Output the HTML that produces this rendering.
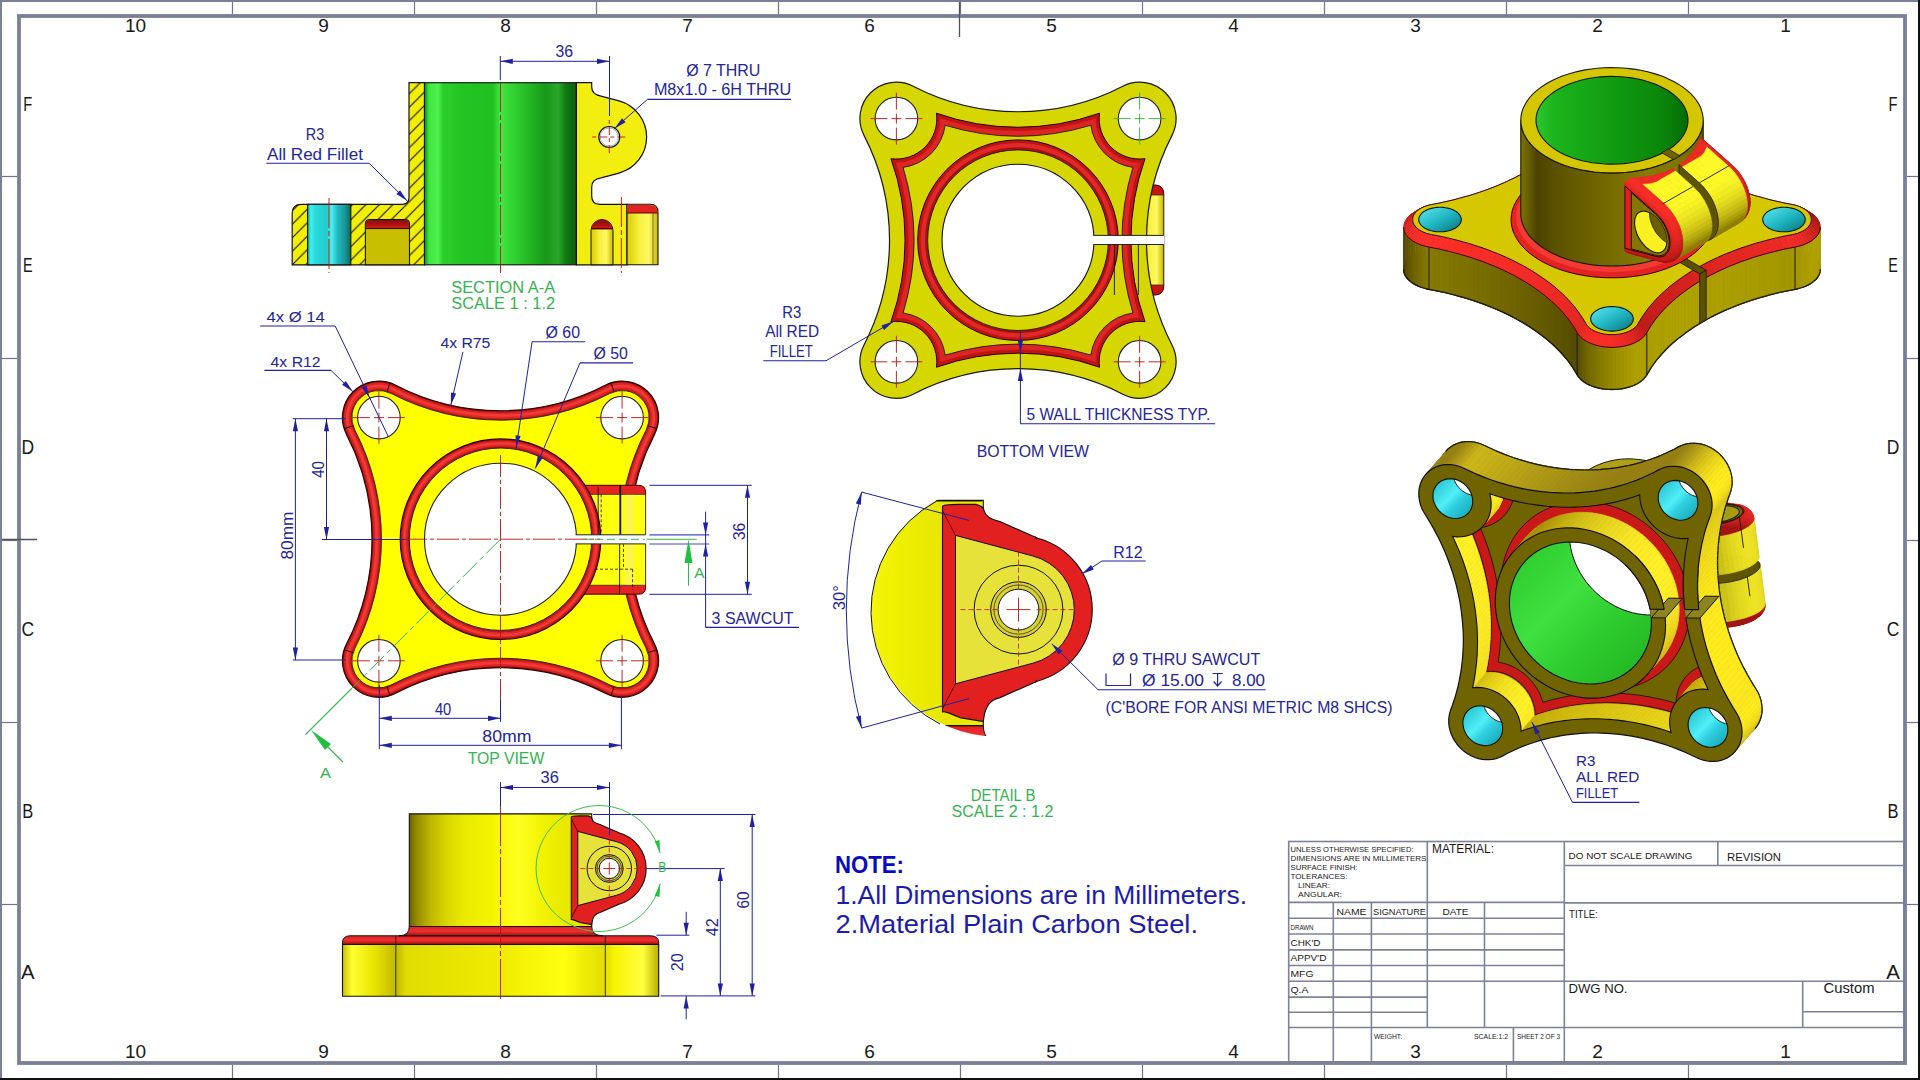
<!DOCTYPE html>
<html><head><meta charset="utf-8"><style>
html,body{margin:0;padding:0;background:#fff;}
svg{display:block;}
text{font-family:"Liberation Sans", sans-serif;}
</style></head><body>
<svg width="1920" height="1080" viewBox="0 0 1920 1080">
<rect width="1920" height="1080" fill="#fff"/>
<rect x="1288.7" y="841.5" width="615.3" height="220.5" fill="#fff" stroke="#7d8299" stroke-width="1.6"/>
<line x1="1427.3" y1="841.5" x2="1427.3" y2="1027.5" stroke="#7d8299" stroke-width="1.6" />
<line x1="1564.3" y1="841.5" x2="1564.3" y2="1062.0" stroke="#7d8299" stroke-width="1.6" />
<line x1="1333.3" y1="902.4" x2="1333.3" y2="1062.0" stroke="#7d8299" stroke-width="1.6" />
<line x1="1371.4" y1="902.4" x2="1371.4" y2="1062.0" stroke="#7d8299" stroke-width="1.6" />
<line x1="1484.5" y1="902.4" x2="1484.5" y2="1027.5" stroke="#7d8299" stroke-width="1.6" />
<line x1="1513.4" y1="1027.5" x2="1513.4" y2="1062.0" stroke="#7d8299" stroke-width="1.6" />
<line x1="1717.8" y1="841.5" x2="1717.8" y2="865.5" stroke="#7d8299" stroke-width="1.6" />
<line x1="1802.7" y1="981.3" x2="1802.7" y2="1027.5" stroke="#7d8299" stroke-width="1.6" />
<line x1="1288.7" y1="902.4" x2="1564.3" y2="902.4" stroke="#7d8299" stroke-width="1.6" />
<line x1="1288.7" y1="918.3" x2="1564.3" y2="918.3" stroke="#7d8299" stroke-width="1.6" />
<line x1="1288.7" y1="934.0" x2="1564.3" y2="934.0" stroke="#7d8299" stroke-width="1.6" />
<line x1="1288.7" y1="949.9" x2="1564.3" y2="949.9" stroke="#7d8299" stroke-width="1.6" />
<line x1="1288.7" y1="965.5" x2="1564.3" y2="965.5" stroke="#7d8299" stroke-width="1.6" />
<line x1="1288.7" y1="981.2" x2="1564.3" y2="981.2" stroke="#7d8299" stroke-width="1.6" />
<line x1="1288.7" y1="997.1" x2="1427.3" y2="997.1" stroke="#7d8299" stroke-width="1.6" />
<line x1="1288.7" y1="1012.3" x2="1427.3" y2="1012.3" stroke="#7d8299" stroke-width="1.6" />
<line x1="1288.7" y1="1027.5" x2="1904.0" y2="1027.5" stroke="#7d8299" stroke-width="1.6" />
<line x1="1564.3" y1="865.5" x2="1904.0" y2="865.5" stroke="#7d8299" stroke-width="1.6" />
<line x1="1564.3" y1="902.9" x2="1904.0" y2="902.9" stroke="#7d8299" stroke-width="1.6" />
<line x1="1564.3" y1="981.3" x2="1904.0" y2="981.3" stroke="#7d8299" stroke-width="1.6" />
<line x1="1802.7" y1="1011.7" x2="1904.0" y2="1011.7" stroke="#7d8299" stroke-width="1.6" />
<text x="1290.5" y="852.3" font-size="7.6" fill="#1a1a1a" text-anchor="start" font-weight="normal" font-family="Liberation Sans, sans-serif" textLength="123" lengthAdjust="spacingAndGlyphs" >UNLESS OTHERWISE SPECIFIED:</text>
<text x="1290.5" y="861.3" font-size="7.6" fill="#1a1a1a" text-anchor="start" font-weight="normal" font-family="Liberation Sans, sans-serif" textLength="136" lengthAdjust="spacingAndGlyphs" >DIMENSIONS ARE IN MILLIMETERS</text>
<text x="1290.5" y="870.3" font-size="7.6" fill="#1a1a1a" text-anchor="start" font-weight="normal" font-family="Liberation Sans, sans-serif" textLength="67" lengthAdjust="spacingAndGlyphs" >SURFACE FINISH:</text>
<text x="1290.5" y="879.3" font-size="7.6" fill="#1a1a1a" text-anchor="start" font-weight="normal" font-family="Liberation Sans, sans-serif" textLength="57" lengthAdjust="spacingAndGlyphs" >TOLERANCES:</text>
<text x="1298.0" y="888.3" font-size="7.6" fill="#1a1a1a" text-anchor="start" font-weight="normal" font-family="Liberation Sans, sans-serif" textLength="32" lengthAdjust="spacingAndGlyphs" >LINEAR:</text>
<text x="1298.0" y="897.3" font-size="7.6" fill="#1a1a1a" text-anchor="start" font-weight="normal" font-family="Liberation Sans, sans-serif" textLength="44" lengthAdjust="spacingAndGlyphs" >ANGULAR:</text>
<text x="1432.0" y="852.5" font-size="12.5" fill="#1a1a1a" text-anchor="start" font-weight="normal" font-family="Liberation Sans, sans-serif" textLength="62" lengthAdjust="spacingAndGlyphs" >MATERIAL:</text>
<text x="1336.5" y="915.2" font-size="9.5" fill="#1a1a1a" text-anchor="start" font-weight="normal" font-family="Liberation Sans, sans-serif" textLength="30" lengthAdjust="spacingAndGlyphs" >NAME</text>
<text x="1373.0" y="915.2" font-size="9.5" fill="#1a1a1a" text-anchor="start" font-weight="normal" font-family="Liberation Sans, sans-serif" textLength="53" lengthAdjust="spacingAndGlyphs" >SIGNATURE</text>
<text x="1442.5" y="915.2" font-size="9.5" fill="#1a1a1a" text-anchor="start" font-weight="normal" font-family="Liberation Sans, sans-serif" textLength="26" lengthAdjust="spacingAndGlyphs" >DATE</text>
<text x="1290.5" y="929.5" font-size="7.5" fill="#1a1a1a" text-anchor="start" font-weight="normal" font-family="Liberation Sans, sans-serif" textLength="23" lengthAdjust="spacingAndGlyphs" >DRAWN</text>
<text x="1290.5" y="945.5" font-size="9.5" fill="#1a1a1a" text-anchor="start" font-weight="normal" font-family="Liberation Sans, sans-serif" textLength="30" lengthAdjust="spacingAndGlyphs" >CHK'D</text>
<text x="1290.5" y="961.0" font-size="9.5" fill="#1a1a1a" text-anchor="start" font-weight="normal" font-family="Liberation Sans, sans-serif" textLength="36" lengthAdjust="spacingAndGlyphs" >APPV'D</text>
<text x="1290.5" y="976.8" font-size="9.5" fill="#1a1a1a" text-anchor="start" font-weight="normal" font-family="Liberation Sans, sans-serif" textLength="23" lengthAdjust="spacingAndGlyphs" >MFG</text>
<text x="1290.5" y="992.5" font-size="9.5" fill="#1a1a1a" text-anchor="start" font-weight="normal" font-family="Liberation Sans, sans-serif" textLength="18" lengthAdjust="spacingAndGlyphs" >Q.A</text>
<text x="1374.0" y="1038.5" font-size="7.5" fill="#1a1a1a" text-anchor="start" font-weight="normal" font-family="Liberation Sans, sans-serif" textLength="28" lengthAdjust="spacingAndGlyphs" >WEIGHT:</text>
<text x="1474.0" y="1038.5" font-size="7.5" fill="#1a1a1a" text-anchor="start" font-weight="normal" font-family="Liberation Sans, sans-serif" textLength="34" lengthAdjust="spacingAndGlyphs" >SCALE:1:2</text>
<text x="1517.0" y="1038.5" font-size="7.5" fill="#1a1a1a" text-anchor="start" font-weight="normal" font-family="Liberation Sans, sans-serif" textLength="43" lengthAdjust="spacingAndGlyphs" >SHEET 2 OF 3</text>
<text x="1568.5" y="859.0" font-size="9.3" fill="#1a1a1a" text-anchor="start" font-weight="normal" font-family="Liberation Sans, sans-serif" textLength="124" lengthAdjust="spacingAndGlyphs" >DO NOT SCALE DRAWING</text>
<text x="1727.0" y="861.0" font-size="11" fill="#1a1a1a" text-anchor="start" font-weight="normal" font-family="Liberation Sans, sans-serif" textLength="54" lengthAdjust="spacingAndGlyphs" >REVISION</text>
<text x="1569.0" y="917.5" font-size="11.5" fill="#1a1a1a" text-anchor="start" font-weight="normal" font-family="Liberation Sans, sans-serif" textLength="29" lengthAdjust="spacingAndGlyphs" >TITLE:</text>
<text x="1568.5" y="993.0" font-size="12.5" fill="#1a1a1a" text-anchor="start" font-weight="normal" font-family="Liberation Sans, sans-serif" textLength="59" lengthAdjust="spacingAndGlyphs" >DWG NO.</text>
<text x="1823.5" y="993.0" font-size="14.5" fill="#1a1a1a" text-anchor="start" font-weight="normal" font-family="Liberation Sans, sans-serif" textLength="51" lengthAdjust="spacingAndGlyphs" >Custom</text>
<rect x="0" y="0" width="1920" height="2" fill="#7a8096"/>
<rect x="0" y="0" width="2" height="1080" fill="#7a8096"/>
<rect x="1918" y="0" width="2" height="1080" fill="#111"/>
<rect x="0" y="1078" width="1920" height="2" fill="#111"/>
<rect x="19" y="16" width="1886" height="1047" fill="none" stroke="#7a8096" stroke-width="3.8"/>
<line x1="232.5" y1="2.0" x2="232.5" y2="14.0" stroke="#707488" stroke-width="1.2" />
<line x1="232.5" y1="1065.0" x2="232.5" y2="1078.0" stroke="#707488" stroke-width="1.2" />
<line x1="414.5" y1="2.0" x2="414.5" y2="14.0" stroke="#707488" stroke-width="1.2" />
<line x1="414.5" y1="1065.0" x2="414.5" y2="1078.0" stroke="#707488" stroke-width="1.2" />
<line x1="596.5" y1="2.0" x2="596.5" y2="14.0" stroke="#707488" stroke-width="1.2" />
<line x1="596.5" y1="1065.0" x2="596.5" y2="1078.0" stroke="#707488" stroke-width="1.2" />
<line x1="778.5" y1="2.0" x2="778.5" y2="14.0" stroke="#707488" stroke-width="1.2" />
<line x1="778.5" y1="1065.0" x2="778.5" y2="1078.0" stroke="#707488" stroke-width="1.2" />
<line x1="960.5" y1="2.0" x2="960.5" y2="14.0" stroke="#707488" stroke-width="1.2" />
<line x1="960.5" y1="1065.0" x2="960.5" y2="1078.0" stroke="#707488" stroke-width="1.2" />
<line x1="1142.5" y1="2.0" x2="1142.5" y2="14.0" stroke="#707488" stroke-width="1.2" />
<line x1="1142.5" y1="1065.0" x2="1142.5" y2="1078.0" stroke="#707488" stroke-width="1.2" />
<line x1="1324.5" y1="2.0" x2="1324.5" y2="14.0" stroke="#707488" stroke-width="1.2" />
<line x1="1324.5" y1="1065.0" x2="1324.5" y2="1078.0" stroke="#707488" stroke-width="1.2" />
<line x1="1506.5" y1="2.0" x2="1506.5" y2="14.0" stroke="#707488" stroke-width="1.2" />
<line x1="1506.5" y1="1065.0" x2="1506.5" y2="1078.0" stroke="#707488" stroke-width="1.2" />
<line x1="1688.5" y1="2.0" x2="1688.5" y2="14.0" stroke="#707488" stroke-width="1.2" />
<line x1="1688.5" y1="1065.0" x2="1688.5" y2="1078.0" stroke="#707488" stroke-width="1.2" />
<line x1="2.0" y1="176.5" x2="17.0" y2="176.5" stroke="#707488" stroke-width="1.2" />
<line x1="1907.0" y1="176.5" x2="1918.0" y2="176.5" stroke="#707488" stroke-width="1.2" />
<line x1="2.0" y1="358.5" x2="17.0" y2="358.5" stroke="#707488" stroke-width="1.2" />
<line x1="1907.0" y1="358.5" x2="1918.0" y2="358.5" stroke="#707488" stroke-width="1.2" />
<line x1="2.0" y1="540.5" x2="17.0" y2="540.5" stroke="#707488" stroke-width="1.2" />
<line x1="1907.0" y1="540.5" x2="1918.0" y2="540.5" stroke="#707488" stroke-width="1.2" />
<line x1="2.0" y1="722.5" x2="17.0" y2="722.5" stroke="#707488" stroke-width="1.2" />
<line x1="1907.0" y1="722.5" x2="1918.0" y2="722.5" stroke="#707488" stroke-width="1.2" />
<line x1="2.0" y1="904.5" x2="17.0" y2="904.5" stroke="#707488" stroke-width="1.2" />
<line x1="1907.0" y1="904.5" x2="1918.0" y2="904.5" stroke="#707488" stroke-width="1.2" />
<line x1="959.5" y1="2.0" x2="959.5" y2="37.0" stroke="#505260" stroke-width="1.3" />
<line x1="2.0" y1="539.5" x2="37.0" y2="539.5" stroke="#505260" stroke-width="1.3" />
<text x="135.5" y="32.0" font-size="19" fill="#1a1a1a" text-anchor="middle" font-weight="normal" font-family="Liberation Sans, sans-serif" >10</text>
<text x="135.5" y="1057.8" font-size="19" fill="#1a1a1a" text-anchor="middle" font-weight="normal" font-family="Liberation Sans, sans-serif" >10</text>
<text x="323.5" y="32.0" font-size="19" fill="#1a1a1a" text-anchor="middle" font-weight="normal" font-family="Liberation Sans, sans-serif" >9</text>
<text x="323.5" y="1057.8" font-size="19" fill="#1a1a1a" text-anchor="middle" font-weight="normal" font-family="Liberation Sans, sans-serif" >9</text>
<text x="505.5" y="32.0" font-size="19" fill="#1a1a1a" text-anchor="middle" font-weight="normal" font-family="Liberation Sans, sans-serif" >8</text>
<text x="505.5" y="1057.8" font-size="19" fill="#1a1a1a" text-anchor="middle" font-weight="normal" font-family="Liberation Sans, sans-serif" >8</text>
<text x="687.5" y="32.0" font-size="19" fill="#1a1a1a" text-anchor="middle" font-weight="normal" font-family="Liberation Sans, sans-serif" >7</text>
<text x="687.5" y="1057.8" font-size="19" fill="#1a1a1a" text-anchor="middle" font-weight="normal" font-family="Liberation Sans, sans-serif" >7</text>
<text x="869.5" y="32.0" font-size="19" fill="#1a1a1a" text-anchor="middle" font-weight="normal" font-family="Liberation Sans, sans-serif" >6</text>
<text x="869.5" y="1057.8" font-size="19" fill="#1a1a1a" text-anchor="middle" font-weight="normal" font-family="Liberation Sans, sans-serif" >6</text>
<text x="1051.5" y="32.0" font-size="19" fill="#1a1a1a" text-anchor="middle" font-weight="normal" font-family="Liberation Sans, sans-serif" >5</text>
<text x="1051.5" y="1057.8" font-size="19" fill="#1a1a1a" text-anchor="middle" font-weight="normal" font-family="Liberation Sans, sans-serif" >5</text>
<text x="1233.5" y="32.0" font-size="19" fill="#1a1a1a" text-anchor="middle" font-weight="normal" font-family="Liberation Sans, sans-serif" >4</text>
<text x="1233.5" y="1057.8" font-size="19" fill="#1a1a1a" text-anchor="middle" font-weight="normal" font-family="Liberation Sans, sans-serif" >4</text>
<text x="1415.5" y="32.0" font-size="19" fill="#1a1a1a" text-anchor="middle" font-weight="normal" font-family="Liberation Sans, sans-serif" >3</text>
<text x="1415.5" y="1057.8" font-size="19" fill="#1a1a1a" text-anchor="middle" font-weight="normal" font-family="Liberation Sans, sans-serif" >3</text>
<text x="1597.5" y="32.0" font-size="19" fill="#1a1a1a" text-anchor="middle" font-weight="normal" font-family="Liberation Sans, sans-serif" >2</text>
<text x="1597.5" y="1057.8" font-size="19" fill="#1a1a1a" text-anchor="middle" font-weight="normal" font-family="Liberation Sans, sans-serif" >2</text>
<text x="1785.5" y="32.0" font-size="19" fill="#1a1a1a" text-anchor="middle" font-weight="normal" font-family="Liberation Sans, sans-serif" >1</text>
<text x="1785.5" y="1057.8" font-size="19" fill="#1a1a1a" text-anchor="middle" font-weight="normal" font-family="Liberation Sans, sans-serif" >1</text>
<text x="27.7" y="110.5" font-size="19.5" fill="#1a1a1a" text-anchor="middle" font-weight="normal" font-family="Liberation Sans, sans-serif" textLength="9.0" lengthAdjust="spacingAndGlyphs" >F</text>
<text x="1893.1" y="110.5" font-size="19.5" fill="#1a1a1a" text-anchor="middle" font-weight="normal" font-family="Liberation Sans, sans-serif" textLength="9.0" lengthAdjust="spacingAndGlyphs" >F</text>
<text x="27.7" y="271.6" font-size="19.5" fill="#1a1a1a" text-anchor="middle" font-weight="normal" font-family="Liberation Sans, sans-serif" textLength="9.6" lengthAdjust="spacingAndGlyphs" >E</text>
<text x="1893.1" y="271.6" font-size="19.5" fill="#1a1a1a" text-anchor="middle" font-weight="normal" font-family="Liberation Sans, sans-serif" textLength="9.6" lengthAdjust="spacingAndGlyphs" >E</text>
<text x="27.7" y="453.5" font-size="19.5" fill="#1a1a1a" text-anchor="middle" font-weight="normal" font-family="Liberation Sans, sans-serif" textLength="12.6" lengthAdjust="spacingAndGlyphs" >D</text>
<text x="1893.1" y="453.5" font-size="19.5" fill="#1a1a1a" text-anchor="middle" font-weight="normal" font-family="Liberation Sans, sans-serif" textLength="12.6" lengthAdjust="spacingAndGlyphs" >D</text>
<text x="27.7" y="635.5" font-size="19.5" fill="#1a1a1a" text-anchor="middle" font-weight="normal" font-family="Liberation Sans, sans-serif" textLength="12.6" lengthAdjust="spacingAndGlyphs" >C</text>
<text x="1893.1" y="635.5" font-size="19.5" fill="#1a1a1a" text-anchor="middle" font-weight="normal" font-family="Liberation Sans, sans-serif" textLength="12.6" lengthAdjust="spacingAndGlyphs" >C</text>
<text x="27.7" y="817.5" font-size="19.5" fill="#1a1a1a" text-anchor="middle" font-weight="normal" font-family="Liberation Sans, sans-serif" textLength="11.0" lengthAdjust="spacingAndGlyphs" >B</text>
<text x="1893.1" y="817.5" font-size="19.5" fill="#1a1a1a" text-anchor="middle" font-weight="normal" font-family="Liberation Sans, sans-serif" textLength="11.0" lengthAdjust="spacingAndGlyphs" >B</text>
<text x="27.7" y="978.5" font-size="19.5" fill="#1a1a1a" text-anchor="middle" font-weight="normal" font-family="Liberation Sans, sans-serif" textLength="13.6" lengthAdjust="spacingAndGlyphs" >A</text>
<text x="1893.1" y="978.5" font-size="19.5" fill="#1a1a1a" text-anchor="middle" font-weight="normal" font-family="Liberation Sans, sans-serif" textLength="13.6" lengthAdjust="spacingAndGlyphs" >A</text>
<text x="835.0" y="873.0" font-size="24" fill="#0a0ac0" text-anchor="start" font-weight="bold" font-family="Liberation Sans, sans-serif" textLength="69" lengthAdjust="spacingAndGlyphs" >NOTE:</text>
<text x="835.5" y="903.8" font-size="25.8" fill="#1c1cb0" text-anchor="start" font-weight="normal" font-family="Liberation Sans, sans-serif" textLength="411.5" lengthAdjust="spacingAndGlyphs" >1.All Dimensions are in Millimeters.</text>
<text x="835.5" y="932.6" font-size="25.8" fill="#1c1cb0" text-anchor="start" font-weight="normal" font-family="Liberation Sans, sans-serif" textLength="362.5" lengthAdjust="spacingAndGlyphs" >2.Material Plain Carbon Steel.</text>
<defs>
<linearGradient id="gCyan" x1="0" x2="1" y1="0" y2="0">
 <stop offset="0" stop-color="#1fa8a8"/><stop offset="0.08" stop-color="#40f0f0"/><stop offset="0.18" stop-color="#2adada"/>
 <stop offset="0.45" stop-color="#20cccc"/><stop offset="0.55" stop-color="#50f0f0"/><stop offset="0.7" stop-color="#20b8c0"/>
 <stop offset="0.85" stop-color="#1a9a9a"/><stop offset="1" stop-color="#0e6868"/></linearGradient>
<linearGradient id="gGreen" x1="0" x2="1" y1="0" y2="0">
 <stop offset="0" stop-color="#10900e"/><stop offset="0.03" stop-color="#40e840"/><stop offset="0.09" stop-color="#50f050"/>
 <stop offset="0.12" stop-color="#2cd02c"/><stop offset="0.25" stop-color="#22c422"/><stop offset="0.45" stop-color="#20c020"/>
 <stop offset="0.5" stop-color="#44e844"/><stop offset="0.56" stop-color="#34d834"/><stop offset="0.7" stop-color="#22b422"/>
 <stop offset="0.8" stop-color="#189818"/><stop offset="0.88" stop-color="#2aa82a"/><stop offset="0.93" stop-color="#127812"/><stop offset="1" stop-color="#0c600c"/></linearGradient>
<linearGradient id="gPocket" x1="0" x2="1" y1="0" y2="0">
 <stop offset="0" stop-color="#c8c000"/><stop offset="1" stop-color="#d0c410"/></linearGradient>
<linearGradient id="gRedTop" x1="0" x2="0" y1="0" y2="1">
 <stop offset="0" stop-color="#801010"/><stop offset="0.5" stop-color="#b01010"/><stop offset="1" stop-color="#d02020"/></linearGradient>
<linearGradient id="gTubeF" x1="0" x2="1" y1="0" y2="0">
 <stop offset="0" stop-color="#6c6000"/><stop offset="0.04" stop-color="#948a00"/><stop offset="0.12" stop-color="#c0b800"/>
 <stop offset="0.2" stop-color="#d8d400"/><stop offset="0.3" stop-color="#eaea00"/><stop offset="0.45" stop-color="#f4f400"/>
 <stop offset="0.6" stop-color="#ffff20"/><stop offset="0.75" stop-color="#f0f000"/><stop offset="0.9" stop-color="#e6e600"/><stop offset="1" stop-color="#eeee00"/></linearGradient>
<linearGradient id="gFlangeF" x1="0" x2="1" y1="0" y2="0">
 <stop offset="0" stop-color="#c8c000"/><stop offset="0.03" stop-color="#ffff30"/><stop offset="0.1" stop-color="#e8e400"/>
 <stop offset="0.17" stop-color="#c0b800"/><stop offset="0.2" stop-color="#e0dc00"/><stop offset="0.5" stop-color="#f0ec00"/>
 <stop offset="0.7" stop-color="#ffff10"/><stop offset="0.83" stop-color="#e0dc00"/><stop offset="0.86" stop-color="#f8f400"/><stop offset="0.95" stop-color="#ffff40"/><stop offset="1" stop-color="#b8b000"/></linearGradient>
<linearGradient id="gLugSide" x1="0" x2="1" y1="0" y2="0">
 <stop offset="0" stop-color="#d8cc00"/><stop offset="0.4" stop-color="#f8f040"/><stop offset="0.7" stop-color="#fff860"/><stop offset="1" stop-color="#c8b800"/></linearGradient>
<linearGradient id="gRedV" x1="0" x2="0" y1="0" y2="1">
 <stop offset="0" stop-color="#e02020"/><stop offset="0.5" stop-color="#f03030"/><stop offset="1" stop-color="#a01010"/></linearGradient>
</defs>
<path d="M395.67,385.20 A228.00,228.00 0 0 0 605.33,385.20 A36.48,36.48 0 0 1 654.50,434.37 L654.50,434.37 A228.00,228.00 0 0 0 654.50,644.03 A36.48,36.48 0 0 1 605.33,693.20 L605.33,693.20 A228.00,228.00 0 0 0 395.67,693.20 A36.48,36.48 0 0 1 346.50,644.03 L346.50,644.03 A228.00,228.00 0 0 0 346.50,434.37 A36.48,36.48 0 0 1 395.67,385.20 Z" fill="#a81010" stroke="#2a0000" stroke-width="1.2"/>
<path d="M394.97,386.55 A229.52,229.52 0 0 0 606.03,386.55 A34.96,34.96 0 0 1 653.15,433.67 L653.15,433.67 A229.52,229.52 0 0 0 653.15,644.73 A34.96,34.96 0 0 1 606.03,691.85 L606.03,691.85 A229.52,229.52 0 0 0 394.97,691.85 A34.96,34.96 0 0 1 347.85,644.73 L347.85,644.73 A229.52,229.52 0 0 0 347.85,433.67 A34.96,34.96 0 0 1 394.97,386.55 Z" fill="#d82222"/>
<path d="M394.13,388.17 A231.34,231.34 0 0 0 606.87,388.17 A33.14,33.14 0 0 1 651.53,432.83 L651.53,432.83 A231.34,231.34 0 0 0 651.53,645.57 A33.14,33.14 0 0 1 606.87,690.23 L606.87,690.23 A231.34,231.34 0 0 0 394.13,690.23 A33.14,33.14 0 0 1 349.47,645.57 L349.47,645.57 A231.34,231.34 0 0 0 349.47,432.83 A33.14,33.14 0 0 1 394.13,388.17 Z" fill="#f03a36"/>
<path d="M392.88,390.60 A234.08,234.08 0 0 0 608.12,390.60 A30.40,30.40 0 0 1 649.10,431.58 L649.10,431.58 A234.08,234.08 0 0 0 649.10,646.82 A30.40,30.40 0 0 1 608.12,687.80 L608.12,687.80 A234.08,234.08 0 0 0 392.88,687.80 A30.40,30.40 0 0 1 351.90,646.82 L351.90,646.82 A234.08,234.08 0 0 0 351.90,431.58 A30.40,30.40 0 0 1 392.88,390.60 Z" fill="#e02626"/>
<path d="M392.04,392.22 A235.90,235.90 0 0 0 608.96,392.22 A28.58,28.58 0 0 1 647.48,430.74 L647.48,430.74 A235.90,235.90 0 0 0 647.48,647.66 A28.58,28.58 0 0 1 608.96,686.18 L608.96,686.18 A235.90,235.90 0 0 0 392.04,686.18 A28.58,28.58 0 0 1 353.52,647.66 L353.52,647.66 A235.90,235.90 0 0 0 353.52,430.74 A28.58,28.58 0 0 1 392.04,392.22 Z" fill="#b81414"/>
<path d="M391.34,393.57 A237.42,237.42 0 0 0 609.66,393.57 A27.06,27.06 0 0 1 646.13,430.04 L646.13,430.04 A237.42,237.42 0 0 0 646.13,648.36 A27.06,27.06 0 0 1 609.66,684.83 L609.66,684.83 A237.42,237.42 0 0 0 391.34,684.83 A27.06,27.06 0 0 1 354.87,648.36 L354.87,648.36 A237.42,237.42 0 0 0 354.87,430.04 A27.06,27.06 0 0 1 391.34,393.57 Z" fill="#ffff00" stroke="#2a2000" stroke-width="0.9"/>
<line x1="656.9" y1="649.8" x2="647.9" y2="652.6" stroke="#2a0000" stroke-width="1"/>
<line x1="611.1" y1="695.6" x2="613.9" y2="686.6" stroke="#2a0000" stroke-width="1"/>
<line x1="389.9" y1="695.6" x2="387.1" y2="686.6" stroke="#2a0000" stroke-width="1"/>
<line x1="344.1" y1="649.8" x2="353.1" y2="652.6" stroke="#2a0000" stroke-width="1"/>
<line x1="344.1" y1="428.6" x2="353.1" y2="425.8" stroke="#2a0000" stroke-width="1"/>
<line x1="389.9" y1="382.8" x2="387.1" y2="391.8" stroke="#2a0000" stroke-width="1"/>
<line x1="611.1" y1="382.8" x2="613.9" y2="391.8" stroke="#2a0000" stroke-width="1"/>
<line x1="656.9" y1="428.6" x2="647.9" y2="425.8" stroke="#2a0000" stroke-width="1"/>
<circle cx="378.9" cy="417.6" r="21.3" fill="#fff" stroke="#222" stroke-width="1.1"/>
<circle cx="378.9" cy="660.8" r="21.3" fill="#fff" stroke="#222" stroke-width="1.1"/>
<circle cx="622.1" cy="417.6" r="21.3" fill="#fff" stroke="#222" stroke-width="1.1"/>
<circle cx="622.1" cy="660.8" r="21.3" fill="#fff" stroke="#222" stroke-width="1.1"/>
<path d="M570.0,485.3 L638.6,485.3 Q645.6,485.3 645.6,492.3 L645.6,587.2 Q645.6,594.2 638.6,594.2 L570.0,594.2 Z" fill="#e42424" stroke="#3a0000" stroke-width="1"/>
<rect x="570.0" y="494.3" width="75.60000000000002" height="90.90000000000003" fill="#ffff10" stroke="#3a3000" stroke-width="0.8"/>
<rect x="625.0" y="494.8" width="9" height="89.90000000000003" fill="#f8f070" opacity="0.6"/>
<circle cx="500.5" cy="539.2" r="100.3" fill="#a81010" stroke="#2a0000" stroke-width="1.1"/>
<circle cx="500.5" cy="539.2" r="98.8" fill="#d82222"/>
<circle cx="500.5" cy="539.2" r="97.3" fill="#f03a36"/>
<circle cx="500.5" cy="539.2" r="94.8" fill="#e02626"/>
<circle cx="500.5" cy="539.2" r="93.0" fill="#b81414"/>
<circle cx="500.5" cy="539.2" r="91.2" fill="#ffff00" stroke="#222" stroke-width="1"/>
<circle cx="500.5" cy="539.2" r="76.0" fill="#fff" stroke="#222" stroke-width="1.1"/>
<line x1="598.2" y1="487.3" x2="598.2" y2="534.8" stroke="#111" stroke-width="0.9" />
<line x1="601.2" y1="494.3" x2="601.2" y2="534.8" stroke="#111" stroke-width="0.8" stroke-dasharray="3,2" />
<line x1="620.3" y1="485.3" x2="620.3" y2="534.8" stroke="#111" stroke-width="1.8" />
<line x1="619.6" y1="543.9" x2="619.6" y2="594.2" stroke="#111" stroke-width="0.9" />
<line x1="623.5" y1="543.9" x2="623.5" y2="569.2" stroke="#111" stroke-width="0.8" stroke-dasharray="3,2" />
<line x1="595.0" y1="569.2" x2="632.6" y2="569.2" stroke="#111" stroke-width="0.8" stroke-dasharray="3,2" />
<line x1="632.6" y1="569.2" x2="632.6" y2="590.0" stroke="#111" stroke-width="0.8" stroke-dasharray="3,2" />
<rect x="573.5" y="534.8" width="72.6" height="9.1" fill="#fff"/>
<line x1="575.6" y1="534.8" x2="645.6" y2="534.8" stroke="#222" stroke-width="1" />
<line x1="575.6" y1="543.9" x2="645.6" y2="543.9" stroke="#222" stroke-width="1" />
<line x1="500.5" y1="455.0" x2="500.5" y2="720.0" stroke="#c01010" stroke-width="0.9" stroke-dasharray="22,3,4,3" />
<line x1="405.0" y1="539.2" x2="600.0" y2="539.2" stroke="#c01010" stroke-width="0.9" stroke-dasharray="22,3,4,3" />
<line x1="373.9" y1="417.6" x2="383.9" y2="417.6" stroke="#c01010" stroke-width="0.9" />
<line x1="378.9" y1="412.6" x2="378.9" y2="422.6" stroke="#c01010" stroke-width="0.9" />
<line x1="369.9" y1="417.6" x2="349.9" y2="417.6" stroke="#c01010" stroke-width="0.9" stroke-dasharray="17,3" />
<line x1="378.9" y1="408.6" x2="378.9" y2="388.6" stroke="#c01010" stroke-width="0.9" stroke-dasharray="17,3" />
<line x1="387.9" y1="417.6" x2="407.9" y2="417.6" stroke="#c01010" stroke-width="0.9" stroke-dasharray="17,3" />
<line x1="378.9" y1="426.6" x2="378.9" y2="446.6" stroke="#c01010" stroke-width="0.9" stroke-dasharray="17,3" />
<line x1="373.9" y1="660.8" x2="383.9" y2="660.8" stroke="#c01010" stroke-width="0.9" />
<line x1="378.9" y1="655.8" x2="378.9" y2="665.8" stroke="#c01010" stroke-width="0.9" />
<line x1="369.9" y1="660.8" x2="349.9" y2="660.8" stroke="#c01010" stroke-width="0.9" stroke-dasharray="17,3" />
<line x1="378.9" y1="651.8" x2="378.9" y2="631.8" stroke="#c01010" stroke-width="0.9" stroke-dasharray="17,3" />
<line x1="387.9" y1="660.8" x2="407.9" y2="660.8" stroke="#c01010" stroke-width="0.9" stroke-dasharray="17,3" />
<line x1="378.9" y1="669.8" x2="378.9" y2="689.8" stroke="#c01010" stroke-width="0.9" stroke-dasharray="17,3" />
<line x1="617.1" y1="417.6" x2="627.1" y2="417.6" stroke="#c01010" stroke-width="0.9" />
<line x1="622.1" y1="412.6" x2="622.1" y2="422.6" stroke="#c01010" stroke-width="0.9" />
<line x1="613.1" y1="417.6" x2="593.1" y2="417.6" stroke="#c01010" stroke-width="0.9" stroke-dasharray="17,3" />
<line x1="622.1" y1="408.6" x2="622.1" y2="388.6" stroke="#c01010" stroke-width="0.9" stroke-dasharray="17,3" />
<line x1="631.1" y1="417.6" x2="651.1" y2="417.6" stroke="#c01010" stroke-width="0.9" stroke-dasharray="17,3" />
<line x1="622.1" y1="426.6" x2="622.1" y2="446.6" stroke="#c01010" stroke-width="0.9" stroke-dasharray="17,3" />
<line x1="617.1" y1="660.8" x2="627.1" y2="660.8" stroke="#c01010" stroke-width="0.9" />
<line x1="622.1" y1="655.8" x2="622.1" y2="665.8" stroke="#c01010" stroke-width="0.9" />
<line x1="613.1" y1="660.8" x2="593.1" y2="660.8" stroke="#c01010" stroke-width="0.9" stroke-dasharray="17,3" />
<line x1="622.1" y1="651.8" x2="622.1" y2="631.8" stroke="#c01010" stroke-width="0.9" stroke-dasharray="17,3" />
<line x1="631.1" y1="660.8" x2="651.1" y2="660.8" stroke="#c01010" stroke-width="0.9" stroke-dasharray="17,3" />
<line x1="622.1" y1="669.8" x2="622.1" y2="689.8" stroke="#c01010" stroke-width="0.9" stroke-dasharray="17,3" />
<rect x="1140" y="185" width="23.7" height="110" rx="8" fill="#c81414" stroke="#300" stroke-width="1"/>
<rect x="1140" y="195" width="23.7" height="90" fill="url(#gLugSide)" stroke="#330" stroke-width="0.8"/>
<path d="M913.17,86.20 A228.00,228.00 0 0 0 1122.83,86.20 A36.48,36.48 0 0 1 1172.00,135.37 L1172.00,135.37 A228.00,228.00 0 0 0 1172.00,345.03 A36.48,36.48 0 0 1 1122.83,394.20 L1122.83,394.20 A228.00,228.00 0 0 0 913.17,394.20 A36.48,36.48 0 0 1 864.00,345.03 L864.00,345.03 A228.00,228.00 0 0 0 864.00,135.37 A36.48,36.48 0 0 1 913.17,86.20 Z" fill="#d6d600" stroke="#1a1a00" stroke-width="1.2"/>
<path d="M936.47,113.18 A243.50,243.50 0 0 0 1099.53,113.18 A40.43,40.43 0 0 0 1145.02,158.67 L1145.02,158.67 A243.50,243.50 0 0 0 1145.02,321.73 A40.43,40.43 0 0 0 1099.53,367.22 L1099.53,367.22 A243.50,243.50 0 0 0 936.47,367.22 A40.43,40.43 0 0 0 890.98,321.73 L890.98,321.73 A243.50,243.50 0 0 0 890.98,158.67 A40.43,40.43 0 0 0 936.47,113.18 Z" fill="#c01414" stroke="#200" stroke-width="1"/>
<path d="M940.48,118.41 A247.15,247.15 0 0 0 1095.52,118.41 A44.08,44.08 0 0 0 1139.79,162.68 L1139.79,162.68 A247.15,247.15 0 0 0 1139.79,317.72 A44.08,44.08 0 0 0 1095.52,361.99 L1095.52,361.99 A247.15,247.15 0 0 0 940.48,361.99 A44.08,44.08 0 0 0 896.21,317.72 L896.21,317.72 A247.15,247.15 0 0 0 896.21,162.68 A44.08,44.08 0 0 0 940.48,118.41 Z" fill="#de2424"/>
<path d="M945.19,125.32 A252.32,252.32 0 0 0 1090.81,125.32 A49.25,49.25 0 0 0 1132.88,167.39 L1132.88,167.39 A252.32,252.32 0 0 0 1132.88,313.01 A49.25,49.25 0 0 0 1090.81,355.08 L1090.81,355.08 A252.32,252.32 0 0 0 945.19,355.08 A49.25,49.25 0 0 0 903.12,313.01 L903.12,313.01 A252.32,252.32 0 0 0 903.12,167.39 A49.25,49.25 0 0 0 945.19,125.32 Z" fill="#d6d600" stroke="#1a1a00" stroke-width="0.9"/>
<circle cx="1018.0" cy="240.2" r="100.3" fill="#c01414" stroke="#200" stroke-width="1"/>
<circle cx="1018.0" cy="240.2" r="97.3" fill="#e02828"/>
<circle cx="1018.0" cy="240.2" r="93.0" fill="#a81010"/>
<circle cx="1018.0" cy="240.2" r="90.3" fill="#d6d600" stroke="#1a1a00" stroke-width="0.9"/>
<circle cx="1018.0" cy="240.2" r="76.0" fill="#fff" stroke="#111" stroke-width="1.1"/>
<rect x="1091.0" y="235.4" width="73.0" height="9.1" fill="#fff"/>
<line x1="1093.4" y1="235.4" x2="1163.7" y2="235.4" stroke="#222" stroke-width="1" />
<line x1="1093.4" y1="244.5" x2="1163.7" y2="244.5" stroke="#222" stroke-width="1" />
<line x1="1114.4" y1="244.5" x2="1114.4" y2="295.0" stroke="#111" stroke-width="0.9" />
<line x1="1138.4" y1="244.5" x2="1138.4" y2="295.0" stroke="#111" stroke-width="0.9" />
<circle cx="896.4" cy="118.6" r="21.3" fill="#fff" stroke="#222" stroke-width="1.1"/>
<line x1="891.4" y1="118.6" x2="901.4" y2="118.6" stroke="#c01010" stroke-width="0.9" />
<line x1="896.4" y1="113.6" x2="896.4" y2="123.6" stroke="#c01010" stroke-width="0.9" />
<line x1="887.4" y1="118.6" x2="867.4" y2="118.6" stroke="#c01010" stroke-width="0.9" stroke-dasharray="17,3" />
<line x1="896.4" y1="109.6" x2="896.4" y2="89.6" stroke="#c01010" stroke-width="0.9" stroke-dasharray="17,3" />
<line x1="905.4" y1="118.6" x2="925.4" y2="118.6" stroke="#c01010" stroke-width="0.9" stroke-dasharray="17,3" />
<line x1="896.4" y1="127.6" x2="896.4" y2="147.6" stroke="#c01010" stroke-width="0.9" stroke-dasharray="17,3" />
<circle cx="896.4" cy="361.8" r="21.3" fill="#fff" stroke="#222" stroke-width="1.1"/>
<line x1="891.4" y1="361.8" x2="901.4" y2="361.8" stroke="#c01010" stroke-width="0.9" />
<line x1="896.4" y1="356.8" x2="896.4" y2="366.8" stroke="#c01010" stroke-width="0.9" />
<line x1="887.4" y1="361.8" x2="867.4" y2="361.8" stroke="#c01010" stroke-width="0.9" stroke-dasharray="17,3" />
<line x1="896.4" y1="352.8" x2="896.4" y2="332.8" stroke="#c01010" stroke-width="0.9" stroke-dasharray="17,3" />
<line x1="905.4" y1="361.8" x2="925.4" y2="361.8" stroke="#c01010" stroke-width="0.9" stroke-dasharray="17,3" />
<line x1="896.4" y1="370.8" x2="896.4" y2="390.8" stroke="#c01010" stroke-width="0.9" stroke-dasharray="17,3" />
<circle cx="1139.6" cy="118.6" r="21.3" fill="#fff" stroke="#222" stroke-width="1.1"/>
<line x1="1134.6" y1="118.6" x2="1144.6" y2="118.6" stroke="#30b030" stroke-width="0.9" />
<line x1="1139.6" y1="113.6" x2="1139.6" y2="123.6" stroke="#30b030" stroke-width="0.9" />
<line x1="1130.6" y1="118.6" x2="1110.6" y2="118.6" stroke="#30b030" stroke-width="0.9" stroke-dasharray="17,3" />
<line x1="1139.6" y1="109.6" x2="1139.6" y2="89.6" stroke="#30b030" stroke-width="0.9" stroke-dasharray="17,3" />
<line x1="1148.6" y1="118.6" x2="1168.6" y2="118.6" stroke="#30b030" stroke-width="0.9" stroke-dasharray="17,3" />
<line x1="1139.6" y1="127.6" x2="1139.6" y2="147.6" stroke="#30b030" stroke-width="0.9" stroke-dasharray="17,3" />
<circle cx="1139.6" cy="361.8" r="21.3" fill="#fff" stroke="#222" stroke-width="1.1"/>
<line x1="1134.6" y1="361.8" x2="1144.6" y2="361.8" stroke="#c01010" stroke-width="0.9" />
<line x1="1139.6" y1="356.8" x2="1139.6" y2="366.8" stroke="#c01010" stroke-width="0.9" />
<line x1="1130.6" y1="361.8" x2="1110.6" y2="361.8" stroke="#c01010" stroke-width="0.9" stroke-dasharray="17,3" />
<line x1="1139.6" y1="352.8" x2="1139.6" y2="332.8" stroke="#c01010" stroke-width="0.9" stroke-dasharray="17,3" />
<line x1="1148.6" y1="361.8" x2="1168.6" y2="361.8" stroke="#c01010" stroke-width="0.9" stroke-dasharray="17,3" />
<line x1="1139.6" y1="370.8" x2="1139.6" y2="390.8" stroke="#c01010" stroke-width="0.9" stroke-dasharray="17,3" />
<defs><pattern id="hatchA" patternUnits="userSpaceOnUse" width="13.5" height="13.5" patternTransform="translate(292,265)">
<rect width="13.5" height="13.5" fill="#f2f000"/>
<path d="M-1,14.5 L14.5,-1 M-3,3 L3,-3 M10.5,16.5 L16.5,10.5" stroke="#111" stroke-width="1.15"/></pattern></defs>
<path d="M292.2,264.8 L292.2,213.3 Q292.2,204.3 301.2,204.3 L402,204.3 Q409,204.3 409,197.3 L409,82.7 L424.5,82.7 L424.5,264.8 Z" fill="url(#hatchA)" stroke="#111" stroke-width="1.2"/>
<rect x="307.6" y="204.3" width="43.2" height="60.5" fill="url(#gCyan)" stroke="#111" stroke-width="1.1"/>
<path d="M365.4,264.8 L365.4,224 Q365.4,219.5 370,219.5 L405,219.5 Q409.5,219.5 409.5,224 L409.5,264.8 Z" fill="#c8bf00" stroke="#111" stroke-width="1.1"/>
<path d="M365.9,228.6 L365.9,224 Q365.9,220 370,220 L405,220 Q409,220 409,224 L409,228.6 Z" fill="url(#gRedTop)"/>
<line x1="365.4" y1="228.6" x2="409.5" y2="228.6" stroke="#300" stroke-width="1" />
<rect x="424.5" y="82.7" width="151.9" height="182.10000000000002" fill="url(#gGreen)" stroke="#111" stroke-width="1.1"/>
<path d="M576.4,82.7 L591.7,82.7 L591.7,87.05669255548457 Q591.7,94.55669255548457 601.0,96.05669255548457 L619.0,100.9 A37.4,37.4 0 0 1 619.0,173.1 L601.0,177.9 Q591.7,179.4 591.7,186.9 L591.7,196.3 Q591.7,204.3 600,204.3 L627,204.3 L627,264.8 L576.4,264.8 Z" fill="#f2ee10" stroke="#111" stroke-width="1.2"/>
<path d="M591,264.8 L591,230.5 A11,11 0 0 1 613,230.5 L613,264.8 Z" fill="url(#gLugSide)" stroke="#111" stroke-width="1"/>
<path d="M591.5,229.5 L591.5,230 A10.5,10.5 0 0 1 612.5,230 L612.5,229.5 Z" fill="url(#gRedTop)"/>
<line x1="591.0" y1="228.6" x2="613.0" y2="228.6" stroke="#300" stroke-width="1" />
<path d="M627,264.8 L627,204.3 L650,204.3 Q658,204.3 658,212.3 L658,264.8 Z" fill="url(#gLugSide)" stroke="#111" stroke-width="1.1"/>
<path d="M627.5,204.9 L650,204.9 Q657.4,204.9 657.4,212.3 L657.4,213 L627.5,213 Z" fill="#e42222"/>
<line x1="627.0" y1="213.0" x2="658.0" y2="213.0" stroke="#400" stroke-width="0.9" />
<line x1="653.0" y1="213.0" x2="653.0" y2="264.8" stroke="#554" stroke-width="0.8" />
<circle cx="609.3" cy="137.0" r="10.5" fill="#fff" stroke="#111" stroke-width="1.2"/>
<circle cx="609.3" cy="137.0" r="9" fill="none" stroke="#777" stroke-width="0.6"/>
<line x1="500.5" y1="82.0" x2="500.5" y2="273.0" stroke="#c01010" stroke-width="0.9" stroke-dasharray="30,3,5,3" />
<line x1="329.0" y1="198.0" x2="329.0" y2="273.0" stroke="#c01010" stroke-width="0.9" stroke-dasharray="30,3,5,3" />
<line x1="621.4" y1="197.0" x2="621.4" y2="273.0" stroke="#c01010" stroke-width="0.9" stroke-dasharray="30,3,5,3" />
<line x1="592.3" y1="137.0" x2="626.3" y2="137.0" stroke="#c01010" stroke-width="0.9" stroke-dasharray="4,3,8,3" />
<line x1="609.3" y1="120.0" x2="609.3" y2="154.0" stroke="#c01010" stroke-width="0.9" stroke-dasharray="4,3,8,3" />
<g id="fvpart"><rect x="342.5" y="944.4" width="316.2" height="51.80000000000007" fill="url(#gFlangeF)" stroke="#111" stroke-width="1.1" vector-effect="non-scaling-stroke"/>
<path d="M342.5,944.4 L342.5,942.8 Q342.5,935.8 350,935.8 L650.5,935.8 Q658.7,935.8 658.7,942.8 L658.7,944.4 Z" fill="url(#gRedV)" stroke="#111" stroke-width="1" vector-effect="non-scaling-stroke"/>
<line x1="395.8" y1="935.8" x2="395.8" y2="996.2" stroke="#222" stroke-width="0.9" vector-effect="non-scaling-stroke"/>
<line x1="605.3" y1="935.8" x2="605.3" y2="996.2" stroke="#222" stroke-width="0.9" vector-effect="non-scaling-stroke"/>
<path d="M399,935.8 Q409.3,935.8 409.3,926.5 L591.7,926.5 Q591.7,935.8 603,935.8 Z" fill="url(#gRedV)" stroke="#111" stroke-width="1" vector-effect="non-scaling-stroke"/>
<rect x="409.3" y="813.9" width="182.4" height="112.60000000000002" fill="url(#gTubeF)" stroke="#111" stroke-width="1.1" vector-effect="non-scaling-stroke"/>
<path d="M571.3,817.0 Q571.3,815.9 579.3,815.9 L588,815.9 Q592,816.9 592,818.9 Q593,823.0 600,824.5 L618.9,832.8 A37.0,37.0 0 0 1 618.9,904.2 L600,912.5 Q593,914.0 592,922.5 L591.7,924.5 L580,922.5 Q571.3,918.5 571.3,920.0 Z" fill="#e22020" stroke="#111" stroke-width="1.1" vector-effect="non-scaling-stroke"/>
<path d="M577.8,831.4 L616.5,841.7 A27.7,27.7 0 0 1 616.5,895.3 L577.8,905.6 Z" fill="#e6e23a" stroke="#111" stroke-width="1" vector-effect="non-scaling-stroke"/>
<line x1="571.3" y1="819.0" x2="577.8" y2="831.4" stroke="#400" stroke-width="0.8" vector-effect="non-scaling-stroke"/>
<line x1="571.3" y1="918.0" x2="577.8" y2="905.6" stroke="#400" stroke-width="0.8" vector-effect="non-scaling-stroke"/>
<line x1="617.6" y1="831.8" x2="618.2" y2="833.4" stroke="#400" stroke-width="0.8" vector-effect="non-scaling-stroke"/>
<line x1="617.6" y1="905.2" x2="618.2" y2="903.6" stroke="#400" stroke-width="0.8" vector-effect="non-scaling-stroke"/>
<circle cx="609.3" cy="868.5" r="22.2" fill="none" stroke="#111" stroke-width="1" vector-effect="non-scaling-stroke"/>
<circle cx="609.3" cy="868.5" r="13.9" fill="#d8d030" stroke="#111" stroke-width="1" vector-effect="non-scaling-stroke"/>
<circle cx="609.3" cy="868.5" r="12.3" fill="none" stroke="#333" stroke-width="0.8" vector-effect="non-scaling-stroke"/>
<circle cx="609.3" cy="868.5" r="10.2" fill="#fff" stroke="#111" stroke-width="1" vector-effect="non-scaling-stroke"/>
<line x1="603.3" y1="868.5" x2="615.3" y2="868.5" stroke="#c01010" stroke-width="0.9" vector-effect="non-scaling-stroke"/>
<line x1="609.3" y1="862.5" x2="609.3" y2="874.5" stroke="#c01010" stroke-width="0.9" vector-effect="non-scaling-stroke"/>
<line x1="580.3" y1="868.5" x2="600.3" y2="868.5" stroke="#c01010" stroke-width="0.8" stroke-dasharray="5,3" vector-effect="non-scaling-stroke"/>
<line x1="618.3" y1="868.5" x2="638.3" y2="868.5" stroke="#c01010" stroke-width="0.8" stroke-dasharray="5,3" vector-effect="non-scaling-stroke"/>
<line x1="609.3" y1="839.5" x2="609.3" y2="859.5" stroke="#c01010" stroke-width="0.8" stroke-dasharray="5,3" vector-effect="non-scaling-stroke"/>
<line x1="609.3" y1="877.5" x2="609.3" y2="897.5" stroke="#c01010" stroke-width="0.8" stroke-dasharray="5,3" vector-effect="non-scaling-stroke"/></g>
<line x1="500.5" y1="806.0" x2="500.5" y2="1000.0" stroke="#c01010" stroke-width="0.9" stroke-dasharray="40,3,5,3" />
<defs><clipPath id="clipB"><circle cx="997.4" cy="610.6" r="126"/></clipPath></defs>
<g clip-path="url(#clipB)"><g transform="translate(1018.4,609.6) scale(2) translate(-609.25,-868.5)"><use href="#fvpart"/></g></g>
<defs>
<linearGradient id="gHoleIso" x1="0" x2="1" y1="0" y2="1">
 <stop offset="0" stop-color="#60e8f0"/><stop offset="0.5" stop-color="#20b8c4"/><stop offset="1" stop-color="#0a7078"/></linearGradient>
<linearGradient id="gTubeIso" x1="0" x2="1" y1="0" y2="0">
 <stop offset="0" stop-color="#7e7200"/><stop offset="0.04" stop-color="#686000"/><stop offset="0.09" stop-color="#4c4300"/>
 <stop offset="0.2" stop-color="#5c5200"/><stop offset="0.45" stop-color="#726800"/><stop offset="0.7" stop-color="#847c00"/>
 <stop offset="0.88" stop-color="#7c7400"/><stop offset="1" stop-color="#6c6200"/></linearGradient>
<linearGradient id="gBoreIso" x1="0" x2="1" y1="0" y2="0">
 <stop offset="0" stop-color="#2cc82c"/><stop offset="0.12" stop-color="#1cb41c"/><stop offset="0.5" stop-color="#109c10"/><stop offset="0.85" stop-color="#0a840a"/><stop offset="1" stop-color="#066a06"/></linearGradient>
</defs><polygon points="1646.8,163.5 1648.5,166.5 1650.3,169.5 1652.3,172.4 1654.3,175.3 1656.5,178.2 1658.9,181.0 1661.3,183.9 1663.8,186.6 1666.5,189.4 1669.3,192.1 1672.2,194.8 1675.2,197.4 1678.3,200.0 1681.5,202.5 1684.8,205.0 1688.2,207.4 1691.7,209.8 1695.3,212.2 1699.0,214.5 1702.8,216.8 1706.7,218.9 1710.7,221.1 1714.8,223.2 1719.0,225.2 1723.2,227.2 1727.5,229.1 1731.9,230.9 1736.4,232.7 1740.9,234.5 1745.6,236.1 1750.3,237.7 1755.0,239.3 1759.8,240.7 1764.7,242.1 1769.6,243.5 1774.6,244.8 1779.6,246.0 1784.7,247.1 1789.8,248.1 1795.0,249.1 1798.6,249.9 1802.0,250.9 1805.3,252.1 1808.3,253.5 1811.0,255.0 1813.4,256.8 1815.5,258.6 1817.3,260.6 1818.6,262.7 1819.6,264.8 1820.2,267.0 1820.4,269.2 1820.2,271.4 1819.6,273.6 1818.6,275.7 1817.3,277.8 1815.5,279.8 1813.4,281.6 1811.0,283.4 1808.3,284.9 1805.3,286.3 1802.0,287.5 1798.6,288.5 1795.0,289.3 1789.8,290.3 1784.7,291.3 1779.6,292.4 1774.6,293.6 1769.6,294.9 1764.7,296.3 1759.8,297.7 1755.0,299.1 1750.3,300.7 1745.6,302.3 1740.9,303.9 1736.4,305.7 1731.9,307.5 1727.5,309.3 1723.2,311.2 1719.0,313.2 1714.8,315.2 1710.7,317.3 1706.7,319.5 1702.8,321.6 1699.0,323.9 1695.3,326.2 1691.7,328.6 1688.2,331.0 1684.8,333.4 1681.5,335.9 1678.3,338.4 1675.2,341.0 1672.2,343.6 1669.3,346.3 1666.5,349.0 1663.8,351.8 1661.3,354.5 1658.9,357.4 1656.5,360.2 1654.3,363.1 1652.3,366.0 1650.3,368.9 1648.5,371.9 1646.8,374.9 1645.4,376.9 1643.7,378.9 1641.6,380.8 1639.2,382.5 1636.5,384.1 1633.5,385.5 1630.3,386.7 1626.9,387.7 1623.3,388.5 1619.6,389.1 1615.8,389.4 1612.0,389.5 1608.2,389.4 1604.4,389.1 1600.7,388.5 1597.1,387.7 1593.7,386.7 1590.5,385.5 1587.5,384.1 1584.8,382.5 1582.4,380.8 1580.3,378.9 1578.6,376.9 1577.2,374.9 1575.5,371.9 1573.7,368.9 1571.7,366.0 1569.7,363.1 1567.5,360.2 1565.1,357.4 1562.7,354.5 1560.2,351.8 1557.5,349.0 1554.7,346.3 1551.8,343.6 1548.8,341.0 1545.7,338.4 1542.5,335.9 1539.2,333.4 1535.8,331.0 1532.3,328.6 1528.7,326.2 1525.0,323.9 1521.2,321.6 1517.3,319.5 1513.3,317.3 1509.2,315.2 1505.0,313.2 1500.8,311.2 1496.5,309.3 1492.1,307.5 1487.6,305.7 1483.1,303.9 1478.4,302.3 1473.7,300.7 1469.0,299.1 1464.2,297.7 1459.3,296.3 1454.4,294.9 1449.4,293.6 1444.4,292.4 1439.3,291.3 1434.2,290.3 1429.0,289.3 1425.4,288.5 1422.0,287.5 1418.7,286.3 1415.7,284.9 1413.0,283.4 1410.6,281.6 1408.5,279.8 1406.7,277.8 1405.4,275.7 1404.4,273.6 1403.8,271.4 1403.6,269.2 1403.8,267.0 1404.4,264.8 1405.4,262.7 1406.7,260.6 1408.5,258.6 1410.6,256.8 1413.0,255.0 1415.7,253.5 1418.7,252.1 1422.0,250.9 1425.4,249.9 1429.0,249.1 1434.2,248.1 1439.3,247.1 1444.4,246.0 1449.4,244.8 1454.4,243.5 1459.3,242.1 1464.2,240.7 1469.0,239.3 1473.7,237.7 1478.4,236.1 1483.1,234.5 1487.6,232.7 1492.1,230.9 1496.5,229.1 1500.8,227.2 1505.0,225.2 1509.2,223.2 1513.3,221.1 1517.3,218.9 1521.2,216.8 1525.0,214.5 1528.7,212.2 1532.3,209.8 1535.8,207.4 1539.2,205.0 1542.5,202.5 1545.7,200.0 1548.8,197.4 1551.8,194.8 1554.7,192.1 1557.5,189.4 1560.2,186.6 1562.7,183.9 1565.1,181.0 1567.5,178.2 1569.7,175.3 1571.7,172.4 1573.7,169.5 1575.5,166.5 1577.2,163.5 1578.6,161.5 1580.3,159.5 1582.4,157.6 1584.8,155.9 1587.5,154.3 1590.5,152.9 1593.7,151.7 1597.1,150.7 1600.7,149.9 1604.4,149.3 1608.2,149.0 1612.0,148.9 1615.8,149.0 1619.6,149.3 1623.3,149.9 1626.9,150.7 1630.3,151.7 1633.5,152.9 1636.5,154.3 1639.2,155.9 1641.6,157.6 1643.7,159.5 1645.4,161.5" fill="#6a5e00" stroke="#1a1a00" stroke-width="1.2" stroke-linejoin="round" />
<polygon points="1820.4,269.2 1820.2,271.4 1820.2,229.2 1820.4,227.0" fill="#a69900" stroke="#a69900" stroke-width="0.7" stroke-linejoin="round" />
<polygon points="1403.8,271.4 1403.6,269.2 1403.6,227.0 1403.8,229.2" fill="#4a4200" stroke="#4a4200" stroke-width="0.7" stroke-linejoin="round" />
<polygon points="1820.2,271.4 1819.6,273.6 1819.6,231.4 1820.2,229.2" fill="#a99c00" stroke="#a99c00" stroke-width="0.7" stroke-linejoin="round" />
<polygon points="1404.4,273.6 1403.8,271.4 1403.8,229.2 1404.4,231.4" fill="#4e4500" stroke="#4e4500" stroke-width="0.7" stroke-linejoin="round" />
<polygon points="1405.4,275.7 1404.4,273.6 1404.4,231.4 1405.4,233.5" fill="#524900" stroke="#524900" stroke-width="0.7" stroke-linejoin="round" />
<polygon points="1819.6,273.6 1818.6,275.7 1818.6,233.5 1819.6,231.4" fill="#ab9e00" stroke="#ab9e00" stroke-width="0.7" stroke-linejoin="round" />
<polygon points="1818.6,275.7 1817.3,277.8 1817.3,235.6 1818.6,233.5" fill="#ad9f00" stroke="#ad9f00" stroke-width="0.7" stroke-linejoin="round" />
<polygon points="1406.7,277.8 1405.4,275.7 1405.4,233.5 1406.7,235.6" fill="#574e00" stroke="#574e00" stroke-width="0.7" stroke-linejoin="round" />
<polygon points="1817.3,277.8 1815.5,279.8 1815.5,237.6 1817.3,235.6" fill="#aea000" stroke="#aea000" stroke-width="0.7" stroke-linejoin="round" />
<polygon points="1408.5,279.8 1406.7,277.8 1406.7,235.6 1408.5,237.6" fill="#5c5200" stroke="#5c5200" stroke-width="0.7" stroke-linejoin="round" />
<polygon points="1815.5,279.8 1813.4,281.6 1813.4,239.4 1815.5,237.6" fill="#aea100" stroke="#aea100" stroke-width="0.7" stroke-linejoin="round" />
<polygon points="1410.6,281.6 1408.5,279.8 1408.5,237.6 1410.6,239.4" fill="#615700" stroke="#615700" stroke-width="0.7" stroke-linejoin="round" />
<polygon points="1413.0,283.4 1410.6,281.6 1410.6,239.4 1413.0,241.2" fill="#675d00" stroke="#675d00" stroke-width="0.7" stroke-linejoin="round" />
<polygon points="1813.4,281.6 1811.0,283.4 1811.0,241.2 1813.4,239.4" fill="#aea100" stroke="#aea100" stroke-width="0.7" stroke-linejoin="round" />
<polygon points="1811.0,283.4 1808.3,284.9 1808.3,242.7 1811.0,241.2" fill="#ada000" stroke="#ada000" stroke-width="0.7" stroke-linejoin="round" />
<polygon points="1415.7,284.9 1413.0,283.4 1413.0,241.2 1415.7,242.7" fill="#6c6200" stroke="#6c6200" stroke-width="0.7" stroke-linejoin="round" />
<polygon points="1808.3,284.9 1805.3,286.3 1805.3,244.1 1808.3,242.7" fill="#ac9e00" stroke="#ac9e00" stroke-width="0.7" stroke-linejoin="round" />
<polygon points="1418.7,286.3 1415.7,284.9 1415.7,242.7 1418.7,244.1" fill="#726800" stroke="#726800" stroke-width="0.7" stroke-linejoin="round" />
<polygon points="1805.3,286.3 1802.0,287.5 1802.0,245.3 1805.3,244.1" fill="#aa9d00" stroke="#aa9d00" stroke-width="0.7" stroke-linejoin="round" />
<polygon points="1422.0,287.5 1418.7,286.3 1418.7,244.1 1422.0,245.3" fill="#786d00" stroke="#786d00" stroke-width="0.7" stroke-linejoin="round" />
<polygon points="1802.0,287.5 1798.6,288.5 1798.6,246.3 1802.0,245.3" fill="#a79a00" stroke="#a79a00" stroke-width="0.7" stroke-linejoin="round" />
<polygon points="1425.4,288.5 1422.0,287.5 1422.0,245.3 1425.4,246.3" fill="#7e7300" stroke="#7e7300" stroke-width="0.7" stroke-linejoin="round" />
<polygon points="1798.6,288.5 1795.0,289.3 1795.0,247.1 1798.6,246.3" fill="#a49700" stroke="#a49700" stroke-width="0.7" stroke-linejoin="round" />
<polygon points="1429.0,289.3 1425.4,288.5 1425.4,246.3 1429.0,247.1" fill="#847800" stroke="#847800" stroke-width="0.7" stroke-linejoin="round" />
<polygon points="1795.0,289.3 1789.8,290.3 1789.8,248.1 1795.0,247.1" fill="#a39600" stroke="#a39600" stroke-width="0.7" stroke-linejoin="round" />
<polygon points="1434.2,290.3 1429.0,289.3 1429.0,247.1 1434.2,248.1" fill="#867a00" stroke="#867a00" stroke-width="0.7" stroke-linejoin="round" />
<polygon points="1789.8,290.3 1784.7,291.3 1784.7,249.1 1789.8,248.1" fill="#a39700" stroke="#a39700" stroke-width="0.7" stroke-linejoin="round" />
<polygon points="1439.3,291.3 1434.2,290.3 1434.2,248.1 1439.3,249.1" fill="#847900" stroke="#847900" stroke-width="0.7" stroke-linejoin="round" />
<polygon points="1784.7,291.3 1779.6,292.4 1779.6,250.3 1784.7,249.1" fill="#a49700" stroke="#a49700" stroke-width="0.7" stroke-linejoin="round" />
<polygon points="1444.4,292.4 1439.3,291.3 1439.3,249.1 1444.4,250.3" fill="#837800" stroke="#837800" stroke-width="0.7" stroke-linejoin="round" />
<polygon points="1779.6,292.4 1774.6,293.6 1774.6,251.5 1779.6,250.3" fill="#a59800" stroke="#a59800" stroke-width="0.7" stroke-linejoin="round" />
<polygon points="1449.4,293.6 1444.4,292.4 1444.4,250.3 1449.4,251.5" fill="#827700" stroke="#827700" stroke-width="0.7" stroke-linejoin="round" />
<polygon points="1774.6,293.6 1769.6,294.9 1769.6,252.7 1774.6,251.5" fill="#a69900" stroke="#a69900" stroke-width="0.7" stroke-linejoin="round" />
<polygon points="1454.4,294.9 1449.4,293.6 1449.4,251.5 1454.4,252.7" fill="#817500" stroke="#817500" stroke-width="0.7" stroke-linejoin="round" />
<polygon points="1769.6,294.9 1764.7,296.3 1764.7,254.1 1769.6,252.7" fill="#a69900" stroke="#a69900" stroke-width="0.7" stroke-linejoin="round" />
<polygon points="1459.3,296.3 1454.4,294.9 1454.4,252.7 1459.3,254.1" fill="#7f7400" stroke="#7f7400" stroke-width="0.7" stroke-linejoin="round" />
<polygon points="1764.7,296.3 1759.8,297.7 1759.8,255.5 1764.7,254.1" fill="#a79a00" stroke="#a79a00" stroke-width="0.7" stroke-linejoin="round" />
<polygon points="1464.2,297.7 1459.3,296.3 1459.3,254.1 1464.2,255.5" fill="#7e7300" stroke="#7e7300" stroke-width="0.7" stroke-linejoin="round" />
<polygon points="1759.8,297.7 1755.0,299.1 1755.0,256.9 1759.8,255.5" fill="#a89b00" stroke="#a89b00" stroke-width="0.7" stroke-linejoin="round" />
<polygon points="1469.0,299.1 1464.2,297.7 1464.2,255.5 1469.0,256.9" fill="#7d7200" stroke="#7d7200" stroke-width="0.7" stroke-linejoin="round" />
<polygon points="1755.0,299.1 1750.3,300.7 1750.3,258.5 1755.0,256.9" fill="#a89b00" stroke="#a89b00" stroke-width="0.7" stroke-linejoin="round" />
<polygon points="1473.7,300.7 1469.0,299.1 1469.0,256.9 1473.7,258.5" fill="#7b7000" stroke="#7b7000" stroke-width="0.7" stroke-linejoin="round" />
<polygon points="1750.3,300.7 1745.6,302.3 1745.6,260.1 1750.3,258.5" fill="#a99c00" stroke="#a99c00" stroke-width="0.7" stroke-linejoin="round" />
<polygon points="1478.4,302.3 1473.7,300.7 1473.7,258.5 1478.4,260.1" fill="#7a6f00" stroke="#7a6f00" stroke-width="0.7" stroke-linejoin="round" />
<polygon points="1745.6,302.3 1740.9,303.9 1740.9,261.7 1745.6,260.1" fill="#a99c00" stroke="#a99c00" stroke-width="0.7" stroke-linejoin="round" />
<polygon points="1483.1,303.9 1478.4,302.3 1478.4,260.1 1483.1,261.7" fill="#796e00" stroke="#796e00" stroke-width="0.7" stroke-linejoin="round" />
<polygon points="1740.9,303.9 1736.4,305.7 1736.4,263.5 1740.9,261.7" fill="#aa9d00" stroke="#aa9d00" stroke-width="0.7" stroke-linejoin="round" />
<polygon points="1487.6,305.7 1483.1,303.9 1483.1,261.7 1487.6,263.5" fill="#776d00" stroke="#776d00" stroke-width="0.7" stroke-linejoin="round" />
<polygon points="1736.4,305.7 1731.9,307.5 1731.9,265.3 1736.4,263.5" fill="#aa9d00" stroke="#aa9d00" stroke-width="0.7" stroke-linejoin="round" />
<polygon points="1492.1,307.5 1487.6,305.7 1487.6,263.5 1492.1,265.3" fill="#766b00" stroke="#766b00" stroke-width="0.7" stroke-linejoin="round" />
<polygon points="1731.9,307.5 1727.5,309.3 1727.5,267.1 1731.9,265.3" fill="#ab9e00" stroke="#ab9e00" stroke-width="0.7" stroke-linejoin="round" />
<polygon points="1496.5,309.3 1492.1,307.5 1492.1,265.3 1496.5,267.1" fill="#756a00" stroke="#756a00" stroke-width="0.7" stroke-linejoin="round" />
<polygon points="1727.5,309.3 1723.2,311.2 1723.2,269.0 1727.5,267.1" fill="#ab9e00" stroke="#ab9e00" stroke-width="0.7" stroke-linejoin="round" />
<polygon points="1500.8,311.2 1496.5,309.3 1496.5,267.1 1500.8,269.0" fill="#736900" stroke="#736900" stroke-width="0.7" stroke-linejoin="round" />
<polygon points="1723.2,311.2 1719.0,313.2 1719.0,271.0 1723.2,269.0" fill="#ac9f00" stroke="#ac9f00" stroke-width="0.7" stroke-linejoin="round" />
<polygon points="1505.0,313.2 1500.8,311.2 1500.8,269.0 1505.0,271.0" fill="#726800" stroke="#726800" stroke-width="0.7" stroke-linejoin="round" />
<polygon points="1719.0,313.2 1714.8,315.2 1714.8,273.0 1719.0,271.0" fill="#ac9f00" stroke="#ac9f00" stroke-width="0.7" stroke-linejoin="round" />
<polygon points="1509.2,315.2 1505.0,313.2 1505.0,271.0 1509.2,273.0" fill="#716600" stroke="#716600" stroke-width="0.7" stroke-linejoin="round" />
<polygon points="1714.8,315.2 1710.7,317.3 1710.7,275.1 1714.8,273.0" fill="#ac9f00" stroke="#ac9f00" stroke-width="0.7" stroke-linejoin="round" />
<polygon points="1513.3,317.3 1509.2,315.2 1509.2,273.0 1513.3,275.1" fill="#6f6500" stroke="#6f6500" stroke-width="0.7" stroke-linejoin="round" />
<polygon points="1710.7,317.3 1706.7,319.5 1706.7,277.3 1710.7,275.1" fill="#ad9f00" stroke="#ad9f00" stroke-width="0.7" stroke-linejoin="round" />
<polygon points="1517.3,319.5 1513.3,317.3 1513.3,275.1 1517.3,277.3" fill="#6e6400" stroke="#6e6400" stroke-width="0.7" stroke-linejoin="round" />
<polygon points="1706.7,319.5 1702.8,321.6 1702.8,279.5 1706.7,277.3" fill="#ada000" stroke="#ada000" stroke-width="0.7" stroke-linejoin="round" />
<polygon points="1521.2,321.6 1517.3,319.5 1517.3,277.3 1521.2,279.5" fill="#6d6300" stroke="#6d6300" stroke-width="0.7" stroke-linejoin="round" />
<polygon points="1702.8,321.6 1699.0,323.9 1699.0,281.7 1702.8,279.5" fill="#ada000" stroke="#ada000" stroke-width="0.7" stroke-linejoin="round" />
<polygon points="1525.0,323.9 1521.2,321.6 1521.2,279.5 1525.0,281.7" fill="#6b6100" stroke="#6b6100" stroke-width="0.7" stroke-linejoin="round" />
<polygon points="1699.0,323.9 1695.3,326.2 1695.3,284.0 1699.0,281.7" fill="#ada000" stroke="#ada000" stroke-width="0.7" stroke-linejoin="round" />
<polygon points="1528.7,326.2 1525.0,323.9 1525.0,281.7 1528.7,284.0" fill="#6a6000" stroke="#6a6000" stroke-width="0.7" stroke-linejoin="round" />
<polygon points="1695.3,326.2 1691.7,328.6 1691.7,286.4 1695.3,284.0" fill="#aea000" stroke="#aea000" stroke-width="0.7" stroke-linejoin="round" />
<polygon points="1532.3,328.6 1528.7,326.2 1528.7,284.0 1532.3,286.4" fill="#695f00" stroke="#695f00" stroke-width="0.7" stroke-linejoin="round" />
<polygon points="1691.7,328.6 1688.2,331.0 1688.2,288.8 1691.7,286.4" fill="#aea100" stroke="#aea100" stroke-width="0.7" stroke-linejoin="round" />
<polygon points="1535.8,331.0 1532.3,328.6 1532.3,286.4 1535.8,288.8" fill="#685e00" stroke="#685e00" stroke-width="0.7" stroke-linejoin="round" />
<polygon points="1688.2,331.0 1684.8,333.4 1684.8,291.2 1688.2,288.8" fill="#aea100" stroke="#aea100" stroke-width="0.7" stroke-linejoin="round" />
<polygon points="1539.2,333.4 1535.8,331.0 1535.8,288.8 1539.2,291.2" fill="#665c00" stroke="#665c00" stroke-width="0.7" stroke-linejoin="round" />
<polygon points="1684.8,333.4 1681.5,335.9 1681.5,293.7 1684.8,291.2" fill="#aea100" stroke="#aea100" stroke-width="0.7" stroke-linejoin="round" />
<polygon points="1542.5,335.9 1539.2,333.4 1539.2,291.2 1542.5,293.7" fill="#655b00" stroke="#655b00" stroke-width="0.7" stroke-linejoin="round" />
<polygon points="1681.5,335.9 1678.3,338.4 1678.3,296.2 1681.5,293.7" fill="#aea100" stroke="#aea100" stroke-width="0.7" stroke-linejoin="round" />
<polygon points="1545.7,338.4 1542.5,335.9 1542.5,293.7 1545.7,296.2" fill="#645a00" stroke="#645a00" stroke-width="0.7" stroke-linejoin="round" />
<polygon points="1678.3,338.4 1675.2,341.0 1675.2,298.8 1678.3,296.2" fill="#aea100" stroke="#aea100" stroke-width="0.7" stroke-linejoin="round" />
<polygon points="1548.8,341.0 1545.7,338.4 1545.7,296.2 1548.8,298.8" fill="#635900" stroke="#635900" stroke-width="0.7" stroke-linejoin="round" />
<polygon points="1675.2,341.0 1672.2,343.6 1672.2,301.5 1675.2,298.8" fill="#aea100" stroke="#aea100" stroke-width="0.7" stroke-linejoin="round" />
<polygon points="1551.8,343.6 1548.8,341.0 1548.8,298.8 1551.8,301.5" fill="#615800" stroke="#615800" stroke-width="0.7" stroke-linejoin="round" />
<polygon points="1672.2,343.6 1669.3,346.3 1669.3,304.1 1672.2,301.5" fill="#aea100" stroke="#aea100" stroke-width="0.7" stroke-linejoin="round" />
<polygon points="1554.7,346.3 1551.8,343.6 1551.8,301.5 1554.7,304.1" fill="#605600" stroke="#605600" stroke-width="0.7" stroke-linejoin="round" />
<polygon points="1669.3,346.3 1666.5,349.0 1666.5,306.8 1669.3,304.1" fill="#aea100" stroke="#aea100" stroke-width="0.7" stroke-linejoin="round" />
<polygon points="1557.5,349.0 1554.7,346.3 1554.7,304.1 1557.5,306.8" fill="#5f5500" stroke="#5f5500" stroke-width="0.7" stroke-linejoin="round" />
<polygon points="1666.5,349.0 1663.8,351.8 1663.8,309.6 1666.5,306.8" fill="#aea100" stroke="#aea100" stroke-width="0.7" stroke-linejoin="round" />
<polygon points="1560.2,351.8 1557.5,349.0 1557.5,306.8 1560.2,309.6" fill="#5e5400" stroke="#5e5400" stroke-width="0.7" stroke-linejoin="round" />
<polygon points="1663.8,351.8 1661.3,354.5 1661.3,312.3 1663.8,309.6" fill="#aea000" stroke="#aea000" stroke-width="0.7" stroke-linejoin="round" />
<polygon points="1562.7,354.5 1560.2,351.8 1560.2,309.6 1562.7,312.3" fill="#5c5300" stroke="#5c5300" stroke-width="0.7" stroke-linejoin="round" />
<polygon points="1661.3,354.5 1658.9,357.4 1658.9,315.2 1661.3,312.3" fill="#aea000" stroke="#aea000" stroke-width="0.7" stroke-linejoin="round" />
<polygon points="1565.1,357.4 1562.7,354.5 1562.7,312.3 1565.1,315.2" fill="#5b5200" stroke="#5b5200" stroke-width="0.7" stroke-linejoin="round" />
<polygon points="1658.9,357.4 1656.5,360.2 1656.5,318.0 1658.9,315.2" fill="#ada000" stroke="#ada000" stroke-width="0.7" stroke-linejoin="round" />
<polygon points="1567.5,360.2 1565.1,357.4 1565.1,315.2 1567.5,318.0" fill="#5a5100" stroke="#5a5100" stroke-width="0.7" stroke-linejoin="round" />
<polygon points="1656.5,360.2 1654.3,363.1 1654.3,320.9 1656.5,318.0" fill="#ada000" stroke="#ada000" stroke-width="0.7" stroke-linejoin="round" />
<polygon points="1569.7,363.1 1567.5,360.2 1567.5,318.0 1569.7,320.9" fill="#595000" stroke="#595000" stroke-width="0.7" stroke-linejoin="round" />
<polygon points="1654.3,363.1 1652.3,366.0 1652.3,323.8 1654.3,320.9" fill="#ada000" stroke="#ada000" stroke-width="0.7" stroke-linejoin="round" />
<polygon points="1571.7,366.0 1569.7,363.1 1569.7,320.9 1571.7,323.8" fill="#584f00" stroke="#584f00" stroke-width="0.7" stroke-linejoin="round" />
<polygon points="1652.3,366.0 1650.3,368.9 1650.3,326.7 1652.3,323.8" fill="#ad9f00" stroke="#ad9f00" stroke-width="0.7" stroke-linejoin="round" />
<polygon points="1573.7,368.9 1571.7,366.0 1571.7,323.8 1573.7,326.7" fill="#574e00" stroke="#574e00" stroke-width="0.7" stroke-linejoin="round" />
<polygon points="1650.3,368.9 1648.5,371.9 1648.5,329.7 1650.3,326.7" fill="#ac9f00" stroke="#ac9f00" stroke-width="0.7" stroke-linejoin="round" />
<polygon points="1575.5,371.9 1573.7,368.9 1573.7,326.7 1575.5,329.7" fill="#564d00" stroke="#564d00" stroke-width="0.7" stroke-linejoin="round" />
<polygon points="1648.5,371.9 1646.8,374.9 1646.8,332.7 1648.5,329.7" fill="#ac9f00" stroke="#ac9f00" stroke-width="0.7" stroke-linejoin="round" />
<polygon points="1577.2,374.9 1575.5,371.9 1575.5,329.7 1577.2,332.7" fill="#554c00" stroke="#554c00" stroke-width="0.7" stroke-linejoin="round" />
<polygon points="1646.8,374.9 1645.4,376.9 1645.4,334.7 1646.8,332.7" fill="#ad9f00" stroke="#ad9f00" stroke-width="0.7" stroke-linejoin="round" />
<polygon points="1578.6,376.9 1577.2,374.9 1577.2,332.7 1578.6,334.7" fill="#574d00" stroke="#574d00" stroke-width="0.7" stroke-linejoin="round" />
<polygon points="1645.4,376.9 1643.7,378.9 1643.7,336.7 1645.4,334.7" fill="#aea000" stroke="#aea000" stroke-width="0.7" stroke-linejoin="round" />
<polygon points="1580.3,378.9 1578.6,376.9 1578.6,334.7 1580.3,336.7" fill="#5b5200" stroke="#5b5200" stroke-width="0.7" stroke-linejoin="round" />
<polygon points="1643.7,378.9 1641.6,380.8 1641.6,338.6 1643.7,336.7" fill="#aea100" stroke="#aea100" stroke-width="0.7" stroke-linejoin="round" />
<polygon points="1582.4,380.8 1580.3,378.9 1580.3,336.7 1582.4,338.6" fill="#615700" stroke="#615700" stroke-width="0.7" stroke-linejoin="round" />
<polygon points="1584.8,382.5 1582.4,380.8 1582.4,338.6 1584.8,340.3" fill="#665c00" stroke="#665c00" stroke-width="0.7" stroke-linejoin="round" />
<polygon points="1641.6,380.8 1639.2,382.5 1639.2,340.3 1641.6,338.6" fill="#aea100" stroke="#aea100" stroke-width="0.7" stroke-linejoin="round" />
<polygon points="1587.5,384.1 1584.8,382.5 1584.8,340.3 1587.5,341.9" fill="#6c6200" stroke="#6c6200" stroke-width="0.7" stroke-linejoin="round" />
<polygon points="1639.2,382.5 1636.5,384.1 1636.5,341.9 1639.2,340.3" fill="#ada000" stroke="#ada000" stroke-width="0.7" stroke-linejoin="round" />
<polygon points="1636.5,384.1 1633.5,385.5 1633.5,343.3 1636.5,341.9" fill="#ac9f00" stroke="#ac9f00" stroke-width="0.7" stroke-linejoin="round" />
<polygon points="1590.5,385.5 1587.5,384.1 1587.5,341.9 1590.5,343.3" fill="#726700" stroke="#726700" stroke-width="0.7" stroke-linejoin="round" />
<polygon points="1633.5,385.5 1630.3,386.7 1630.3,344.5 1633.5,343.3" fill="#aa9d00" stroke="#aa9d00" stroke-width="0.7" stroke-linejoin="round" />
<polygon points="1593.7,386.7 1590.5,385.5 1590.5,343.3 1593.7,344.5" fill="#786d00" stroke="#786d00" stroke-width="0.7" stroke-linejoin="round" />
<polygon points="1630.3,386.7 1626.9,387.7 1626.9,345.5 1630.3,344.5" fill="#a79a00" stroke="#a79a00" stroke-width="0.7" stroke-linejoin="round" />
<polygon points="1597.1,387.7 1593.7,386.7 1593.7,344.5 1597.1,345.5" fill="#7d7200" stroke="#7d7200" stroke-width="0.7" stroke-linejoin="round" />
<polygon points="1600.7,388.5 1597.1,387.7 1597.1,345.5 1600.7,346.3" fill="#837800" stroke="#837800" stroke-width="0.7" stroke-linejoin="round" />
<polygon points="1626.9,387.7 1623.3,388.5 1623.3,346.3 1626.9,345.5" fill="#a49700" stroke="#a49700" stroke-width="0.7" stroke-linejoin="round" />
<polygon points="1623.3,388.5 1619.6,389.1 1619.6,346.9 1623.3,346.3" fill="#a19400" stroke="#a19400" stroke-width="0.7" stroke-linejoin="round" />
<polygon points="1604.4,389.1 1600.7,388.5 1600.7,346.3 1604.4,346.9" fill="#897d00" stroke="#897d00" stroke-width="0.7" stroke-linejoin="round" />
<polygon points="1619.6,389.1 1615.8,389.4 1615.8,347.2 1619.6,346.9" fill="#9d9000" stroke="#9d9000" stroke-width="0.7" stroke-linejoin="round" />
<polygon points="1608.2,389.4 1604.4,389.1 1604.4,346.9 1608.2,347.2" fill="#8e8200" stroke="#8e8200" stroke-width="0.7" stroke-linejoin="round" />
<polygon points="1615.8,389.4 1612.0,389.5 1612.0,347.4 1615.8,347.2" fill="#988c00" stroke="#988c00" stroke-width="0.7" stroke-linejoin="round" />
<polygon points="1612.0,389.5 1608.2,389.4 1608.2,347.2 1612.0,347.4" fill="#938700" stroke="#938700" stroke-width="0.7" stroke-linejoin="round" />
<line x1="1820.4" y1="269.2" x2="1820.2" y2="271.4" stroke="#1a1a00" stroke-width="1.3"/>
<line x1="1820.2" y1="271.4" x2="1819.6" y2="273.6" stroke="#1a1a00" stroke-width="1.3"/>
<line x1="1819.6" y1="273.6" x2="1818.6" y2="275.7" stroke="#1a1a00" stroke-width="1.3"/>
<line x1="1818.6" y1="275.7" x2="1817.3" y2="277.8" stroke="#1a1a00" stroke-width="1.3"/>
<line x1="1817.3" y1="277.8" x2="1815.5" y2="279.8" stroke="#1a1a00" stroke-width="1.3"/>
<line x1="1815.5" y1="279.8" x2="1813.4" y2="281.6" stroke="#1a1a00" stroke-width="1.3"/>
<line x1="1813.4" y1="281.6" x2="1811.0" y2="283.4" stroke="#1a1a00" stroke-width="1.3"/>
<line x1="1811.0" y1="283.4" x2="1808.3" y2="284.9" stroke="#1a1a00" stroke-width="1.3"/>
<line x1="1808.3" y1="284.9" x2="1805.3" y2="286.3" stroke="#1a1a00" stroke-width="1.3"/>
<line x1="1805.3" y1="286.3" x2="1802.0" y2="287.5" stroke="#1a1a00" stroke-width="1.3"/>
<line x1="1802.0" y1="287.5" x2="1798.6" y2="288.5" stroke="#1a1a00" stroke-width="1.3"/>
<line x1="1798.6" y1="288.5" x2="1795.0" y2="289.3" stroke="#1a1a00" stroke-width="1.3"/>
<line x1="1795.0" y1="289.3" x2="1789.8" y2="290.3" stroke="#1a1a00" stroke-width="1.3"/>
<line x1="1789.8" y1="290.3" x2="1784.7" y2="291.3" stroke="#1a1a00" stroke-width="1.3"/>
<line x1="1784.7" y1="291.3" x2="1779.6" y2="292.4" stroke="#1a1a00" stroke-width="1.3"/>
<line x1="1779.6" y1="292.4" x2="1774.6" y2="293.6" stroke="#1a1a00" stroke-width="1.3"/>
<line x1="1774.6" y1="293.6" x2="1769.6" y2="294.9" stroke="#1a1a00" stroke-width="1.3"/>
<line x1="1769.6" y1="294.9" x2="1764.7" y2="296.3" stroke="#1a1a00" stroke-width="1.3"/>
<line x1="1764.7" y1="296.3" x2="1759.8" y2="297.7" stroke="#1a1a00" stroke-width="1.3"/>
<line x1="1759.8" y1="297.7" x2="1755.0" y2="299.1" stroke="#1a1a00" stroke-width="1.3"/>
<line x1="1755.0" y1="299.1" x2="1750.3" y2="300.7" stroke="#1a1a00" stroke-width="1.3"/>
<line x1="1750.3" y1="300.7" x2="1745.6" y2="302.3" stroke="#1a1a00" stroke-width="1.3"/>
<line x1="1745.6" y1="302.3" x2="1740.9" y2="303.9" stroke="#1a1a00" stroke-width="1.3"/>
<line x1="1740.9" y1="303.9" x2="1736.4" y2="305.7" stroke="#1a1a00" stroke-width="1.3"/>
<line x1="1736.4" y1="305.7" x2="1731.9" y2="307.5" stroke="#1a1a00" stroke-width="1.3"/>
<line x1="1731.9" y1="307.5" x2="1727.5" y2="309.3" stroke="#1a1a00" stroke-width="1.3"/>
<line x1="1727.5" y1="309.3" x2="1723.2" y2="311.2" stroke="#1a1a00" stroke-width="1.3"/>
<line x1="1723.2" y1="311.2" x2="1719.0" y2="313.2" stroke="#1a1a00" stroke-width="1.3"/>
<line x1="1719.0" y1="313.2" x2="1714.8" y2="315.2" stroke="#1a1a00" stroke-width="1.3"/>
<line x1="1714.8" y1="315.2" x2="1710.7" y2="317.3" stroke="#1a1a00" stroke-width="1.3"/>
<line x1="1710.7" y1="317.3" x2="1706.7" y2="319.5" stroke="#1a1a00" stroke-width="1.3"/>
<line x1="1706.7" y1="319.5" x2="1702.8" y2="321.6" stroke="#1a1a00" stroke-width="1.3"/>
<line x1="1702.8" y1="321.6" x2="1699.0" y2="323.9" stroke="#1a1a00" stroke-width="1.3"/>
<line x1="1699.0" y1="323.9" x2="1695.3" y2="326.2" stroke="#1a1a00" stroke-width="1.3"/>
<line x1="1695.3" y1="326.2" x2="1691.7" y2="328.6" stroke="#1a1a00" stroke-width="1.3"/>
<line x1="1691.7" y1="328.6" x2="1688.2" y2="331.0" stroke="#1a1a00" stroke-width="1.3"/>
<line x1="1688.2" y1="331.0" x2="1684.8" y2="333.4" stroke="#1a1a00" stroke-width="1.3"/>
<line x1="1684.8" y1="333.4" x2="1681.5" y2="335.9" stroke="#1a1a00" stroke-width="1.3"/>
<line x1="1681.5" y1="335.9" x2="1678.3" y2="338.4" stroke="#1a1a00" stroke-width="1.3"/>
<line x1="1678.3" y1="338.4" x2="1675.2" y2="341.0" stroke="#1a1a00" stroke-width="1.3"/>
<line x1="1675.2" y1="341.0" x2="1672.2" y2="343.6" stroke="#1a1a00" stroke-width="1.3"/>
<line x1="1672.2" y1="343.6" x2="1669.3" y2="346.3" stroke="#1a1a00" stroke-width="1.3"/>
<line x1="1669.3" y1="346.3" x2="1666.5" y2="349.0" stroke="#1a1a00" stroke-width="1.3"/>
<line x1="1666.5" y1="349.0" x2="1663.8" y2="351.8" stroke="#1a1a00" stroke-width="1.3"/>
<line x1="1663.8" y1="351.8" x2="1661.3" y2="354.5" stroke="#1a1a00" stroke-width="1.3"/>
<line x1="1661.3" y1="354.5" x2="1658.9" y2="357.4" stroke="#1a1a00" stroke-width="1.3"/>
<line x1="1658.9" y1="357.4" x2="1656.5" y2="360.2" stroke="#1a1a00" stroke-width="1.3"/>
<line x1="1656.5" y1="360.2" x2="1654.3" y2="363.1" stroke="#1a1a00" stroke-width="1.3"/>
<line x1="1654.3" y1="363.1" x2="1652.3" y2="366.0" stroke="#1a1a00" stroke-width="1.3"/>
<line x1="1652.3" y1="366.0" x2="1650.3" y2="368.9" stroke="#1a1a00" stroke-width="1.3"/>
<line x1="1650.3" y1="368.9" x2="1648.5" y2="371.9" stroke="#1a1a00" stroke-width="1.3"/>
<line x1="1648.5" y1="371.9" x2="1646.8" y2="374.9" stroke="#1a1a00" stroke-width="1.3"/>
<line x1="1646.8" y1="374.9" x2="1645.4" y2="376.9" stroke="#1a1a00" stroke-width="1.3"/>
<line x1="1645.4" y1="376.9" x2="1643.7" y2="378.9" stroke="#1a1a00" stroke-width="1.3"/>
<line x1="1643.7" y1="378.9" x2="1641.6" y2="380.8" stroke="#1a1a00" stroke-width="1.3"/>
<line x1="1641.6" y1="380.8" x2="1639.2" y2="382.5" stroke="#1a1a00" stroke-width="1.3"/>
<line x1="1639.2" y1="382.5" x2="1636.5" y2="384.1" stroke="#1a1a00" stroke-width="1.3"/>
<line x1="1636.5" y1="384.1" x2="1633.5" y2="385.5" stroke="#1a1a00" stroke-width="1.3"/>
<line x1="1633.5" y1="385.5" x2="1630.3" y2="386.7" stroke="#1a1a00" stroke-width="1.3"/>
<line x1="1630.3" y1="386.7" x2="1626.9" y2="387.7" stroke="#1a1a00" stroke-width="1.3"/>
<line x1="1626.9" y1="387.7" x2="1623.3" y2="388.5" stroke="#1a1a00" stroke-width="1.3"/>
<line x1="1623.3" y1="388.5" x2="1619.6" y2="389.1" stroke="#1a1a00" stroke-width="1.3"/>
<line x1="1619.6" y1="389.1" x2="1615.8" y2="389.4" stroke="#1a1a00" stroke-width="1.3"/>
<line x1="1615.8" y1="389.4" x2="1612.0" y2="389.5" stroke="#1a1a00" stroke-width="1.3"/>
<line x1="1612.0" y1="389.5" x2="1608.2" y2="389.4" stroke="#1a1a00" stroke-width="1.3"/>
<line x1="1608.2" y1="389.4" x2="1604.4" y2="389.1" stroke="#1a1a00" stroke-width="1.3"/>
<line x1="1604.4" y1="389.1" x2="1600.7" y2="388.5" stroke="#1a1a00" stroke-width="1.3"/>
<line x1="1600.7" y1="388.5" x2="1597.1" y2="387.7" stroke="#1a1a00" stroke-width="1.3"/>
<line x1="1597.1" y1="387.7" x2="1593.7" y2="386.7" stroke="#1a1a00" stroke-width="1.3"/>
<line x1="1593.7" y1="386.7" x2="1590.5" y2="385.5" stroke="#1a1a00" stroke-width="1.3"/>
<line x1="1590.5" y1="385.5" x2="1587.5" y2="384.1" stroke="#1a1a00" stroke-width="1.3"/>
<line x1="1587.5" y1="384.1" x2="1584.8" y2="382.5" stroke="#1a1a00" stroke-width="1.3"/>
<line x1="1584.8" y1="382.5" x2="1582.4" y2="380.8" stroke="#1a1a00" stroke-width="1.3"/>
<line x1="1582.4" y1="380.8" x2="1580.3" y2="378.9" stroke="#1a1a00" stroke-width="1.3"/>
<line x1="1580.3" y1="378.9" x2="1578.6" y2="376.9" stroke="#1a1a00" stroke-width="1.3"/>
<line x1="1578.6" y1="376.9" x2="1577.2" y2="374.9" stroke="#1a1a00" stroke-width="1.3"/>
<line x1="1577.2" y1="374.9" x2="1575.5" y2="371.9" stroke="#1a1a00" stroke-width="1.3"/>
<line x1="1575.5" y1="371.9" x2="1573.7" y2="368.9" stroke="#1a1a00" stroke-width="1.3"/>
<line x1="1573.7" y1="368.9" x2="1571.7" y2="366.0" stroke="#1a1a00" stroke-width="1.3"/>
<line x1="1571.7" y1="366.0" x2="1569.7" y2="363.1" stroke="#1a1a00" stroke-width="1.3"/>
<line x1="1569.7" y1="363.1" x2="1567.5" y2="360.2" stroke="#1a1a00" stroke-width="1.3"/>
<line x1="1567.5" y1="360.2" x2="1565.1" y2="357.4" stroke="#1a1a00" stroke-width="1.3"/>
<line x1="1565.1" y1="357.4" x2="1562.7" y2="354.5" stroke="#1a1a00" stroke-width="1.3"/>
<line x1="1562.7" y1="354.5" x2="1560.2" y2="351.8" stroke="#1a1a00" stroke-width="1.3"/>
<line x1="1560.2" y1="351.8" x2="1557.5" y2="349.0" stroke="#1a1a00" stroke-width="1.3"/>
<line x1="1557.5" y1="349.0" x2="1554.7" y2="346.3" stroke="#1a1a00" stroke-width="1.3"/>
<line x1="1554.7" y1="346.3" x2="1551.8" y2="343.6" stroke="#1a1a00" stroke-width="1.3"/>
<line x1="1551.8" y1="343.6" x2="1548.8" y2="341.0" stroke="#1a1a00" stroke-width="1.3"/>
<line x1="1548.8" y1="341.0" x2="1545.7" y2="338.4" stroke="#1a1a00" stroke-width="1.3"/>
<line x1="1545.7" y1="338.4" x2="1542.5" y2="335.9" stroke="#1a1a00" stroke-width="1.3"/>
<line x1="1542.5" y1="335.9" x2="1539.2" y2="333.4" stroke="#1a1a00" stroke-width="1.3"/>
<line x1="1539.2" y1="333.4" x2="1535.8" y2="331.0" stroke="#1a1a00" stroke-width="1.3"/>
<line x1="1535.8" y1="331.0" x2="1532.3" y2="328.6" stroke="#1a1a00" stroke-width="1.3"/>
<line x1="1532.3" y1="328.6" x2="1528.7" y2="326.2" stroke="#1a1a00" stroke-width="1.3"/>
<line x1="1528.7" y1="326.2" x2="1525.0" y2="323.9" stroke="#1a1a00" stroke-width="1.3"/>
<line x1="1525.0" y1="323.9" x2="1521.2" y2="321.6" stroke="#1a1a00" stroke-width="1.3"/>
<line x1="1521.2" y1="321.6" x2="1517.3" y2="319.5" stroke="#1a1a00" stroke-width="1.3"/>
<line x1="1517.3" y1="319.5" x2="1513.3" y2="317.3" stroke="#1a1a00" stroke-width="1.3"/>
<line x1="1513.3" y1="317.3" x2="1509.2" y2="315.2" stroke="#1a1a00" stroke-width="1.3"/>
<line x1="1509.2" y1="315.2" x2="1505.0" y2="313.2" stroke="#1a1a00" stroke-width="1.3"/>
<line x1="1505.0" y1="313.2" x2="1500.8" y2="311.2" stroke="#1a1a00" stroke-width="1.3"/>
<line x1="1500.8" y1="311.2" x2="1496.5" y2="309.3" stroke="#1a1a00" stroke-width="1.3"/>
<line x1="1496.5" y1="309.3" x2="1492.1" y2="307.5" stroke="#1a1a00" stroke-width="1.3"/>
<line x1="1492.1" y1="307.5" x2="1487.6" y2="305.7" stroke="#1a1a00" stroke-width="1.3"/>
<line x1="1487.6" y1="305.7" x2="1483.1" y2="303.9" stroke="#1a1a00" stroke-width="1.3"/>
<line x1="1483.1" y1="303.9" x2="1478.4" y2="302.3" stroke="#1a1a00" stroke-width="1.3"/>
<line x1="1478.4" y1="302.3" x2="1473.7" y2="300.7" stroke="#1a1a00" stroke-width="1.3"/>
<line x1="1473.7" y1="300.7" x2="1469.0" y2="299.1" stroke="#1a1a00" stroke-width="1.3"/>
<line x1="1469.0" y1="299.1" x2="1464.2" y2="297.7" stroke="#1a1a00" stroke-width="1.3"/>
<line x1="1464.2" y1="297.7" x2="1459.3" y2="296.3" stroke="#1a1a00" stroke-width="1.3"/>
<line x1="1459.3" y1="296.3" x2="1454.4" y2="294.9" stroke="#1a1a00" stroke-width="1.3"/>
<line x1="1454.4" y1="294.9" x2="1449.4" y2="293.6" stroke="#1a1a00" stroke-width="1.3"/>
<line x1="1449.4" y1="293.6" x2="1444.4" y2="292.4" stroke="#1a1a00" stroke-width="1.3"/>
<line x1="1444.4" y1="292.4" x2="1439.3" y2="291.3" stroke="#1a1a00" stroke-width="1.3"/>
<line x1="1439.3" y1="291.3" x2="1434.2" y2="290.3" stroke="#1a1a00" stroke-width="1.3"/>
<line x1="1434.2" y1="290.3" x2="1429.0" y2="289.3" stroke="#1a1a00" stroke-width="1.3"/>
<line x1="1429.0" y1="289.3" x2="1425.4" y2="288.5" stroke="#1a1a00" stroke-width="1.3"/>
<line x1="1425.4" y1="288.5" x2="1422.0" y2="287.5" stroke="#1a1a00" stroke-width="1.3"/>
<line x1="1422.0" y1="287.5" x2="1418.7" y2="286.3" stroke="#1a1a00" stroke-width="1.3"/>
<line x1="1418.7" y1="286.3" x2="1415.7" y2="284.9" stroke="#1a1a00" stroke-width="1.3"/>
<line x1="1415.7" y1="284.9" x2="1413.0" y2="283.4" stroke="#1a1a00" stroke-width="1.3"/>
<line x1="1413.0" y1="283.4" x2="1410.6" y2="281.6" stroke="#1a1a00" stroke-width="1.3"/>
<line x1="1410.6" y1="281.6" x2="1408.5" y2="279.8" stroke="#1a1a00" stroke-width="1.3"/>
<line x1="1408.5" y1="279.8" x2="1406.7" y2="277.8" stroke="#1a1a00" stroke-width="1.3"/>
<line x1="1406.7" y1="277.8" x2="1405.4" y2="275.7" stroke="#1a1a00" stroke-width="1.3"/>
<line x1="1405.4" y1="275.7" x2="1404.4" y2="273.6" stroke="#1a1a00" stroke-width="1.3"/>
<line x1="1404.4" y1="273.6" x2="1403.8" y2="271.4" stroke="#1a1a00" stroke-width="1.3"/>
<line x1="1403.8" y1="271.4" x2="1403.6" y2="269.2" stroke="#1a1a00" stroke-width="1.3"/>
<line x1="1795.0" y1="289.3" x2="1795.0" y2="247.1" stroke="#1a1a00" stroke-width="1"/>
<line x1="1646.8" y1="374.9" x2="1646.8" y2="332.7" stroke="#1a1a00" stroke-width="1"/>
<line x1="1577.2" y1="374.9" x2="1577.2" y2="332.7" stroke="#1a1a00" stroke-width="1"/>
<line x1="1429.0" y1="289.3" x2="1429.0" y2="247.1" stroke="#1a1a00" stroke-width="1"/>
<polygon points="1608.2,106.8 1612.0,106.7 1612.0,104.5 1609.1,104.6" fill="#8d0b0b" stroke="#8d0b0b" stroke-width="0.6" stroke-linejoin="round" />
<polygon points="1612.0,106.7 1615.8,106.8 1614.9,104.6 1612.0,104.5" fill="#8b0b0a" stroke="#8b0b0a" stroke-width="0.6" stroke-linejoin="round" />
<polygon points="1615.8,106.8 1619.6,107.1 1617.7,104.8 1614.9,104.6" fill="#890a0a" stroke="#890a0a" stroke-width="0.6" stroke-linejoin="round" />
<polygon points="1604.4,107.1 1608.2,106.8 1609.1,104.6 1606.3,104.8" fill="#8f0c0b" stroke="#8f0c0b" stroke-width="0.6" stroke-linejoin="round" />
<polygon points="1600.7,107.7 1604.4,107.1 1606.3,104.8 1603.5,105.3" fill="#920d0c" stroke="#920d0c" stroke-width="0.6" stroke-linejoin="round" />
<polygon points="1619.6,107.1 1623.3,107.7 1620.5,105.3 1617.7,104.8" fill="#890a0a" stroke="#890a0a" stroke-width="0.6" stroke-linejoin="round" />
<polygon points="1597.1,108.5 1600.7,107.7 1603.5,105.3 1600.8,105.9" fill="#960e0d" stroke="#960e0d" stroke-width="0.6" stroke-linejoin="round" />
<polygon points="1623.3,107.7 1626.9,108.5 1623.2,105.9 1620.5,105.3" fill="#890a0a" stroke="#890a0a" stroke-width="0.6" stroke-linejoin="round" />
<polygon points="1626.9,108.5 1630.3,109.5 1625.7,106.6 1623.2,105.9" fill="#890a0a" stroke="#890a0a" stroke-width="0.6" stroke-linejoin="round" />
<polygon points="1593.7,109.5 1597.1,108.5 1600.8,105.9 1598.3,106.6" fill="#9a0f0e" stroke="#9a0f0e" stroke-width="0.6" stroke-linejoin="round" />
<polygon points="1630.3,109.5 1633.5,110.7 1628.2,107.5 1625.7,106.6" fill="#8b0b0a" stroke="#8b0b0a" stroke-width="0.6" stroke-linejoin="round" />
<polygon points="1590.5,110.7 1593.7,109.5 1598.3,106.6 1595.8,107.5" fill="#9e110f" stroke="#9e110f" stroke-width="0.6" stroke-linejoin="round" />
<polygon points="1633.5,110.7 1636.5,112.1 1630.4,108.6 1628.2,107.5" fill="#8c0b0b" stroke="#8c0b0b" stroke-width="0.6" stroke-linejoin="round" />
<polygon points="1587.5,112.1 1590.5,110.7 1595.8,107.5 1593.6,108.6" fill="#a31211" stroke="#a31211" stroke-width="0.6" stroke-linejoin="round" />
<polygon points="1636.5,112.1 1639.2,113.7 1632.4,109.8 1630.4,108.6" fill="#8f0c0b" stroke="#8f0c0b" stroke-width="0.6" stroke-linejoin="round" />
<polygon points="1584.8,113.7 1587.5,112.1 1593.6,108.6 1591.6,109.8" fill="#a81412" stroke="#a81412" stroke-width="0.6" stroke-linejoin="round" />
<polygon points="1639.2,113.7 1641.6,115.4 1634.2,111.0 1632.4,109.8" fill="#920d0c" stroke="#920d0c" stroke-width="0.6" stroke-linejoin="round" />
<polygon points="1582.4,115.4 1584.8,113.7 1591.6,109.8 1589.8,111.0" fill="#ae1514" stroke="#ae1514" stroke-width="0.6" stroke-linejoin="round" />
<polygon points="1641.6,115.4 1643.7,117.3 1635.8,112.4 1634.2,111.0" fill="#950e0d" stroke="#950e0d" stroke-width="0.6" stroke-linejoin="round" />
<polygon points="1580.3,117.3 1582.4,115.4 1589.8,111.0 1588.2,112.4" fill="#b31715" stroke="#b31715" stroke-width="0.6" stroke-linejoin="round" />
<polygon points="1643.7,117.3 1645.4,119.3 1637.1,113.9 1635.8,112.4" fill="#990f0e" stroke="#990f0e" stroke-width="0.6" stroke-linejoin="round" />
<polygon points="1578.6,119.3 1580.3,117.3 1588.2,112.4 1586.9,113.9" fill="#b91917" stroke="#b91917" stroke-width="0.6" stroke-linejoin="round" />
<polygon points="1645.4,119.3 1646.8,121.3 1638.1,115.5 1637.1,113.9" fill="#9e110f" stroke="#9e110f" stroke-width="0.6" stroke-linejoin="round" />
<polygon points="1577.2,121.3 1578.6,119.3 1586.9,113.9 1585.9,115.5" fill="#bf1b18" stroke="#bf1b18" stroke-width="0.6" stroke-linejoin="round" />
<polygon points="1646.8,121.3 1648.5,124.3 1639.9,118.6 1638.1,115.5" fill="#9f1110" stroke="#9f1110" stroke-width="0.6" stroke-linejoin="round" />
<polygon points="1575.5,124.3 1577.2,121.3 1585.9,115.5 1584.1,118.6" fill="#c11c19" stroke="#c11c19" stroke-width="0.6" stroke-linejoin="round" />
<polygon points="1648.5,124.3 1650.3,127.3 1641.8,121.7 1639.9,118.6" fill="#9e1110" stroke="#9e1110" stroke-width="0.6" stroke-linejoin="round" />
<polygon points="1573.7,127.3 1575.5,124.3 1584.1,118.6 1582.2,121.7" fill="#c01b19" stroke="#c01b19" stroke-width="0.6" stroke-linejoin="round" />
<polygon points="1650.3,127.3 1652.3,130.2 1643.8,124.7 1641.8,121.7" fill="#9d100f" stroke="#9d100f" stroke-width="0.6" stroke-linejoin="round" />
<polygon points="1571.7,130.2 1573.7,127.3 1582.2,121.7 1580.2,124.7" fill="#bf1b18" stroke="#bf1b18" stroke-width="0.6" stroke-linejoin="round" />
<polygon points="1652.3,130.2 1654.3,133.1 1646.0,127.7 1643.8,124.7" fill="#9c100f" stroke="#9c100f" stroke-width="0.6" stroke-linejoin="round" />
<polygon points="1569.7,133.1 1571.7,130.2 1580.2,124.7 1578.0,127.7" fill="#bd1a18" stroke="#bd1a18" stroke-width="0.6" stroke-linejoin="round" />
<polygon points="1654.3,133.1 1656.5,136.0 1648.2,130.7 1646.0,127.7" fill="#9b100f" stroke="#9b100f" stroke-width="0.6" stroke-linejoin="round" />
<polygon points="1567.5,136.0 1569.7,133.1 1578.0,127.7 1575.8,130.7" fill="#bc1a17" stroke="#bc1a17" stroke-width="0.6" stroke-linejoin="round" />
<polygon points="1656.5,136.0 1658.9,138.8 1650.6,133.7 1648.2,130.7" fill="#9a0f0e" stroke="#9a0f0e" stroke-width="0.6" stroke-linejoin="round" />
<polygon points="1565.1,138.8 1567.5,136.0 1575.8,130.7 1573.4,133.7" fill="#bb1917" stroke="#bb1917" stroke-width="0.6" stroke-linejoin="round" />
<polygon points="1658.9,138.8 1661.3,141.7 1653.2,136.6 1650.6,133.7" fill="#990f0e" stroke="#990f0e" stroke-width="0.6" stroke-linejoin="round" />
<polygon points="1562.7,141.7 1565.1,138.8 1573.4,133.7 1570.8,136.6" fill="#b91917" stroke="#b91917" stroke-width="0.6" stroke-linejoin="round" />
<polygon points="1661.3,141.7 1663.8,144.4 1655.8,139.5 1653.2,136.6" fill="#980f0e" stroke="#980f0e" stroke-width="0.6" stroke-linejoin="round" />
<polygon points="1560.2,144.4 1562.7,141.7 1570.8,136.6 1568.2,139.5" fill="#b81916" stroke="#b81916" stroke-width="0.6" stroke-linejoin="round" />
<polygon points="1663.8,144.4 1666.5,147.2 1658.6,142.4 1655.8,139.5" fill="#970f0e" stroke="#970f0e" stroke-width="0.6" stroke-linejoin="round" />
<polygon points="1557.5,147.2 1560.2,144.4 1568.2,139.5 1565.4,142.4" fill="#b71816" stroke="#b71816" stroke-width="0.6" stroke-linejoin="round" />
<polygon points="1666.5,147.2 1669.3,149.9 1661.5,145.2 1658.6,142.4" fill="#970e0d" stroke="#970e0d" stroke-width="0.6" stroke-linejoin="round" />
<polygon points="1554.7,149.9 1557.5,147.2 1565.4,142.4 1562.5,145.2" fill="#b51816" stroke="#b51816" stroke-width="0.6" stroke-linejoin="round" />
<polygon points="1669.3,149.9 1672.2,152.6 1664.5,148.0 1661.5,145.2" fill="#960e0d" stroke="#960e0d" stroke-width="0.6" stroke-linejoin="round" />
<polygon points="1551.8,152.6 1554.7,149.9 1562.5,145.2 1559.5,148.0" fill="#b41715" stroke="#b41715" stroke-width="0.6" stroke-linejoin="round" />
<polygon points="1672.2,152.6 1675.2,155.2 1667.6,150.7 1664.5,148.0" fill="#950e0d" stroke="#950e0d" stroke-width="0.6" stroke-linejoin="round" />
<polygon points="1548.8,155.2 1551.8,152.6 1559.5,148.0 1556.4,150.7" fill="#b31715" stroke="#b31715" stroke-width="0.6" stroke-linejoin="round" />
<polygon points="1545.7,157.8 1548.8,155.2 1556.4,150.7 1553.2,153.4" fill="#b11715" stroke="#b11715" stroke-width="0.6" stroke-linejoin="round" />
<polygon points="1675.2,155.2 1678.3,157.8 1670.8,153.4 1667.6,150.7" fill="#940e0d" stroke="#940e0d" stroke-width="0.6" stroke-linejoin="round" />
<polygon points="1678.3,157.8 1681.5,160.3 1674.2,156.0 1670.8,153.4" fill="#930d0d" stroke="#930d0d" stroke-width="0.6" stroke-linejoin="round" />
<polygon points="1542.5,160.3 1545.7,157.8 1553.2,153.4 1549.8,156.0" fill="#b01614" stroke="#b01614" stroke-width="0.6" stroke-linejoin="round" />
<polygon points="1539.2,162.8 1542.5,160.3 1549.8,156.0 1546.4,158.6" fill="#af1614" stroke="#af1614" stroke-width="0.6" stroke-linejoin="round" />
<polygon points="1681.5,160.3 1684.8,162.8 1677.6,158.6 1674.2,156.0" fill="#920d0c" stroke="#920d0c" stroke-width="0.6" stroke-linejoin="round" />
<polygon points="1684.8,162.8 1688.2,165.3 1681.2,161.2 1677.6,158.6" fill="#920d0c" stroke="#920d0c" stroke-width="0.6" stroke-linejoin="round" />
<polygon points="1535.8,165.3 1539.2,162.8 1546.4,158.6 1542.8,161.2" fill="#ae1514" stroke="#ae1514" stroke-width="0.6" stroke-linejoin="round" />
<polygon points="1532.3,167.7 1535.8,165.3 1542.8,161.2 1539.2,163.7" fill="#ac1513" stroke="#ac1513" stroke-width="0.6" stroke-linejoin="round" />
<polygon points="1688.2,165.3 1691.7,167.7 1684.8,163.7 1681.2,161.2" fill="#910d0c" stroke="#910d0c" stroke-width="0.6" stroke-linejoin="round" />
<polygon points="1528.7,170.0 1532.3,167.7 1539.2,163.7 1535.4,166.1" fill="#ab1513" stroke="#ab1513" stroke-width="0.6" stroke-linejoin="round" />
<polygon points="1691.7,167.7 1695.3,170.0 1688.6,166.1 1684.8,163.7" fill="#900c0c" stroke="#900c0c" stroke-width="0.6" stroke-linejoin="round" />
<polygon points="1525.0,172.3 1528.7,170.0 1535.4,166.1 1531.6,168.5" fill="#aa1413" stroke="#aa1413" stroke-width="0.6" stroke-linejoin="round" />
<polygon points="1695.3,170.0 1699.0,172.3 1692.4,168.5 1688.6,166.1" fill="#900c0c" stroke="#900c0c" stroke-width="0.6" stroke-linejoin="round" />
<polygon points="1521.2,174.6 1525.0,172.3 1531.6,168.5 1527.6,170.8" fill="#a91412" stroke="#a91412" stroke-width="0.6" stroke-linejoin="round" />
<polygon points="1699.0,172.3 1702.8,174.6 1696.4,170.8 1692.4,168.5" fill="#8f0c0b" stroke="#8f0c0b" stroke-width="0.6" stroke-linejoin="round" />
<polygon points="1702.8,174.6 1706.7,176.8 1700.4,173.1 1696.4,170.8" fill="#8e0c0b" stroke="#8e0c0b" stroke-width="0.6" stroke-linejoin="round" />
<polygon points="1517.3,176.8 1521.2,174.6 1527.6,170.8 1523.6,173.1" fill="#a71412" stroke="#a71412" stroke-width="0.6" stroke-linejoin="round" />
<polygon points="1706.7,176.8 1710.7,178.9 1704.6,175.3 1700.4,173.1" fill="#8e0c0b" stroke="#8e0c0b" stroke-width="0.6" stroke-linejoin="round" />
<polygon points="1513.3,178.9 1517.3,176.8 1523.6,173.1 1519.4,175.3" fill="#a61312" stroke="#a61312" stroke-width="0.6" stroke-linejoin="round" />
<polygon points="1710.7,178.9 1714.8,181.0 1708.8,177.5 1704.6,175.3" fill="#8d0b0b" stroke="#8d0b0b" stroke-width="0.6" stroke-linejoin="round" />
<polygon points="1509.2,181.0 1513.3,178.9 1519.4,175.3 1515.2,177.5" fill="#a51311" stroke="#a51311" stroke-width="0.6" stroke-linejoin="round" />
<polygon points="1505.0,183.0 1509.2,181.0 1515.2,177.5 1510.8,179.6" fill="#a41211" stroke="#a41211" stroke-width="0.6" stroke-linejoin="round" />
<polygon points="1714.8,181.0 1719.0,183.0 1713.2,179.6 1708.8,177.5" fill="#8d0b0b" stroke="#8d0b0b" stroke-width="0.6" stroke-linejoin="round" />
<polygon points="1500.8,185.0 1505.0,183.0 1510.8,179.6 1506.4,181.7" fill="#a31211" stroke="#a31211" stroke-width="0.6" stroke-linejoin="round" />
<polygon points="1719.0,183.0 1723.2,185.0 1717.6,181.7 1713.2,179.6" fill="#8c0b0b" stroke="#8c0b0b" stroke-width="0.6" stroke-linejoin="round" />
<polygon points="1496.5,186.9 1500.8,185.0 1506.4,181.7 1501.9,183.7" fill="#a21210" stroke="#a21210" stroke-width="0.6" stroke-linejoin="round" />
<polygon points="1723.2,185.0 1727.5,186.9 1722.1,183.7 1717.6,181.7" fill="#8c0b0b" stroke="#8c0b0b" stroke-width="0.6" stroke-linejoin="round" />
<polygon points="1492.1,188.7 1496.5,186.9 1501.9,183.7 1497.4,185.6" fill="#a01110" stroke="#a01110" stroke-width="0.6" stroke-linejoin="round" />
<polygon points="1727.5,186.9 1731.9,188.7 1726.6,185.6 1722.1,183.7" fill="#8b0b0a" stroke="#8b0b0a" stroke-width="0.6" stroke-linejoin="round" />
<polygon points="1487.6,190.5 1492.1,188.7 1497.4,185.6 1492.7,187.5" fill="#9f1110" stroke="#9f1110" stroke-width="0.6" stroke-linejoin="round" />
<polygon points="1731.9,188.7 1736.4,190.5 1731.3,187.5 1726.6,185.6" fill="#8b0b0a" stroke="#8b0b0a" stroke-width="0.6" stroke-linejoin="round" />
<polygon points="1483.1,192.3 1487.6,190.5 1492.7,187.5 1488.0,189.3" fill="#9e1110" stroke="#9e1110" stroke-width="0.6" stroke-linejoin="round" />
<polygon points="1736.4,190.5 1740.9,192.3 1736.0,189.3 1731.3,187.5" fill="#8b0b0a" stroke="#8b0b0a" stroke-width="0.6" stroke-linejoin="round" />
<polygon points="1478.4,193.9 1483.1,192.3 1488.0,189.3 1483.2,191.0" fill="#9d100f" stroke="#9d100f" stroke-width="0.6" stroke-linejoin="round" />
<polygon points="1740.9,192.3 1745.6,193.9 1740.8,191.0 1736.0,189.3" fill="#8a0b0a" stroke="#8a0b0a" stroke-width="0.6" stroke-linejoin="round" />
<polygon points="1745.6,193.9 1750.3,195.5 1745.7,192.7 1740.8,191.0" fill="#8a0a0a" stroke="#8a0a0a" stroke-width="0.6" stroke-linejoin="round" />
<polygon points="1473.7,195.5 1478.4,193.9 1483.2,191.0 1478.3,192.7" fill="#9c100f" stroke="#9c100f" stroke-width="0.6" stroke-linejoin="round" />
<polygon points="1469.0,197.1 1473.7,195.5 1478.3,192.7 1473.4,194.3" fill="#9b100f" stroke="#9b100f" stroke-width="0.6" stroke-linejoin="round" />
<polygon points="1750.3,195.5 1755.0,197.1 1750.6,194.3 1745.7,192.7" fill="#8a0a0a" stroke="#8a0a0a" stroke-width="0.6" stroke-linejoin="round" />
<polygon points="1464.2,198.5 1469.0,197.1 1473.4,194.3 1468.4,195.8" fill="#9a0f0e" stroke="#9a0f0e" stroke-width="0.6" stroke-linejoin="round" />
<polygon points="1755.0,197.1 1759.8,198.5 1755.6,195.8 1750.6,194.3" fill="#890a0a" stroke="#890a0a" stroke-width="0.6" stroke-linejoin="round" />
<polygon points="1459.3,200.0 1464.2,198.5 1468.4,195.8 1463.3,197.2" fill="#990f0e" stroke="#990f0e" stroke-width="0.6" stroke-linejoin="round" />
<polygon points="1759.8,198.5 1764.7,200.0 1760.7,197.2 1755.6,195.8" fill="#890a0a" stroke="#890a0a" stroke-width="0.6" stroke-linejoin="round" />
<polygon points="1454.4,201.3 1459.3,200.0 1463.3,197.2 1458.2,198.6" fill="#980f0e" stroke="#980f0e" stroke-width="0.6" stroke-linejoin="round" />
<polygon points="1764.7,200.0 1769.6,201.3 1765.8,198.6 1760.7,197.2" fill="#890a0a" stroke="#890a0a" stroke-width="0.6" stroke-linejoin="round" />
<polygon points="1449.4,202.6 1454.4,201.3 1458.2,198.6 1453.0,200.0" fill="#970f0e" stroke="#970f0e" stroke-width="0.6" stroke-linejoin="round" />
<polygon points="1769.6,201.3 1774.6,202.6 1771.0,200.0 1765.8,198.6" fill="#890a0a" stroke="#890a0a" stroke-width="0.6" stroke-linejoin="round" />
<polygon points="1774.6,202.6 1779.6,203.8 1776.3,201.2 1771.0,200.0" fill="#890a0a" stroke="#890a0a" stroke-width="0.6" stroke-linejoin="round" />
<polygon points="1444.4,203.8 1449.4,202.6 1453.0,200.0 1447.7,201.2" fill="#960e0d" stroke="#960e0d" stroke-width="0.6" stroke-linejoin="round" />
<polygon points="1779.6,203.8 1784.7,204.9 1781.5,202.4 1776.3,201.2" fill="#890a0a" stroke="#890a0a" stroke-width="0.6" stroke-linejoin="round" />
<polygon points="1439.3,204.9 1444.4,203.8 1447.7,201.2 1442.5,202.4" fill="#960e0d" stroke="#960e0d" stroke-width="0.6" stroke-linejoin="round" />
<polygon points="1434.2,205.9 1439.3,204.9 1442.5,202.4 1437.1,203.5" fill="#950e0d" stroke="#950e0d" stroke-width="0.6" stroke-linejoin="round" />
<polygon points="1784.7,204.9 1789.8,205.9 1786.9,203.5 1781.5,202.4" fill="#890a0a" stroke="#890a0a" stroke-width="0.6" stroke-linejoin="round" />
<polygon points="1429.0,206.9 1434.2,205.9 1437.1,203.5 1431.7,204.5" fill="#940e0d" stroke="#940e0d" stroke-width="0.6" stroke-linejoin="round" />
<polygon points="1789.8,205.9 1795.0,206.9 1792.3,204.5 1786.9,203.5" fill="#890a0a" stroke="#890a0a" stroke-width="0.6" stroke-linejoin="round" />
<polygon points="1795.0,206.9 1798.6,207.7 1794.9,205.1 1792.3,204.5" fill="#890a0a" stroke="#890a0a" stroke-width="0.6" stroke-linejoin="round" />
<polygon points="1425.4,207.7 1429.0,206.9 1431.7,204.5 1429.1,205.1" fill="#950e0d" stroke="#950e0d" stroke-width="0.6" stroke-linejoin="round" />
<polygon points="1798.6,207.7 1802.0,208.7 1797.5,205.8 1794.9,205.1" fill="#890a0a" stroke="#890a0a" stroke-width="0.6" stroke-linejoin="round" />
<polygon points="1422.0,208.7 1425.4,207.7 1429.1,205.1 1426.5,205.8" fill="#990f0e" stroke="#990f0e" stroke-width="0.6" stroke-linejoin="round" />
<polygon points="1802.0,208.7 1805.3,209.9 1799.9,206.7 1797.5,205.8" fill="#8a0b0a" stroke="#8a0b0a" stroke-width="0.6" stroke-linejoin="round" />
<polygon points="1418.7,209.9 1422.0,208.7 1426.5,205.8 1424.1,206.7" fill="#9e110f" stroke="#9e110f" stroke-width="0.6" stroke-linejoin="round" />
<polygon points="1415.7,211.3 1418.7,209.9 1424.1,206.7 1421.8,207.8" fill="#a31211" stroke="#a31211" stroke-width="0.6" stroke-linejoin="round" />
<polygon points="1805.3,209.9 1808.3,211.3 1802.2,207.8 1799.9,206.7" fill="#8c0b0b" stroke="#8c0b0b" stroke-width="0.6" stroke-linejoin="round" />
<polygon points="1808.3,211.3 1811.0,212.9 1804.2,208.9 1802.2,207.8" fill="#8f0c0b" stroke="#8f0c0b" stroke-width="0.6" stroke-linejoin="round" />
<polygon points="1413.0,212.9 1415.7,211.3 1421.8,207.8 1419.8,208.9" fill="#a81412" stroke="#a81412" stroke-width="0.6" stroke-linejoin="round" />
<polygon points="1811.0,212.9 1813.4,214.6 1806.1,210.2 1804.2,208.9" fill="#910d0c" stroke="#910d0c" stroke-width="0.6" stroke-linejoin="round" />
<polygon points="1410.6,214.6 1413.0,212.9 1419.8,208.9 1417.9,210.2" fill="#ad1514" stroke="#ad1514" stroke-width="0.6" stroke-linejoin="round" />
<polygon points="1813.4,214.6 1815.5,216.4 1807.6,211.6 1806.1,210.2" fill="#950e0d" stroke="#950e0d" stroke-width="0.6" stroke-linejoin="round" />
<polygon points="1408.5,216.4 1410.6,214.6 1417.9,210.2 1416.4,211.6" fill="#b31715" stroke="#b31715" stroke-width="0.6" stroke-linejoin="round" />
<polygon points="1815.5,216.4 1817.3,218.4 1808.9,213.1 1807.6,211.6" fill="#990f0e" stroke="#990f0e" stroke-width="0.6" stroke-linejoin="round" />
<polygon points="1406.7,218.4 1408.5,216.4 1416.4,211.6 1415.1,213.1" fill="#b91917" stroke="#b91917" stroke-width="0.6" stroke-linejoin="round" />
<polygon points="1817.3,218.4 1818.6,220.5 1810.0,214.7 1808.9,213.1" fill="#9d100f" stroke="#9d100f" stroke-width="0.6" stroke-linejoin="round" />
<polygon points="1405.4,220.5 1406.7,218.4 1415.1,213.1 1414.0,214.7" fill="#bf1b18" stroke="#bf1b18" stroke-width="0.6" stroke-linejoin="round" />
<polygon points="1818.6,220.5 1819.6,222.6 1810.7,216.3 1810.0,214.7" fill="#a21211" stroke="#a21211" stroke-width="0.6" stroke-linejoin="round" />
<polygon points="1404.4,222.6 1405.4,220.5 1414.0,214.7 1413.3,216.3" fill="#c51d1a" stroke="#c51d1a" stroke-width="0.6" stroke-linejoin="round" />
<polygon points="1819.6,222.6 1820.2,224.8 1811.2,217.9 1810.7,216.3" fill="#a71312" stroke="#a71312" stroke-width="0.6" stroke-linejoin="round" />
<polygon points="1403.8,224.8 1404.4,222.6 1413.3,216.3 1412.8,217.9" fill="#ca1e1b" stroke="#ca1e1b" stroke-width="0.6" stroke-linejoin="round" />
<polygon points="1820.2,224.8 1820.4,227.0 1811.3,219.6 1811.2,217.9" fill="#ad1513" stroke="#ad1513" stroke-width="0.6" stroke-linejoin="round" />
<polygon points="1403.6,227.0 1403.8,224.8 1412.8,217.9 1412.7,219.6" fill="#d0201d" stroke="#d0201d" stroke-width="0.6" stroke-linejoin="round" />
<polygon points="1820.4,227.0 1820.2,229.2 1811.2,221.2 1811.3,219.6" fill="#b21715" stroke="#b21715" stroke-width="0.6" stroke-linejoin="round" />
<polygon points="1403.8,229.2 1403.6,227.0 1412.7,219.6 1412.8,221.2" fill="#d6221e" stroke="#d6221e" stroke-width="0.6" stroke-linejoin="round" />
<polygon points="1820.2,229.2 1819.6,231.4 1810.7,222.9 1811.2,221.2" fill="#b81916" stroke="#b81916" stroke-width="0.6" stroke-linejoin="round" />
<polygon points="1404.4,231.4 1403.8,229.2 1412.8,221.2 1413.3,222.9" fill="#db2420" stroke="#db2420" stroke-width="0.6" stroke-linejoin="round" />
<polygon points="1405.4,233.5 1404.4,231.4 1413.3,222.9 1414.0,224.5" fill="#e02521" stroke="#e02521" stroke-width="0.6" stroke-linejoin="round" />
<polygon points="1819.6,231.4 1818.6,233.5 1810.0,224.5 1810.7,222.9" fill="#be1a18" stroke="#be1a18" stroke-width="0.6" stroke-linejoin="round" />
<polygon points="1818.6,233.5 1817.3,235.6 1808.9,226.0 1810.0,224.5" fill="#c41c1a" stroke="#c41c1a" stroke-width="0.6" stroke-linejoin="round" />
<polygon points="1406.7,235.6 1405.4,233.5 1414.0,224.5 1415.1,226.0" fill="#e52722" stroke="#e52722" stroke-width="0.6" stroke-linejoin="round" />
<polygon points="1817.3,235.6 1815.5,237.6 1807.6,227.5 1808.9,226.0" fill="#ca1e1b" stroke="#ca1e1b" stroke-width="0.6" stroke-linejoin="round" />
<polygon points="1408.5,237.6 1406.7,235.6 1415.1,226.0 1416.4,227.5" fill="#ea2824" stroke="#ea2824" stroke-width="0.6" stroke-linejoin="round" />
<polygon points="1815.5,237.6 1813.4,239.4 1806.1,228.9 1807.6,227.5" fill="#d0201d" stroke="#d0201d" stroke-width="0.6" stroke-linejoin="round" />
<polygon points="1410.6,239.4 1408.5,237.6 1416.4,227.5 1417.9,228.9" fill="#ee2925" stroke="#ee2925" stroke-width="0.6" stroke-linejoin="round" />
<polygon points="1413.0,241.2 1410.6,239.4 1417.9,228.9 1419.8,230.2" fill="#f12a26" stroke="#f12a26" stroke-width="0.6" stroke-linejoin="round" />
<polygon points="1813.4,239.4 1811.0,241.2 1804.2,230.2 1806.1,228.9" fill="#d5221e" stroke="#d5221e" stroke-width="0.6" stroke-linejoin="round" />
<polygon points="1811.0,241.2 1808.3,242.7 1802.2,231.3 1804.2,230.2" fill="#db2320" stroke="#db2320" stroke-width="0.6" stroke-linejoin="round" />
<polygon points="1415.7,242.7 1413.0,241.2 1419.8,230.2 1421.8,231.3" fill="#f42b26" stroke="#f42b26" stroke-width="0.6" stroke-linejoin="round" />
<polygon points="1808.3,242.7 1805.3,244.1 1799.9,232.4 1802.2,231.3" fill="#e02521" stroke="#e02521" stroke-width="0.6" stroke-linejoin="round" />
<polygon points="1418.7,244.1 1415.7,242.7 1421.8,231.3 1424.1,232.4" fill="#f62c27" stroke="#f62c27" stroke-width="0.6" stroke-linejoin="round" />
<polygon points="1805.3,244.1 1802.0,245.3 1797.5,233.3 1799.9,232.4" fill="#e52622" stroke="#e52622" stroke-width="0.6" stroke-linejoin="round" />
<polygon points="1422.0,245.3 1418.7,244.1 1424.1,232.4 1426.5,233.3" fill="#f82c27" stroke="#f82c27" stroke-width="0.6" stroke-linejoin="round" />
<polygon points="1802.0,245.3 1798.6,246.3 1794.9,234.0 1797.5,233.3" fill="#e92824" stroke="#e92824" stroke-width="0.6" stroke-linejoin="round" />
<polygon points="1425.4,246.3 1422.0,245.3 1426.5,233.3 1429.1,234.0" fill="#f92d28" stroke="#f92d28" stroke-width="0.6" stroke-linejoin="round" />
<polygon points="1798.6,246.3 1795.0,247.1 1792.3,234.6 1794.9,234.0" fill="#ed2925" stroke="#ed2925" stroke-width="0.6" stroke-linejoin="round" />
<polygon points="1429.0,247.1 1425.4,246.3 1429.1,234.0 1431.7,234.6" fill="#fa2d28" stroke="#fa2d28" stroke-width="0.6" stroke-linejoin="round" />
<polygon points="1795.0,247.1 1789.8,248.1 1786.9,235.6 1792.3,234.6" fill="#ef2925" stroke="#ef2925" stroke-width="0.6" stroke-linejoin="round" />
<polygon points="1434.2,248.1 1429.0,247.1 1431.7,234.6 1437.1,235.6" fill="#fa2d28" stroke="#fa2d28" stroke-width="0.6" stroke-linejoin="round" />
<polygon points="1789.8,248.1 1784.7,249.1 1781.5,236.7 1786.9,235.6" fill="#ee2925" stroke="#ee2925" stroke-width="0.6" stroke-linejoin="round" />
<polygon points="1439.3,249.1 1434.2,248.1 1437.1,235.6 1442.5,236.7" fill="#fa2d28" stroke="#fa2d28" stroke-width="0.6" stroke-linejoin="round" />
<polygon points="1784.7,249.1 1779.6,250.3 1776.3,237.9 1781.5,236.7" fill="#ed2925" stroke="#ed2925" stroke-width="0.6" stroke-linejoin="round" />
<polygon points="1444.4,250.3 1439.3,249.1 1442.5,236.7 1447.7,237.9" fill="#fa2d28" stroke="#fa2d28" stroke-width="0.6" stroke-linejoin="round" />
<polygon points="1779.6,250.3 1774.6,251.5 1771.0,239.2 1776.3,237.9" fill="#ec2924" stroke="#ec2924" stroke-width="0.6" stroke-linejoin="round" />
<polygon points="1449.4,251.5 1444.4,250.3 1447.7,237.9 1453.0,239.2" fill="#fa2d28" stroke="#fa2d28" stroke-width="0.6" stroke-linejoin="round" />
<polygon points="1774.6,251.5 1769.6,252.7 1765.8,240.5 1771.0,239.2" fill="#eb2824" stroke="#eb2824" stroke-width="0.6" stroke-linejoin="round" />
<polygon points="1454.4,252.7 1449.4,251.5 1453.0,239.2 1458.2,240.5" fill="#fa2d28" stroke="#fa2d28" stroke-width="0.6" stroke-linejoin="round" />
<polygon points="1769.6,252.7 1764.7,254.1 1760.7,241.9 1765.8,240.5" fill="#ea2824" stroke="#ea2824" stroke-width="0.6" stroke-linejoin="round" />
<polygon points="1459.3,254.1 1454.4,252.7 1458.2,240.5 1463.3,241.9" fill="#f92d28" stroke="#f92d28" stroke-width="0.6" stroke-linejoin="round" />
<polygon points="1764.7,254.1 1759.8,255.5 1755.6,243.3 1760.7,241.9" fill="#e92824" stroke="#e92824" stroke-width="0.6" stroke-linejoin="round" />
<polygon points="1464.2,255.5 1459.3,254.1 1463.3,241.9 1468.4,243.3" fill="#f92d28" stroke="#f92d28" stroke-width="0.6" stroke-linejoin="round" />
<polygon points="1759.8,255.5 1755.0,256.9 1750.6,244.9 1755.6,243.3" fill="#e82823" stroke="#e82823" stroke-width="0.6" stroke-linejoin="round" />
<polygon points="1469.0,256.9 1464.2,255.5 1468.4,243.3 1473.4,244.9" fill="#f92d28" stroke="#f92d28" stroke-width="0.6" stroke-linejoin="round" />
<polygon points="1755.0,256.9 1750.3,258.5 1745.7,246.5 1750.6,244.9" fill="#e72723" stroke="#e72723" stroke-width="0.6" stroke-linejoin="round" />
<polygon points="1473.7,258.5 1469.0,256.9 1473.4,244.9 1478.3,246.5" fill="#f92d28" stroke="#f92d28" stroke-width="0.6" stroke-linejoin="round" />
<polygon points="1750.3,258.5 1745.6,260.1 1740.8,248.1 1745.7,246.5" fill="#e62723" stroke="#e62723" stroke-width="0.6" stroke-linejoin="round" />
<polygon points="1478.4,260.1 1473.7,258.5 1478.3,246.5 1483.2,248.1" fill="#f92d28" stroke="#f92d28" stroke-width="0.6" stroke-linejoin="round" />
<polygon points="1745.6,260.1 1740.9,261.7 1736.0,249.9 1740.8,248.1" fill="#e52722" stroke="#e52722" stroke-width="0.6" stroke-linejoin="round" />
<polygon points="1483.1,261.7 1478.4,260.1 1483.2,248.1 1488.0,249.9" fill="#f82c28" stroke="#f82c28" stroke-width="0.6" stroke-linejoin="round" />
<polygon points="1740.9,261.7 1736.4,263.5 1731.3,251.7 1736.0,249.9" fill="#e42622" stroke="#e42622" stroke-width="0.6" stroke-linejoin="round" />
<polygon points="1487.6,263.5 1483.1,261.7 1488.0,249.9 1492.7,251.7" fill="#f82c27" stroke="#f82c27" stroke-width="0.6" stroke-linejoin="round" />
<polygon points="1736.4,263.5 1731.9,265.3 1726.6,253.5 1731.3,251.7" fill="#e32622" stroke="#e32622" stroke-width="0.6" stroke-linejoin="round" />
<polygon points="1492.1,265.3 1487.6,263.5 1492.7,251.7 1497.4,253.5" fill="#f82c27" stroke="#f82c27" stroke-width="0.6" stroke-linejoin="round" />
<polygon points="1731.9,265.3 1727.5,267.1 1722.1,255.4 1726.6,253.5" fill="#e22622" stroke="#e22622" stroke-width="0.6" stroke-linejoin="round" />
<polygon points="1496.5,267.1 1492.1,265.3 1497.4,253.5 1501.9,255.4" fill="#f72c27" stroke="#f72c27" stroke-width="0.6" stroke-linejoin="round" />
<polygon points="1727.5,267.1 1723.2,269.0 1717.6,257.4 1722.1,255.4" fill="#e12521" stroke="#e12521" stroke-width="0.6" stroke-linejoin="round" />
<polygon points="1500.8,269.0 1496.5,267.1 1501.9,255.4 1506.4,257.4" fill="#f72c27" stroke="#f72c27" stroke-width="0.6" stroke-linejoin="round" />
<polygon points="1723.2,269.0 1719.0,271.0 1713.2,259.5 1717.6,257.4" fill="#e02521" stroke="#e02521" stroke-width="0.6" stroke-linejoin="round" />
<polygon points="1505.0,271.0 1500.8,269.0 1506.4,257.4 1510.8,259.5" fill="#f62c27" stroke="#f62c27" stroke-width="0.6" stroke-linejoin="round" />
<polygon points="1719.0,271.0 1714.8,273.0 1708.8,261.6 1713.2,259.5" fill="#df2521" stroke="#df2521" stroke-width="0.6" stroke-linejoin="round" />
<polygon points="1509.2,273.0 1505.0,271.0 1510.8,259.5 1515.2,261.6" fill="#f62c27" stroke="#f62c27" stroke-width="0.6" stroke-linejoin="round" />
<polygon points="1714.8,273.0 1710.7,275.1 1704.6,263.8 1708.8,261.6" fill="#de2420" stroke="#de2420" stroke-width="0.6" stroke-linejoin="round" />
<polygon points="1513.3,275.1 1509.2,273.0 1515.2,261.6 1519.4,263.8" fill="#f52c27" stroke="#f52c27" stroke-width="0.6" stroke-linejoin="round" />
<polygon points="1710.7,275.1 1706.7,277.3 1700.4,266.0 1704.6,263.8" fill="#dc2420" stroke="#dc2420" stroke-width="0.6" stroke-linejoin="round" />
<polygon points="1517.3,277.3 1513.3,275.1 1519.4,263.8 1523.6,266.0" fill="#f52b27" stroke="#f52b27" stroke-width="0.6" stroke-linejoin="round" />
<polygon points="1706.7,277.3 1702.8,279.5 1696.4,268.3 1700.4,266.0" fill="#db2320" stroke="#db2320" stroke-width="0.6" stroke-linejoin="round" />
<polygon points="1521.2,279.5 1517.3,277.3 1523.6,266.0 1527.6,268.3" fill="#f42b26" stroke="#f42b26" stroke-width="0.6" stroke-linejoin="round" />
<polygon points="1702.8,279.5 1699.0,281.7 1692.4,270.6 1696.4,268.3" fill="#da231f" stroke="#da231f" stroke-width="0.6" stroke-linejoin="round" />
<polygon points="1525.0,281.7 1521.2,279.5 1527.6,268.3 1531.6,270.6" fill="#f42b26" stroke="#f42b26" stroke-width="0.6" stroke-linejoin="round" />
<polygon points="1699.0,281.7 1695.3,284.0 1688.6,273.0 1692.4,270.6" fill="#d9231f" stroke="#d9231f" stroke-width="0.6" stroke-linejoin="round" />
<polygon points="1528.7,284.0 1525.0,281.7 1531.6,270.6 1535.4,273.0" fill="#f32b26" stroke="#f32b26" stroke-width="0.6" stroke-linejoin="round" />
<polygon points="1695.3,284.0 1691.7,286.4 1684.8,275.5 1688.6,273.0" fill="#d7221f" stroke="#d7221f" stroke-width="0.6" stroke-linejoin="round" />
<polygon points="1532.3,286.4 1528.7,284.0 1535.4,273.0 1539.2,275.5" fill="#f22b26" stroke="#f22b26" stroke-width="0.6" stroke-linejoin="round" />
<polygon points="1691.7,286.4 1688.2,288.8 1681.2,278.0 1684.8,275.5" fill="#d6221e" stroke="#d6221e" stroke-width="0.6" stroke-linejoin="round" />
<polygon points="1535.8,288.8 1532.3,286.4 1539.2,275.5 1542.8,278.0" fill="#f22a26" stroke="#f22a26" stroke-width="0.6" stroke-linejoin="round" />
<polygon points="1688.2,288.8 1684.8,291.2 1677.6,280.5 1681.2,278.0" fill="#d5221e" stroke="#d5221e" stroke-width="0.6" stroke-linejoin="round" />
<polygon points="1539.2,291.2 1535.8,288.8 1542.8,278.0 1546.4,280.5" fill="#f12a26" stroke="#f12a26" stroke-width="0.6" stroke-linejoin="round" />
<polygon points="1684.8,291.2 1681.5,293.7 1674.2,283.1 1677.6,280.5" fill="#d4211e" stroke="#d4211e" stroke-width="0.6" stroke-linejoin="round" />
<polygon points="1542.5,293.7 1539.2,291.2 1546.4,280.5 1549.8,283.1" fill="#f02a25" stroke="#f02a25" stroke-width="0.6" stroke-linejoin="round" />
<polygon points="1681.5,293.7 1678.3,296.2 1670.8,285.7 1674.2,283.1" fill="#d2211d" stroke="#d2211d" stroke-width="0.6" stroke-linejoin="round" />
<polygon points="1545.7,296.2 1542.5,293.7 1549.8,283.1 1553.2,285.7" fill="#ef2a25" stroke="#ef2a25" stroke-width="0.6" stroke-linejoin="round" />
<polygon points="1678.3,296.2 1675.2,298.8 1667.6,288.4 1670.8,285.7" fill="#d1201d" stroke="#d1201d" stroke-width="0.6" stroke-linejoin="round" />
<polygon points="1548.8,298.8 1545.7,296.2 1553.2,285.7 1556.4,288.4" fill="#ef2925" stroke="#ef2925" stroke-width="0.6" stroke-linejoin="round" />
<polygon points="1675.2,298.8 1672.2,301.5 1664.5,291.2 1667.6,288.4" fill="#d0201d" stroke="#d0201d" stroke-width="0.6" stroke-linejoin="round" />
<polygon points="1551.8,301.5 1548.8,298.8 1556.4,288.4 1559.5,291.2" fill="#ee2925" stroke="#ee2925" stroke-width="0.6" stroke-linejoin="round" />
<polygon points="1672.2,301.5 1669.3,304.1 1661.5,293.9 1664.5,291.2" fill="#cf201c" stroke="#cf201c" stroke-width="0.6" stroke-linejoin="round" />
<polygon points="1554.7,304.1 1551.8,301.5 1559.5,291.2 1562.5,293.9" fill="#ed2924" stroke="#ed2924" stroke-width="0.6" stroke-linejoin="round" />
<polygon points="1669.3,304.1 1666.5,306.8 1658.6,296.7 1661.5,293.9" fill="#cd1f1c" stroke="#cd1f1c" stroke-width="0.6" stroke-linejoin="round" />
<polygon points="1557.5,306.8 1554.7,304.1 1562.5,293.9 1565.4,296.7" fill="#ec2924" stroke="#ec2924" stroke-width="0.6" stroke-linejoin="round" />
<polygon points="1666.5,306.8 1663.8,309.6 1655.8,299.6 1658.6,296.7" fill="#cc1f1c" stroke="#cc1f1c" stroke-width="0.6" stroke-linejoin="round" />
<polygon points="1560.2,309.6 1557.5,306.8 1565.4,296.7 1568.2,299.6" fill="#eb2824" stroke="#eb2824" stroke-width="0.6" stroke-linejoin="round" />
<polygon points="1663.8,309.6 1661.3,312.3 1653.2,302.5 1655.8,299.6" fill="#cb1e1b" stroke="#cb1e1b" stroke-width="0.6" stroke-linejoin="round" />
<polygon points="1562.7,312.3 1560.2,309.6 1568.2,299.6 1570.8,302.5" fill="#ea2824" stroke="#ea2824" stroke-width="0.6" stroke-linejoin="round" />
<polygon points="1661.3,312.3 1658.9,315.2 1650.6,305.4 1653.2,302.5" fill="#c91e1b" stroke="#c91e1b" stroke-width="0.6" stroke-linejoin="round" />
<polygon points="1565.1,315.2 1562.7,312.3 1570.8,302.5 1573.4,305.4" fill="#e92824" stroke="#e92824" stroke-width="0.6" stroke-linejoin="round" />
<polygon points="1658.9,315.2 1656.5,318.0 1648.2,308.4 1650.6,305.4" fill="#c81e1b" stroke="#c81e1b" stroke-width="0.6" stroke-linejoin="round" />
<polygon points="1567.5,318.0 1565.1,315.2 1573.4,305.4 1575.8,308.4" fill="#e82823" stroke="#e82823" stroke-width="0.6" stroke-linejoin="round" />
<polygon points="1656.5,318.0 1654.3,320.9 1646.0,311.4 1648.2,308.4" fill="#c71d1a" stroke="#c71d1a" stroke-width="0.6" stroke-linejoin="round" />
<polygon points="1569.7,320.9 1567.5,318.0 1575.8,308.4 1578.0,311.4" fill="#e72723" stroke="#e72723" stroke-width="0.6" stroke-linejoin="round" />
<polygon points="1654.3,320.9 1652.3,323.8 1643.8,314.4 1646.0,311.4" fill="#c51d1a" stroke="#c51d1a" stroke-width="0.6" stroke-linejoin="round" />
<polygon points="1571.7,323.8 1569.7,320.9 1578.0,311.4 1580.2,314.4" fill="#e62723" stroke="#e62723" stroke-width="0.6" stroke-linejoin="round" />
<polygon points="1652.3,323.8 1650.3,326.7 1641.8,317.4 1643.8,314.4" fill="#c41c1a" stroke="#c41c1a" stroke-width="0.6" stroke-linejoin="round" />
<polygon points="1573.7,326.7 1571.7,323.8 1580.2,314.4 1582.2,317.4" fill="#e52722" stroke="#e52722" stroke-width="0.6" stroke-linejoin="round" />
<polygon points="1650.3,326.7 1648.5,329.7 1639.9,320.5 1641.8,317.4" fill="#c21c19" stroke="#c21c19" stroke-width="0.6" stroke-linejoin="round" />
<polygon points="1575.5,329.7 1573.7,326.7 1582.2,317.4 1584.1,320.5" fill="#e42622" stroke="#e42622" stroke-width="0.6" stroke-linejoin="round" />
<polygon points="1648.5,329.7 1646.8,332.7 1638.1,323.6 1639.9,320.5" fill="#c11b19" stroke="#c11b19" stroke-width="0.6" stroke-linejoin="round" />
<polygon points="1577.2,332.7 1575.5,329.7 1584.1,320.5 1585.9,323.6" fill="#e32622" stroke="#e32622" stroke-width="0.6" stroke-linejoin="round" />
<polygon points="1646.8,332.7 1645.4,334.7 1637.1,325.2 1638.1,323.6" fill="#c31c19" stroke="#c31c19" stroke-width="0.6" stroke-linejoin="round" />
<polygon points="1578.6,334.7 1577.2,332.7 1585.9,323.6 1586.9,325.2" fill="#e52622" stroke="#e52622" stroke-width="0.6" stroke-linejoin="round" />
<polygon points="1645.4,334.7 1643.7,336.7 1635.8,326.7 1637.1,325.2" fill="#c91e1b" stroke="#c91e1b" stroke-width="0.6" stroke-linejoin="round" />
<polygon points="1580.3,336.7 1578.6,334.7 1586.9,325.2 1588.2,326.7" fill="#e92824" stroke="#e92824" stroke-width="0.6" stroke-linejoin="round" />
<polygon points="1643.7,336.7 1641.6,338.6 1634.2,328.1 1635.8,326.7" fill="#cf201d" stroke="#cf201d" stroke-width="0.6" stroke-linejoin="round" />
<polygon points="1582.4,338.6 1580.3,336.7 1588.2,326.7 1589.8,328.1" fill="#ed2925" stroke="#ed2925" stroke-width="0.6" stroke-linejoin="round" />
<polygon points="1584.8,340.3 1582.4,338.6 1589.8,328.1 1591.6,329.4" fill="#f12a26" stroke="#f12a26" stroke-width="0.6" stroke-linejoin="round" />
<polygon points="1641.6,338.6 1639.2,340.3 1632.4,329.4 1634.2,328.1" fill="#d5221e" stroke="#d5221e" stroke-width="0.6" stroke-linejoin="round" />
<polygon points="1587.5,341.9 1584.8,340.3 1591.6,329.4 1593.6,330.5" fill="#f42b26" stroke="#f42b26" stroke-width="0.6" stroke-linejoin="round" />
<polygon points="1639.2,340.3 1636.5,341.9 1630.4,330.5 1632.4,329.4" fill="#da2320" stroke="#da2320" stroke-width="0.6" stroke-linejoin="round" />
<polygon points="1636.5,341.9 1633.5,343.3 1628.2,331.6 1630.4,330.5" fill="#e02521" stroke="#e02521" stroke-width="0.6" stroke-linejoin="round" />
<polygon points="1590.5,343.3 1587.5,341.9 1593.6,330.5 1595.8,331.6" fill="#f62c27" stroke="#f62c27" stroke-width="0.6" stroke-linejoin="round" />
<polygon points="1633.5,343.3 1630.3,344.5 1625.7,332.5 1628.2,331.6" fill="#e42622" stroke="#e42622" stroke-width="0.6" stroke-linejoin="round" />
<polygon points="1593.7,344.5 1590.5,343.3 1595.8,331.6 1598.3,332.5" fill="#f82c27" stroke="#f82c27" stroke-width="0.6" stroke-linejoin="round" />
<polygon points="1630.3,344.5 1626.9,345.5 1623.2,333.3 1625.7,332.5" fill="#e92823" stroke="#e92823" stroke-width="0.6" stroke-linejoin="round" />
<polygon points="1597.1,345.5 1593.7,344.5 1598.3,332.5 1600.8,333.3" fill="#f92d28" stroke="#f92d28" stroke-width="0.6" stroke-linejoin="round" />
<polygon points="1600.7,346.3 1597.1,345.5 1600.8,333.3 1603.5,333.9" fill="#fa2d28" stroke="#fa2d28" stroke-width="0.6" stroke-linejoin="round" />
<polygon points="1626.9,345.5 1623.3,346.3 1620.5,333.9 1623.2,333.3" fill="#ed2924" stroke="#ed2924" stroke-width="0.6" stroke-linejoin="round" />
<polygon points="1623.3,346.3 1619.6,346.9 1617.7,334.3 1620.5,333.9" fill="#f02a25" stroke="#f02a25" stroke-width="0.6" stroke-linejoin="round" />
<polygon points="1604.4,346.9 1600.7,346.3 1603.5,333.9 1606.3,334.3" fill="#fa2d28" stroke="#fa2d28" stroke-width="0.6" stroke-linejoin="round" />
<polygon points="1619.6,346.9 1615.8,347.2 1614.9,334.6 1617.7,334.3" fill="#f32b26" stroke="#f32b26" stroke-width="0.6" stroke-linejoin="round" />
<polygon points="1608.2,347.2 1604.4,346.9 1606.3,334.3 1609.1,334.6" fill="#f92d28" stroke="#f92d28" stroke-width="0.6" stroke-linejoin="round" />
<polygon points="1615.8,347.2 1612.0,347.4 1612.0,334.6 1614.9,334.6" fill="#f62c27" stroke="#f62c27" stroke-width="0.6" stroke-linejoin="round" />
<polygon points="1612.0,347.4 1608.2,347.2 1609.1,334.6 1612.0,334.6" fill="#f82c27" stroke="#f82c27" stroke-width="0.6" stroke-linejoin="round" />
<line x1="1820.4" y1="227.0" x2="1820.2" y2="229.2" stroke="#3a0800" stroke-width="1"/>
<line x1="1820.2" y1="229.2" x2="1819.6" y2="231.4" stroke="#3a0800" stroke-width="1"/>
<line x1="1819.6" y1="231.4" x2="1818.6" y2="233.5" stroke="#3a0800" stroke-width="1"/>
<line x1="1818.6" y1="233.5" x2="1817.3" y2="235.6" stroke="#3a0800" stroke-width="1"/>
<line x1="1817.3" y1="235.6" x2="1815.5" y2="237.6" stroke="#3a0800" stroke-width="1"/>
<line x1="1815.5" y1="237.6" x2="1813.4" y2="239.4" stroke="#3a0800" stroke-width="1"/>
<line x1="1813.4" y1="239.4" x2="1811.0" y2="241.2" stroke="#3a0800" stroke-width="1"/>
<line x1="1811.0" y1="241.2" x2="1808.3" y2="242.7" stroke="#3a0800" stroke-width="1"/>
<line x1="1808.3" y1="242.7" x2="1805.3" y2="244.1" stroke="#3a0800" stroke-width="1"/>
<line x1="1805.3" y1="244.1" x2="1802.0" y2="245.3" stroke="#3a0800" stroke-width="1"/>
<line x1="1802.0" y1="245.3" x2="1798.6" y2="246.3" stroke="#3a0800" stroke-width="1"/>
<line x1="1798.6" y1="246.3" x2="1795.0" y2="247.1" stroke="#3a0800" stroke-width="1"/>
<line x1="1795.0" y1="247.1" x2="1789.8" y2="248.1" stroke="#3a0800" stroke-width="1"/>
<line x1="1789.8" y1="248.1" x2="1784.7" y2="249.1" stroke="#3a0800" stroke-width="1"/>
<line x1="1784.7" y1="249.1" x2="1779.6" y2="250.3" stroke="#3a0800" stroke-width="1"/>
<line x1="1779.6" y1="250.3" x2="1774.6" y2="251.5" stroke="#3a0800" stroke-width="1"/>
<line x1="1774.6" y1="251.5" x2="1769.6" y2="252.7" stroke="#3a0800" stroke-width="1"/>
<line x1="1769.6" y1="252.7" x2="1764.7" y2="254.1" stroke="#3a0800" stroke-width="1"/>
<line x1="1764.7" y1="254.1" x2="1759.8" y2="255.5" stroke="#3a0800" stroke-width="1"/>
<line x1="1759.8" y1="255.5" x2="1755.0" y2="256.9" stroke="#3a0800" stroke-width="1"/>
<line x1="1755.0" y1="256.9" x2="1750.3" y2="258.5" stroke="#3a0800" stroke-width="1"/>
<line x1="1750.3" y1="258.5" x2="1745.6" y2="260.1" stroke="#3a0800" stroke-width="1"/>
<line x1="1745.6" y1="260.1" x2="1740.9" y2="261.7" stroke="#3a0800" stroke-width="1"/>
<line x1="1740.9" y1="261.7" x2="1736.4" y2="263.5" stroke="#3a0800" stroke-width="1"/>
<line x1="1736.4" y1="263.5" x2="1731.9" y2="265.3" stroke="#3a0800" stroke-width="1"/>
<line x1="1731.9" y1="265.3" x2="1727.5" y2="267.1" stroke="#3a0800" stroke-width="1"/>
<line x1="1727.5" y1="267.1" x2="1723.2" y2="269.0" stroke="#3a0800" stroke-width="1"/>
<line x1="1723.2" y1="269.0" x2="1719.0" y2="271.0" stroke="#3a0800" stroke-width="1"/>
<line x1="1719.0" y1="271.0" x2="1714.8" y2="273.0" stroke="#3a0800" stroke-width="1"/>
<line x1="1714.8" y1="273.0" x2="1710.7" y2="275.1" stroke="#3a0800" stroke-width="1"/>
<line x1="1710.7" y1="275.1" x2="1706.7" y2="277.3" stroke="#3a0800" stroke-width="1"/>
<line x1="1706.7" y1="277.3" x2="1702.8" y2="279.5" stroke="#3a0800" stroke-width="1"/>
<line x1="1702.8" y1="279.5" x2="1699.0" y2="281.7" stroke="#3a0800" stroke-width="1"/>
<line x1="1699.0" y1="281.7" x2="1695.3" y2="284.0" stroke="#3a0800" stroke-width="1"/>
<line x1="1695.3" y1="284.0" x2="1691.7" y2="286.4" stroke="#3a0800" stroke-width="1"/>
<line x1="1691.7" y1="286.4" x2="1688.2" y2="288.8" stroke="#3a0800" stroke-width="1"/>
<line x1="1688.2" y1="288.8" x2="1684.8" y2="291.2" stroke="#3a0800" stroke-width="1"/>
<line x1="1684.8" y1="291.2" x2="1681.5" y2="293.7" stroke="#3a0800" stroke-width="1"/>
<line x1="1681.5" y1="293.7" x2="1678.3" y2="296.2" stroke="#3a0800" stroke-width="1"/>
<line x1="1678.3" y1="296.2" x2="1675.2" y2="298.8" stroke="#3a0800" stroke-width="1"/>
<line x1="1675.2" y1="298.8" x2="1672.2" y2="301.5" stroke="#3a0800" stroke-width="1"/>
<line x1="1672.2" y1="301.5" x2="1669.3" y2="304.1" stroke="#3a0800" stroke-width="1"/>
<line x1="1669.3" y1="304.1" x2="1666.5" y2="306.8" stroke="#3a0800" stroke-width="1"/>
<line x1="1666.5" y1="306.8" x2="1663.8" y2="309.6" stroke="#3a0800" stroke-width="1"/>
<line x1="1663.8" y1="309.6" x2="1661.3" y2="312.3" stroke="#3a0800" stroke-width="1"/>
<line x1="1661.3" y1="312.3" x2="1658.9" y2="315.2" stroke="#3a0800" stroke-width="1"/>
<line x1="1658.9" y1="315.2" x2="1656.5" y2="318.0" stroke="#3a0800" stroke-width="1"/>
<line x1="1656.5" y1="318.0" x2="1654.3" y2="320.9" stroke="#3a0800" stroke-width="1"/>
<line x1="1654.3" y1="320.9" x2="1652.3" y2="323.8" stroke="#3a0800" stroke-width="1"/>
<line x1="1652.3" y1="323.8" x2="1650.3" y2="326.7" stroke="#3a0800" stroke-width="1"/>
<line x1="1650.3" y1="326.7" x2="1648.5" y2="329.7" stroke="#3a0800" stroke-width="1"/>
<line x1="1648.5" y1="329.7" x2="1646.8" y2="332.7" stroke="#3a0800" stroke-width="1"/>
<line x1="1646.8" y1="332.7" x2="1645.4" y2="334.7" stroke="#3a0800" stroke-width="1"/>
<line x1="1645.4" y1="334.7" x2="1643.7" y2="336.7" stroke="#3a0800" stroke-width="1"/>
<line x1="1643.7" y1="336.7" x2="1641.6" y2="338.6" stroke="#3a0800" stroke-width="1"/>
<line x1="1641.6" y1="338.6" x2="1639.2" y2="340.3" stroke="#3a0800" stroke-width="1"/>
<line x1="1639.2" y1="340.3" x2="1636.5" y2="341.9" stroke="#3a0800" stroke-width="1"/>
<line x1="1636.5" y1="341.9" x2="1633.5" y2="343.3" stroke="#3a0800" stroke-width="1"/>
<line x1="1633.5" y1="343.3" x2="1630.3" y2="344.5" stroke="#3a0800" stroke-width="1"/>
<line x1="1630.3" y1="344.5" x2="1626.9" y2="345.5" stroke="#3a0800" stroke-width="1"/>
<line x1="1626.9" y1="345.5" x2="1623.3" y2="346.3" stroke="#3a0800" stroke-width="1"/>
<line x1="1623.3" y1="346.3" x2="1619.6" y2="346.9" stroke="#3a0800" stroke-width="1"/>
<line x1="1619.6" y1="346.9" x2="1615.8" y2="347.2" stroke="#3a0800" stroke-width="1"/>
<line x1="1615.8" y1="347.2" x2="1612.0" y2="347.4" stroke="#3a0800" stroke-width="1"/>
<line x1="1612.0" y1="347.4" x2="1608.2" y2="347.2" stroke="#3a0800" stroke-width="1"/>
<line x1="1608.2" y1="347.2" x2="1604.4" y2="346.9" stroke="#3a0800" stroke-width="1"/>
<line x1="1604.4" y1="346.9" x2="1600.7" y2="346.3" stroke="#3a0800" stroke-width="1"/>
<line x1="1600.7" y1="346.3" x2="1597.1" y2="345.5" stroke="#3a0800" stroke-width="1"/>
<line x1="1597.1" y1="345.5" x2="1593.7" y2="344.5" stroke="#3a0800" stroke-width="1"/>
<line x1="1593.7" y1="344.5" x2="1590.5" y2="343.3" stroke="#3a0800" stroke-width="1"/>
<line x1="1590.5" y1="343.3" x2="1587.5" y2="341.9" stroke="#3a0800" stroke-width="1"/>
<line x1="1587.5" y1="341.9" x2="1584.8" y2="340.3" stroke="#3a0800" stroke-width="1"/>
<line x1="1584.8" y1="340.3" x2="1582.4" y2="338.6" stroke="#3a0800" stroke-width="1"/>
<line x1="1582.4" y1="338.6" x2="1580.3" y2="336.7" stroke="#3a0800" stroke-width="1"/>
<line x1="1580.3" y1="336.7" x2="1578.6" y2="334.7" stroke="#3a0800" stroke-width="1"/>
<line x1="1578.6" y1="334.7" x2="1577.2" y2="332.7" stroke="#3a0800" stroke-width="1"/>
<line x1="1577.2" y1="332.7" x2="1575.5" y2="329.7" stroke="#3a0800" stroke-width="1"/>
<line x1="1575.5" y1="329.7" x2="1573.7" y2="326.7" stroke="#3a0800" stroke-width="1"/>
<line x1="1573.7" y1="326.7" x2="1571.7" y2="323.8" stroke="#3a0800" stroke-width="1"/>
<line x1="1571.7" y1="323.8" x2="1569.7" y2="320.9" stroke="#3a0800" stroke-width="1"/>
<line x1="1569.7" y1="320.9" x2="1567.5" y2="318.0" stroke="#3a0800" stroke-width="1"/>
<line x1="1567.5" y1="318.0" x2="1565.1" y2="315.2" stroke="#3a0800" stroke-width="1"/>
<line x1="1565.1" y1="315.2" x2="1562.7" y2="312.3" stroke="#3a0800" stroke-width="1"/>
<line x1="1562.7" y1="312.3" x2="1560.2" y2="309.6" stroke="#3a0800" stroke-width="1"/>
<line x1="1560.2" y1="309.6" x2="1557.5" y2="306.8" stroke="#3a0800" stroke-width="1"/>
<line x1="1557.5" y1="306.8" x2="1554.7" y2="304.1" stroke="#3a0800" stroke-width="1"/>
<line x1="1554.7" y1="304.1" x2="1551.8" y2="301.5" stroke="#3a0800" stroke-width="1"/>
<line x1="1551.8" y1="301.5" x2="1548.8" y2="298.8" stroke="#3a0800" stroke-width="1"/>
<line x1="1548.8" y1="298.8" x2="1545.7" y2="296.2" stroke="#3a0800" stroke-width="1"/>
<line x1="1545.7" y1="296.2" x2="1542.5" y2="293.7" stroke="#3a0800" stroke-width="1"/>
<line x1="1542.5" y1="293.7" x2="1539.2" y2="291.2" stroke="#3a0800" stroke-width="1"/>
<line x1="1539.2" y1="291.2" x2="1535.8" y2="288.8" stroke="#3a0800" stroke-width="1"/>
<line x1="1535.8" y1="288.8" x2="1532.3" y2="286.4" stroke="#3a0800" stroke-width="1"/>
<line x1="1532.3" y1="286.4" x2="1528.7" y2="284.0" stroke="#3a0800" stroke-width="1"/>
<line x1="1528.7" y1="284.0" x2="1525.0" y2="281.7" stroke="#3a0800" stroke-width="1"/>
<line x1="1525.0" y1="281.7" x2="1521.2" y2="279.5" stroke="#3a0800" stroke-width="1"/>
<line x1="1521.2" y1="279.5" x2="1517.3" y2="277.3" stroke="#3a0800" stroke-width="1"/>
<line x1="1517.3" y1="277.3" x2="1513.3" y2="275.1" stroke="#3a0800" stroke-width="1"/>
<line x1="1513.3" y1="275.1" x2="1509.2" y2="273.0" stroke="#3a0800" stroke-width="1"/>
<line x1="1509.2" y1="273.0" x2="1505.0" y2="271.0" stroke="#3a0800" stroke-width="1"/>
<line x1="1505.0" y1="271.0" x2="1500.8" y2="269.0" stroke="#3a0800" stroke-width="1"/>
<line x1="1500.8" y1="269.0" x2="1496.5" y2="267.1" stroke="#3a0800" stroke-width="1"/>
<line x1="1496.5" y1="267.1" x2="1492.1" y2="265.3" stroke="#3a0800" stroke-width="1"/>
<line x1="1492.1" y1="265.3" x2="1487.6" y2="263.5" stroke="#3a0800" stroke-width="1"/>
<line x1="1487.6" y1="263.5" x2="1483.1" y2="261.7" stroke="#3a0800" stroke-width="1"/>
<line x1="1483.1" y1="261.7" x2="1478.4" y2="260.1" stroke="#3a0800" stroke-width="1"/>
<line x1="1478.4" y1="260.1" x2="1473.7" y2="258.5" stroke="#3a0800" stroke-width="1"/>
<line x1="1473.7" y1="258.5" x2="1469.0" y2="256.9" stroke="#3a0800" stroke-width="1"/>
<line x1="1469.0" y1="256.9" x2="1464.2" y2="255.5" stroke="#3a0800" stroke-width="1"/>
<line x1="1464.2" y1="255.5" x2="1459.3" y2="254.1" stroke="#3a0800" stroke-width="1"/>
<line x1="1459.3" y1="254.1" x2="1454.4" y2="252.7" stroke="#3a0800" stroke-width="1"/>
<line x1="1454.4" y1="252.7" x2="1449.4" y2="251.5" stroke="#3a0800" stroke-width="1"/>
<line x1="1449.4" y1="251.5" x2="1444.4" y2="250.3" stroke="#3a0800" stroke-width="1"/>
<line x1="1444.4" y1="250.3" x2="1439.3" y2="249.1" stroke="#3a0800" stroke-width="1"/>
<line x1="1439.3" y1="249.1" x2="1434.2" y2="248.1" stroke="#3a0800" stroke-width="1"/>
<line x1="1434.2" y1="248.1" x2="1429.0" y2="247.1" stroke="#3a0800" stroke-width="1"/>
<line x1="1429.0" y1="247.1" x2="1425.4" y2="246.3" stroke="#3a0800" stroke-width="1"/>
<line x1="1425.4" y1="246.3" x2="1422.0" y2="245.3" stroke="#3a0800" stroke-width="1"/>
<line x1="1422.0" y1="245.3" x2="1418.7" y2="244.1" stroke="#3a0800" stroke-width="1"/>
<line x1="1418.7" y1="244.1" x2="1415.7" y2="242.7" stroke="#3a0800" stroke-width="1"/>
<line x1="1415.7" y1="242.7" x2="1413.0" y2="241.2" stroke="#3a0800" stroke-width="1"/>
<line x1="1413.0" y1="241.2" x2="1410.6" y2="239.4" stroke="#3a0800" stroke-width="1"/>
<line x1="1410.6" y1="239.4" x2="1408.5" y2="237.6" stroke="#3a0800" stroke-width="1"/>
<line x1="1408.5" y1="237.6" x2="1406.7" y2="235.6" stroke="#3a0800" stroke-width="1"/>
<line x1="1406.7" y1="235.6" x2="1405.4" y2="233.5" stroke="#3a0800" stroke-width="1"/>
<line x1="1405.4" y1="233.5" x2="1404.4" y2="231.4" stroke="#3a0800" stroke-width="1"/>
<line x1="1404.4" y1="231.4" x2="1403.8" y2="229.2" stroke="#3a0800" stroke-width="1"/>
<line x1="1403.8" y1="229.2" x2="1403.6" y2="227.0" stroke="#3a0800" stroke-width="1"/>
<polygon points="1638.1,115.5 1639.9,118.6 1641.8,121.7 1643.8,124.7 1646.0,127.7 1648.2,130.7 1650.6,133.7 1653.2,136.6 1655.8,139.5 1658.6,142.4 1661.5,145.2 1664.5,148.0 1667.6,150.7 1670.8,153.4 1674.2,156.0 1677.6,158.6 1681.2,161.2 1684.8,163.7 1688.6,166.1 1692.4,168.5 1696.4,170.8 1700.4,173.1 1704.6,175.3 1708.8,177.5 1713.2,179.6 1717.6,181.7 1722.1,183.7 1726.6,185.6 1731.3,187.5 1736.0,189.3 1740.8,191.0 1745.7,192.7 1750.6,194.3 1755.6,195.8 1760.7,197.2 1765.8,198.6 1771.0,200.0 1776.3,201.2 1781.5,202.4 1786.9,203.5 1792.3,204.5 1794.9,205.1 1797.5,205.8 1799.9,206.7 1802.2,207.8 1804.2,208.9 1806.1,210.2 1807.6,211.6 1808.9,213.1 1810.0,214.7 1810.7,216.3 1811.2,217.9 1811.3,219.6 1811.2,221.2 1810.7,222.9 1810.0,224.5 1808.9,226.0 1807.6,227.5 1806.1,228.9 1804.2,230.2 1802.2,231.3 1799.9,232.4 1797.5,233.3 1794.9,234.0 1792.3,234.6 1786.9,235.6 1781.5,236.7 1776.3,237.9 1771.0,239.2 1765.8,240.5 1760.7,241.9 1755.6,243.3 1750.6,244.9 1745.7,246.5 1740.8,248.1 1736.0,249.9 1731.3,251.7 1726.6,253.5 1722.1,255.4 1717.6,257.4 1713.2,259.5 1708.8,261.6 1704.6,263.8 1700.4,266.0 1696.4,268.3 1692.4,270.6 1688.6,273.0 1684.8,275.5 1681.2,278.0 1677.6,280.5 1674.2,283.1 1670.8,285.7 1667.6,288.4 1664.5,291.2 1661.5,293.9 1658.6,296.7 1655.8,299.6 1653.2,302.5 1650.6,305.4 1648.2,308.4 1646.0,311.4 1643.8,314.4 1641.8,317.4 1639.9,320.5 1638.1,323.6 1637.1,325.2 1635.8,326.7 1634.2,328.1 1632.4,329.4 1630.4,330.5 1628.2,331.6 1625.7,332.5 1623.2,333.3 1620.5,333.9 1617.7,334.3 1614.9,334.6 1612.0,334.6 1609.1,334.6 1606.3,334.3 1603.5,333.9 1600.8,333.3 1598.3,332.5 1595.8,331.6 1593.6,330.5 1591.6,329.4 1589.8,328.1 1588.2,326.7 1586.9,325.2 1585.9,323.6 1584.1,320.5 1582.2,317.4 1580.2,314.4 1578.0,311.4 1575.8,308.4 1573.4,305.4 1570.8,302.5 1568.2,299.6 1565.4,296.7 1562.5,293.9 1559.5,291.2 1556.4,288.4 1553.2,285.7 1549.8,283.1 1546.4,280.5 1542.8,278.0 1539.2,275.5 1535.4,273.0 1531.6,270.6 1527.6,268.3 1523.6,266.0 1519.4,263.8 1515.2,261.6 1510.8,259.5 1506.4,257.4 1501.9,255.4 1497.4,253.5 1492.7,251.7 1488.0,249.9 1483.2,248.1 1478.3,246.5 1473.4,244.9 1468.4,243.3 1463.3,241.9 1458.2,240.5 1453.0,239.2 1447.7,237.9 1442.5,236.7 1437.1,235.6 1431.7,234.6 1429.1,234.0 1426.5,233.3 1424.1,232.4 1421.8,231.3 1419.8,230.2 1417.9,228.9 1416.4,227.5 1415.1,226.0 1414.0,224.5 1413.3,222.9 1412.8,221.2 1412.7,219.6 1412.8,217.9 1413.3,216.3 1414.0,214.7 1415.1,213.1 1416.4,211.6 1417.9,210.2 1419.8,208.9 1421.8,207.8 1424.1,206.7 1426.5,205.8 1429.1,205.1 1431.7,204.5 1437.1,203.5 1442.5,202.4 1447.7,201.2 1453.0,200.0 1458.2,198.6 1463.3,197.2 1468.4,195.8 1473.4,194.3 1478.3,192.7 1483.2,191.0 1488.0,189.3 1492.7,187.5 1497.4,185.6 1501.9,183.7 1506.4,181.7 1510.8,179.6 1515.2,177.5 1519.4,175.3 1523.6,173.1 1527.6,170.8 1531.6,168.5 1535.4,166.1 1539.2,163.7 1542.8,161.2 1546.4,158.6 1549.8,156.0 1553.2,153.4 1556.4,150.7 1559.5,148.0 1562.5,145.2 1565.4,142.4 1568.2,139.5 1570.8,136.6 1573.4,133.7 1575.8,130.7 1578.0,127.7 1580.2,124.7 1582.2,121.7 1584.1,118.6 1585.9,115.5 1586.9,113.9 1588.2,112.4 1589.8,111.0 1591.6,109.8 1593.6,108.6 1595.8,107.5 1598.3,106.6 1600.8,105.9 1603.5,105.3 1606.3,104.8 1609.1,104.6 1612.0,104.5 1614.9,104.6 1617.7,104.8 1620.5,105.3 1623.2,105.9 1625.7,106.6 1628.2,107.5 1630.4,108.6 1632.4,109.8 1634.2,111.0 1635.8,112.4 1637.1,113.9" fill="#d6c800" stroke="#3a0800" stroke-width="1.0" stroke-linejoin="round" />
<path d="M1627.0,327.5 L1625.4,328.4 L1623.6,329.1 L1621.7,329.8 L1619.6,330.3 L1617.5,330.7 L1615.3,331.0 L1613.1,331.1 L1610.9,331.1 L1608.7,331.0 L1606.5,330.7 L1604.4,330.3 L1602.3,329.8 L1600.4,329.1 L1598.6,328.4 L1597.0,327.5 L1595.5,326.6 L1594.2,325.5 L1593.0,324.4 L1592.1,323.2 L1591.4,322.0 L1591.0,320.8 L1590.7,319.5 L1590.7,318.2 L1591.0,316.9 L1591.4,315.7 L1592.1,314.4 L1593.0,313.3 L1594.2,312.2 L1595.5,311.1 L1597.0,310.2 L1598.6,309.3 L1600.4,308.5 L1602.3,307.9 L1604.4,307.4 L1606.5,307.0 L1608.7,306.7 L1610.9,306.6 L1613.1,306.6 L1615.3,306.7 L1617.5,307.0 L1619.6,307.4 L1621.7,307.9 L1623.6,308.5 L1625.4,309.3 L1627.0,310.2 L1628.5,311.1 L1629.8,312.2 L1631.0,313.3 L1631.9,314.4 L1632.6,315.7 L1633.0,316.9 L1633.3,318.2 L1633.3,319.5 L1633.0,320.8 L1632.6,322.0 L1631.9,323.2 L1631.0,324.4 L1629.8,325.5 L1628.5,326.6 L1627.0,327.5 Z" fill="url(#gHoleIso)" stroke="#0a1a1a" stroke-width="1.1"/>
<path d="M1799.0,228.2 L1797.4,229.1 L1795.6,229.9 L1793.6,230.5 L1791.6,231.0 L1789.5,231.4 L1787.3,231.7 L1785.1,231.8 L1782.9,231.8 L1780.6,231.7 L1778.5,231.4 L1776.3,231.0 L1774.3,230.5 L1772.4,229.9 L1770.6,229.1 L1768.9,228.2 L1767.4,227.3 L1766.1,226.2 L1765.0,225.1 L1764.1,224.0 L1763.4,222.7 L1763.0,221.5 L1762.7,220.2 L1762.7,218.9 L1763.0,217.6 L1763.4,216.4 L1764.1,215.2 L1765.0,214.0 L1766.1,212.9 L1767.4,211.8 L1768.9,210.9 L1770.6,210.0 L1772.4,209.3 L1774.3,208.6 L1776.3,208.1 L1778.5,207.7 L1780.6,207.4 L1782.9,207.3 L1785.1,207.3 L1787.3,207.4 L1789.5,207.7 L1791.6,208.1 L1793.6,208.6 L1795.6,209.3 L1797.4,210.0 L1799.0,210.9 L1800.5,211.8 L1801.8,212.9 L1802.9,214.0 L1803.8,215.2 L1804.5,216.4 L1805.0,217.6 L1805.2,218.9 L1805.2,220.2 L1805.0,221.5 L1804.5,222.7 L1803.8,224.0 L1802.9,225.1 L1801.8,226.2 L1800.5,227.3 L1799.0,228.2 Z" fill="url(#gHoleIso)" stroke="#0a1a1a" stroke-width="1.1"/>
<path d="M1455.1,228.2 L1453.4,229.1 L1451.6,229.9 L1449.7,230.5 L1447.7,231.0 L1445.5,231.4 L1443.4,231.7 L1441.1,231.8 L1438.9,231.8 L1436.7,231.7 L1434.5,231.4 L1432.4,231.0 L1430.4,230.5 L1428.4,229.9 L1426.6,229.1 L1425.0,228.2 L1423.5,227.3 L1422.2,226.2 L1421.1,225.1 L1420.2,224.0 L1419.5,222.7 L1419.0,221.5 L1418.8,220.2 L1418.8,218.9 L1419.0,217.6 L1419.5,216.4 L1420.2,215.2 L1421.1,214.0 L1422.2,212.9 L1423.5,211.8 L1425.0,210.9 L1426.6,210.0 L1428.4,209.3 L1430.4,208.6 L1432.4,208.1 L1434.5,207.7 L1436.7,207.4 L1438.9,207.3 L1441.1,207.3 L1443.4,207.4 L1445.5,207.7 L1447.7,208.1 L1449.7,208.6 L1451.6,209.3 L1453.4,210.0 L1455.1,210.9 L1456.6,211.8 L1457.9,212.9 L1459.0,214.0 L1459.9,215.2 L1460.6,216.4 L1461.0,217.6 L1461.3,218.9 L1461.3,220.2 L1461.0,221.5 L1460.6,222.7 L1459.9,224.0 L1459.0,225.1 L1457.9,226.2 L1456.6,227.3 L1455.1,228.2 Z" fill="url(#gHoleIso)" stroke="#0a1a1a" stroke-width="1.1"/>
<path d="M1627.0,129.0 L1625.4,129.8 L1623.6,130.6 L1621.7,131.2 L1619.6,131.7 L1617.5,132.1 L1615.3,132.4 L1613.1,132.5 L1610.9,132.5 L1608.7,132.4 L1606.5,132.1 L1604.4,131.7 L1602.3,131.2 L1600.4,130.6 L1598.6,129.8 L1597.0,129.0 L1595.5,128.0 L1594.2,127.0 L1593.0,125.8 L1592.1,124.7 L1591.4,123.5 L1591.0,122.2 L1590.7,120.9 L1590.7,119.6 L1591.0,118.3 L1591.4,117.1 L1592.1,115.9 L1593.0,114.7 L1594.2,113.6 L1595.5,112.5 L1597.0,111.6 L1598.6,110.7 L1600.4,110.0 L1602.3,109.3 L1604.4,108.8 L1606.5,108.4 L1608.7,108.1 L1610.9,108.0 L1613.1,108.0 L1615.3,108.1 L1617.5,108.4 L1619.6,108.8 L1621.7,109.3 L1623.6,110.0 L1625.4,110.7 L1627.0,111.6 L1628.5,112.5 L1629.8,113.6 L1631.0,114.7 L1631.9,115.9 L1632.6,117.1 L1633.0,118.3 L1633.3,119.6 L1633.3,120.9 L1633.0,122.2 L1632.6,123.5 L1631.9,124.7 L1631.0,125.8 L1629.8,127.0 L1628.5,128.0 L1627.0,129.0 Z" fill="url(#gHoleIso)" stroke="#0a1a1a" stroke-width="1.1"/>
<polygon points="1679.7,254.9 1706.2,270.2 1699.7,273.9 1673.3,258.7" fill="#5a4e00" stroke="#1a1a00" stroke-width="0.8" stroke-linejoin="round" />
<polygon points="1706.2,270.2 1706.2,319.8 1699.7,323.6 1699.7,273.9" fill="#5a5000" stroke="#1a1a00" stroke-width="0.8" stroke-linejoin="round" />
<path d="M1683.4,260.8 L1678.2,263.5 L1672.7,266.1 L1667.0,268.4 L1660.9,270.5 L1654.7,272.4 L1648.2,274.0 L1641.5,275.3 L1634.7,276.3 L1627.8,277.1 L1620.8,277.6 L1613.8,277.8 L1606.7,277.7 L1599.7,277.4 L1592.7,276.8 L1585.9,275.8 L1579.1,274.7 L1572.6,273.2 L1566.2,271.5 L1560.0,269.5 L1554.1,267.3 L1548.5,264.8 L1543.2,262.2 L1538.2,259.3 L1533.6,256.2 L1529.3,253.0 L1525.5,249.6 L1522.1,246.0 L1519.1,242.3 L1516.6,238.5 L1514.5,234.6 L1512.9,230.7 L1511.8,226.7 L1511.2,222.6 L1511.1,218.5 L1511.5,214.5 L1512.3,210.4 L1513.7,206.4 L1515.5,202.5 L1517.8,198.7 L1520.5,194.9 L1523.7,191.3 L1527.4,187.8 L1531.4,184.5 L1535.8,181.3 L1540.6,178.4 L1545.8,175.6 L1551.3,173.0 L1557.0,170.7 L1563.1,168.6 L1569.3,166.7 L1575.8,165.2 L1582.5,163.8 L1589.3,162.8 L1596.2,162.0 L1603.2,161.5 L1610.2,161.3 L1617.3,161.4 L1624.3,161.7 L1631.3,162.4 L1638.1,163.3 L1644.9,164.5 L1651.4,165.9 L1657.8,167.6 L1664.0,169.6 L1669.9,171.8 L1675.5,174.3 L1680.8,176.9 L1685.8,179.8 L1690.4,182.9 L1694.7,186.1 L1698.5,189.5 L1701.9,193.1 L1704.9,196.8 L1707.4,200.6 L1709.5,204.5 L1711.1,208.4 L1712.2,212.5 L1712.8,216.5 L1712.9,220.6 L1712.5,224.6 L1711.7,228.7 L1710.3,232.7 L1708.5,236.6 L1706.2,240.4 L1703.5,244.2 L1700.3,247.8 L1696.6,251.3 L1692.6,254.6 L1688.2,257.8 L1683.4,260.8 Z" fill="#e42222" stroke="#2a0000" stroke-width="1"/>
<path d="M1679.9,255.8 L1675.0,258.4 L1669.8,260.9 L1664.3,263.1 L1658.6,265.1 L1652.6,266.8 L1646.4,268.4 L1640.1,269.6 L1633.6,270.6 L1627.0,271.4 L1620.4,271.8 L1613.7,272.0 L1607.0,272.0 L1600.3,271.6 L1593.7,271.0 L1587.1,270.2 L1580.7,269.0 L1574.5,267.6 L1568.4,266.0 L1562.5,264.1 L1556.9,262.0 L1551.5,259.7 L1546.5,257.1 L1541.7,254.4 L1537.3,251.5 L1533.3,248.4 L1529.7,245.1 L1526.4,241.8 L1523.6,238.2 L1521.2,234.6 L1519.2,230.9 L1517.7,227.2 L1516.7,223.3 L1516.1,219.5 L1516.0,215.6 L1516.3,211.7 L1517.1,207.9 L1518.4,204.1 L1520.1,200.4 L1522.3,196.7 L1524.9,193.1 L1528.0,189.7 L1531.4,186.4 L1535.3,183.2 L1539.5,180.2 L1544.1,177.4 L1549.0,174.7 L1554.2,172.3 L1559.7,170.1 L1565.4,168.1 L1571.4,166.3 L1577.6,164.8 L1583.9,163.5 L1590.4,162.5 L1597.0,161.8 L1603.6,161.3 L1610.3,161.1 L1617.0,161.2 L1623.7,161.5 L1630.3,162.1 L1636.9,163.0 L1643.3,164.1 L1649.5,165.5 L1655.6,167.2 L1661.5,169.0 L1667.1,171.1 L1672.5,173.5 L1677.5,176.0 L1682.3,178.8 L1686.7,181.7 L1690.7,184.8 L1694.3,188.0 L1697.6,191.4 L1700.4,194.9 L1702.8,198.5 L1704.8,202.2 L1706.3,206.0 L1707.3,209.8 L1707.9,213.7 L1708.0,217.5 L1707.7,221.4 L1706.9,225.3 L1705.6,229.1 L1703.9,232.8 L1701.7,236.5 L1699.1,240.0 L1696.0,243.5 L1692.6,246.8 L1688.7,250.0 L1684.5,253.0 L1679.9,255.8 Z" fill="#f23a32"/>
<path d="M1703.2,213.4 L1703.1,216.1 L1702.7,218.9 L1702.1,221.6 L1701.2,224.3 L1700.1,227.0 L1698.7,229.6 L1697.1,232.2 L1695.3,234.8 L1693.3,237.3 L1691.0,239.7 L1688.5,242.0 L1685.8,244.3 L1682.9,246.5 L1679.8,248.6 L1676.5,250.6 L1673.0,252.5 L1669.4,254.3 L1665.6,255.9 L1661.7,257.5 L1657.6,259.0 L1653.4,260.3 L1649.1,261.5 L1644.7,262.5 L1640.2,263.4 L1635.6,264.2 L1631.0,264.9 L1626.3,265.4 L1621.5,265.7 L1616.8,265.9 L1612.0,266.0 L1607.2,265.9 L1602.5,265.7 L1597.7,265.4 L1593.0,264.9 L1588.4,264.2 L1583.8,263.4 L1579.3,262.5 L1574.9,261.5 L1570.6,260.3 L1566.4,259.0 L1562.3,257.5 L1558.4,255.9 L1554.6,254.3 L1551.0,252.5 L1547.5,250.6 L1544.2,248.6 L1541.1,246.5 L1538.2,244.3 L1535.5,242.0 L1533.0,239.7 L1530.7,237.3 L1528.7,234.8 L1526.9,232.2 L1525.3,229.6 L1523.9,227.0 L1522.8,224.3 L1521.9,221.6 L1521.3,218.9 L1520.9,216.1 L1520.8,213.4 L1520.8,120.3 L1520.9,123.0 L1521.3,125.8 L1521.9,128.5 L1522.8,131.2 L1523.9,133.9 L1525.3,136.5 L1526.9,139.1 L1528.7,141.7 L1530.7,144.2 L1533.0,146.6 L1535.5,148.9 L1538.2,151.2 L1541.1,153.4 L1544.2,155.5 L1547.5,157.5 L1551.0,159.4 L1554.6,161.2 L1558.4,162.9 L1562.3,164.4 L1566.4,165.9 L1570.6,167.2 L1574.9,168.4 L1579.3,169.4 L1583.8,170.3 L1588.4,171.1 L1593.0,171.8 L1597.7,172.3 L1602.5,172.6 L1607.2,172.9 L1612.0,172.9 L1616.8,172.9 L1621.5,172.6 L1626.3,172.3 L1631.0,171.8 L1635.6,171.1 L1640.2,170.3 L1644.7,169.4 L1649.1,168.4 L1653.4,167.2 L1657.6,165.9 L1661.7,164.4 L1665.6,162.9 L1669.4,161.2 L1673.0,159.4 L1676.5,157.5 L1679.8,155.5 L1682.9,153.4 L1685.8,151.2 L1688.5,148.9 L1691.0,146.6 L1693.3,144.2 L1695.3,141.7 L1697.1,139.1 L1698.7,136.5 L1700.1,133.9 L1701.2,131.2 L1702.1,128.5 L1702.7,125.8 L1703.1,123.0 L1703.2,120.3 Z" fill="url(#gTubeIso)" stroke="#1a1a00" stroke-width="1.1"/>
<path d="M1676.5,157.5 L1671.8,160.0 L1666.9,162.3 L1661.7,164.4 L1656.2,166.3 L1650.5,168.0 L1644.7,169.4 L1638.7,170.6 L1632.5,171.6 L1626.3,172.3 L1619.9,172.7 L1613.6,172.9 L1607.2,172.9 L1600.9,172.5 L1594.6,172.0 L1588.4,171.1 L1582.3,170.1 L1576.4,168.7 L1570.6,167.2 L1565.0,165.4 L1559.7,163.4 L1554.6,161.2 L1549.8,158.8 L1545.3,156.2 L1541.1,153.4 L1537.3,150.5 L1533.8,147.4 L1530.7,144.2 L1528.0,140.8 L1525.8,137.4 L1523.9,133.9 L1522.5,130.3 L1521.5,126.7 L1520.9,123.0 L1520.8,119.4 L1521.1,115.7 L1521.9,112.0 L1523.1,108.4 L1524.8,104.9 L1526.9,101.4 L1529.3,98.0 L1532.2,94.7 L1535.5,91.6 L1539.2,88.6 L1543.2,85.7 L1547.5,83.0 L1552.2,80.5 L1557.1,78.2 L1562.3,76.1 L1567.8,74.2 L1573.5,72.5 L1579.3,71.1 L1585.3,69.9 L1591.5,69.0 L1597.7,68.3 L1604.1,67.8 L1610.4,67.6 L1616.8,67.7 L1623.1,68.0 L1629.4,68.6 L1635.6,69.4 L1641.7,70.5 L1647.6,71.8 L1653.4,73.4 L1659.0,75.1 L1664.3,77.1 L1669.4,79.4 L1674.2,81.8 L1678.7,84.4 L1682.9,87.1 L1686.7,90.1 L1690.2,93.2 L1693.3,96.4 L1696.0,99.7 L1698.2,103.1 L1700.1,106.6 L1701.5,110.2 L1702.5,113.9 L1703.1,117.5 L1703.2,121.2 L1702.9,124.9 L1702.1,128.5 L1700.9,132.1 L1699.2,135.7 L1697.1,139.1 L1694.7,142.5 L1691.8,145.8 L1688.5,148.9 L1684.8,152.0 L1680.8,154.8 L1676.5,157.5 Z" fill="#d4c600" stroke="#1a1a00" stroke-width="1.1"/>
<path d="M1665.7,151.3 L1661.9,153.4 L1657.7,155.3 L1653.4,157.1 L1648.8,158.6 L1644.1,160.0 L1639.2,161.2 L1634.2,162.2 L1629.1,163.0 L1623.9,163.6 L1618.6,164.0 L1613.3,164.1 L1608.0,164.1 L1602.7,163.8 L1597.5,163.3 L1592.3,162.7 L1587.3,161.8 L1582.3,160.7 L1577.5,159.4 L1572.9,157.9 L1568.4,156.2 L1564.2,154.4 L1560.2,152.4 L1556.4,150.2 L1552.9,147.9 L1549.7,145.4 L1546.9,142.9 L1544.3,140.2 L1542.0,137.4 L1540.1,134.6 L1538.6,131.6 L1537.4,128.6 L1536.6,125.6 L1536.1,122.6 L1536.0,119.5 L1536.3,116.4 L1536.9,113.4 L1537.9,110.4 L1539.3,107.4 L1541.0,104.5 L1543.1,101.7 L1545.5,99.0 L1548.3,96.4 L1551.3,93.9 L1554.6,91.5 L1558.3,89.2 L1562.1,87.2 L1566.3,85.2 L1570.6,83.5 L1575.2,81.9 L1579.9,80.5 L1584.8,79.3 L1589.8,78.3 L1594.9,77.5 L1600.1,76.9 L1605.4,76.6 L1610.7,76.4 L1616.0,76.5 L1621.3,76.7 L1626.5,77.2 L1631.7,77.9 L1636.7,78.8 L1641.7,79.9 L1646.5,81.2 L1651.1,82.7 L1655.6,84.3 L1659.8,86.2 L1663.8,88.2 L1667.6,90.3 L1671.1,92.7 L1674.3,95.1 L1677.1,97.7 L1679.7,100.3 L1682.0,103.1 L1683.9,106.0 L1685.4,108.9 L1686.6,111.9 L1687.4,114.9 L1687.9,118.0 L1688.0,121.0 L1687.7,124.1 L1687.1,127.1 L1686.1,130.1 L1684.7,133.1 L1683.0,136.0 L1680.9,138.8 L1678.5,141.5 L1675.7,144.2 L1672.7,146.7 L1669.4,149.1 L1665.7,151.3 Z" fill="url(#gBoreIso)" stroke="#1a1a00" stroke-width="1.1"/>
<polygon points="1668.1,148.9 1680.1,155.9 1673.7,159.6 1661.7,152.7" fill="#6e6200" stroke="#1a1a00" stroke-width="0.8" stroke-linejoin="round" />
<defs><clipPath id="cbclip"><path d="M1666.8,241.3 L1666.7,239.3 L1666.5,237.2 L1666.0,235.1 L1665.4,232.9 L1664.7,230.7 L1663.7,228.6 L1662.7,226.4 L1661.5,224.4 L1660.2,222.4 L1658.8,220.5 L1657.3,218.7 L1655.7,217.1 L1654.0,215.7 L1652.4,214.4 L1650.7,213.4 L1649.0,212.5 L1647.3,211.8 L1645.7,211.4 L1644.1,211.2 L1642.6,211.2 L1641.2,211.4 L1639.9,211.9 L1638.7,212.6 L1637.6,213.5 L1636.7,214.6 L1636.0,215.9 L1635.4,217.4 L1634.9,219.0 L1634.7,220.8 L1634.6,222.7 L1634.7,224.7 L1634.9,226.7 L1635.4,228.9 L1636.0,231.0 L1636.7,233.2 L1637.6,235.4 L1638.7,237.5 L1639.9,239.6 L1641.2,241.6 L1642.6,243.4 L1644.1,245.2 L1645.7,246.8 L1647.3,248.2 L1649.0,249.5 L1650.7,250.6 L1652.4,251.5 L1654.0,252.1 L1655.7,252.5 L1657.3,252.8 L1658.8,252.7 L1660.2,252.5 L1661.5,252.0 L1662.7,251.3 L1663.7,250.4 L1664.7,249.3 L1665.4,248.0 L1666.0,246.6 L1666.5,244.9 L1666.7,243.2 L1666.8,241.3 Z"/></clipPath></defs>
<polygon points="1700.9,137.7 1708.4,144.4 1708.8,144.4 1701.3,137.7" fill="#b81917" stroke="#b81917" stroke-width="0.7" stroke-linejoin="round" />
<polygon points="1742.1,221.0 1739.9,222.6 1735.0,225.4 1737.3,223.8" fill="#8c7d00" stroke="#8c7d00" stroke-width="0.7" stroke-linejoin="round" />
<polygon points="1744.0,218.8 1742.1,221.0 1743.8,219.4 1745.7,217.3" fill="#a01110" stroke="#a01110" stroke-width="0.7" stroke-linejoin="round" />
<polygon points="1700.2,138.7 1707.8,145.3 1708.4,144.4 1700.9,137.7" fill="#d1201d" stroke="#d1201d" stroke-width="0.7" stroke-linejoin="round" />
<polygon points="1744.0,218.8 1742.1,221.0 1737.3,223.8 1739.1,221.6" fill="#8c7d00" stroke="#8c7d00" stroke-width="0.7" stroke-linejoin="round" />
<polygon points="1737.3,223.8 1735.0,225.4 1730.2,228.2 1732.4,226.5" fill="#8c7d00" stroke="#8c7d00" stroke-width="0.7" stroke-linejoin="round" />
<polygon points="1708.4,144.4 1714.7,149.9 1716.1,150.8 1708.8,144.4" fill="#b81917" stroke="#b81917" stroke-width="0.7" stroke-linejoin="round" />
<polygon points="1745.5,216.2 1744.0,218.8 1745.7,217.3 1747.2,214.7" fill="#a01110" stroke="#a01110" stroke-width="0.7" stroke-linejoin="round" />
<polygon points="1699.4,140.5 1707.0,147.2 1707.8,145.3 1700.2,138.7" fill="#e52722" stroke="#e52722" stroke-width="0.7" stroke-linejoin="round" />
<polygon points="1748.2,211.7 1747.2,214.7 1748.1,212.8 1749.1,209.9" fill="#a01110" stroke="#a01110" stroke-width="0.7" stroke-linejoin="round" />
<polygon points="1707.8,145.3 1712.9,149.9 1714.7,149.9 1708.4,144.4" fill="#d1201d" stroke="#d1201d" stroke-width="0.7" stroke-linejoin="round" />
<polygon points="1745.5,216.2 1744.0,218.8 1739.1,221.6 1740.6,219.0" fill="#8c7d00" stroke="#8c7d00" stroke-width="0.7" stroke-linejoin="round" />
<polygon points="1739.1,221.6 1737.3,223.8 1732.4,226.5 1734.3,224.4" fill="#8c7d00" stroke="#8c7d00" stroke-width="0.7" stroke-linejoin="round" />
<polygon points="1732.4,226.5 1730.2,228.2 1725.4,231.0 1727.6,229.3" fill="#8c7d00" stroke="#8c7d00" stroke-width="0.7" stroke-linejoin="round" />
<polygon points="1714.7,149.9 1721.1,155.6 1722.5,156.5 1716.1,150.8" fill="#b81917" stroke="#b81917" stroke-width="0.7" stroke-linejoin="round" />
<polygon points="1746.5,213.1 1745.5,216.2 1747.2,214.7 1748.2,211.7" fill="#a41211" stroke="#a41211" stroke-width="0.7" stroke-linejoin="round" />
<polygon points="1707.0,147.2 1710.9,150.6 1712.9,149.9 1707.8,145.3" fill="#e52722" stroke="#e52722" stroke-width="0.7" stroke-linejoin="round" />
<polygon points="1699.4,140.5 1707.0,147.2 1704.7,152.2 1697.1,145.5" fill="#ed2925" stroke="#ed2925" stroke-width="0.7" stroke-linejoin="round" />
<polygon points="1748.9,208.3 1748.2,211.7 1749.1,209.9 1749.8,206.6" fill="#a01110" stroke="#a01110" stroke-width="0.7" stroke-linejoin="round" />
<polygon points="1712.9,149.9 1719.3,155.6 1721.1,155.6 1714.7,149.9" fill="#d1201d" stroke="#d1201d" stroke-width="0.7" stroke-linejoin="round" />
<polygon points="1750.0,203.0 1749.8,206.6 1749.8,204.7 1750.0,201.4" fill="#a01110" stroke="#a01110" stroke-width="0.7" stroke-linejoin="round" />
<polygon points="1746.5,213.1 1745.5,216.2 1740.6,219.0 1741.7,215.9" fill="#918202" stroke="#918202" stroke-width="0.7" stroke-linejoin="round" />
<polygon points="1740.6,219.0 1739.1,221.6 1734.3,224.4 1735.8,221.8" fill="#8c7d00" stroke="#8c7d00" stroke-width="0.7" stroke-linejoin="round" />
<polygon points="1747.2,209.7 1746.5,213.1 1748.2,211.7 1748.9,208.3" fill="#ae1514" stroke="#ae1514" stroke-width="0.7" stroke-linejoin="round" />
<polygon points="1734.3,224.4 1732.4,226.5 1727.6,229.3 1729.5,227.2" fill="#8c7d00" stroke="#8c7d00" stroke-width="0.7" stroke-linejoin="round" />
<polygon points="1727.6,229.3 1725.4,231.0 1720.5,233.8 1722.7,232.1" fill="#8c7d00" stroke="#8c7d00" stroke-width="0.7" stroke-linejoin="round" />
<polygon points="1710.9,150.6 1717.3,156.4 1719.3,155.6 1712.9,149.9" fill="#e52722" stroke="#e52722" stroke-width="0.7" stroke-linejoin="round" />
<polygon points="1707.0,147.2 1710.9,150.6 1706.0,153.4 1704.7,152.2" fill="#fdf827" stroke="#fdf827" stroke-width="0.7" stroke-linejoin="round" />
<polygon points="1749.1,204.6 1748.9,208.3 1749.8,206.6 1750.0,203.0" fill="#a81412" stroke="#a81412" stroke-width="0.7" stroke-linejoin="round" />
<polygon points="1749.8,199.2 1750.0,203.0 1750.0,201.4 1749.8,197.8" fill="#a01110" stroke="#a01110" stroke-width="0.7" stroke-linejoin="round" />
<polygon points="1721.1,155.6 1731.8,165.1 1732.8,165.7 1722.5,156.5" fill="#b81917" stroke="#b81917" stroke-width="0.7" stroke-linejoin="round" />
<polygon points="1747.2,209.7 1746.5,213.1 1741.7,215.9 1742.4,212.5" fill="#a09207" stroke="#a09207" stroke-width="0.7" stroke-linejoin="round" />
<polygon points="1747.4,205.9 1747.2,209.7 1748.9,208.3 1749.1,204.6" fill="#b71816" stroke="#b71816" stroke-width="0.7" stroke-linejoin="round" />
<polygon points="1697.1,145.5 1704.7,152.2 1701.2,156.2 1694.3,150.1" fill="#ed2925" stroke="#ed2925" stroke-width="0.7" stroke-linejoin="round" />
<polygon points="1741.7,215.9 1740.6,219.0 1735.8,221.8 1736.9,218.7" fill="#918202" stroke="#918202" stroke-width="0.7" stroke-linejoin="round" />
<polygon points="1749.1,195.2 1749.8,199.2 1749.8,197.8 1749.2,194.0" fill="#a41211" stroke="#a41211" stroke-width="0.7" stroke-linejoin="round" />
<polygon points="1710.9,150.6 1717.3,156.4 1712.5,159.2 1706.0,153.4" fill="#fdf827" stroke="#fdf827" stroke-width="0.7" stroke-linejoin="round" />
<polygon points="1748.9,200.6 1749.1,204.6 1750.0,203.0 1749.8,199.2" fill="#b01614" stroke="#b01614" stroke-width="0.7" stroke-linejoin="round" />
<polygon points="1735.8,221.8 1734.3,224.4 1729.5,227.2 1731.0,224.5" fill="#8c7d00" stroke="#8c7d00" stroke-width="0.7" stroke-linejoin="round" />
<polygon points="1719.3,155.6 1730.2,165.2 1731.8,165.1 1721.1,155.6" fill="#d1201d" stroke="#d1201d" stroke-width="0.7" stroke-linejoin="round" />
<polygon points="1729.5,227.2 1727.6,229.3 1722.7,232.1 1724.6,230.0" fill="#8c7d00" stroke="#8c7d00" stroke-width="0.7" stroke-linejoin="round" />
<polygon points="1722.7,232.1 1720.5,233.8 1715.7,236.6 1717.9,234.9" fill="#8c7d00" stroke="#8c7d00" stroke-width="0.7" stroke-linejoin="round" />
<polygon points="1731.8,165.1 1734.8,168.0 1735.7,168.4 1732.8,165.7" fill="#b91917" stroke="#b91917" stroke-width="0.7" stroke-linejoin="round" />
<polygon points="1748.1,191.1 1749.1,195.2 1749.2,194.0 1748.2,190.1" fill="#a91412" stroke="#a91412" stroke-width="0.7" stroke-linejoin="round" />
<polygon points="1704.7,152.2 1706.0,153.4 1701.9,156.8 1701.2,156.2" fill="#fdf827" stroke="#fdf827" stroke-width="0.7" stroke-linejoin="round" />
<polygon points="1747.2,201.9 1747.4,205.9 1749.1,204.6 1748.9,200.6" fill="#c01b19" stroke="#c01b19" stroke-width="0.7" stroke-linejoin="round" />
<polygon points="1717.3,156.4 1728.3,166.1 1730.2,165.2 1719.3,155.6" fill="#e52722" stroke="#e52722" stroke-width="0.7" stroke-linejoin="round" />
<polygon points="1747.4,205.9 1747.2,209.7 1742.4,212.5 1742.6,208.7" fill="#aea20c" stroke="#aea20c" stroke-width="0.7" stroke-linejoin="round" />
<polygon points="1748.2,196.5 1748.9,200.6 1749.8,199.2 1749.1,195.2" fill="#b71816" stroke="#b71816" stroke-width="0.7" stroke-linejoin="round" />
<polygon points="1734.8,168.0 1737.7,171.4 1738.4,171.5 1735.7,168.4" fill="#ba1917" stroke="#ba1917" stroke-width="0.7" stroke-linejoin="round" />
<polygon points="1746.7,186.9 1748.1,191.1 1748.2,190.1 1746.9,186.2" fill="#ae1614" stroke="#ae1614" stroke-width="0.7" stroke-linejoin="round" />
<polygon points="1742.4,212.5 1741.7,215.9 1736.9,218.7 1737.5,215.3" fill="#a09207" stroke="#a09207" stroke-width="0.7" stroke-linejoin="round" />
<polygon points="1736.9,218.7 1735.8,221.8 1731.0,224.5 1732.0,221.5" fill="#918202" stroke="#918202" stroke-width="0.7" stroke-linejoin="round" />
<polygon points="1737.7,171.4 1740.4,175.0 1740.9,174.9 1738.4,171.5" fill="#b91917" stroke="#b91917" stroke-width="0.7" stroke-linejoin="round" />
<polygon points="1744.9,182.8 1746.7,186.9 1746.9,186.2 1745.2,182.3" fill="#b21715" stroke="#b21715" stroke-width="0.7" stroke-linejoin="round" />
<polygon points="1706.0,153.4 1712.5,159.2 1707.7,161.9 1701.9,156.8" fill="#fdf827" stroke="#fdf827" stroke-width="0.7" stroke-linejoin="round" />
<polygon points="1731.0,224.5 1729.5,227.2 1724.6,230.0 1726.1,227.3" fill="#8c7d00" stroke="#8c7d00" stroke-width="0.7" stroke-linejoin="round" />
<polygon points="1694.3,150.1 1701.2,156.2 1696.4,159.0 1691.1,154.3" fill="#ed2925" stroke="#ed2925" stroke-width="0.7" stroke-linejoin="round" />
<polygon points="1747.2,192.2 1748.2,196.5 1749.1,195.2 1748.1,191.1" fill="#be1b18" stroke="#be1b18" stroke-width="0.7" stroke-linejoin="round" />
<polygon points="1730.2,165.2 1733.4,168.3 1734.8,168.0 1731.8,165.1" fill="#d2211d" stroke="#d2211d" stroke-width="0.7" stroke-linejoin="round" />
<polygon points="1724.6,230.0 1722.7,232.1 1717.9,234.9 1719.8,232.8" fill="#8c7d00" stroke="#8c7d00" stroke-width="0.7" stroke-linejoin="round" />
<polygon points="1717.9,234.9 1715.7,236.6 1710.9,239.4 1713.1,237.7" fill="#8c7d00" stroke="#8c7d00" stroke-width="0.7" stroke-linejoin="round" />
<polygon points="1740.4,175.0 1742.8,178.8 1743.2,178.6 1740.9,174.9" fill="#b81916" stroke="#b81916" stroke-width="0.7" stroke-linejoin="round" />
<polygon points="1742.8,178.8 1744.9,182.8 1745.2,182.3 1743.2,178.6" fill="#b51816" stroke="#b51816" stroke-width="0.7" stroke-linejoin="round" />
<polygon points="1746.5,197.7 1747.2,201.9 1748.9,200.6 1748.2,196.5" fill="#c91e1b" stroke="#c91e1b" stroke-width="0.7" stroke-linejoin="round" />
<polygon points="1747.2,201.9 1747.4,205.9 1742.6,208.7 1742.4,204.7" fill="#bcb111" stroke="#bcb111" stroke-width="0.7" stroke-linejoin="round" />
<polygon points="1717.3,156.4 1728.3,166.1 1723.5,168.9 1712.5,159.2" fill="#fdf827" stroke="#fdf827" stroke-width="0.7" stroke-linejoin="round" />
<polygon points="1745.7,187.9 1747.2,192.2 1748.1,191.1 1746.7,186.9" fill="#c41c1a" stroke="#c41c1a" stroke-width="0.7" stroke-linejoin="round" />
<polygon points="1733.4,168.3 1736.4,171.7 1737.7,171.4 1734.8,168.0" fill="#d3211d" stroke="#d3211d" stroke-width="0.7" stroke-linejoin="round" />
<polygon points="1742.6,208.7 1742.4,212.5 1737.5,215.3 1737.8,211.5" fill="#aea20c" stroke="#aea20c" stroke-width="0.7" stroke-linejoin="round" />
<polygon points="1728.3,166.1 1731.5,169.2 1733.4,168.3 1730.2,165.2" fill="#e62723" stroke="#e62723" stroke-width="0.7" stroke-linejoin="round" />
<polygon points="1745.5,193.4 1746.5,197.7 1748.2,196.5 1747.2,192.2" fill="#d0201d" stroke="#d0201d" stroke-width="0.7" stroke-linejoin="round" />
<polygon points="1701.2,156.2 1701.9,156.8 1698.6,161.0 1696.4,159.0" fill="#fdf827" stroke="#fdf827" stroke-width="0.7" stroke-linejoin="round" />
<polygon points="1736.4,171.7 1739.1,175.5 1740.4,175.0 1737.7,171.4" fill="#d2211d" stroke="#d2211d" stroke-width="0.7" stroke-linejoin="round" />
<polygon points="1743.8,183.6 1745.7,187.9 1746.7,186.9 1744.9,182.8" fill="#c91e1b" stroke="#c91e1b" stroke-width="0.7" stroke-linejoin="round" />
<polygon points="1737.5,215.3 1736.9,218.7 1732.0,221.5 1732.7,218.0" fill="#a09207" stroke="#a09207" stroke-width="0.7" stroke-linejoin="round" />
<polygon points="1739.1,175.5 1741.6,179.5 1742.8,178.8 1740.4,175.0" fill="#d0201d" stroke="#d0201d" stroke-width="0.7" stroke-linejoin="round" />
<polygon points="1741.6,179.5 1743.8,183.6 1744.9,182.8 1742.8,178.8" fill="#cd1f1c" stroke="#cd1f1c" stroke-width="0.7" stroke-linejoin="round" />
<polygon points="1746.5,197.7 1747.2,201.9 1742.4,204.7 1741.7,200.5" fill="#c9bf15" stroke="#c9bf15" stroke-width="0.7" stroke-linejoin="round" />
<polygon points="1732.0,221.5 1731.0,224.5 1726.1,227.3 1727.2,224.3" fill="#918202" stroke="#918202" stroke-width="0.7" stroke-linejoin="round" />
<polygon points="1744.0,189.0 1745.5,193.4 1747.2,192.2 1745.7,187.9" fill="#d7221f" stroke="#d7221f" stroke-width="0.7" stroke-linejoin="round" />
<polygon points="1731.5,169.2 1734.5,172.7 1736.4,171.7 1733.4,168.3" fill="#e72723" stroke="#e72723" stroke-width="0.7" stroke-linejoin="round" />
<polygon points="1726.1,227.3 1724.6,230.0 1719.8,232.8 1721.3,230.1" fill="#8c7d00" stroke="#8c7d00" stroke-width="0.7" stroke-linejoin="round" />
<polygon points="1719.8,232.8 1717.9,234.9 1713.1,237.7 1714.9,235.6" fill="#8c7d00" stroke="#8c7d00" stroke-width="0.7" stroke-linejoin="round" />
<polygon points="1701.9,156.8 1707.7,161.9 1702.8,164.7 1698.6,161.0" fill="#fdf827" stroke="#fdf827" stroke-width="0.7" stroke-linejoin="round" />
<polygon points="1691.1,154.3 1696.4,159.0 1691.5,161.8 1687.4,158.2" fill="#ed2925" stroke="#ed2925" stroke-width="0.7" stroke-linejoin="round" />
<polygon points="1734.5,172.7 1737.3,176.4 1739.1,175.5 1736.4,171.7" fill="#e62723" stroke="#e62723" stroke-width="0.7" stroke-linejoin="round" />
<polygon points="1742.1,184.7 1744.0,189.0 1745.7,187.9 1743.8,183.6" fill="#dd2420" stroke="#dd2420" stroke-width="0.7" stroke-linejoin="round" />
<polygon points="1742.4,204.7 1742.6,208.7 1737.8,211.5 1737.5,207.5" fill="#bcb111" stroke="#bcb111" stroke-width="0.7" stroke-linejoin="round" />
<polygon points="1712.5,159.2 1723.5,168.9 1718.6,171.7 1707.7,161.9" fill="#fdf827" stroke="#fdf827" stroke-width="0.7" stroke-linejoin="round" />
<polygon points="1728.3,166.1 1731.5,169.2 1726.7,172.0 1723.5,168.9" fill="#fef827" stroke="#fef827" stroke-width="0.7" stroke-linejoin="round" />
<polygon points="1745.5,193.4 1746.5,197.7 1741.7,200.5 1740.6,196.2" fill="#d5cc19" stroke="#d5cc19" stroke-width="0.7" stroke-linejoin="round" />
<polygon points="1737.3,176.4 1739.9,180.5 1741.6,179.5 1739.1,175.5" fill="#e42622" stroke="#e42622" stroke-width="0.7" stroke-linejoin="round" />
<polygon points="1739.9,180.5 1742.1,184.7 1743.8,183.6 1741.6,179.5" fill="#e12521" stroke="#e12521" stroke-width="0.7" stroke-linejoin="round" />
<polygon points="1737.8,211.5 1737.5,215.3 1732.7,218.0 1732.9,214.3" fill="#aea20c" stroke="#aea20c" stroke-width="0.7" stroke-linejoin="round" />
<polygon points="1696.4,159.0 1698.6,161.0 1695.0,164.9 1691.5,161.8" fill="#fdf827" stroke="#fdf827" stroke-width="0.7" stroke-linejoin="round" />
<polygon points="1731.5,169.2 1734.5,172.7 1729.7,175.5 1726.7,172.0" fill="#fdf827" stroke="#fdf827" stroke-width="0.7" stroke-linejoin="round" />
<polygon points="1744.0,189.0 1745.5,193.4 1740.6,196.2 1739.1,191.8" fill="#e0d81d" stroke="#e0d81d" stroke-width="0.7" stroke-linejoin="round" />
<polygon points="1732.7,218.0 1732.0,221.5 1727.2,224.3 1727.9,220.8" fill="#a09207" stroke="#a09207" stroke-width="0.7" stroke-linejoin="round" />
<polygon points="1741.7,200.5 1742.4,204.7 1737.5,207.5 1736.9,203.3" fill="#c9bf15" stroke="#c9bf15" stroke-width="0.7" stroke-linejoin="round" />
<polygon points="1727.2,224.3 1726.1,227.3 1721.3,230.1 1722.4,227.1" fill="#918202" stroke="#918202" stroke-width="0.7" stroke-linejoin="round" />
<polygon points="1734.5,172.7 1737.3,176.4 1732.5,179.2 1729.7,175.5" fill="#fbf627" stroke="#fbf627" stroke-width="0.7" stroke-linejoin="round" />
<polygon points="1742.1,184.7 1744.0,189.0 1739.1,191.8 1737.3,187.5" fill="#e9e220" stroke="#e9e220" stroke-width="0.7" stroke-linejoin="round" />
<polygon points="1721.3,230.1 1719.8,232.8 1714.9,235.6 1716.4,232.9" fill="#8c7d00" stroke="#8c7d00" stroke-width="0.7" stroke-linejoin="round" />
<polygon points="1737.3,176.4 1739.9,180.5 1735.0,183.3 1732.5,179.2" fill="#f7f125" stroke="#f7f125" stroke-width="0.7" stroke-linejoin="round" />
<polygon points="1739.9,180.5 1742.1,184.7 1737.3,187.5 1735.0,183.3" fill="#f1eb23" stroke="#f1eb23" stroke-width="0.7" stroke-linejoin="round" />
<polygon points="1698.6,161.0 1702.8,164.7 1698.0,167.5 1695.0,164.9" fill="#fdf827" stroke="#fdf827" stroke-width="0.7" stroke-linejoin="round" />
<polygon points="1687.4,158.2 1691.5,161.8 1686.7,164.6 1683.4,161.7" fill="#ed2925" stroke="#ed2925" stroke-width="0.7" stroke-linejoin="round" />
<polygon points="1737.5,207.5 1737.8,211.5 1732.9,214.3 1732.7,210.3" fill="#bcb111" stroke="#bcb111" stroke-width="0.7" stroke-linejoin="round" />
<polygon points="1707.7,161.9 1718.6,171.7 1713.8,174.5 1702.8,164.7" fill="#fdf827" stroke="#fdf827" stroke-width="0.7" stroke-linejoin="round" />
<polygon points="1723.5,168.9 1726.7,172.0 1721.8,174.8 1718.6,171.7" fill="#fef827" stroke="#fef827" stroke-width="0.7" stroke-linejoin="round" />
<polygon points="1740.6,196.2 1741.7,200.5 1736.9,203.3 1735.8,199.0" fill="#d5cc19" stroke="#d5cc19" stroke-width="0.7" stroke-linejoin="round" />
<polygon points="1732.9,214.3 1732.7,218.0 1727.9,220.8 1728.1,217.1" fill="#aea20c" stroke="#aea20c" stroke-width="0.7" stroke-linejoin="round" />
<polygon points="1726.7,172.0 1729.7,175.5 1724.9,178.2 1721.8,174.8" fill="#fdf827" stroke="#fdf827" stroke-width="0.7" stroke-linejoin="round" />
<polygon points="1739.1,191.8 1740.6,196.2 1735.8,199.0 1734.3,194.6" fill="#e0d81d" stroke="#e0d81d" stroke-width="0.7" stroke-linejoin="round" />
<polygon points="1727.9,220.8 1727.2,224.3 1722.4,227.1 1723.0,223.6" fill="#a09207" stroke="#a09207" stroke-width="0.7" stroke-linejoin="round" />
<polygon points="1691.5,161.8 1695.0,164.9 1690.9,168.4 1686.7,164.6" fill="#fdf827" stroke="#fdf827" stroke-width="0.7" stroke-linejoin="round" />
<polygon points="1736.9,203.3 1737.5,207.5 1732.7,210.3 1732.0,206.1" fill="#c9bf15" stroke="#c9bf15" stroke-width="0.7" stroke-linejoin="round" />
<polygon points="1722.4,227.1 1721.3,230.1 1716.4,232.9 1717.5,229.9" fill="#918202" stroke="#918202" stroke-width="0.7" stroke-linejoin="round" />
<polygon points="1729.7,175.5 1732.5,179.2 1727.7,182.0 1724.9,178.2" fill="#fbf627" stroke="#fbf627" stroke-width="0.7" stroke-linejoin="round" />
<polygon points="1737.3,187.5 1739.1,191.8 1734.3,194.6 1732.4,190.3" fill="#e9e220" stroke="#e9e220" stroke-width="0.7" stroke-linejoin="round" />
<polygon points="1732.5,179.2 1735.0,183.3 1730.2,186.1 1727.7,182.0" fill="#f7f125" stroke="#f7f125" stroke-width="0.7" stroke-linejoin="round" />
<polygon points="1735.0,183.3 1737.3,187.5 1732.4,190.3 1730.2,186.1" fill="#f1eb23" stroke="#f1eb23" stroke-width="0.7" stroke-linejoin="round" />
<polygon points="1732.7,210.3 1732.9,214.3 1728.1,217.1 1727.9,213.1" fill="#bcb111" stroke="#bcb111" stroke-width="0.7" stroke-linejoin="round" />
<polygon points="1683.4,161.7 1686.7,164.6 1681.9,167.4 1679.0,164.8" fill="#ed2925" stroke="#ed2925" stroke-width="0.7" stroke-linejoin="round" />
<polygon points="1695.0,164.9 1698.0,167.5 1693.1,170.3 1690.9,168.4" fill="#fdf827" stroke="#fdf827" stroke-width="0.7" stroke-linejoin="round" />
<polygon points="1702.8,164.7 1713.8,174.5 1709.0,177.3 1698.0,167.5" fill="#fdf827" stroke="#fdf827" stroke-width="0.7" stroke-linejoin="round" />
<polygon points="1718.6,171.7 1721.8,174.8 1717.0,177.6 1713.8,174.5" fill="#fef827" stroke="#fef827" stroke-width="0.7" stroke-linejoin="round" />
<polygon points="1735.8,199.0 1736.9,203.3 1732.0,206.1 1731.0,201.7" fill="#d5cc19" stroke="#d5cc19" stroke-width="0.7" stroke-linejoin="round" />
<polygon points="1728.1,217.1 1727.9,220.8 1723.0,223.6 1723.2,219.9" fill="#aea20c" stroke="#aea20c" stroke-width="0.7" stroke-linejoin="round" />
<polygon points="1721.8,174.8 1724.9,178.2 1720.0,181.0 1717.0,177.6" fill="#fdf827" stroke="#fdf827" stroke-width="0.7" stroke-linejoin="round" />
<polygon points="1734.3,194.6 1735.8,199.0 1731.0,201.7 1729.5,197.4" fill="#e0d81d" stroke="#e0d81d" stroke-width="0.7" stroke-linejoin="round" />
<polygon points="1723.0,223.6 1722.4,227.1 1717.5,229.9 1718.2,226.4" fill="#a09207" stroke="#a09207" stroke-width="0.7" stroke-linejoin="round" />
<polygon points="1686.7,164.6 1690.9,168.4 1686.5,171.5 1681.9,167.4" fill="#fdf827" stroke="#fdf827" stroke-width="0.7" stroke-linejoin="round" />
<polygon points="1732.0,206.1 1732.7,210.3 1727.9,213.1 1727.2,208.9" fill="#c9bf15" stroke="#c9bf15" stroke-width="0.7" stroke-linejoin="round" />
<polygon points="1724.9,178.2 1727.7,182.0 1722.8,184.8 1720.0,181.0" fill="#fbf627" stroke="#fbf627" stroke-width="0.7" stroke-linejoin="round" />
<polygon points="1732.4,190.3 1734.3,194.6 1729.5,197.4 1727.6,193.1" fill="#e9e220" stroke="#e9e220" stroke-width="0.7" stroke-linejoin="round" />
<polygon points="1727.7,182.0 1730.2,186.1 1725.4,188.9 1722.8,184.8" fill="#f7f125" stroke="#f7f125" stroke-width="0.7" stroke-linejoin="round" />
<polygon points="1730.2,186.1 1732.4,190.3 1727.6,193.1 1725.4,188.9" fill="#f1eb23" stroke="#f1eb23" stroke-width="0.7" stroke-linejoin="round" />
<polygon points="1727.9,213.1 1728.1,217.1 1723.2,219.9 1723.0,215.9" fill="#bcb111" stroke="#bcb111" stroke-width="0.7" stroke-linejoin="round" />
<polygon points="1698.0,167.5 1709.0,177.3 1704.1,180.1 1693.1,170.3" fill="#fdf827" stroke="#fdf827" stroke-width="0.7" stroke-linejoin="round" />
<polygon points="1690.9,168.4 1693.1,170.3 1688.3,173.1 1686.5,171.5" fill="#fdf827" stroke="#fdf827" stroke-width="0.7" stroke-linejoin="round" />
<polygon points="1713.8,174.5 1717.0,177.6 1712.2,180.4 1709.0,177.3" fill="#fef827" stroke="#fef827" stroke-width="0.7" stroke-linejoin="round" />
<polygon points="1731.0,201.7 1732.0,206.1 1727.2,208.9 1726.1,204.5" fill="#d5cc19" stroke="#d5cc19" stroke-width="0.7" stroke-linejoin="round" />
<polygon points="1723.2,219.9 1723.0,223.6 1718.2,226.4 1718.4,222.7" fill="#aea20c" stroke="#aea20c" stroke-width="0.7" stroke-linejoin="round" />
<polygon points="1717.0,177.6 1720.0,181.0 1715.2,183.8 1712.2,180.4" fill="#fdf827" stroke="#fdf827" stroke-width="0.7" stroke-linejoin="round" />
<polygon points="1729.5,197.4 1731.0,201.7 1726.1,204.5 1724.6,200.2" fill="#e0d81d" stroke="#e0d81d" stroke-width="0.7" stroke-linejoin="round" />
<polygon points="1727.2,208.9 1727.9,213.1 1723.0,215.9 1722.4,211.7" fill="#c9bf15" stroke="#c9bf15" stroke-width="0.7" stroke-linejoin="round" />
<polygon points="1720.0,181.0 1722.8,184.8 1718.0,187.6 1715.2,183.8" fill="#fbf627" stroke="#fbf627" stroke-width="0.7" stroke-linejoin="round" />
<polygon points="1727.6,193.1 1729.5,197.4 1724.6,200.2 1722.7,195.9" fill="#e9e220" stroke="#e9e220" stroke-width="0.7" stroke-linejoin="round" />
<polygon points="1722.8,184.8 1725.4,188.9 1720.5,191.7 1718.0,187.6" fill="#f7f125" stroke="#f7f125" stroke-width="0.7" stroke-linejoin="round" />
<polygon points="1725.4,188.9 1727.6,193.1 1722.7,195.9 1720.5,191.7" fill="#f1eb23" stroke="#f1eb23" stroke-width="0.7" stroke-linejoin="round" />
<polygon points="1723.0,215.9 1723.2,219.9 1718.4,222.7 1718.2,218.6" fill="#bcb111" stroke="#bcb111" stroke-width="0.7" stroke-linejoin="round" />
<polygon points="1693.1,170.3 1704.1,180.1 1699.3,182.9 1688.3,173.1" fill="#fdf827" stroke="#fdf827" stroke-width="0.7" stroke-linejoin="round" />
<polygon points="1709.0,177.3 1712.2,180.4 1707.3,183.2 1704.1,180.1" fill="#fef827" stroke="#fef827" stroke-width="0.7" stroke-linejoin="round" />
<polygon points="1726.1,204.5 1727.2,208.9 1722.4,211.7 1721.3,207.3" fill="#d5cc19" stroke="#d5cc19" stroke-width="0.7" stroke-linejoin="round" />
<polygon points="1712.2,180.4 1715.2,183.8 1710.3,186.6 1707.3,183.2" fill="#fdf827" stroke="#fdf827" stroke-width="0.7" stroke-linejoin="round" />
<polygon points="1724.6,200.2 1726.1,204.5 1721.3,207.3 1719.8,203.0" fill="#e0d81d" stroke="#e0d81d" stroke-width="0.7" stroke-linejoin="round" />
<polygon points="1722.4,211.7 1723.0,215.9 1718.2,218.6 1717.5,214.4" fill="#c9bf15" stroke="#c9bf15" stroke-width="0.7" stroke-linejoin="round" />
<polygon points="1715.2,183.8 1718.0,187.6 1713.2,190.4 1710.3,186.6" fill="#fbf627" stroke="#fbf627" stroke-width="0.7" stroke-linejoin="round" />
<polygon points="1722.7,195.9 1724.6,200.2 1719.8,203.0 1717.9,198.7" fill="#e9e220" stroke="#e9e220" stroke-width="0.7" stroke-linejoin="round" />
<polygon points="1718.0,187.6 1720.5,191.7 1715.7,194.4 1713.2,190.4" fill="#f7f125" stroke="#f7f125" stroke-width="0.7" stroke-linejoin="round" />
<polygon points="1720.5,191.7 1722.7,195.9 1717.9,198.7 1715.7,194.4" fill="#f1eb23" stroke="#f1eb23" stroke-width="0.7" stroke-linejoin="round" />
<polygon points="1704.1,180.1 1707.3,183.2 1702.5,185.9 1699.3,182.9" fill="#fef827" stroke="#fef827" stroke-width="0.7" stroke-linejoin="round" />
<polygon points="1721.3,207.3 1722.4,211.7 1717.5,214.4 1716.4,210.1" fill="#d5cc19" stroke="#d5cc19" stroke-width="0.7" stroke-linejoin="round" />
<polygon points="1707.3,183.2 1710.3,186.6 1705.5,189.4 1702.5,185.9" fill="#fdf827" stroke="#fdf827" stroke-width="0.7" stroke-linejoin="round" />
<polygon points="1719.8,203.0 1721.3,207.3 1716.4,210.1 1714.9,205.8" fill="#e0d81d" stroke="#e0d81d" stroke-width="0.7" stroke-linejoin="round" />
<polygon points="1710.3,186.6 1713.2,190.4 1708.3,193.2 1705.5,189.4" fill="#fbf627" stroke="#fbf627" stroke-width="0.7" stroke-linejoin="round" />
<polygon points="1717.9,198.7 1719.8,203.0 1714.9,205.8 1713.1,201.4" fill="#e9e220" stroke="#e9e220" stroke-width="0.7" stroke-linejoin="round" />
<polygon points="1713.2,190.4 1715.7,194.4 1710.9,197.2 1708.3,193.2" fill="#f7f125" stroke="#f7f125" stroke-width="0.7" stroke-linejoin="round" />
<polygon points="1715.7,194.4 1717.9,198.7 1713.1,201.4 1710.9,197.2" fill="#f1eb23" stroke="#f1eb23" stroke-width="0.7" stroke-linejoin="round" />
<line x1="1729.4" y1="165.5" x2="1699.3" y2="182.9" stroke="#1a1a00" stroke-width="0.9"/>
<polygon points="1679.0,164.8 1681.9,167.4 1686.5,171.5 1688.3,173.1 1699.3,182.9 1702.5,185.9 1705.5,189.4 1708.3,193.2 1710.9,197.2 1713.1,201.4 1714.9,205.8 1716.4,210.1 1717.5,214.4 1718.2,218.6 1718.4,222.7 1718.2,226.4 1717.5,229.9 1716.4,232.9 1714.9,235.6 1713.1,237.7 1710.9,239.4 1708.3,240.5 1705.5,241.0 1702.5,241.0 1699.3,240.4 1688.3,237.5 1686.5,237.0 1681.9,235.7 1679.0,235.0" fill="#5e5400" stroke="#1a1a00" stroke-width="0.8" stroke-linejoin="round" />
<polygon points="1636.3,255.2 1628.8,253.2 1626.4,252.1 1633.9,254.1" fill="#a01110" stroke="#a01110" stroke-width="0.7" stroke-linejoin="round" />
<polygon points="1633.9,254.1 1626.4,252.1 1624.8,250.3 1632.3,252.3" fill="#ab1513" stroke="#ab1513" stroke-width="0.7" stroke-linejoin="round" />
<polygon points="1632.3,252.3 1624.8,250.3 1624.3,248.0 1631.8,250.0" fill="#be1a18" stroke="#be1a18" stroke-width="0.7" stroke-linejoin="round" />
<polygon points="1642.6,256.9 1636.3,255.2 1633.9,254.1 1641.2,256.0" fill="#a01110" stroke="#a01110" stroke-width="0.7" stroke-linejoin="round" />
<polygon points="1641.2,256.0 1633.9,254.1 1632.3,252.3 1640.3,254.4" fill="#ab1513" stroke="#ab1513" stroke-width="0.7" stroke-linejoin="round" />
<polygon points="1640.3,254.4 1632.3,252.3 1631.8,250.0 1639.9,252.2" fill="#be1a18" stroke="#be1a18" stroke-width="0.7" stroke-linejoin="round" />
<polygon points="1649.1,258.6 1642.6,256.9 1641.2,256.0 1647.6,257.8" fill="#a01110" stroke="#a01110" stroke-width="0.7" stroke-linejoin="round" />
<polygon points="1647.6,257.8 1641.2,256.0 1640.3,254.4 1646.7,256.1" fill="#ab1513" stroke="#ab1513" stroke-width="0.7" stroke-linejoin="round" />
<polygon points="1646.7,256.1 1640.3,254.4 1639.9,252.2 1646.4,253.9" fill="#be1a18" stroke="#be1a18" stroke-width="0.7" stroke-linejoin="round" />
<polygon points="1706.6,241.4 1704.4,243.1 1699.6,245.9 1701.8,244.2" fill="#8c7d00" stroke="#8c7d00" stroke-width="0.7" stroke-linejoin="round" />
<polygon points="1708.5,239.3 1706.6,241.4 1701.8,244.2 1703.7,242.1" fill="#8c7d00" stroke="#8c7d00" stroke-width="0.7" stroke-linejoin="round" />
<polygon points="1701.8,244.2 1699.6,245.9 1694.7,248.7 1697.0,247.0" fill="#8c7d00" stroke="#8c7d00" stroke-width="0.7" stroke-linejoin="round" />
<polygon points="1659.7,261.5 1649.1,258.6 1647.6,257.8 1657.9,260.5" fill="#a01110" stroke="#a01110" stroke-width="0.7" stroke-linejoin="round" />
<polygon points="1657.9,260.5 1647.6,257.8 1646.7,256.1 1656.5,258.8" fill="#ab1513" stroke="#ab1513" stroke-width="0.7" stroke-linejoin="round" />
<polygon points="1710.0,236.6 1708.5,239.3 1703.7,242.1 1705.2,239.4" fill="#8c7d00" stroke="#8c7d00" stroke-width="0.7" stroke-linejoin="round" />
<polygon points="1703.7,242.1 1701.8,244.2 1697.0,247.0 1698.8,244.9" fill="#8c7d00" stroke="#8c7d00" stroke-width="0.7" stroke-linejoin="round" />
<polygon points="1697.0,247.0 1694.7,248.7 1689.9,251.5 1692.1,249.8" fill="#8c7d00" stroke="#8c7d00" stroke-width="0.7" stroke-linejoin="round" />
<polygon points="1656.5,258.8 1646.7,256.1 1646.4,253.9 1655.7,256.4" fill="#be1a18" stroke="#be1a18" stroke-width="0.7" stroke-linejoin="round" />
<polygon points="1711.1,233.6 1710.0,236.6 1705.2,239.4 1706.2,236.4" fill="#918202" stroke="#918202" stroke-width="0.7" stroke-linejoin="round" />
<polygon points="1662.8,262.1 1659.7,261.5 1657.9,260.5 1660.8,261.1" fill="#a01110" stroke="#a01110" stroke-width="0.7" stroke-linejoin="round" />
<polygon points="1705.2,239.4 1703.7,242.1 1698.8,244.9 1700.3,242.2" fill="#8c7d00" stroke="#8c7d00" stroke-width="0.7" stroke-linejoin="round" />
<polygon points="1698.8,244.9 1697.0,247.0 1692.1,249.8 1694.0,247.7" fill="#8c7d00" stroke="#8c7d00" stroke-width="0.7" stroke-linejoin="round" />
<polygon points="1692.1,249.8 1689.9,251.5 1685.1,254.3 1687.3,252.6" fill="#8c7d00" stroke="#8c7d00" stroke-width="0.7" stroke-linejoin="round" />
<polygon points="1672.5,168.6 1675.4,171.1 1670.6,173.9 1667.3,171.0" fill="#ed2925" stroke="#ed2925" stroke-width="0.7" stroke-linejoin="round" />
<polygon points="1667.9,262.2 1664.9,262.2 1662.8,262.1 1665.6,262.1" fill="#a01110" stroke="#a01110" stroke-width="0.7" stroke-linejoin="round" />
<polygon points="1660.8,261.1 1657.9,260.5 1656.5,258.8 1659.2,259.3" fill="#ac1513" stroke="#ac1513" stroke-width="0.7" stroke-linejoin="round" />
<polygon points="1659.2,259.3 1656.5,258.8 1655.7,256.4 1658.1,256.9" fill="#bf1b18" stroke="#bf1b18" stroke-width="0.7" stroke-linejoin="round" />
<polygon points="1711.7,230.1 1711.1,233.6 1706.2,236.4 1706.9,232.9" fill="#a09207" stroke="#a09207" stroke-width="0.7" stroke-linejoin="round" />
<polygon points="1665.6,262.1 1662.8,262.1 1660.8,261.1 1663.5,261.1" fill="#a01110" stroke="#a01110" stroke-width="0.7" stroke-linejoin="round" />
<polygon points="1675.4,171.1 1680.1,175.2 1674.8,177.7 1670.6,173.9" fill="#fdf827" stroke="#fdf827" stroke-width="0.7" stroke-linejoin="round" />
<polygon points="1706.2,236.4 1705.2,239.4 1700.3,242.2 1701.4,239.2" fill="#918202" stroke="#918202" stroke-width="0.7" stroke-linejoin="round" />
<polygon points="1700.3,242.2 1698.8,244.9 1694.0,247.7 1695.5,245.0" fill="#8c7d00" stroke="#8c7d00" stroke-width="0.7" stroke-linejoin="round" />
<polygon points="1694.0,247.7 1692.1,249.8 1687.3,252.6 1689.2,250.5" fill="#8c7d00" stroke="#8c7d00" stroke-width="0.7" stroke-linejoin="round" />
<polygon points="1687.3,252.6 1685.1,254.3 1680.2,257.0 1682.4,255.4" fill="#8c7d00" stroke="#8c7d00" stroke-width="0.7" stroke-linejoin="round" />
<polygon points="1663.5,261.1 1660.8,261.1 1659.2,259.3 1661.7,259.3" fill="#b01614" stroke="#b01614" stroke-width="0.7" stroke-linejoin="round" />
<polygon points="1667.3,171.0 1670.6,173.9 1665.7,176.7 1661.6,173.1" fill="#ed2925" stroke="#ed2925" stroke-width="0.7" stroke-linejoin="round" />
<polygon points="1670.7,261.7 1667.9,262.2 1665.6,262.1 1668.3,261.6" fill="#a01110" stroke="#a01110" stroke-width="0.7" stroke-linejoin="round" />
<polygon points="1680.1,175.2 1681.9,176.8 1677.0,179.6 1674.8,177.7" fill="#fdf827" stroke="#fdf827" stroke-width="0.7" stroke-linejoin="round" />
<polygon points="1661.7,259.3 1659.2,259.3 1658.1,256.9 1660.4,256.9" fill="#c01b19" stroke="#c01b19" stroke-width="0.7" stroke-linejoin="round" />
<polygon points="1712.0,226.4 1711.7,230.1 1706.9,232.9 1707.1,229.2" fill="#aea20c" stroke="#aea20c" stroke-width="0.7" stroke-linejoin="round" />
<polygon points="1668.3,261.6 1665.6,262.1 1663.5,261.1 1666.0,260.6" fill="#a31211" stroke="#a31211" stroke-width="0.7" stroke-linejoin="round" />
<polygon points="1706.9,232.9 1706.2,236.4 1701.4,239.2 1702.1,235.7" fill="#a09207" stroke="#a09207" stroke-width="0.7" stroke-linejoin="round" />
<polygon points="1670.6,173.9 1674.8,177.7 1669.2,179.7 1665.7,176.7" fill="#fdf827" stroke="#fdf827" stroke-width="0.7" stroke-linejoin="round" />
<polygon points="1675.4,259.8 1672.8,260.9 1670.7,261.7 1673.2,260.6" fill="#a01110" stroke="#a01110" stroke-width="0.7" stroke-linejoin="round" />
<polygon points="1701.4,239.2 1700.3,242.2 1695.5,245.0 1696.6,242.0" fill="#918202" stroke="#918202" stroke-width="0.7" stroke-linejoin="round" />
<polygon points="1666.0,260.6 1663.5,261.1 1661.7,259.3 1664.0,258.8" fill="#b41715" stroke="#b41715" stroke-width="0.7" stroke-linejoin="round" />
<polygon points="1695.5,245.0 1694.0,247.7 1689.2,250.5 1690.6,247.8" fill="#8c7d00" stroke="#8c7d00" stroke-width="0.7" stroke-linejoin="round" />
<polygon points="1689.2,250.5 1687.3,252.6 1682.4,255.4 1684.3,253.2" fill="#8c7d00" stroke="#8c7d00" stroke-width="0.7" stroke-linejoin="round" />
<polygon points="1682.4,255.4 1680.2,257.0 1675.4,259.8 1677.6,258.2" fill="#8c7d00" stroke="#8c7d00" stroke-width="0.7" stroke-linejoin="round" />
<polygon points="1661.6,173.1 1665.7,176.7 1660.9,179.5 1655.6,174.8" fill="#ed2925" stroke="#ed2925" stroke-width="0.7" stroke-linejoin="round" />
<polygon points="1673.2,260.6 1670.7,261.7 1668.3,261.6 1670.7,260.5" fill="#a01110" stroke="#a01110" stroke-width="0.7" stroke-linejoin="round" />
<polygon points="1664.0,258.8 1661.7,259.3 1660.4,256.9 1662.5,256.5" fill="#c21c19" stroke="#c21c19" stroke-width="0.7" stroke-linejoin="round" />
<polygon points="1711.7,222.4 1712.0,226.4 1707.1,229.2 1706.9,225.2" fill="#bcb111" stroke="#bcb111" stroke-width="0.7" stroke-linejoin="round" />
<polygon points="1674.8,177.7 1677.0,179.6 1672.2,182.4 1669.2,179.7" fill="#fdf827" stroke="#fdf827" stroke-width="0.7" stroke-linejoin="round" />
<polygon points="1681.9,176.8 1692.8,186.6 1688.0,189.4 1677.0,179.6" fill="#fdf827" stroke="#fdf827" stroke-width="0.7" stroke-linejoin="round" />
<polygon points="1707.1,229.2 1706.9,232.9 1702.1,235.7 1702.3,232.0" fill="#aea20c" stroke="#aea20c" stroke-width="0.7" stroke-linejoin="round" />
<polygon points="1670.7,260.5 1668.3,261.6 1666.0,260.6 1668.3,259.6" fill="#a91413" stroke="#a91413" stroke-width="0.7" stroke-linejoin="round" />
<polygon points="1665.7,176.7 1669.2,179.7 1663.1,181.5 1660.9,179.5" fill="#fdf827" stroke="#fdf827" stroke-width="0.7" stroke-linejoin="round" />
<polygon points="1702.1,235.7 1701.4,239.2 1696.6,242.0 1697.2,238.5" fill="#a09207" stroke="#a09207" stroke-width="0.7" stroke-linejoin="round" />
<polygon points="1677.6,258.2 1675.4,259.8 1673.2,260.6 1675.4,259.0" fill="#a01110" stroke="#a01110" stroke-width="0.7" stroke-linejoin="round" />
<polygon points="1668.3,259.6 1666.0,260.6 1664.0,258.8 1666.1,257.9" fill="#b91917" stroke="#b91917" stroke-width="0.7" stroke-linejoin="round" />
<polygon points="1711.1,218.2 1711.7,222.4 1706.9,225.2 1706.2,221.0" fill="#c9bf15" stroke="#c9bf15" stroke-width="0.7" stroke-linejoin="round" />
<polygon points="1696.6,242.0 1695.5,245.0 1690.6,247.8 1691.7,244.8" fill="#918202" stroke="#918202" stroke-width="0.7" stroke-linejoin="round" />
<polygon points="1666.1,257.9 1664.0,258.8 1662.5,256.5 1664.4,255.7" fill="#c41c1a" stroke="#c41c1a" stroke-width="0.7" stroke-linejoin="round" />
<polygon points="1690.6,247.8 1689.2,250.5 1684.3,253.2 1685.8,250.6" fill="#8c7d00" stroke="#8c7d00" stroke-width="0.7" stroke-linejoin="round" />
<polygon points="1655.6,174.8 1660.9,179.5 1656.1,182.3 1649.2,176.2" fill="#ed2925" stroke="#ed2925" stroke-width="0.7" stroke-linejoin="round" />
<polygon points="1684.3,253.2 1682.4,255.4 1677.6,258.2 1679.5,256.0" fill="#8c7d00" stroke="#8c7d00" stroke-width="0.7" stroke-linejoin="round" />
<polygon points="1675.4,259.0 1673.2,260.6 1670.7,260.5 1672.8,259.0" fill="#a21211" stroke="#a21211" stroke-width="0.7" stroke-linejoin="round" />
<polygon points="1669.2,179.7 1672.2,182.4 1667.4,185.2 1663.1,181.5" fill="#fdf827" stroke="#fdf827" stroke-width="0.7" stroke-linejoin="round" />
<polygon points="1706.9,225.2 1707.1,229.2 1702.3,232.0 1702.1,228.0" fill="#bcb111" stroke="#bcb111" stroke-width="0.7" stroke-linejoin="round" />
<polygon points="1677.0,179.6 1688.0,189.4 1683.2,192.2 1672.2,182.4" fill="#fdf827" stroke="#fdf827" stroke-width="0.7" stroke-linejoin="round" />
<polygon points="1710.0,213.9 1711.1,218.2 1706.2,221.0 1705.2,216.6" fill="#d5cc19" stroke="#d5cc19" stroke-width="0.7" stroke-linejoin="round" />
<polygon points="1692.8,186.6 1696.0,189.7 1691.2,192.5 1688.0,189.4" fill="#fef827" stroke="#fef827" stroke-width="0.7" stroke-linejoin="round" />
<polygon points="1672.8,259.0 1670.7,260.5 1668.3,259.6 1670.3,258.1" fill="#b01614" stroke="#b01614" stroke-width="0.7" stroke-linejoin="round" />
<polygon points="1702.3,232.0 1702.1,235.7 1697.2,238.5 1697.4,234.8" fill="#aea20c" stroke="#aea20c" stroke-width="0.7" stroke-linejoin="round" />
<polygon points="1660.9,179.5 1663.1,181.5 1656.7,182.9 1656.1,182.3" fill="#fdf827" stroke="#fdf827" stroke-width="0.7" stroke-linejoin="round" />
<polygon points="1670.3,258.1 1668.3,259.6 1666.1,257.9 1667.9,256.6" fill="#bd1a18" stroke="#bd1a18" stroke-width="0.7" stroke-linejoin="round" />
<polygon points="1696.0,189.7 1699.1,193.1 1694.2,195.9 1691.2,192.5" fill="#fdf827" stroke="#fdf827" stroke-width="0.7" stroke-linejoin="round" />
<polygon points="1708.5,209.5 1710.0,213.9 1705.2,216.6 1703.7,212.3" fill="#e0d81d" stroke="#e0d81d" stroke-width="0.7" stroke-linejoin="round" />
<polygon points="1679.5,256.0 1677.6,258.2 1675.4,259.0 1677.2,256.8" fill="#a01110" stroke="#a01110" stroke-width="0.7" stroke-linejoin="round" />
<polygon points="1697.2,238.5 1696.6,242.0 1691.7,244.8 1692.4,241.3" fill="#a09207" stroke="#a09207" stroke-width="0.7" stroke-linejoin="round" />
<polygon points="1667.9,256.6 1666.1,257.9 1664.4,255.7 1666.0,254.4" fill="#c61d1a" stroke="#c61d1a" stroke-width="0.7" stroke-linejoin="round" />
<polygon points="1649.2,176.2 1656.1,182.3 1649.8,183.9 1642.3,177.2" fill="#ed2925" stroke="#ed2925" stroke-width="0.7" stroke-linejoin="round" />
<polygon points="1706.2,221.0 1706.9,225.2 1702.1,228.0 1701.4,223.8" fill="#c9bf15" stroke="#c9bf15" stroke-width="0.7" stroke-linejoin="round" />
<polygon points="1691.7,244.8 1690.6,247.8 1685.8,250.6 1686.9,247.5" fill="#918202" stroke="#918202" stroke-width="0.7" stroke-linejoin="round" />
<polygon points="1699.1,193.1 1701.9,196.9 1697.0,199.7 1694.2,195.9" fill="#fbf627" stroke="#fbf627" stroke-width="0.7" stroke-linejoin="round" />
<polygon points="1706.6,205.2 1708.5,209.5 1703.7,212.3 1701.8,208.0" fill="#e9e220" stroke="#e9e220" stroke-width="0.7" stroke-linejoin="round" />
<polygon points="1685.8,250.6 1684.3,253.2 1679.5,256.0 1681.0,253.4" fill="#8c7d00" stroke="#8c7d00" stroke-width="0.7" stroke-linejoin="round" />
<polygon points="1663.1,181.5 1667.4,185.2 1662.5,188.0 1656.7,182.9" fill="#fdf827" stroke="#fdf827" stroke-width="0.7" stroke-linejoin="round" />
<polygon points="1701.9,196.9 1704.4,201.0 1699.6,203.8 1697.0,199.7" fill="#f7f125" stroke="#f7f125" stroke-width="0.7" stroke-linejoin="round" />
<polygon points="1704.4,201.0 1706.6,205.2 1701.8,208.0 1699.6,203.8" fill="#f1eb23" stroke="#f1eb23" stroke-width="0.7" stroke-linejoin="round" />
<polygon points="1677.2,256.8 1675.4,259.0 1672.8,259.0 1674.6,256.9" fill="#ab1513" stroke="#ab1513" stroke-width="0.7" stroke-linejoin="round" />
<polygon points="1702.1,228.0 1702.3,232.0 1697.4,234.8 1697.2,230.7" fill="#bcb111" stroke="#bcb111" stroke-width="0.7" stroke-linejoin="round" />
<polygon points="1672.2,182.4 1683.2,192.2 1678.3,195.0 1667.4,185.2" fill="#fdf827" stroke="#fdf827" stroke-width="0.7" stroke-linejoin="round" />
<polygon points="1624.8,183.0 1632.3,189.7 1631.8,192.1 1624.3,185.4" fill="#dc2420" stroke="#dc2420" stroke-width="0.7" stroke-linejoin="round" />
<polygon points="1705.2,216.6 1706.2,221.0 1701.4,223.8 1700.3,219.4" fill="#d5cc19" stroke="#d5cc19" stroke-width="0.7" stroke-linejoin="round" />
<polygon points="1688.0,189.4 1691.2,192.5 1686.4,195.3 1683.2,192.2" fill="#fef827" stroke="#fef827" stroke-width="0.7" stroke-linejoin="round" />
<polygon points="1674.6,256.9 1672.8,259.0 1670.3,258.1 1672.0,256.2" fill="#b81916" stroke="#b81916" stroke-width="0.7" stroke-linejoin="round" />
<polygon points="1656.1,182.3 1656.7,182.9 1651.2,185.1 1649.8,183.9" fill="#fdf827" stroke="#fdf827" stroke-width="0.7" stroke-linejoin="round" />
<polygon points="1642.3,177.2 1649.8,183.9 1642.5,184.4 1635.0,177.7" fill="#ed2925" stroke="#ed2925" stroke-width="0.7" stroke-linejoin="round" />
<polygon points="1672.0,256.2 1670.3,258.1 1667.9,256.6 1669.5,254.8" fill="#c21c19" stroke="#c21c19" stroke-width="0.7" stroke-linejoin="round" />
<polygon points="1669.5,254.8 1667.9,256.6 1666.0,254.4 1667.4,252.8" fill="#c91e1b" stroke="#c91e1b" stroke-width="0.7" stroke-linejoin="round" />
<polygon points="1697.4,234.8 1697.2,238.5 1692.4,241.3 1692.6,237.6" fill="#aea20c" stroke="#aea20c" stroke-width="0.7" stroke-linejoin="round" />
<polygon points="1626.4,181.0 1633.9,187.6 1632.3,189.7 1624.8,183.0" fill="#eb2824" stroke="#eb2824" stroke-width="0.7" stroke-linejoin="round" />
<polygon points="1681.0,253.4 1679.5,256.0 1677.2,256.8 1678.7,254.2" fill="#a71312" stroke="#a71312" stroke-width="0.7" stroke-linejoin="round" />
<polygon points="1691.2,192.5 1694.2,195.9 1689.4,198.7 1686.4,195.3" fill="#fdf827" stroke="#fdf827" stroke-width="0.7" stroke-linejoin="round" />
<polygon points="1703.7,212.3 1705.2,216.6 1700.3,219.4 1698.8,215.1" fill="#e0d81d" stroke="#e0d81d" stroke-width="0.7" stroke-linejoin="round" />
<polygon points="1692.4,241.3 1691.7,244.8 1686.9,247.5 1687.6,244.1" fill="#a09207" stroke="#a09207" stroke-width="0.7" stroke-linejoin="round" />
<polygon points="1701.4,223.8 1702.1,228.0 1697.2,230.7 1696.6,226.5" fill="#c9bf15" stroke="#c9bf15" stroke-width="0.7" stroke-linejoin="round" />
<polygon points="1635.0,177.7 1642.5,184.4 1639.3,184.9 1631.8,178.2" fill="#f32b26" stroke="#f32b26" stroke-width="0.7" stroke-linejoin="round" />
<polygon points="1628.8,179.3 1636.3,186.0 1633.9,187.6 1626.4,181.0" fill="#f62c27" stroke="#f62c27" stroke-width="0.7" stroke-linejoin="round" />
<polygon points="1686.9,247.5 1685.8,250.6 1681.0,253.4 1682.1,250.3" fill="#918202" stroke="#918202" stroke-width="0.7" stroke-linejoin="round" />
<polygon points="1694.2,195.9 1697.0,199.7 1692.2,202.5 1689.4,198.7" fill="#fbf627" stroke="#fbf627" stroke-width="0.7" stroke-linejoin="round" />
<polygon points="1701.8,208.0 1703.7,212.3 1698.8,215.1 1697.0,210.8" fill="#e9e220" stroke="#e9e220" stroke-width="0.7" stroke-linejoin="round" />
<polygon points="1631.8,178.2 1639.3,184.9 1636.3,186.0 1628.8,179.3" fill="#f82d28" stroke="#f82d28" stroke-width="0.7" stroke-linejoin="round" />
<polygon points="1656.7,182.9 1662.5,188.0 1657.7,190.8 1651.2,185.1" fill="#fdf827" stroke="#fdf827" stroke-width="0.7" stroke-linejoin="round" />
<polygon points="1678.7,254.2 1677.2,256.8 1674.6,256.9 1676.0,254.4" fill="#b41715" stroke="#b41715" stroke-width="0.7" stroke-linejoin="round" />
<polygon points="1697.0,199.7 1699.6,203.8 1694.7,206.5 1692.2,202.5" fill="#f7f125" stroke="#f7f125" stroke-width="0.7" stroke-linejoin="round" />
<polygon points="1699.6,203.8 1701.8,208.0 1697.0,210.8 1694.7,206.5" fill="#f1eb23" stroke="#f1eb23" stroke-width="0.7" stroke-linejoin="round" />
<polygon points="1697.2,230.7 1697.4,234.8 1692.6,237.6 1692.4,233.5" fill="#bcb111" stroke="#bcb111" stroke-width="0.7" stroke-linejoin="round" />
<polygon points="1676.0,254.4 1674.6,256.9 1672.0,256.2 1673.3,253.8" fill="#bf1b18" stroke="#bf1b18" stroke-width="0.7" stroke-linejoin="round" />
<polygon points="1649.8,183.9 1651.2,185.1 1646.4,187.9 1642.5,184.4" fill="#fdf827" stroke="#fdf827" stroke-width="0.7" stroke-linejoin="round" />
<polygon points="1667.4,185.2 1678.3,195.0 1673.5,197.7 1662.5,188.0" fill="#fdf827" stroke="#fdf827" stroke-width="0.7" stroke-linejoin="round" />
<polygon points="1670.7,252.6 1669.5,254.8 1667.4,252.8 1668.6,250.8" fill="#cb1e1b" stroke="#cb1e1b" stroke-width="0.7" stroke-linejoin="round" />
<polygon points="1700.3,219.4 1701.4,223.8 1696.6,226.5 1695.5,222.2" fill="#d5cc19" stroke="#d5cc19" stroke-width="0.7" stroke-linejoin="round" />
<polygon points="1683.2,192.2 1686.4,195.3 1681.5,198.0 1678.3,195.0" fill="#fef827" stroke="#fef827" stroke-width="0.7" stroke-linejoin="round" />
<polygon points="1673.3,253.8 1672.0,256.2 1669.5,254.8 1670.7,252.6" fill="#c71d1a" stroke="#c71d1a" stroke-width="0.7" stroke-linejoin="round" />
<polygon points="1632.3,189.7 1640.3,196.7 1639.9,199.3 1631.8,192.1" fill="#dc2420" stroke="#dc2420" stroke-width="0.7" stroke-linejoin="round" />
<polygon points="1692.6,237.6 1692.4,241.3 1687.6,244.1 1687.8,240.3" fill="#aea20c" stroke="#aea20c" stroke-width="0.7" stroke-linejoin="round" />
<polygon points="1682.1,250.3 1681.0,253.4 1678.7,254.2 1679.8,251.2" fill="#b11715" stroke="#b11715" stroke-width="0.7" stroke-linejoin="round" />
<polygon points="1686.4,195.3 1689.4,198.7 1684.5,201.5 1681.5,198.0" fill="#fdf827" stroke="#fdf827" stroke-width="0.7" stroke-linejoin="round" />
<polygon points="1698.8,215.1 1700.3,219.4 1695.5,222.2 1694.0,217.9" fill="#e0d81d" stroke="#e0d81d" stroke-width="0.7" stroke-linejoin="round" />
<polygon points="1687.6,244.1 1686.9,247.5 1682.1,250.3 1682.7,246.9" fill="#a09207" stroke="#a09207" stroke-width="0.7" stroke-linejoin="round" />
<polygon points="1642.5,184.4 1646.4,187.9 1644.4,189.4 1639.3,184.9" fill="#f32b26" stroke="#f32b26" stroke-width="0.7" stroke-linejoin="round" />
<polygon points="1633.9,187.6 1641.2,194.1 1640.3,196.7 1632.3,189.7" fill="#eb2824" stroke="#eb2824" stroke-width="0.7" stroke-linejoin="round" />
<polygon points="1696.6,226.5 1697.2,230.7 1692.4,233.5 1691.7,229.3" fill="#c9bf15" stroke="#c9bf15" stroke-width="0.7" stroke-linejoin="round" />
<polygon points="1679.8,251.2 1678.7,254.2 1676.0,254.4 1677.1,251.5" fill="#bd1a18" stroke="#bd1a18" stroke-width="0.7" stroke-linejoin="round" />
<polygon points="1689.4,198.7 1692.2,202.5 1687.4,205.3 1684.5,201.5" fill="#fbf627" stroke="#fbf627" stroke-width="0.7" stroke-linejoin="round" />
<polygon points="1697.0,210.8 1698.8,215.1 1694.0,217.9 1692.1,213.5" fill="#e9e220" stroke="#e9e220" stroke-width="0.7" stroke-linejoin="round" />
<polygon points="1651.2,185.1 1657.7,190.8 1652.8,193.6 1646.4,187.9" fill="#fdf827" stroke="#fdf827" stroke-width="0.7" stroke-linejoin="round" />
<polygon points="1639.3,184.9 1644.4,189.4 1642.6,191.5 1636.3,186.0" fill="#f82d28" stroke="#f82d28" stroke-width="0.7" stroke-linejoin="round" />
<polygon points="1636.3,186.0 1642.6,191.5 1641.2,194.1 1633.9,187.6" fill="#f62c27" stroke="#f62c27" stroke-width="0.7" stroke-linejoin="round" />
<polygon points="1671.6,250.1 1670.7,252.6 1668.6,250.8 1669.4,248.5" fill="#cd1f1c" stroke="#cd1f1c" stroke-width="0.7" stroke-linejoin="round" />
<polygon points="1677.1,251.5 1676.0,254.4 1673.3,253.8 1674.3,251.1" fill="#c61d1a" stroke="#c61d1a" stroke-width="0.7" stroke-linejoin="round" />
<polygon points="1692.2,202.5 1694.7,206.5 1689.9,209.3 1687.4,205.3" fill="#f7f125" stroke="#f7f125" stroke-width="0.7" stroke-linejoin="round" />
<polygon points="1694.7,206.5 1697.0,210.8 1692.1,213.5 1689.9,209.3" fill="#f1eb23" stroke="#f1eb23" stroke-width="0.7" stroke-linejoin="round" />
<polygon points="1674.3,251.1 1673.3,253.8 1670.7,252.6 1671.6,250.1" fill="#cc1f1c" stroke="#cc1f1c" stroke-width="0.7" stroke-linejoin="round" />
<polygon points="1692.4,233.5 1692.6,237.6 1687.8,240.3 1687.6,236.3" fill="#bcb111" stroke="#bcb111" stroke-width="0.7" stroke-linejoin="round" />
<polygon points="1662.5,188.0 1673.5,197.7 1668.7,200.5 1657.7,190.8" fill="#fdf827" stroke="#fdf827" stroke-width="0.7" stroke-linejoin="round" />
<polygon points="1695.5,222.2 1696.6,226.5 1691.7,229.3 1690.6,225.0" fill="#d5cc19" stroke="#d5cc19" stroke-width="0.7" stroke-linejoin="round" />
<polygon points="1678.3,195.0 1681.5,198.0 1676.7,200.8 1673.5,197.7" fill="#fef827" stroke="#fef827" stroke-width="0.7" stroke-linejoin="round" />
<polygon points="1682.7,246.9 1682.1,250.3 1679.8,251.2 1680.4,247.8" fill="#bb1a17" stroke="#bb1a17" stroke-width="0.7" stroke-linejoin="round" />
<polygon points="1687.8,240.3 1687.6,244.1 1682.7,246.9 1682.9,243.1" fill="#aea20c" stroke="#aea20c" stroke-width="0.7" stroke-linejoin="round" />
<polygon points="1640.3,196.7 1646.7,202.5 1646.4,205.0 1639.9,199.3" fill="#dc2420" stroke="#dc2420" stroke-width="0.7" stroke-linejoin="round" />
<polygon points="1646.4,187.9 1652.8,193.6 1650.8,195.1 1644.4,189.4" fill="#f32b26" stroke="#f32b26" stroke-width="0.7" stroke-linejoin="round" />
<polygon points="1672.2,247.2 1671.6,250.1 1669.4,248.5 1669.9,246.0" fill="#cf201d" stroke="#cf201d" stroke-width="0.7" stroke-linejoin="round" />
<polygon points="1681.5,198.0 1684.5,201.5 1679.7,204.3 1676.7,200.8" fill="#fdf827" stroke="#fdf827" stroke-width="0.7" stroke-linejoin="round" />
<polygon points="1694.0,217.9 1695.5,222.2 1690.6,225.0 1689.2,220.7" fill="#e0d81d" stroke="#e0d81d" stroke-width="0.7" stroke-linejoin="round" />
<polygon points="1680.4,247.8 1679.8,251.2 1677.1,251.5 1677.7,248.2" fill="#c61d1a" stroke="#c61d1a" stroke-width="0.7" stroke-linejoin="round" />
<polygon points="1691.7,229.3 1692.4,233.5 1687.6,236.3 1686.9,232.1" fill="#c9bf15" stroke="#c9bf15" stroke-width="0.7" stroke-linejoin="round" />
<polygon points="1674.9,248.0 1674.3,251.1 1671.6,250.1 1672.2,247.2" fill="#d1201d" stroke="#d1201d" stroke-width="0.7" stroke-linejoin="round" />
<polygon points="1641.2,194.1 1647.6,199.8 1646.7,202.5 1640.3,196.7" fill="#eb2824" stroke="#eb2824" stroke-width="0.7" stroke-linejoin="round" />
<polygon points="1677.7,248.2 1677.1,251.5 1674.3,251.1 1674.9,248.0" fill="#ce1f1c" stroke="#ce1f1c" stroke-width="0.7" stroke-linejoin="round" />
<polygon points="1644.4,189.4 1650.8,195.1 1649.1,197.3 1642.6,191.5" fill="#f82d28" stroke="#f82d28" stroke-width="0.7" stroke-linejoin="round" />
<polygon points="1684.5,201.5 1687.4,205.3 1682.5,208.1 1679.7,204.3" fill="#fbf627" stroke="#fbf627" stroke-width="0.7" stroke-linejoin="round" />
<polygon points="1692.1,213.5 1694.0,217.9 1689.2,220.7 1687.3,216.3" fill="#e9e220" stroke="#e9e220" stroke-width="0.7" stroke-linejoin="round" />
<polygon points="1642.6,191.5 1649.1,197.3 1647.6,199.8 1641.2,194.1" fill="#f62c27" stroke="#f62c27" stroke-width="0.7" stroke-linejoin="round" />
<polygon points="1687.4,205.3 1689.9,209.3 1685.1,212.1 1682.5,208.1" fill="#f7f125" stroke="#f7f125" stroke-width="0.7" stroke-linejoin="round" />
<polygon points="1689.9,209.3 1692.1,213.5 1687.3,216.3 1685.1,212.1" fill="#f1eb23" stroke="#f1eb23" stroke-width="0.7" stroke-linejoin="round" />
<polygon points="1682.9,243.1 1682.7,246.9 1680.4,247.8 1680.6,244.1" fill="#c51d1a" stroke="#c51d1a" stroke-width="0.7" stroke-linejoin="round" />
<polygon points="1687.6,236.3 1687.8,240.3 1682.9,243.1 1682.7,239.1" fill="#bcb111" stroke="#bcb111" stroke-width="0.7" stroke-linejoin="round" />
<polygon points="1657.7,190.8 1668.7,200.5 1663.8,203.3 1652.8,193.6" fill="#fdf827" stroke="#fdf827" stroke-width="0.7" stroke-linejoin="round" />
<polygon points="1672.3,244.1 1672.2,247.2 1669.9,246.0 1670.0,243.1" fill="#d2211d" stroke="#d2211d" stroke-width="0.7" stroke-linejoin="round" />
<polygon points="1690.6,225.0 1691.7,229.3 1686.9,232.1 1685.8,227.8" fill="#d5cc19" stroke="#d5cc19" stroke-width="0.7" stroke-linejoin="round" />
<polygon points="1673.5,197.7 1676.7,200.8 1671.8,203.6 1668.7,200.5" fill="#fef827" stroke="#fef827" stroke-width="0.7" stroke-linejoin="round" />
<polygon points="1680.6,244.1 1680.4,247.8 1677.7,248.2 1677.9,244.6" fill="#cf201d" stroke="#cf201d" stroke-width="0.7" stroke-linejoin="round" />
<polygon points="1675.1,244.6 1674.9,248.0 1672.2,247.2 1672.3,244.1" fill="#d5221e" stroke="#d5221e" stroke-width="0.7" stroke-linejoin="round" />
<polygon points="1677.9,244.6 1677.7,248.2 1674.9,248.0 1675.1,244.6" fill="#d4211e" stroke="#d4211e" stroke-width="0.7" stroke-linejoin="round" />
<polygon points="1676.7,200.8 1679.7,204.3 1674.9,207.1 1671.8,203.6" fill="#fdf827" stroke="#fdf827" stroke-width="0.7" stroke-linejoin="round" />
<polygon points="1689.2,220.7 1690.6,225.0 1685.8,227.8 1684.3,223.5" fill="#e0d81d" stroke="#e0d81d" stroke-width="0.7" stroke-linejoin="round" />
<polygon points="1646.7,202.5 1656.5,211.2 1655.7,213.3 1646.4,205.0" fill="#dc2420" stroke="#dc2420" stroke-width="0.7" stroke-linejoin="round" />
<polygon points="1686.9,232.1 1687.6,236.3 1682.7,239.1 1682.1,234.9" fill="#c9bf15" stroke="#c9bf15" stroke-width="0.7" stroke-linejoin="round" />
<polygon points="1672.2,240.8 1672.3,244.1 1670.0,243.1 1669.9,240.1" fill="#d4211e" stroke="#d4211e" stroke-width="0.7" stroke-linejoin="round" />
<polygon points="1682.7,239.1 1682.9,243.1 1680.6,244.1 1680.4,240.1" fill="#ce1f1c" stroke="#ce1f1c" stroke-width="0.7" stroke-linejoin="round" />
<polygon points="1652.8,193.6 1663.8,203.3 1661.7,204.8 1650.8,195.1" fill="#f32b26" stroke="#f32b26" stroke-width="0.7" stroke-linejoin="round" />
<polygon points="1679.7,204.3 1682.5,208.1 1677.7,210.9 1674.9,207.1" fill="#fbf627" stroke="#fbf627" stroke-width="0.7" stroke-linejoin="round" />
<polygon points="1687.3,216.3 1689.2,220.7 1684.3,223.5 1682.4,219.1" fill="#e9e220" stroke="#e9e220" stroke-width="0.7" stroke-linejoin="round" />
<polygon points="1682.5,208.1 1685.1,212.1 1680.2,214.9 1677.7,210.9" fill="#f7f125" stroke="#f7f125" stroke-width="0.7" stroke-linejoin="round" />
<polygon points="1685.1,212.1 1687.3,216.3 1682.4,219.1 1680.2,214.9" fill="#f1eb23" stroke="#f1eb23" stroke-width="0.7" stroke-linejoin="round" />
<polygon points="1647.6,199.8 1657.9,208.9 1656.5,211.2 1646.7,202.5" fill="#eb2824" stroke="#eb2824" stroke-width="0.7" stroke-linejoin="round" />
<polygon points="1674.9,241.0 1675.1,244.6 1672.3,244.1 1672.2,240.8" fill="#d9231f" stroke="#d9231f" stroke-width="0.7" stroke-linejoin="round" />
<polygon points="1680.4,240.1 1680.6,244.1 1677.9,244.6 1677.7,240.8" fill="#d7221f" stroke="#d7221f" stroke-width="0.7" stroke-linejoin="round" />
<polygon points="1650.8,195.1 1661.7,204.8 1659.7,206.7 1649.1,197.3" fill="#f82d28" stroke="#f82d28" stroke-width="0.7" stroke-linejoin="round" />
<polygon points="1677.7,240.8 1677.9,244.6 1675.1,244.6 1674.9,241.0" fill="#db2320" stroke="#db2320" stroke-width="0.7" stroke-linejoin="round" />
<polygon points="1649.1,197.3 1659.7,206.7 1657.9,208.9 1647.6,199.8" fill="#f62c27" stroke="#f62c27" stroke-width="0.7" stroke-linejoin="round" />
<polygon points="1671.6,237.3 1672.2,240.8 1669.9,240.1 1669.4,237.0" fill="#d5221e" stroke="#d5221e" stroke-width="0.7" stroke-linejoin="round" />
<polygon points="1685.8,227.8 1686.9,232.1 1682.1,234.9 1681.0,230.6" fill="#d5cc19" stroke="#d5cc19" stroke-width="0.7" stroke-linejoin="round" />
<polygon points="1668.7,200.5 1671.8,203.6 1667.0,206.4 1663.8,203.3" fill="#fef827" stroke="#fef827" stroke-width="0.7" stroke-linejoin="round" />
<polygon points="1682.1,234.9 1682.7,239.1 1680.4,240.1 1679.8,236.0" fill="#d6221e" stroke="#d6221e" stroke-width="0.7" stroke-linejoin="round" />
<polygon points="1674.3,237.2 1674.9,241.0 1672.2,240.8 1671.6,237.3" fill="#de2420" stroke="#de2420" stroke-width="0.7" stroke-linejoin="round" />
<polygon points="1656.5,211.2 1659.2,213.7 1658.1,215.6 1655.7,213.3" fill="#dc2420" stroke="#dc2420" stroke-width="0.7" stroke-linejoin="round" />
<polygon points="1670.7,233.7 1671.6,237.3 1669.4,237.0 1668.6,233.7" fill="#d7221f" stroke="#d7221f" stroke-width="0.7" stroke-linejoin="round" />
<polygon points="1671.8,203.6 1674.9,207.1 1670.0,209.9 1667.0,206.4" fill="#fdf827" stroke="#fdf827" stroke-width="0.7" stroke-linejoin="round" />
<polygon points="1684.3,223.5 1685.8,227.8 1681.0,230.6 1679.5,226.2" fill="#e0d81d" stroke="#e0d81d" stroke-width="0.7" stroke-linejoin="round" />
<polygon points="1679.8,236.0 1680.4,240.1 1677.7,240.8 1677.1,236.8" fill="#df2521" stroke="#df2521" stroke-width="0.7" stroke-linejoin="round" />
<polygon points="1677.1,236.8 1677.7,240.8 1674.9,241.0 1674.3,237.2" fill="#e12521" stroke="#e12521" stroke-width="0.7" stroke-linejoin="round" />
<polygon points="1674.9,207.1 1677.7,210.9 1672.8,213.7 1670.0,209.9" fill="#fbf627" stroke="#fbf627" stroke-width="0.7" stroke-linejoin="round" />
<polygon points="1682.4,219.1 1684.3,223.5 1679.5,226.2 1677.6,221.9" fill="#e9e220" stroke="#e9e220" stroke-width="0.7" stroke-linejoin="round" />
<polygon points="1663.8,203.3 1667.0,206.4 1664.9,207.8 1661.7,204.8" fill="#f42b26" stroke="#f42b26" stroke-width="0.7" stroke-linejoin="round" />
<polygon points="1681.0,230.6 1682.1,234.9 1679.8,236.0 1678.7,231.7" fill="#de2421" stroke="#de2421" stroke-width="0.7" stroke-linejoin="round" />
<polygon points="1659.2,213.7 1661.7,216.6 1660.4,218.2 1658.1,215.6" fill="#dc2420" stroke="#dc2420" stroke-width="0.7" stroke-linejoin="round" />
<polygon points="1669.5,230.1 1670.7,233.7 1668.6,233.7 1667.4,230.5" fill="#d9231f" stroke="#d9231f" stroke-width="0.7" stroke-linejoin="round" />
<polygon points="1657.9,208.9 1660.8,211.7 1659.2,213.7 1656.5,211.2" fill="#ec2924" stroke="#ec2924" stroke-width="0.7" stroke-linejoin="round" />
<polygon points="1673.3,233.4 1674.3,237.2 1671.6,237.3 1670.7,233.7" fill="#e12521" stroke="#e12521" stroke-width="0.7" stroke-linejoin="round" />
<polygon points="1677.7,210.9 1680.2,214.9 1675.4,217.7 1672.8,213.7" fill="#f7f125" stroke="#f7f125" stroke-width="0.7" stroke-linejoin="round" />
<polygon points="1680.2,214.9 1682.4,219.1 1677.6,221.9 1675.4,217.7" fill="#f1eb23" stroke="#f1eb23" stroke-width="0.7" stroke-linejoin="round" />
<polygon points="1661.7,216.6 1664.0,219.7 1662.5,221.0 1660.4,218.2" fill="#dc2420" stroke="#dc2420" stroke-width="0.7" stroke-linejoin="round" />
<polygon points="1667.9,226.6 1669.5,230.1 1667.4,230.5 1666.0,227.2" fill="#da231f" stroke="#da231f" stroke-width="0.7" stroke-linejoin="round" />
<polygon points="1661.7,204.8 1664.9,207.8 1662.8,209.7 1659.7,206.7" fill="#f92d28" stroke="#f92d28" stroke-width="0.7" stroke-linejoin="round" />
<polygon points="1678.7,231.7 1679.8,236.0 1677.1,236.8 1676.0,232.7" fill="#e62723" stroke="#e62723" stroke-width="0.7" stroke-linejoin="round" />
<polygon points="1659.7,206.7 1662.8,209.7 1660.8,211.7 1657.9,208.9" fill="#f62c27" stroke="#f62c27" stroke-width="0.7" stroke-linejoin="round" />
<polygon points="1676.0,232.7 1677.1,236.8 1674.3,237.2 1673.3,233.4" fill="#e72723" stroke="#e72723" stroke-width="0.7" stroke-linejoin="round" />
<polygon points="1664.0,219.7 1666.1,223.1 1664.4,224.1 1662.5,221.0" fill="#dc2420" stroke="#dc2420" stroke-width="0.7" stroke-linejoin="round" />
<polygon points="1666.1,223.1 1667.9,226.6 1666.0,227.2 1664.4,224.1" fill="#db2320" stroke="#db2320" stroke-width="0.7" stroke-linejoin="round" />
<polygon points="1679.5,226.2 1681.0,230.6 1678.7,231.7 1677.2,227.4" fill="#e52622" stroke="#e52622" stroke-width="0.7" stroke-linejoin="round" />
<polygon points="1667.0,206.4 1670.0,209.9 1667.9,211.3 1664.9,207.8" fill="#f42b27" stroke="#f42b27" stroke-width="0.7" stroke-linejoin="round" />
<polygon points="1660.8,211.7 1663.5,214.8 1661.7,216.6 1659.2,213.7" fill="#ec2924" stroke="#ec2924" stroke-width="0.7" stroke-linejoin="round" />
<polygon points="1672.0,229.5 1673.3,233.4 1670.7,233.7 1669.5,230.1" fill="#e42622" stroke="#e42622" stroke-width="0.7" stroke-linejoin="round" />
<polygon points="1664.9,207.8 1667.9,211.3 1665.6,213.0 1662.8,209.7" fill="#fa2d28" stroke="#fa2d28" stroke-width="0.7" stroke-linejoin="round" />
<polygon points="1677.2,227.4 1678.7,231.7 1676.0,232.7 1674.6,228.5" fill="#ec2924" stroke="#ec2924" stroke-width="0.7" stroke-linejoin="round" />
<polygon points="1662.8,209.7 1665.6,213.0 1663.5,214.8 1660.8,211.7" fill="#f72c27" stroke="#f72c27" stroke-width="0.7" stroke-linejoin="round" />
<polygon points="1674.6,228.5 1676.0,232.7 1673.3,233.4 1672.0,229.5" fill="#eb2924" stroke="#eb2924" stroke-width="0.7" stroke-linejoin="round" />
<polygon points="1663.5,214.8 1666.0,218.2 1664.0,219.7 1661.7,216.6" fill="#ec2924" stroke="#ec2924" stroke-width="0.7" stroke-linejoin="round" />
<polygon points="1670.3,225.6 1672.0,229.5 1669.5,230.1 1667.9,226.6" fill="#e72723" stroke="#e72723" stroke-width="0.7" stroke-linejoin="round" />
<polygon points="1670.0,209.9 1672.8,213.7 1670.7,215.0 1667.9,211.3" fill="#f42b26" stroke="#f42b26" stroke-width="0.7" stroke-linejoin="round" />
<polygon points="1677.6,221.9 1679.5,226.2 1677.2,227.4 1675.4,223.2" fill="#ea2824" stroke="#ea2824" stroke-width="0.7" stroke-linejoin="round" />
<polygon points="1666.0,218.2 1668.3,221.8 1666.1,223.1 1664.0,219.7" fill="#eb2824" stroke="#eb2824" stroke-width="0.7" stroke-linejoin="round" />
<polygon points="1668.3,221.8 1670.3,225.6 1667.9,226.6 1666.1,223.1" fill="#e92824" stroke="#e92824" stroke-width="0.7" stroke-linejoin="round" />
<polygon points="1672.8,213.7 1675.4,217.7 1673.2,219.0 1670.7,215.0" fill="#f22a26" stroke="#f22a26" stroke-width="0.7" stroke-linejoin="round" />
<polygon points="1675.4,217.7 1677.6,221.9 1675.4,223.2 1673.2,219.0" fill="#ef2a25" stroke="#ef2a25" stroke-width="0.7" stroke-linejoin="round" />
<polygon points="1665.6,213.0 1668.3,216.6 1666.0,218.2 1663.5,214.8" fill="#f62c27" stroke="#f62c27" stroke-width="0.7" stroke-linejoin="round" />
<polygon points="1672.8,224.4 1674.6,228.5 1672.0,229.5 1670.3,225.6" fill="#f02a25" stroke="#f02a25" stroke-width="0.7" stroke-linejoin="round" />
<polygon points="1667.9,211.3 1670.7,215.0 1668.3,216.6 1665.6,213.0" fill="#f92d28" stroke="#f92d28" stroke-width="0.7" stroke-linejoin="round" />
<polygon points="1675.4,223.2 1677.2,227.4 1674.6,228.5 1672.8,224.4" fill="#f12a26" stroke="#f12a26" stroke-width="0.7" stroke-linejoin="round" />
<polygon points="1668.3,216.6 1670.7,220.4 1668.3,221.8 1666.0,218.2" fill="#f52b27" stroke="#f52b27" stroke-width="0.7" stroke-linejoin="round" />
<polygon points="1670.7,220.4 1672.8,224.4 1670.3,225.6 1668.3,221.8" fill="#f32b26" stroke="#f32b26" stroke-width="0.7" stroke-linejoin="round" />
<polygon points="1670.7,215.0 1673.2,219.0 1670.7,220.4 1668.3,216.6" fill="#f82c27" stroke="#f82c27" stroke-width="0.7" stroke-linejoin="round" />
<polygon points="1673.2,219.0 1675.4,223.2 1672.8,224.4 1670.7,220.4" fill="#f52b27" stroke="#f52b27" stroke-width="0.7" stroke-linejoin="round" />
<line x1="1692.8" y1="186.6" x2="1662.7" y2="203.9" stroke="#1a1a00" stroke-width="0.9"/>
<polygon points="1624.9,186.0 1624.9,186.0 1639.9,199.3 1646.4,205.0 1655.7,213.3 1658.1,215.6 1660.4,218.2 1662.5,221.0 1664.4,224.1 1666.0,227.2 1667.4,230.5 1668.6,233.7 1669.4,237.0 1669.9,240.1 1670.0,243.1 1669.9,246.0 1669.4,248.5 1668.6,250.8 1667.4,252.8 1666.0,254.4 1664.4,255.7 1662.5,256.5 1660.4,256.9 1658.1,256.9 1655.7,256.4 1646.4,253.9 1639.9,252.2 1624.9,248.2 1624.9,248.2" fill="#e02020" stroke="#1a0000" stroke-width="0.9" stroke-linejoin="round" />
<polygon points="1631.3,192.7 1631.4,192.7 1639.9,200.3 1646.4,206.1 1655.5,214.1 1657.8,216.3 1659.9,218.8 1661.9,221.5 1663.8,224.4 1665.4,227.4 1666.7,230.5 1667.8,233.7 1668.5,236.8 1669.0,239.8 1669.2,242.6 1669.0,245.3 1668.5,247.8 1667.8,250.0 1666.7,251.9 1665.4,253.4 1663.8,254.6 1661.9,255.4 1659.9,255.8 1657.8,255.8 1655.5,255.3 1646.4,252.9 1639.9,251.2 1631.4,248.9 1631.3,248.9" fill="#847600" stroke="#1a1a00" stroke-width="1.0" stroke-linejoin="round" />
<path d="M1666.8,241.3 L1666.7,239.3 L1666.5,237.2 L1666.0,235.1 L1665.4,232.9 L1664.7,230.7 L1663.7,228.6 L1662.7,226.4 L1661.5,224.4 L1660.2,222.4 L1658.8,220.5 L1657.3,218.7 L1655.7,217.1 L1654.0,215.7 L1652.4,214.4 L1650.7,213.4 L1649.0,212.5 L1647.3,211.8 L1645.7,211.4 L1644.1,211.2 L1642.6,211.2 L1641.2,211.4 L1639.9,211.9 L1638.7,212.6 L1637.6,213.5 L1636.7,214.6 L1636.0,215.9 L1635.4,217.4 L1634.9,219.0 L1634.7,220.8 L1634.6,222.7 L1634.7,224.7 L1634.9,226.7 L1635.4,228.9 L1636.0,231.0 L1636.7,233.2 L1637.6,235.4 L1638.7,237.5 L1639.9,239.6 L1641.2,241.6 L1642.6,243.4 L1644.1,245.2 L1645.7,246.8 L1647.3,248.2 L1649.0,249.5 L1650.7,250.6 L1652.4,251.5 L1654.0,252.1 L1655.7,252.5 L1657.3,252.8 L1658.8,252.7 L1660.2,252.5 L1661.5,252.0 L1662.7,251.3 L1663.7,250.4 L1664.7,249.3 L1665.4,248.0 L1666.0,246.6 L1666.5,244.9 L1666.7,243.2 L1666.8,241.3 Z" fill="#f8f020" stroke="#1a1a00" stroke-width="1.1"/>
<path d="M1681.9,232.6 L1681.8,230.6 L1681.5,228.5 L1681.1,226.4 L1680.5,224.2 L1679.7,222.0 L1678.8,219.9 L1677.7,217.7 L1676.5,215.7 L1675.2,213.7 L1673.8,211.8 L1672.3,210.1 L1670.7,208.5 L1669.1,207.0 L1667.4,205.7 L1665.7,204.7 L1664.1,203.8 L1662.4,203.1 L1660.8,202.7 L1659.2,202.5 L1657.7,202.5 L1656.3,202.7 L1655.0,203.2 L1653.8,203.9 L1652.7,204.8 L1651.8,205.9 L1651.0,207.2 L1650.4,208.7 L1650.0,210.3 L1649.7,212.1 L1649.6,214.0 L1649.7,216.0 L1650.0,218.0 L1650.4,220.2 L1651.0,222.3 L1651.8,224.5 L1652.7,226.7 L1653.8,228.8 L1655.0,230.9 L1656.3,232.9 L1657.7,234.7 L1659.2,236.5 L1660.8,238.1 L1662.4,239.6 L1664.1,240.8 L1665.7,241.9 L1667.4,242.8 L1669.1,243.4 L1670.7,243.9 L1672.3,244.1 L1673.8,244.1 L1675.2,243.8 L1676.5,243.3 L1677.7,242.7 L1678.8,241.8 L1679.7,240.6 L1680.5,239.4 L1681.1,237.9 L1681.5,236.3 L1681.8,234.5 L1681.9,232.6 Z" fill="#6a5e00" stroke="#1a1a00" stroke-width="0.8" clip-path="url(#cbclip)"/>
<defs>
<linearGradient id="gBoreIso2" x1="0" x2="1" y1="0" y2="1">
 <stop offset="0" stop-color="#28c828"/><stop offset="0.4" stop-color="#40e040"/><stop offset="0.6" stop-color="#30d030"/><stop offset="1" stop-color="#20b020"/></linearGradient>
<linearGradient id="gHoleIso2" x1="0" x2="1" y1="0" y2="1">
 <stop offset="0" stop-color="#20b8c8"/><stop offset="0.45" stop-color="#50f0f8"/><stop offset="0.6" stop-color="#30d0e0"/><stop offset="1" stop-color="#10a0b0"/></linearGradient>
</defs><polygon points="1515.2,576.0 1515.5,571.7 1515.9,567.4 1516.6,563.1 1517.5,558.9 1518.7,554.8 1520.1,550.8 1521.7,546.9 1523.5,543.1 1525.5,539.4 1527.7,535.9 1530.1,532.5 1532.8,529.3 1572.8,483.3 1575.5,480.3 1578.5,477.4 1581.7,474.7 1585.0,472.2 1588.5,469.9 1592.1,467.8 1595.8,465.9 1599.7,464.3 1603.6,462.8 1607.7,461.6 1611.9,460.6 1616.1,459.8 1620.4,459.2 1624.8,458.9 1629.2,458.8 1633.6,459.0 1638.1,459.4 1642.5,460.0 1647.0,460.8 1651.4,461.9 1655.8,463.2 1660.2,464.7 1664.5,466.4 1668.7,468.4 1672.9,470.6 1677.0,472.9 1681.0,475.5 1684.8,478.2 1688.6,481.1 1692.2,484.2 1695.7,487.5 1699.0,490.9 1702.1,494.4 1705.1,498.1 1707.9,502.0 1710.5,505.9 1713.0,509.9 1715.2,514.1 1717.2,518.3 1719.1,522.6 1720.7,526.9 1722.1,531.3 1723.2,535.7 1724.2,540.2 1724.8,544.6 1725.3,549.1 1725.6,553.5 1725.6,558.0 1725.3,562.3 1724.9,566.6 1724.2,570.9 1723.3,575.1 1722.1,579.2 1720.7,583.2 1719.2,587.1 1717.3,590.9 1715.3,594.6 1713.1,598.1 1710.7,601.5 1708.0,604.7 1668.0,650.7 1665.2,653.7 1662.3,656.6 1659.1,659.3 1655.8,661.8 1652.3,664.1 1648.7,666.2 1645.0,668.1 1641.1,669.7 1637.2,671.2 1633.1,672.4 1628.9,673.4 1624.7,674.2 1620.4,674.8 1616.0,675.1 1611.6,675.2 1607.2,675.0 1602.7,674.6 1598.3,674.0 1593.8,673.2 1589.4,672.1 1585.0,670.8 1580.6,669.3 1576.3,667.5 1572.1,665.6 1567.9,663.4 1563.8,661.1 1559.8,658.5 1556.0,655.8 1552.2,652.9 1548.6,649.8 1545.2,646.5 1541.8,643.1 1538.7,639.5 1535.7,635.9 1532.9,632.0 1530.2,628.1 1527.8,624.1 1525.6,619.9 1523.5,615.7 1521.7,611.4 1520.1,607.1 1518.7,602.7 1517.6,598.3 1516.7,593.8 1516.0,589.4 1515.5,584.9 1515.2,580.5" fill="#b0a018" stroke="#1a1a00" stroke-width="1.0" stroke-linejoin="round" />
<defs><clipPath id="cbclip2"><path d="M1738.1,514.5 L1738.8,513.6 L1739.2,512.7 L1739.4,511.8 L1739.3,511.0 L1739.0,510.2 L1738.5,509.4 L1737.7,508.7 L1736.7,508.0 L1735.5,507.5 L1734.1,507.0 L1732.4,506.5 L1730.7,506.2 L1728.7,506.0 L1726.7,505.8 L1724.5,505.7 L1722.3,505.8 L1720.0,505.9 L1717.6,506.1 L1715.3,506.4 L1712.9,506.8 L1710.7,507.3 L1708.5,507.8 L1706.3,508.5 L1704.3,509.2 L1702.5,509.9 L1700.8,510.7 L1699.2,511.5 L1697.9,512.4 L1696.8,513.3 L1695.9,514.2 L1695.2,515.1 L1694.8,516.0 L1694.6,516.9 L1694.7,517.7 L1695.0,518.5 L1695.5,519.3 L1696.3,520.0 L1697.3,520.7 L1698.5,521.2 L1700.0,521.7 L1701.6,522.2 L1703.4,522.5 L1705.3,522.8 L1707.3,522.9 L1709.5,523.0 L1711.8,522.9 L1714.1,522.8 L1716.4,522.6 L1718.7,522.3 L1721.1,521.9 L1723.3,521.4 L1725.6,520.9 L1727.7,520.2 L1729.7,519.6 L1731.5,518.8 L1733.2,518.0 L1734.8,517.2 L1736.1,516.3 L1737.2,515.4 L1738.1,514.5 Z"/></clipPath></defs>
<polygon points="1765.2,603.0 1765.1,604.7 1765.0,607.4 1765.1,605.7" fill="#d0201d" stroke="#d0201d" stroke-width="0.7" stroke-linejoin="round" />
<polygon points="1765.2,603.0 1765.1,604.7 1764.2,598.3 1764.3,596.6" fill="#d9cf1b" stroke="#d9cf1b" stroke-width="0.7" stroke-linejoin="round" />
<polygon points="1765.0,607.4 1764.3,609.1 1763.4,611.6 1764.0,609.9" fill="#b71816" stroke="#b71816" stroke-width="0.7" stroke-linejoin="round" />
<polygon points="1764.3,596.6 1764.2,598.3 1763.4,591.9 1763.5,590.2" fill="#d9cf1b" stroke="#d9cf1b" stroke-width="0.7" stroke-linejoin="round" />
<polygon points="1765.1,604.7 1764.4,606.5 1764.3,609.1 1765.0,607.4" fill="#c91e1b" stroke="#c91e1b" stroke-width="0.7" stroke-linejoin="round" />
<polygon points="1765.1,604.7 1764.4,606.5 1763.6,600.1 1764.2,598.3" fill="#dfd51d" stroke="#dfd51d" stroke-width="0.7" stroke-linejoin="round" />
<polygon points="1763.5,590.2 1763.4,591.9 1762.6,585.5 1762.6,583.8" fill="#d9cf1b" stroke="#d9cf1b" stroke-width="0.7" stroke-linejoin="round" />
<polygon points="1764.3,609.1 1763.1,610.9 1762.2,613.3 1763.4,611.6" fill="#b01614" stroke="#b01614" stroke-width="0.7" stroke-linejoin="round" />
<polygon points="1764.2,598.3 1763.6,600.1 1762.7,593.7 1763.4,591.9" fill="#dfd51d" stroke="#dfd51d" stroke-width="0.7" stroke-linejoin="round" />
<polygon points="1764.4,606.5 1763.1,608.3 1763.1,610.9 1764.3,609.1" fill="#c01b19" stroke="#c01b19" stroke-width="0.7" stroke-linejoin="round" />
<polygon points="1762.6,583.8 1762.6,585.5 1761.7,579.2 1761.8,577.4" fill="#d9cf1b" stroke="#d9cf1b" stroke-width="0.7" stroke-linejoin="round" />
<polygon points="1762.2,613.3 1760.4,615.0 1758.9,616.8 1760.6,615.2" fill="#a01110" stroke="#a01110" stroke-width="0.7" stroke-linejoin="round" />
<polygon points="1764.4,606.5 1763.1,608.3 1762.3,601.9 1763.6,600.1" fill="#e5db1f" stroke="#e5db1f" stroke-width="0.7" stroke-linejoin="round" />
<polygon points="1763.4,591.9 1762.7,593.7 1761.9,587.3 1762.6,585.5" fill="#dfd51d" stroke="#dfd51d" stroke-width="0.7" stroke-linejoin="round" />
<polygon points="1761.8,577.4 1761.7,579.2 1760.9,572.8 1760.9,571.1" fill="#d9cf1b" stroke="#d9cf1b" stroke-width="0.7" stroke-linejoin="round" />
<polygon points="1763.1,610.9 1761.2,612.7 1760.4,615.0 1762.2,613.3" fill="#a81412" stroke="#a81412" stroke-width="0.7" stroke-linejoin="round" />
<polygon points="1763.1,608.3 1761.3,610.1 1761.2,612.7 1763.1,610.9" fill="#b71816" stroke="#b71816" stroke-width="0.7" stroke-linejoin="round" />
<polygon points="1763.6,600.1 1762.3,601.9 1761.4,595.5 1762.7,593.7" fill="#e5db1f" stroke="#e5db1f" stroke-width="0.7" stroke-linejoin="round" />
<polygon points="1762.6,585.5 1761.9,587.3 1761.0,580.9 1761.7,579.2" fill="#dfd51d" stroke="#dfd51d" stroke-width="0.7" stroke-linejoin="round" />
<polygon points="1760.4,615.0 1758.1,616.7 1756.7,618.4 1758.9,616.8" fill="#a01110" stroke="#a01110" stroke-width="0.7" stroke-linejoin="round" />
<polygon points="1760.9,571.1 1760.9,572.8 1760.0,566.4 1760.1,564.7" fill="#d9cf1b" stroke="#d9cf1b" stroke-width="0.7" stroke-linejoin="round" />
<polygon points="1763.1,608.3 1761.3,610.1 1760.4,603.7 1762.3,601.9" fill="#e9df21" stroke="#e9df21" stroke-width="0.7" stroke-linejoin="round" />
<polygon points="1756.7,618.4 1754.1,619.9 1752.4,620.7 1754.8,619.3" fill="#a01110" stroke="#a01110" stroke-width="0.7" stroke-linejoin="round" />
<polygon points="1761.2,612.7 1758.9,614.4 1758.1,616.7 1760.4,615.0" fill="#a01110" stroke="#a01110" stroke-width="0.7" stroke-linejoin="round" />
<polygon points="1762.7,593.7 1761.4,595.5 1760.6,589.1 1761.9,587.3" fill="#e5db1f" stroke="#e5db1f" stroke-width="0.7" stroke-linejoin="round" />
<polygon points="1761.7,579.2 1761.0,580.9 1760.2,574.6 1760.9,572.8" fill="#dfd51d" stroke="#dfd51d" stroke-width="0.7" stroke-linejoin="round" />
<polygon points="1761.3,610.1 1758.9,611.9 1758.9,614.4 1761.2,612.7" fill="#ae1514" stroke="#ae1514" stroke-width="0.7" stroke-linejoin="round" />
<polygon points="1758.1,616.7 1755.4,618.3 1754.1,619.9 1756.7,618.4" fill="#a01110" stroke="#a01110" stroke-width="0.7" stroke-linejoin="round" />
<polygon points="1762.3,601.9 1760.4,603.7 1759.6,597.3 1761.4,595.5" fill="#e9df21" stroke="#e9df21" stroke-width="0.7" stroke-linejoin="round" />
<polygon points="1754.1,619.9 1751.1,621.3 1749.7,622.0 1752.4,620.7" fill="#a01110" stroke="#a01110" stroke-width="0.7" stroke-linejoin="round" />
<polygon points="1761.9,587.3 1760.6,589.1 1759.8,582.7 1761.0,580.9" fill="#e5db1f" stroke="#e5db1f" stroke-width="0.7" stroke-linejoin="round" />
<polygon points="1760.9,572.8 1760.2,574.6 1759.4,568.2 1760.0,566.4" fill="#dfd51d" stroke="#dfd51d" stroke-width="0.7" stroke-linejoin="round" />
<polygon points="1761.3,610.1 1758.9,611.9 1758.0,605.5 1760.4,603.7" fill="#ebe122" stroke="#ebe122" stroke-width="0.7" stroke-linejoin="round" />
<polygon points="1758.9,614.4 1756.0,616.1 1755.4,618.3 1758.1,616.7" fill="#a01110" stroke="#a01110" stroke-width="0.7" stroke-linejoin="round" />
<polygon points="1761.4,595.5 1759.6,597.3 1758.8,590.9 1760.6,589.1" fill="#e9df21" stroke="#e9df21" stroke-width="0.7" stroke-linejoin="round" />
<polygon points="1755.4,618.3 1752.2,619.8 1751.1,621.3 1754.1,619.9" fill="#a01110" stroke="#a01110" stroke-width="0.7" stroke-linejoin="round" />
<polygon points="1693.3,630.2 1682.5,631.2 1682.6,631.5 1693.3,630.5" fill="#a01110" stroke="#a01110" stroke-width="0.7" stroke-linejoin="round" />
<polygon points="1751.1,621.3 1747.7,622.6 1746.5,623.3 1749.7,622.0" fill="#a01110" stroke="#a01110" stroke-width="0.7" stroke-linejoin="round" />
<polygon points="1761.0,580.9 1759.8,582.7 1758.9,576.4 1760.2,574.6" fill="#e5db1f" stroke="#e5db1f" stroke-width="0.7" stroke-linejoin="round" />
<polygon points="1758.9,611.9 1756.0,613.6 1756.0,616.1 1758.9,614.4" fill="#a41211" stroke="#a41211" stroke-width="0.7" stroke-linejoin="round" />
<polygon points="1760.4,603.7 1758.0,605.5 1757.2,599.1 1759.6,597.3" fill="#ebe122" stroke="#ebe122" stroke-width="0.7" stroke-linejoin="round" />
<polygon points="1703.7,629.2 1693.3,630.2 1693.3,630.5 1704.7,629.4" fill="#a01110" stroke="#a01110" stroke-width="0.7" stroke-linejoin="round" />
<polygon points="1756.0,616.1 1752.7,617.7 1752.2,619.8 1755.4,618.3" fill="#a01110" stroke="#a01110" stroke-width="0.7" stroke-linejoin="round" />
<polygon points="1760.6,589.1 1758.8,590.9 1757.9,584.5 1759.8,582.7" fill="#e9df21" stroke="#e9df21" stroke-width="0.7" stroke-linejoin="round" />
<polygon points="1747.7,622.6 1744.1,623.8 1743.2,624.4 1746.5,623.3" fill="#a01110" stroke="#a01110" stroke-width="0.7" stroke-linejoin="round" />
<polygon points="1758.9,611.9 1756.0,613.6 1755.1,607.2 1758.0,605.5" fill="#ece223" stroke="#ece223" stroke-width="0.7" stroke-linejoin="round" />
<polygon points="1752.2,619.8 1748.6,621.2 1747.7,622.6 1751.1,621.3" fill="#a01110" stroke="#a01110" stroke-width="0.7" stroke-linejoin="round" />
<polygon points="1712.9,628.3 1703.7,629.2 1704.7,629.4 1714.0,628.5" fill="#a01110" stroke="#a01110" stroke-width="0.7" stroke-linejoin="round" />
<polygon points="1760.2,574.6 1758.9,576.4 1758.1,570.0 1759.4,568.2" fill="#e5db1f" stroke="#e5db1f" stroke-width="0.7" stroke-linejoin="round" />
<polygon points="1693.8,628.9 1683.0,629.9 1682.5,631.2 1693.3,630.2" fill="#a01110" stroke="#a01110" stroke-width="0.7" stroke-linejoin="round" />
<polygon points="1759.6,597.3 1757.2,599.1 1756.3,592.7 1758.8,590.9" fill="#ebe122" stroke="#ebe122" stroke-width="0.7" stroke-linejoin="round" />
<polygon points="1756.0,613.6 1752.6,615.2 1752.7,617.7 1756.0,616.1" fill="#a01110" stroke="#a01110" stroke-width="0.7" stroke-linejoin="round" />
<polygon points="1744.1,623.8 1740.2,624.9 1739.6,625.3 1743.2,624.4" fill="#a01110" stroke="#a01110" stroke-width="0.7" stroke-linejoin="round" />
<polygon points="1727.7,626.9 1712.9,628.3 1714.0,628.5 1728.1,627.2" fill="#a01110" stroke="#a01110" stroke-width="0.7" stroke-linejoin="round" />
<polygon points="1702.8,628.1 1693.8,628.9 1693.3,630.2 1703.7,629.2" fill="#a01110" stroke="#a01110" stroke-width="0.7" stroke-linejoin="round" />
<polygon points="1759.8,582.7 1757.9,584.5 1757.1,578.2 1758.9,576.4" fill="#e9df21" stroke="#e9df21" stroke-width="0.7" stroke-linejoin="round" />
<polygon points="1748.6,621.2 1744.7,622.5 1744.1,623.8 1747.7,622.6" fill="#a01110" stroke="#a01110" stroke-width="0.7" stroke-linejoin="round" />
<polygon points="1740.2,624.9 1736.1,625.8 1735.8,626.1 1739.6,625.3" fill="#a01110" stroke="#a01110" stroke-width="0.7" stroke-linejoin="round" />
<polygon points="1752.7,617.7 1749.0,619.2 1748.6,621.2 1752.2,619.8" fill="#a01110" stroke="#a01110" stroke-width="0.7" stroke-linejoin="round" />
<polygon points="1758.0,605.5 1755.1,607.2 1754.3,600.8 1757.2,599.1" fill="#ece223" stroke="#ece223" stroke-width="0.7" stroke-linejoin="round" />
<polygon points="1736.1,625.8 1731.9,626.5 1731.9,626.8 1735.8,626.1" fill="#a01110" stroke="#a01110" stroke-width="0.7" stroke-linejoin="round" />
<polygon points="1731.9,626.5 1727.7,626.9 1728.1,627.2 1731.9,626.8" fill="#a01110" stroke="#a01110" stroke-width="0.7" stroke-linejoin="round" />
<polygon points="1712.0,627.2 1702.8,628.1 1703.7,629.2 1712.9,628.3" fill="#a01110" stroke="#a01110" stroke-width="0.7" stroke-linejoin="round" />
<polygon points="1756.0,613.6 1752.6,615.2 1751.8,608.8 1755.1,607.2" fill="#ece222" stroke="#ece222" stroke-width="0.7" stroke-linejoin="round" />
<polygon points="1694.7,626.9 1683.9,627.9 1683.0,629.9 1693.8,628.9" fill="#a01110" stroke="#a01110" stroke-width="0.7" stroke-linejoin="round" />
<polygon points="1758.8,590.9 1756.3,592.7 1755.5,586.3 1757.9,584.5" fill="#ebe122" stroke="#ebe122" stroke-width="0.7" stroke-linejoin="round" />
<polygon points="1744.7,622.5 1740.5,623.6 1740.2,624.9 1744.1,623.8" fill="#a01110" stroke="#a01110" stroke-width="0.7" stroke-linejoin="round" />
<polygon points="1752.6,615.2 1748.8,616.6 1749.0,619.2 1752.7,617.7" fill="#a01110" stroke="#a01110" stroke-width="0.7" stroke-linejoin="round" />
<polygon points="1702.0,626.2 1694.7,626.9 1693.8,628.9 1702.8,628.1" fill="#a01110" stroke="#a01110" stroke-width="0.7" stroke-linejoin="round" />
<polygon points="1749.0,619.2 1744.9,620.5 1744.7,622.5 1748.6,621.2" fill="#a01110" stroke="#a01110" stroke-width="0.7" stroke-linejoin="round" />
<polygon points="1727.3,625.8 1712.0,627.2 1712.9,628.3 1727.7,626.9" fill="#a01110" stroke="#a01110" stroke-width="0.7" stroke-linejoin="round" />
<polygon points="1758.9,576.4 1757.1,578.2 1756.2,571.8 1758.1,570.0" fill="#e9df21" stroke="#e9df21" stroke-width="0.7" stroke-linejoin="round" />
<polygon points="1757.2,599.1 1754.3,600.8 1753.4,594.4 1756.3,592.7" fill="#ece223" stroke="#ece223" stroke-width="0.7" stroke-linejoin="round" />
<polygon points="1740.5,623.6 1736.2,624.5 1736.1,625.8 1740.2,624.9" fill="#a01110" stroke="#a01110" stroke-width="0.7" stroke-linejoin="round" />
<polygon points="1695.9,624.3 1685.1,625.3 1683.9,627.9 1694.7,626.9" fill="#a01110" stroke="#a01110" stroke-width="0.7" stroke-linejoin="round" />
<polygon points="1711.3,625.4 1702.0,626.2 1702.8,628.1 1712.0,627.2" fill="#a01110" stroke="#a01110" stroke-width="0.7" stroke-linejoin="round" />
<polygon points="1755.1,607.2 1751.8,608.8 1750.9,602.4 1754.3,600.8" fill="#ece222" stroke="#ece222" stroke-width="0.7" stroke-linejoin="round" />
<polygon points="1736.2,624.5 1731.8,625.3 1731.9,626.5 1736.1,625.8" fill="#a01110" stroke="#a01110" stroke-width="0.7" stroke-linejoin="round" />
<polygon points="1731.8,625.3 1727.3,625.8 1727.7,626.9 1731.9,626.5" fill="#a01110" stroke="#a01110" stroke-width="0.7" stroke-linejoin="round" />
<polygon points="1752.6,615.2 1748.8,616.6 1748.0,610.3 1751.8,608.8" fill="#eae022" stroke="#eae022" stroke-width="0.7" stroke-linejoin="round" />
<polygon points="1757.9,584.5 1755.5,586.3 1754.7,579.9 1757.1,578.2" fill="#ebe122" stroke="#ebe122" stroke-width="0.7" stroke-linejoin="round" />
<polygon points="1701.5,623.8 1695.9,624.3 1694.7,626.9 1702.0,626.2" fill="#a01110" stroke="#a01110" stroke-width="0.7" stroke-linejoin="round" />
<polygon points="1744.9,620.5 1740.6,621.6 1740.5,623.6 1744.7,622.5" fill="#a01110" stroke="#a01110" stroke-width="0.7" stroke-linejoin="round" />
<polygon points="1748.8,616.6 1744.8,618.0 1744.9,620.5 1749.0,619.2" fill="#a01110" stroke="#a01110" stroke-width="0.7" stroke-linejoin="round" />
<polygon points="1726.9,623.9 1711.3,625.4 1712.0,627.2 1727.3,625.8" fill="#a01110" stroke="#a01110" stroke-width="0.7" stroke-linejoin="round" />
<polygon points="1710.8,622.9 1701.5,623.8 1702.0,626.2 1711.3,625.4" fill="#a01110" stroke="#a01110" stroke-width="0.7" stroke-linejoin="round" />
<polygon points="1756.3,592.7 1753.4,594.4 1752.6,588.0 1755.5,586.3" fill="#ece223" stroke="#ece223" stroke-width="0.7" stroke-linejoin="round" />
<polygon points="1695.9,624.3 1685.1,625.3 1687.9,618.6 1698.7,617.6" fill="#a01110" stroke="#a01110" stroke-width="0.7" stroke-linejoin="round" />
<polygon points="1740.6,621.6 1736.1,622.6 1736.2,624.5 1740.5,623.6" fill="#a01110" stroke="#a01110" stroke-width="0.7" stroke-linejoin="round" />
<polygon points="1744.8,618.0 1740.4,619.1 1740.6,621.6 1744.9,620.5" fill="#a01110" stroke="#a01110" stroke-width="0.7" stroke-linejoin="round" />
<polygon points="1736.1,622.6 1731.5,623.4 1731.8,625.3 1736.2,624.5" fill="#a01110" stroke="#a01110" stroke-width="0.7" stroke-linejoin="round" />
<polygon points="1731.5,623.4 1726.9,623.9 1727.3,625.8 1731.8,625.3" fill="#a01110" stroke="#a01110" stroke-width="0.7" stroke-linejoin="round" />
<polygon points="1754.3,600.8 1750.9,602.4 1750.1,596.0 1753.4,594.4" fill="#ece222" stroke="#ece222" stroke-width="0.7" stroke-linejoin="round" />
<polygon points="1748.8,616.6 1744.8,618.0 1743.9,611.6 1748.0,610.3" fill="#e7dd20" stroke="#e7dd20" stroke-width="0.7" stroke-linejoin="round" />
<polygon points="1701.5,623.8 1695.9,624.3 1698.7,617.6 1700.7,617.4" fill="#c8be14" stroke="#c8be14" stroke-width="0.7" stroke-linejoin="round" />
<polygon points="1751.8,608.8 1748.0,610.3 1747.2,603.9 1750.9,602.4" fill="#eae022" stroke="#eae022" stroke-width="0.7" stroke-linejoin="round" />
<polygon points="1757.1,578.2 1754.7,579.9 1753.8,573.5 1756.2,571.8" fill="#ebe122" stroke="#ebe122" stroke-width="0.7" stroke-linejoin="round" />
<polygon points="1726.5,621.4 1710.8,622.9 1711.3,625.4 1726.9,623.9" fill="#a01110" stroke="#a01110" stroke-width="0.7" stroke-linejoin="round" />
<polygon points="1710.8,622.9 1701.5,623.8 1700.7,617.4 1709.9,616.5" fill="#c8be14" stroke="#c8be14" stroke-width="0.7" stroke-linejoin="round" />
<polygon points="1740.4,619.1 1735.8,620.1 1736.1,622.6 1740.6,621.6" fill="#a01110" stroke="#a01110" stroke-width="0.7" stroke-linejoin="round" />
<polygon points="1755.5,586.3 1752.6,588.0 1751.8,581.6 1754.7,579.9" fill="#ece223" stroke="#ece223" stroke-width="0.7" stroke-linejoin="round" />
<polygon points="1735.8,620.1 1731.2,620.9 1731.5,623.4 1736.1,622.6" fill="#a01110" stroke="#a01110" stroke-width="0.7" stroke-linejoin="round" />
<polygon points="1731.2,620.9 1726.5,621.4 1726.9,623.9 1731.5,623.4" fill="#a01110" stroke="#a01110" stroke-width="0.7" stroke-linejoin="round" />
<polygon points="1744.8,618.0 1740.4,619.1 1739.6,612.8 1743.9,611.6" fill="#e2d81e" stroke="#e2d81e" stroke-width="0.7" stroke-linejoin="round" />
<polygon points="1698.7,617.6 1687.9,618.6 1690.0,611.9 1699.8,611.0" fill="#a01110" stroke="#a01110" stroke-width="0.7" stroke-linejoin="round" />
<polygon points="1753.4,594.4 1750.1,596.0 1749.2,589.6 1752.6,588.0" fill="#ece222" stroke="#ece222" stroke-width="0.7" stroke-linejoin="round" />
<polygon points="1748.0,610.3 1743.9,611.6 1743.1,605.2 1747.2,603.9" fill="#e7dd20" stroke="#e7dd20" stroke-width="0.7" stroke-linejoin="round" />
<polygon points="1726.5,621.4 1710.8,622.9 1709.9,616.5 1725.7,615.0" fill="#c8be14" stroke="#c8be14" stroke-width="0.7" stroke-linejoin="round" />
<polygon points="1750.9,602.4 1747.2,603.9 1746.3,597.5 1750.1,596.0" fill="#eae022" stroke="#eae022" stroke-width="0.7" stroke-linejoin="round" />
<polygon points="1700.7,617.4 1698.7,617.6 1699.8,611.0 1700.8,610.9" fill="#c8be14" stroke="#c8be14" stroke-width="0.7" stroke-linejoin="round" />
<polygon points="1740.4,619.1 1735.8,620.1 1735.0,613.7 1739.6,612.8" fill="#dcd21c" stroke="#dcd21c" stroke-width="0.7" stroke-linejoin="round" />
<polygon points="1709.9,616.5 1700.7,617.4 1700.8,610.9 1709.1,610.1" fill="#c8be14" stroke="#c8be14" stroke-width="0.7" stroke-linejoin="round" />
<polygon points="1735.8,620.1 1731.2,620.9 1730.3,614.5 1735.0,613.7" fill="#d5cb19" stroke="#d5cb19" stroke-width="0.7" stroke-linejoin="round" />
<polygon points="1731.2,620.9 1726.5,621.4 1725.7,615.0 1730.3,614.5" fill="#cdc316" stroke="#cdc316" stroke-width="0.7" stroke-linejoin="round" />
<polygon points="1754.7,579.9 1751.8,581.6 1750.9,575.2 1753.8,573.5" fill="#ece223" stroke="#ece223" stroke-width="0.7" stroke-linejoin="round" />
<polygon points="1743.9,611.6 1739.6,612.8 1738.7,606.4 1743.1,605.2" fill="#e2d81e" stroke="#e2d81e" stroke-width="0.7" stroke-linejoin="round" />
<polygon points="1699.8,611.0 1690.0,611.9 1691.4,605.3 1699.0,604.6" fill="#a01110" stroke="#a01110" stroke-width="0.7" stroke-linejoin="round" />
<polygon points="1752.6,588.0 1749.2,589.6 1748.4,583.2 1751.8,581.6" fill="#ece222" stroke="#ece222" stroke-width="0.7" stroke-linejoin="round" />
<polygon points="1747.2,603.9 1743.1,605.2 1742.2,598.8 1746.3,597.5" fill="#e7dd20" stroke="#e7dd20" stroke-width="0.7" stroke-linejoin="round" />
<polygon points="1725.7,615.0 1709.9,616.5 1709.1,610.1 1724.8,608.7" fill="#c8be14" stroke="#c8be14" stroke-width="0.7" stroke-linejoin="round" />
<polygon points="1750.1,596.0 1746.3,597.5 1745.5,591.1 1749.2,589.6" fill="#eae022" stroke="#eae022" stroke-width="0.7" stroke-linejoin="round" />
<polygon points="1700.8,610.9 1699.8,611.0 1699.0,604.6 1702.2,604.3" fill="#c8be14" stroke="#c8be14" stroke-width="0.7" stroke-linejoin="round" />
<polygon points="1739.6,612.8 1735.0,613.7 1734.2,607.3 1738.7,606.4" fill="#dcd21c" stroke="#dcd21c" stroke-width="0.7" stroke-linejoin="round" />
<polygon points="1709.1,610.1 1700.8,610.9 1702.2,604.3 1708.2,603.7" fill="#c8be14" stroke="#c8be14" stroke-width="0.7" stroke-linejoin="round" />
<polygon points="1735.0,613.7 1730.3,614.5 1729.5,608.1 1734.2,607.3" fill="#d5cb19" stroke="#d5cb19" stroke-width="0.7" stroke-linejoin="round" />
<polygon points="1730.3,614.5 1725.7,615.0 1724.8,608.7 1729.5,608.1" fill="#cdc316" stroke="#cdc316" stroke-width="0.7" stroke-linejoin="round" />
<polygon points="1743.1,605.2 1738.7,606.4 1737.9,600.0 1742.2,598.8" fill="#e2d81e" stroke="#e2d81e" stroke-width="0.7" stroke-linejoin="round" />
<polygon points="1751.8,581.6 1748.4,583.2 1747.6,576.8 1750.9,575.2" fill="#ece222" stroke="#ece222" stroke-width="0.7" stroke-linejoin="round" />
<polygon points="1699.0,604.6 1691.4,605.3 1692.3,598.8 1698.1,598.2" fill="#a01110" stroke="#a01110" stroke-width="0.7" stroke-linejoin="round" />
<polygon points="1746.3,597.5 1742.2,598.8 1741.4,592.4 1745.5,591.1" fill="#e7dd20" stroke="#e7dd20" stroke-width="0.7" stroke-linejoin="round" />
<polygon points="1724.8,608.7 1709.1,610.1 1708.2,603.7 1724.0,602.3" fill="#c8be14" stroke="#c8be14" stroke-width="0.7" stroke-linejoin="round" />
<polygon points="1749.2,589.6 1745.5,591.1 1744.6,584.7 1748.4,583.2" fill="#eae022" stroke="#eae022" stroke-width="0.7" stroke-linejoin="round" />
<polygon points="1738.7,606.4 1734.2,607.3 1733.3,601.0 1737.9,600.0" fill="#dcd21c" stroke="#dcd21c" stroke-width="0.7" stroke-linejoin="round" />
<polygon points="1702.2,604.3 1699.0,604.6 1698.1,598.2 1703.1,597.8" fill="#c8be14" stroke="#c8be14" stroke-width="0.7" stroke-linejoin="round" />
<polygon points="1734.2,607.3 1729.5,608.1 1728.7,601.7 1733.3,601.0" fill="#d5cb19" stroke="#d5cb19" stroke-width="0.7" stroke-linejoin="round" />
<polygon points="1729.5,608.1 1724.8,608.7 1724.0,602.3 1728.7,601.7" fill="#cdc316" stroke="#cdc316" stroke-width="0.7" stroke-linejoin="round" />
<polygon points="1708.2,603.7 1702.2,604.3 1703.1,597.8 1707.4,597.4" fill="#c8be14" stroke="#c8be14" stroke-width="0.7" stroke-linejoin="round" />
<polygon points="1742.2,598.8 1737.9,600.0 1737.0,593.6 1741.4,592.4" fill="#e2d81e" stroke="#e2d81e" stroke-width="0.7" stroke-linejoin="round" />
<polygon points="1745.5,591.1 1741.4,592.4 1740.5,586.0 1744.6,584.7" fill="#e7dd20" stroke="#e7dd20" stroke-width="0.7" stroke-linejoin="round" />
<polygon points="1724.0,602.3 1708.2,603.7 1707.4,597.4 1723.1,595.9" fill="#c8be14" stroke="#c8be14" stroke-width="0.7" stroke-linejoin="round" />
<polygon points="1698.1,598.2 1692.3,598.8 1692.6,592.3 1697.3,591.8" fill="#a01110" stroke="#a01110" stroke-width="0.7" stroke-linejoin="round" />
<polygon points="1748.4,583.2 1744.6,584.7 1743.8,578.3 1747.6,576.8" fill="#eae022" stroke="#eae022" stroke-width="0.7" stroke-linejoin="round" />
<polygon points="1737.9,600.0 1733.3,601.0 1732.5,594.6 1737.0,593.6" fill="#dcd21c" stroke="#dcd21c" stroke-width="0.7" stroke-linejoin="round" />
<polygon points="1703.1,597.8 1698.1,598.2 1697.3,591.8 1703.4,591.3" fill="#c8be14" stroke="#c8be14" stroke-width="0.7" stroke-linejoin="round" />
<polygon points="1733.3,601.0 1728.7,601.7 1727.8,595.3 1732.5,594.6" fill="#d5cb19" stroke="#d5cb19" stroke-width="0.7" stroke-linejoin="round" />
<polygon points="1728.7,601.7 1724.0,602.3 1723.1,595.9 1727.8,595.3" fill="#cdc316" stroke="#cdc316" stroke-width="0.7" stroke-linejoin="round" />
<polygon points="1707.4,597.4 1703.1,597.8 1703.4,591.3 1706.6,591.0" fill="#c8be14" stroke="#c8be14" stroke-width="0.7" stroke-linejoin="round" />
<polygon points="1741.4,592.4 1737.0,593.6 1736.2,587.2 1740.5,586.0" fill="#e2d81e" stroke="#e2d81e" stroke-width="0.7" stroke-linejoin="round" />
<polygon points="1744.6,584.7 1740.5,586.0 1739.7,579.7 1743.8,578.3" fill="#e7dd20" stroke="#e7dd20" stroke-width="0.7" stroke-linejoin="round" />
<polygon points="1723.1,595.9 1707.4,597.4 1706.6,591.0 1722.3,589.5" fill="#c8be14" stroke="#c8be14" stroke-width="0.7" stroke-linejoin="round" />
<polygon points="1697.3,591.8 1692.6,592.3 1692.3,585.8 1696.5,585.4" fill="#a01110" stroke="#a01110" stroke-width="0.7" stroke-linejoin="round" />
<polygon points="1737.0,593.6 1732.5,594.6 1731.6,588.2 1736.2,587.2" fill="#dcd21c" stroke="#dcd21c" stroke-width="0.7" stroke-linejoin="round" />
<polygon points="1703.4,591.3 1697.3,591.8 1696.5,585.4 1703.1,584.8" fill="#c8be14" stroke="#c8be14" stroke-width="0.7" stroke-linejoin="round" />
<polygon points="1732.5,594.6 1727.8,595.3 1727.0,588.9 1731.6,588.2" fill="#d5cb19" stroke="#d5cb19" stroke-width="0.7" stroke-linejoin="round" />
<polygon points="1727.8,595.3 1723.1,595.9 1722.3,589.5 1727.0,588.9" fill="#cdc316" stroke="#cdc316" stroke-width="0.7" stroke-linejoin="round" />
<polygon points="1706.6,591.0 1703.4,591.3 1703.1,584.8 1705.7,584.6" fill="#c8be14" stroke="#c8be14" stroke-width="0.7" stroke-linejoin="round" />
<polygon points="1740.5,586.0 1736.2,587.2 1735.3,580.8 1739.7,579.7" fill="#e2d81e" stroke="#e2d81e" stroke-width="0.7" stroke-linejoin="round" />
<polygon points="1722.3,589.5 1706.6,591.0 1705.7,584.6 1721.5,583.1" fill="#c8be14" stroke="#c8be14" stroke-width="0.7" stroke-linejoin="round" />
<polygon points="1736.2,587.2 1731.6,588.2 1730.8,581.8 1735.3,580.8" fill="#dcd21c" stroke="#dcd21c" stroke-width="0.7" stroke-linejoin="round" />
<polygon points="1731.6,588.2 1727.0,588.9 1726.1,582.6 1730.8,581.8" fill="#d5cb19" stroke="#d5cb19" stroke-width="0.7" stroke-linejoin="round" />
<polygon points="1727.0,588.9 1722.3,589.5 1721.5,583.1 1726.1,582.6" fill="#cdc316" stroke="#cdc316" stroke-width="0.7" stroke-linejoin="round" />
<line x1="1749.9" y1="596.2" x2="1744.6" y2="556.4" stroke="#1a1a00" stroke-width="0.9"/>
<polygon points="1720.6,553.3 1724.0,553.8 1729.5,554.5 1731.6,554.8 1744.6,556.4 1748.3,557.1 1751.6,557.9 1754.4,558.9 1756.7,560.1 1758.4,561.5 1759.6,563.0 1760.1,564.7 1760.0,566.4 1759.4,568.2 1758.1,570.0 1756.2,571.8 1753.8,573.5 1750.9,575.2 1747.6,576.8 1743.8,578.3 1739.7,579.7 1735.3,580.8 1730.8,581.8 1726.1,582.6 1721.5,583.1 1705.7,584.6 1703.1,584.8 1696.5,585.4 1692.3,585.8" fill="#5e5400" stroke="#1a1a00" stroke-width="0.8" stroke-linejoin="round" />
<polygon points="1696.3,498.9 1705.2,500.1 1703.9,500.7 1695.0,499.6" fill="#dc2420" stroke="#dc2420" stroke-width="0.7" stroke-linejoin="round" />
<polygon points="1705.2,500.1 1714.6,501.3 1713.6,502.0 1703.9,500.7" fill="#dc2420" stroke="#dc2420" stroke-width="0.7" stroke-linejoin="round" />
<polygon points="1714.6,501.3 1722.2,502.3 1721.2,503.0 1713.6,502.0" fill="#dc2420" stroke="#dc2420" stroke-width="0.7" stroke-linejoin="round" />
<polygon points="1722.2,502.3 1733.9,503.8 1732.3,504.4 1721.2,503.0" fill="#dc2420" stroke="#dc2420" stroke-width="0.7" stroke-linejoin="round" />
<polygon points="1733.9,503.8 1736.9,504.3 1735.0,504.9 1732.3,504.4" fill="#dc2420" stroke="#dc2420" stroke-width="0.7" stroke-linejoin="round" />
<polygon points="1738.8,504.6 1741.7,505.4 1739.6,505.0 1736.9,504.3" fill="#ec2924" stroke="#ec2924" stroke-width="0.7" stroke-linejoin="round" />
<polygon points="1736.9,504.3 1739.6,505.0 1737.5,505.5 1735.0,504.9" fill="#dc2420" stroke="#dc2420" stroke-width="0.7" stroke-linejoin="round" />
<polygon points="1741.7,505.4 1744.2,506.3 1742.0,505.8 1739.6,505.0" fill="#ec2924" stroke="#ec2924" stroke-width="0.7" stroke-linejoin="round" />
<polygon points="1739.6,505.0 1742.0,505.8 1739.6,506.3 1737.5,505.5" fill="#dc2420" stroke="#dc2420" stroke-width="0.7" stroke-linejoin="round" />
<polygon points="1759.0,556.1 1758.9,557.9 1758.1,551.5 1758.1,549.8" fill="#d9cf1b" stroke="#d9cf1b" stroke-width="0.7" stroke-linejoin="round" />
<polygon points="1744.2,506.3 1746.3,507.4 1743.8,506.8 1742.0,505.8" fill="#eb2824" stroke="#eb2824" stroke-width="0.7" stroke-linejoin="round" />
<polygon points="1742.0,505.8 1743.8,506.8 1741.3,507.2 1739.6,506.3" fill="#dc2420" stroke="#dc2420" stroke-width="0.7" stroke-linejoin="round" />
<polygon points="1758.1,549.8 1758.1,551.5 1757.2,545.1 1757.3,543.4" fill="#d9cf1b" stroke="#d9cf1b" stroke-width="0.7" stroke-linejoin="round" />
<polygon points="1748.3,508.7 1749.9,510.1 1747.8,508.6 1746.3,507.4" fill="#f32b26" stroke="#f32b26" stroke-width="0.7" stroke-linejoin="round" />
<polygon points="1758.9,557.9 1758.2,559.6 1757.4,553.3 1758.1,551.5" fill="#dfd51d" stroke="#dfd51d" stroke-width="0.7" stroke-linejoin="round" />
<polygon points="1746.3,507.4 1747.8,508.6 1745.3,508.0 1743.8,506.8" fill="#e92824" stroke="#e92824" stroke-width="0.7" stroke-linejoin="round" />
<polygon points="1757.3,543.4 1757.2,545.1 1756.4,538.7 1756.5,537.0" fill="#d9cf1b" stroke="#d9cf1b" stroke-width="0.7" stroke-linejoin="round" />
<polygon points="1743.8,506.8 1745.3,508.0 1742.6,508.2 1741.3,507.2" fill="#db2320" stroke="#db2320" stroke-width="0.7" stroke-linejoin="round" />
<polygon points="1751.5,512.1 1752.6,513.6 1751.0,511.5 1749.9,510.1" fill="#f12a26" stroke="#f12a26" stroke-width="0.7" stroke-linejoin="round" />
<polygon points="1758.1,551.5 1757.4,553.3 1756.6,546.9 1757.2,545.1" fill="#dfd51d" stroke="#dfd51d" stroke-width="0.7" stroke-linejoin="round" />
<polygon points="1749.9,510.1 1751.0,511.5 1748.8,510.0 1747.8,508.6" fill="#f02a25" stroke="#f02a25" stroke-width="0.7" stroke-linejoin="round" />
<polygon points="1756.5,537.0 1756.4,538.7 1755.5,532.3 1755.6,530.6" fill="#d9cf1b" stroke="#d9cf1b" stroke-width="0.7" stroke-linejoin="round" />
<polygon points="1747.8,508.6 1748.8,510.0 1746.2,509.2 1745.3,508.0" fill="#e72723" stroke="#e72723" stroke-width="0.7" stroke-linejoin="round" />
<polygon points="1758.2,559.6 1757.0,561.4 1756.1,555.1 1757.4,553.3" fill="#e5db1f" stroke="#e5db1f" stroke-width="0.7" stroke-linejoin="round" />
<polygon points="1745.3,508.0 1746.2,509.2 1743.4,509.3 1742.6,508.2" fill="#da231f" stroke="#da231f" stroke-width="0.7" stroke-linejoin="round" />
<polygon points="1757.2,545.1 1756.6,546.9 1755.7,540.5 1756.4,538.7" fill="#dfd51d" stroke="#dfd51d" stroke-width="0.7" stroke-linejoin="round" />
<polygon points="1753.4,516.2 1753.9,517.8 1753.1,515.3 1752.6,513.6" fill="#e52622" stroke="#e52622" stroke-width="0.7" stroke-linejoin="round" />
<polygon points="1755.6,530.6 1755.5,532.3 1754.7,525.9 1754.8,524.2" fill="#d9cf1b" stroke="#d9cf1b" stroke-width="0.7" stroke-linejoin="round" />
<polygon points="1752.6,513.6 1753.1,515.3 1751.6,513.1 1751.0,511.5" fill="#ec2924" stroke="#ec2924" stroke-width="0.7" stroke-linejoin="round" />
<polygon points="1757.4,553.3 1756.1,555.1 1755.3,548.7 1756.6,546.9" fill="#e5db1f" stroke="#e5db1f" stroke-width="0.7" stroke-linejoin="round" />
<polygon points="1751.0,511.5 1751.6,513.1 1749.3,511.5 1748.8,510.0" fill="#eb2924" stroke="#eb2924" stroke-width="0.7" stroke-linejoin="round" />
<polygon points="1756.4,538.7 1755.7,540.5 1754.9,534.1 1755.5,532.3" fill="#dfd51d" stroke="#dfd51d" stroke-width="0.7" stroke-linejoin="round" />
<polygon points="1748.8,510.0 1749.3,511.5 1746.7,510.6 1746.2,509.2" fill="#e42622" stroke="#e42622" stroke-width="0.7" stroke-linejoin="round" />
<polygon points="1754.8,524.2 1754.7,525.9 1753.9,519.5 1753.9,517.8" fill="#d9cf1b" stroke="#d9cf1b" stroke-width="0.7" stroke-linejoin="round" />
<polygon points="1746.2,509.2 1746.7,510.6 1743.9,510.6 1743.4,509.3" fill="#d9231f" stroke="#d9231f" stroke-width="0.7" stroke-linejoin="round" />
<polygon points="1757.0,561.4 1755.1,563.2 1754.3,556.9 1756.1,555.1" fill="#e9df21" stroke="#e9df21" stroke-width="0.7" stroke-linejoin="round" />
<polygon points="1756.6,546.9 1755.3,548.7 1754.4,542.3 1755.7,540.5" fill="#e5db1f" stroke="#e5db1f" stroke-width="0.7" stroke-linejoin="round" />
<polygon points="1753.9,517.8 1753.9,519.5 1753.1,517.0 1753.1,515.3" fill="#de2421" stroke="#de2421" stroke-width="0.7" stroke-linejoin="round" />
<polygon points="1755.5,532.3 1754.9,534.1 1754.0,527.7 1754.7,525.9" fill="#dfd51d" stroke="#dfd51d" stroke-width="0.7" stroke-linejoin="round" />
<polygon points="1753.1,515.3 1753.1,517.0 1751.5,514.7 1751.6,513.1" fill="#e62723" stroke="#e62723" stroke-width="0.7" stroke-linejoin="round" />
<polygon points="1756.1,555.1 1754.3,556.9 1753.4,550.5 1755.3,548.7" fill="#e9df21" stroke="#e9df21" stroke-width="0.7" stroke-linejoin="round" />
<polygon points="1751.6,513.1 1751.5,514.7 1749.3,513.0 1749.3,511.5" fill="#e72723" stroke="#e72723" stroke-width="0.7" stroke-linejoin="round" />
<polygon points="1749.3,511.5 1749.3,513.0 1746.6,512.0 1746.7,510.6" fill="#e12521" stroke="#e12521" stroke-width="0.7" stroke-linejoin="round" />
<polygon points="1746.7,510.6 1746.6,512.0 1743.8,511.9 1743.9,510.6" fill="#d7221f" stroke="#d7221f" stroke-width="0.7" stroke-linejoin="round" />
<polygon points="1755.7,540.5 1754.4,542.3 1753.6,535.9 1754.9,534.1" fill="#e5db1f" stroke="#e5db1f" stroke-width="0.7" stroke-linejoin="round" />
<polygon points="1754.7,525.9 1754.0,527.7 1753.2,521.3 1753.9,519.5" fill="#dfd51d" stroke="#dfd51d" stroke-width="0.7" stroke-linejoin="round" />
<polygon points="1755.1,563.2 1752.7,565.0 1751.9,558.6 1754.3,556.9" fill="#ebe122" stroke="#ebe122" stroke-width="0.7" stroke-linejoin="round" />
<polygon points="1755.3,548.7 1753.4,550.5 1752.6,544.1 1754.4,542.3" fill="#e9df21" stroke="#e9df21" stroke-width="0.7" stroke-linejoin="round" />
<polygon points="1753.9,519.5 1753.2,521.3 1752.4,518.7 1753.1,517.0" fill="#d6221e" stroke="#d6221e" stroke-width="0.7" stroke-linejoin="round" />
<polygon points="1754.9,534.1 1753.6,535.9 1752.8,529.5 1754.0,527.7" fill="#e5db1f" stroke="#e5db1f" stroke-width="0.7" stroke-linejoin="round" />
<polygon points="1753.1,517.0 1752.4,518.7 1750.9,516.4 1751.5,514.7" fill="#df2521" stroke="#df2521" stroke-width="0.7" stroke-linejoin="round" />
<polygon points="1754.3,556.9 1751.9,558.6 1751.0,552.2 1753.4,550.5" fill="#ebe122" stroke="#ebe122" stroke-width="0.7" stroke-linejoin="round" />
<polygon points="1751.5,514.7 1750.9,516.4 1748.7,514.6 1749.3,513.0" fill="#e12521" stroke="#e12521" stroke-width="0.7" stroke-linejoin="round" />
<polygon points="1746.6,512.0 1746.1,513.5 1743.3,513.2 1743.8,511.9" fill="#d5221e" stroke="#d5221e" stroke-width="0.7" stroke-linejoin="round" />
<polygon points="1749.3,513.0 1748.7,514.6 1746.1,513.5 1746.6,512.0" fill="#de2420" stroke="#de2420" stroke-width="0.7" stroke-linejoin="round" />
<polygon points="1754.4,542.3 1752.6,544.1 1751.7,537.7 1753.6,535.9" fill="#e9df21" stroke="#e9df21" stroke-width="0.7" stroke-linejoin="round" />
<polygon points="1752.7,565.0 1749.8,566.7 1749.0,560.3 1751.9,558.6" fill="#ece223" stroke="#ece223" stroke-width="0.7" stroke-linejoin="round" />
<polygon points="1754.0,527.7 1752.8,529.5 1751.9,523.1 1753.2,521.3" fill="#e5db1f" stroke="#e5db1f" stroke-width="0.7" stroke-linejoin="round" />
<polygon points="1753.4,550.5 1751.0,552.2 1750.2,545.8 1752.6,544.1" fill="#ebe122" stroke="#ebe122" stroke-width="0.7" stroke-linejoin="round" />
<polygon points="1753.2,521.3 1751.9,523.1 1751.1,520.5 1752.4,518.7" fill="#ce1f1c" stroke="#ce1f1c" stroke-width="0.7" stroke-linejoin="round" />
<polygon points="1753.6,535.9 1751.7,537.7 1750.9,531.3 1752.8,529.5" fill="#e9df21" stroke="#e9df21" stroke-width="0.7" stroke-linejoin="round" />
<polygon points="1751.9,558.6 1749.0,560.3 1748.1,553.9 1751.0,552.2" fill="#ece223" stroke="#ece223" stroke-width="0.7" stroke-linejoin="round" />
<polygon points="1746.1,513.5 1745.0,515.0 1742.3,514.5 1743.3,513.2" fill="#d4211e" stroke="#d4211e" stroke-width="0.7" stroke-linejoin="round" />
<polygon points="1752.4,518.7 1751.1,520.5 1749.6,518.1 1750.9,516.4" fill="#d7221f" stroke="#d7221f" stroke-width="0.7" stroke-linejoin="round" />
<polygon points="1748.7,514.6 1747.5,516.2 1745.0,515.0 1746.1,513.5" fill="#d9231f" stroke="#d9231f" stroke-width="0.7" stroke-linejoin="round" />
<polygon points="1749.8,566.7 1746.4,568.3 1745.6,561.9 1749.0,560.3" fill="#ece222" stroke="#ece222" stroke-width="0.7" stroke-linejoin="round" />
<polygon points="1750.9,516.4 1749.6,518.1 1747.5,516.2 1748.7,514.6" fill="#db2320" stroke="#db2320" stroke-width="0.7" stroke-linejoin="round" />
<polygon points="1752.6,544.1 1750.2,545.8 1749.3,539.5 1751.7,537.7" fill="#ebe122" stroke="#ebe122" stroke-width="0.7" stroke-linejoin="round" />
<polygon points="1752.8,529.5 1750.9,531.3 1750.1,524.9 1751.9,523.1" fill="#e9df21" stroke="#e9df21" stroke-width="0.7" stroke-linejoin="round" />
<polygon points="1751.0,552.2 1748.1,553.9 1747.3,547.5 1750.2,545.8" fill="#ece223" stroke="#ece223" stroke-width="0.7" stroke-linejoin="round" />
<polygon points="1749.0,560.3 1745.6,561.9 1744.8,555.5 1748.1,553.9" fill="#ece222" stroke="#ece222" stroke-width="0.7" stroke-linejoin="round" />
<polygon points="1745.0,515.0 1743.5,516.5 1741.0,515.9 1742.3,514.5" fill="#d2211d" stroke="#d2211d" stroke-width="0.7" stroke-linejoin="round" />
<polygon points="1746.4,568.3 1742.7,569.8 1741.8,563.4 1745.6,561.9" fill="#eae022" stroke="#eae022" stroke-width="0.7" stroke-linejoin="round" />
<polygon points="1751.7,537.7 1749.3,539.5 1748.5,533.1 1750.9,531.3" fill="#ebe122" stroke="#ebe122" stroke-width="0.7" stroke-linejoin="round" />
<polygon points="1751.9,523.1 1750.1,524.9 1749.3,522.3 1751.1,520.5" fill="#c51d1a" stroke="#c51d1a" stroke-width="0.7" stroke-linejoin="round" />
<polygon points="1747.5,516.2 1745.9,517.8 1743.5,516.5 1745.0,515.0" fill="#d5221e" stroke="#d5221e" stroke-width="0.7" stroke-linejoin="round" />
<polygon points="1751.1,520.5 1749.3,522.3 1747.9,519.8 1749.6,518.1" fill="#cf201d" stroke="#cf201d" stroke-width="0.7" stroke-linejoin="round" />
<polygon points="1749.6,518.1 1747.9,519.8 1745.9,517.8 1747.5,516.2" fill="#d4211e" stroke="#d4211e" stroke-width="0.7" stroke-linejoin="round" />
<polygon points="1750.2,545.8 1747.3,547.5 1746.4,541.2 1749.3,539.5" fill="#ece223" stroke="#ece223" stroke-width="0.7" stroke-linejoin="round" />
<polygon points="1748.1,553.9 1744.8,555.5 1743.9,549.2 1747.3,547.5" fill="#ece222" stroke="#ece222" stroke-width="0.7" stroke-linejoin="round" />
<polygon points="1742.7,569.8 1738.6,571.1 1737.7,564.7 1741.8,563.4" fill="#e7dd20" stroke="#e7dd20" stroke-width="0.7" stroke-linejoin="round" />
<polygon points="1695.3,576.9 1691.2,577.3 1689.8,571.0 1694.5,570.5" fill="#a01110" stroke="#a01110" stroke-width="0.7" stroke-linejoin="round" />
<polygon points="1745.6,561.9 1741.8,563.4 1741.0,557.0 1744.8,555.5" fill="#eae022" stroke="#eae022" stroke-width="0.7" stroke-linejoin="round" />
<polygon points="1750.9,531.3 1748.5,533.1 1747.7,526.7 1750.1,524.9" fill="#ebe122" stroke="#ebe122" stroke-width="0.7" stroke-linejoin="round" />
<polygon points="1702.0,576.3 1695.3,576.9 1694.5,570.5 1700.6,570.0" fill="#c8be14" stroke="#c8be14" stroke-width="0.7" stroke-linejoin="round" />
<polygon points="1743.5,516.5 1741.5,517.9 1739.2,517.2 1741.0,515.9" fill="#cf201d" stroke="#cf201d" stroke-width="0.7" stroke-linejoin="round" />
<polygon points="1704.6,576.1 1702.0,576.3 1700.6,570.0 1703.7,569.7" fill="#c8be14" stroke="#c8be14" stroke-width="0.7" stroke-linejoin="round" />
<polygon points="1749.3,539.5 1746.4,541.2 1745.6,534.8 1748.5,533.1" fill="#ece223" stroke="#ece223" stroke-width="0.7" stroke-linejoin="round" />
<polygon points="1738.6,571.1 1734.2,572.3 1733.4,565.9 1737.7,564.7" fill="#e2d81e" stroke="#e2d81e" stroke-width="0.7" stroke-linejoin="round" />
<polygon points="1745.9,517.8 1743.7,519.4 1741.5,517.9 1743.5,516.5" fill="#d1201d" stroke="#d1201d" stroke-width="0.7" stroke-linejoin="round" />
<polygon points="1750.1,524.9 1747.7,526.7 1746.9,524.0 1749.3,522.3" fill="#bb1a17" stroke="#bb1a17" stroke-width="0.7" stroke-linejoin="round" />
<polygon points="1747.3,547.5 1743.9,549.2 1743.1,542.8 1746.4,541.2" fill="#ece222" stroke="#ece222" stroke-width="0.7" stroke-linejoin="round" />
<polygon points="1741.8,563.4 1737.7,564.7 1736.9,558.4 1741.0,557.0" fill="#e7dd20" stroke="#e7dd20" stroke-width="0.7" stroke-linejoin="round" />
<polygon points="1720.3,574.6 1704.6,576.1 1703.7,569.7 1719.5,568.2" fill="#c8be14" stroke="#c8be14" stroke-width="0.7" stroke-linejoin="round" />
<polygon points="1747.9,519.8 1745.6,521.5 1743.7,519.4 1745.9,517.8" fill="#ce1f1c" stroke="#ce1f1c" stroke-width="0.7" stroke-linejoin="round" />
<polygon points="1694.5,570.5 1689.8,571.0 1687.8,564.7 1693.7,564.1" fill="#a01110" stroke="#a01110" stroke-width="0.7" stroke-linejoin="round" />
<polygon points="1749.3,522.3 1746.9,524.0 1745.6,521.5 1747.9,519.8" fill="#c61d1a" stroke="#c61d1a" stroke-width="0.7" stroke-linejoin="round" />
<polygon points="1744.8,555.5 1741.0,557.0 1740.1,550.6 1743.9,549.2" fill="#eae022" stroke="#eae022" stroke-width="0.7" stroke-linejoin="round" />
<polygon points="1734.2,572.3 1729.7,573.3 1728.8,566.9 1733.4,565.9" fill="#dcd21c" stroke="#dcd21c" stroke-width="0.7" stroke-linejoin="round" />
<polygon points="1700.6,570.0 1694.5,570.5 1693.7,564.1 1698.6,563.7" fill="#c8be14" stroke="#c8be14" stroke-width="0.7" stroke-linejoin="round" />
<polygon points="1729.7,573.3 1725.0,574.0 1724.2,567.7 1728.8,566.9" fill="#d5cb19" stroke="#d5cb19" stroke-width="0.7" stroke-linejoin="round" />
<polygon points="1725.0,574.0 1720.3,574.6 1719.5,568.2 1724.2,567.7" fill="#cdc316" stroke="#cdc316" stroke-width="0.7" stroke-linejoin="round" />
<polygon points="1741.5,517.9 1739.1,519.3 1737.0,518.5 1739.2,517.2" fill="#cd1f1c" stroke="#cd1f1c" stroke-width="0.7" stroke-linejoin="round" />
<polygon points="1703.7,569.7 1700.6,570.0 1698.6,563.7 1702.9,563.3" fill="#c8be14" stroke="#c8be14" stroke-width="0.7" stroke-linejoin="round" />
<polygon points="1748.5,533.1 1745.6,534.8 1744.7,528.4 1747.7,526.7" fill="#ece223" stroke="#ece223" stroke-width="0.7" stroke-linejoin="round" />
<polygon points="1737.7,564.7 1733.4,565.9 1732.5,559.5 1736.9,558.4" fill="#e2d81e" stroke="#e2d81e" stroke-width="0.7" stroke-linejoin="round" />
<polygon points="1746.4,541.2 1743.1,542.8 1742.2,536.4 1745.6,534.8" fill="#ece222" stroke="#ece222" stroke-width="0.7" stroke-linejoin="round" />
<polygon points="1693.7,564.1 1687.8,564.7 1685.2,558.5 1692.8,557.8" fill="#a01110" stroke="#a01110" stroke-width="0.7" stroke-linejoin="round" />
<polygon points="1741.0,557.0 1736.9,558.4 1736.1,552.0 1740.1,550.6" fill="#e7dd20" stroke="#e7dd20" stroke-width="0.7" stroke-linejoin="round" />
<polygon points="1719.5,568.2 1703.7,569.7 1702.9,563.3 1718.6,561.8" fill="#c8be14" stroke="#c8be14" stroke-width="0.7" stroke-linejoin="round" />
<polygon points="1743.7,519.4 1741.1,520.9 1739.1,519.3 1741.5,517.9" fill="#cc1f1c" stroke="#cc1f1c" stroke-width="0.7" stroke-linejoin="round" />
<polygon points="1743.9,549.2 1740.1,550.6 1739.3,544.2 1743.1,542.8" fill="#eae022" stroke="#eae022" stroke-width="0.7" stroke-linejoin="round" />
<polygon points="1733.4,565.9 1728.8,566.9 1728.0,560.5 1732.5,559.5" fill="#dcd21c" stroke="#dcd21c" stroke-width="0.7" stroke-linejoin="round" />
<polygon points="1698.6,563.7 1693.7,564.1 1692.8,557.8 1696.0,557.5" fill="#c8be14" stroke="#c8be14" stroke-width="0.7" stroke-linejoin="round" />
<polygon points="1747.7,526.7 1744.7,528.4 1744.1,525.7 1746.9,524.0" fill="#b11715" stroke="#b11715" stroke-width="0.7" stroke-linejoin="round" />
<polygon points="1745.6,521.5 1742.8,523.1 1741.1,520.9 1743.7,519.4" fill="#c61d1a" stroke="#c61d1a" stroke-width="0.7" stroke-linejoin="round" />
<polygon points="1728.8,566.9 1724.2,567.7 1723.3,561.3 1728.0,560.5" fill="#d5cb19" stroke="#d5cb19" stroke-width="0.7" stroke-linejoin="round" />
<polygon points="1746.9,524.0 1744.1,525.7 1742.8,523.1 1745.6,521.5" fill="#bd1a18" stroke="#bd1a18" stroke-width="0.7" stroke-linejoin="round" />
<polygon points="1724.2,567.7 1719.5,568.2 1718.6,561.8 1723.3,561.3" fill="#cdc316" stroke="#cdc316" stroke-width="0.7" stroke-linejoin="round" />
<polygon points="1702.9,563.3 1698.6,563.7 1696.0,557.5 1702.1,556.9" fill="#c8be14" stroke="#c8be14" stroke-width="0.7" stroke-linejoin="round" />
<polygon points="1739.1,519.3 1736.3,520.7 1734.4,519.7 1737.0,518.5" fill="#cb1e1b" stroke="#cb1e1b" stroke-width="0.7" stroke-linejoin="round" />
<polygon points="1736.9,558.4 1732.5,559.5 1731.7,553.1 1736.1,552.0" fill="#e2d81e" stroke="#e2d81e" stroke-width="0.7" stroke-linejoin="round" />
<polygon points="1692.8,557.8 1685.2,558.5 1682.1,552.3 1692.0,551.4" fill="#a01110" stroke="#a01110" stroke-width="0.7" stroke-linejoin="round" />
<polygon points="1745.6,534.8 1742.2,536.4 1741.4,530.0 1744.7,528.4" fill="#ece222" stroke="#ece222" stroke-width="0.7" stroke-linejoin="round" />
<polygon points="1740.1,550.6 1736.1,552.0 1735.2,545.6 1739.3,544.2" fill="#e7dd20" stroke="#e7dd20" stroke-width="0.7" stroke-linejoin="round" />
<polygon points="1718.6,561.8 1702.9,563.3 1702.1,556.9 1717.8,555.4" fill="#c8be14" stroke="#c8be14" stroke-width="0.7" stroke-linejoin="round" />
<polygon points="1743.1,542.8 1739.3,544.2 1738.5,537.9 1742.2,536.4" fill="#eae022" stroke="#eae022" stroke-width="0.7" stroke-linejoin="round" />
<polygon points="1741.1,520.9 1738.1,522.4 1736.3,520.7 1739.1,519.3" fill="#c71d1a" stroke="#c71d1a" stroke-width="0.7" stroke-linejoin="round" />
<polygon points="1696.0,557.5 1692.8,557.8 1692.0,551.4 1692.9,551.3" fill="#c8be14" stroke="#c8be14" stroke-width="0.7" stroke-linejoin="round" />
<polygon points="1732.5,559.5 1728.0,560.5 1727.2,554.1 1731.7,553.1" fill="#dcd21c" stroke="#dcd21c" stroke-width="0.7" stroke-linejoin="round" />
<polygon points="1680.0,529.1 1669.2,530.1 1669.8,528.6 1680.6,527.6" fill="#be1a18" stroke="#be1a18" stroke-width="0.7" stroke-linejoin="round" />
<polygon points="1736.3,520.7 1733.2,521.9 1731.6,520.8 1734.4,519.7" fill="#c91e1b" stroke="#c91e1b" stroke-width="0.7" stroke-linejoin="round" />
<polygon points="1702.1,556.9 1696.0,557.5 1692.9,551.3 1701.2,550.5" fill="#c8be14" stroke="#c8be14" stroke-width="0.7" stroke-linejoin="round" />
<polygon points="1728.0,560.5 1723.3,561.3 1722.5,554.9 1727.2,554.1" fill="#d5cb19" stroke="#d5cb19" stroke-width="0.7" stroke-linejoin="round" />
<polygon points="1723.3,561.3 1718.6,561.8 1717.8,555.4 1722.5,554.9" fill="#cdc316" stroke="#cdc316" stroke-width="0.7" stroke-linejoin="round" />
<polygon points="1742.8,523.1 1739.6,524.6 1738.1,522.4 1741.1,520.9" fill="#bf1b18" stroke="#bf1b18" stroke-width="0.7" stroke-linejoin="round" />
<polygon points="1744.7,528.4 1741.4,530.0 1740.8,527.3 1744.1,525.7" fill="#a71312" stroke="#a71312" stroke-width="0.7" stroke-linejoin="round" />
<polygon points="1736.1,552.0 1731.7,553.1 1730.9,546.7 1735.2,545.6" fill="#e2d81e" stroke="#e2d81e" stroke-width="0.7" stroke-linejoin="round" />
<polygon points="1744.1,525.7 1740.8,527.3 1739.6,524.6 1742.8,523.1" fill="#b41715" stroke="#b41715" stroke-width="0.7" stroke-linejoin="round" />
<polygon points="1691.4,528.0 1680.0,529.1 1680.6,527.6 1692.3,526.5" fill="#be1a18" stroke="#be1a18" stroke-width="0.7" stroke-linejoin="round" />
<polygon points="1692.0,551.4 1682.1,552.3 1678.4,546.2 1689.1,545.2" fill="#a01110" stroke="#a01110" stroke-width="0.7" stroke-linejoin="round" />
<polygon points="1739.3,544.2 1735.2,545.6 1734.4,539.2 1738.5,537.9" fill="#e7dd20" stroke="#e7dd20" stroke-width="0.7" stroke-linejoin="round" />
<polygon points="1717.8,555.4 1702.1,556.9 1701.2,550.5 1717.0,549.0" fill="#c8be14" stroke="#c8be14" stroke-width="0.7" stroke-linejoin="round" />
<polygon points="1742.2,536.4 1738.5,537.9 1737.6,531.5 1741.4,530.0" fill="#eae022" stroke="#eae022" stroke-width="0.7" stroke-linejoin="round" />
<polygon points="1692.9,551.3 1692.0,551.4 1689.1,545.2 1691.1,545.0" fill="#c8be14" stroke="#c8be14" stroke-width="0.7" stroke-linejoin="round" />
<polygon points="1680.2,531.2 1669.5,532.2 1669.2,530.1 1680.0,529.1" fill="#ab1513" stroke="#ab1513" stroke-width="0.7" stroke-linejoin="round" />
<polygon points="1738.1,522.4 1734.7,523.7 1733.2,521.9 1736.3,520.7" fill="#c21c19" stroke="#c21c19" stroke-width="0.7" stroke-linejoin="round" />
<polygon points="1733.2,521.9 1729.8,523.0 1728.6,521.8 1731.6,520.8" fill="#c61d1a" stroke="#c61d1a" stroke-width="0.7" stroke-linejoin="round" />
<polygon points="1731.7,553.1 1727.2,554.1 1726.3,547.7 1730.9,546.7" fill="#dcd21c" stroke="#dcd21c" stroke-width="0.7" stroke-linejoin="round" />
<polygon points="1700.6,527.2 1691.4,528.0 1692.3,526.5 1701.5,525.6" fill="#be1a18" stroke="#be1a18" stroke-width="0.7" stroke-linejoin="round" />
<polygon points="1701.2,550.5 1692.9,551.3 1691.1,545.0 1700.4,544.1" fill="#c8be14" stroke="#c8be14" stroke-width="0.7" stroke-linejoin="round" />
<polygon points="1727.2,554.1 1722.5,554.9 1721.7,548.5 1726.3,547.7" fill="#d5cb19" stroke="#d5cb19" stroke-width="0.7" stroke-linejoin="round" />
<polygon points="1722.5,554.9 1717.8,555.4 1717.0,549.0 1721.7,548.5" fill="#cdc316" stroke="#cdc316" stroke-width="0.7" stroke-linejoin="round" />
<polygon points="1739.6,524.6 1736.0,526.1 1734.7,523.7 1738.1,522.4" fill="#b81916" stroke="#b81916" stroke-width="0.7" stroke-linejoin="round" />
<polygon points="1690.7,530.2 1680.2,531.2 1680.0,529.1 1691.4,528.0" fill="#ab1513" stroke="#ab1513" stroke-width="0.7" stroke-linejoin="round" />
<polygon points="1689.1,545.2 1678.4,546.2 1673.9,540.1 1684.7,539.1" fill="#a01110" stroke="#a01110" stroke-width="0.7" stroke-linejoin="round" />
<polygon points="1729.8,523.0 1726.2,524.0 1725.3,522.7 1728.6,521.8" fill="#c41c1a" stroke="#c41c1a" stroke-width="0.7" stroke-linejoin="round" />
<polygon points="1741.4,530.0 1737.6,531.5 1737.0,528.7 1740.8,527.3" fill="#a01110" stroke="#a01110" stroke-width="0.7" stroke-linejoin="round" />
<polygon points="1735.2,545.6 1730.9,546.7 1730.0,540.4 1734.4,539.2" fill="#e2d81e" stroke="#e2d81e" stroke-width="0.7" stroke-linejoin="round" />
<polygon points="1681.2,533.7 1670.4,534.7 1669.5,532.2 1680.2,531.2" fill="#a01110" stroke="#a01110" stroke-width="0.7" stroke-linejoin="round" />
<polygon points="1740.8,527.3 1737.0,528.7 1736.0,526.1 1739.6,524.6" fill="#ab1513" stroke="#ab1513" stroke-width="0.7" stroke-linejoin="round" />
<polygon points="1714.7,525.9 1700.6,527.2 1701.5,525.6 1714.9,524.4" fill="#be1a18" stroke="#be1a18" stroke-width="0.7" stroke-linejoin="round" />
<polygon points="1734.7,523.7 1731.0,524.9 1729.8,523.0 1733.2,521.9" fill="#bd1a18" stroke="#bd1a18" stroke-width="0.7" stroke-linejoin="round" />
<polygon points="1738.5,537.9 1734.4,539.2 1733.5,532.8 1737.6,531.5" fill="#e7dd20" stroke="#e7dd20" stroke-width="0.7" stroke-linejoin="round" />
<polygon points="1717.0,549.0 1701.2,550.5 1700.4,544.1 1716.1,542.7" fill="#c8be14" stroke="#c8be14" stroke-width="0.7" stroke-linejoin="round" />
<polygon points="1691.1,545.0 1689.1,545.2 1684.7,539.1 1690.3,538.6" fill="#c8be14" stroke="#c8be14" stroke-width="0.7" stroke-linejoin="round" />
<polygon points="1726.2,524.0 1722.4,524.8 1721.9,523.4 1725.3,522.7" fill="#c21c19" stroke="#c21c19" stroke-width="0.7" stroke-linejoin="round" />
<polygon points="1682.8,536.5 1672.0,537.5 1670.4,534.7 1681.2,533.7" fill="#a01110" stroke="#a01110" stroke-width="0.7" stroke-linejoin="round" />
<polygon points="1684.7,539.1 1673.9,540.1 1672.0,537.5 1682.8,536.5" fill="#a01110" stroke="#a01110" stroke-width="0.7" stroke-linejoin="round" />
<polygon points="1699.9,529.4 1690.7,530.2 1691.4,528.0 1700.6,527.2" fill="#ab1513" stroke="#ab1513" stroke-width="0.7" stroke-linejoin="round" />
<polygon points="1730.9,546.7 1726.3,547.7 1725.5,541.3 1730.0,540.4" fill="#dcd21c" stroke="#dcd21c" stroke-width="0.7" stroke-linejoin="round" />
<polygon points="1722.4,524.8 1718.6,525.4 1718.4,524.0 1721.9,523.4" fill="#c01b19" stroke="#c01b19" stroke-width="0.7" stroke-linejoin="round" />
<polygon points="1718.6,525.4 1714.7,525.9 1714.9,524.4 1718.4,524.0" fill="#bf1b18" stroke="#bf1b18" stroke-width="0.7" stroke-linejoin="round" />
<polygon points="1690.2,532.9 1681.2,533.7 1680.2,531.2 1690.7,530.2" fill="#a01110" stroke="#a01110" stroke-width="0.7" stroke-linejoin="round" />
<polygon points="1700.4,544.1 1691.1,545.0 1690.3,538.6 1699.5,537.7" fill="#c8be14" stroke="#c8be14" stroke-width="0.7" stroke-linejoin="round" />
<polygon points="1726.3,547.7 1721.7,548.5 1720.8,542.1 1725.5,541.3" fill="#d5cb19" stroke="#d5cb19" stroke-width="0.7" stroke-linejoin="round" />
<polygon points="1721.7,548.5 1717.0,549.0 1716.1,542.7 1720.8,542.1" fill="#cdc316" stroke="#cdc316" stroke-width="0.7" stroke-linejoin="round" />
<polygon points="1736.0,526.1 1732.1,527.3 1731.0,524.9 1734.7,523.7" fill="#b01614" stroke="#b01614" stroke-width="0.7" stroke-linejoin="round" />
<polygon points="1731.0,524.9 1727.1,525.9 1726.2,524.0 1729.8,523.0" fill="#b91917" stroke="#b91917" stroke-width="0.7" stroke-linejoin="round" />
<polygon points="1690.3,538.6 1684.7,539.1 1682.8,536.5 1690.1,535.8" fill="#a01110" stroke="#a01110" stroke-width="0.7" stroke-linejoin="round" />
<polygon points="1737.6,531.5 1733.5,532.8 1733.0,530.1 1737.0,528.7" fill="#a01110" stroke="#a01110" stroke-width="0.7" stroke-linejoin="round" />
<polygon points="1690.1,535.8 1682.8,536.5 1681.2,533.7 1690.2,532.9" fill="#a01110" stroke="#a01110" stroke-width="0.7" stroke-linejoin="round" />
<polygon points="1734.4,539.2 1730.0,540.4 1729.2,534.0 1733.5,532.8" fill="#e2d81e" stroke="#e2d81e" stroke-width="0.7" stroke-linejoin="round" />
<polygon points="1737.0,528.7 1733.0,530.1 1732.1,527.3 1736.0,526.1" fill="#a21211" stroke="#a21211" stroke-width="0.7" stroke-linejoin="round" />
<polygon points="1714.7,528.0 1699.9,529.4 1700.6,527.2 1714.7,525.9" fill="#ab1513" stroke="#ab1513" stroke-width="0.7" stroke-linejoin="round" />
<polygon points="1699.5,532.0 1690.2,532.9 1690.7,530.2 1699.9,529.4" fill="#a01110" stroke="#a01110" stroke-width="0.7" stroke-linejoin="round" />
<polygon points="1727.1,525.9 1723.1,526.8 1722.4,524.8 1726.2,524.0" fill="#b41715" stroke="#b41715" stroke-width="0.7" stroke-linejoin="round" />
<polygon points="1699.5,537.7 1690.3,538.6 1690.1,535.8 1699.3,534.9" fill="#a01110" stroke="#a01110" stroke-width="0.7" stroke-linejoin="round" />
<polygon points="1716.1,542.7 1700.4,544.1 1699.5,537.7 1715.3,536.3" fill="#c8be14" stroke="#c8be14" stroke-width="0.7" stroke-linejoin="round" />
<polygon points="1699.3,534.9 1690.1,535.8 1690.2,532.9 1699.5,532.0" fill="#a01110" stroke="#a01110" stroke-width="0.7" stroke-linejoin="round" />
<polygon points="1732.1,527.3 1728.0,528.4 1727.1,525.9 1731.0,524.9" fill="#a91413" stroke="#a91413" stroke-width="0.7" stroke-linejoin="round" />
<polygon points="1723.1,526.8 1718.9,527.5 1718.6,525.4 1722.4,524.8" fill="#b01614" stroke="#b01614" stroke-width="0.7" stroke-linejoin="round" />
<polygon points="1718.9,527.5 1714.7,528.0 1714.7,525.9 1718.6,525.4" fill="#ac1513" stroke="#ac1513" stroke-width="0.7" stroke-linejoin="round" />
<polygon points="1730.0,540.4 1725.5,541.3 1724.6,534.9 1729.2,534.0" fill="#dcd21c" stroke="#dcd21c" stroke-width="0.7" stroke-linejoin="round" />
<polygon points="1733.5,532.8 1729.2,534.0 1728.7,531.2 1733.0,530.1" fill="#a01110" stroke="#a01110" stroke-width="0.7" stroke-linejoin="round" />
<polygon points="1714.8,530.6 1699.5,532.0 1699.9,529.4 1714.7,528.0" fill="#a01110" stroke="#a01110" stroke-width="0.7" stroke-linejoin="round" />
<polygon points="1733.0,530.1 1728.7,531.2 1728.0,528.4 1732.1,527.3" fill="#a01110" stroke="#a01110" stroke-width="0.7" stroke-linejoin="round" />
<polygon points="1725.5,541.3 1720.8,542.1 1720.0,535.7 1724.6,534.9" fill="#d5cb19" stroke="#d5cb19" stroke-width="0.7" stroke-linejoin="round" />
<polygon points="1720.8,542.1 1716.1,542.7 1715.3,536.3 1720.0,535.7" fill="#cdc316" stroke="#cdc316" stroke-width="0.7" stroke-linejoin="round" />
<polygon points="1728.0,528.4 1723.7,529.4 1723.1,526.8 1727.1,525.9" fill="#a31211" stroke="#a31211" stroke-width="0.7" stroke-linejoin="round" />
<polygon points="1715.3,536.3 1699.5,537.7 1699.3,534.9 1715.0,533.5" fill="#a01110" stroke="#a01110" stroke-width="0.7" stroke-linejoin="round" />
<polygon points="1715.0,533.5 1699.3,534.9 1699.5,532.0 1714.8,530.6" fill="#a01110" stroke="#a01110" stroke-width="0.7" stroke-linejoin="round" />
<polygon points="1723.7,529.4 1719.2,530.1 1718.9,527.5 1723.1,526.8" fill="#a01110" stroke="#a01110" stroke-width="0.7" stroke-linejoin="round" />
<polygon points="1729.2,534.0 1724.6,534.9 1724.2,532.2 1728.7,531.2" fill="#a01110" stroke="#a01110" stroke-width="0.7" stroke-linejoin="round" />
<polygon points="1719.2,530.1 1714.8,530.6 1714.7,528.0 1718.9,527.5" fill="#a01110" stroke="#a01110" stroke-width="0.7" stroke-linejoin="round" />
<polygon points="1728.7,531.2 1724.2,532.2 1723.7,529.4 1728.0,528.4" fill="#a01110" stroke="#a01110" stroke-width="0.7" stroke-linejoin="round" />
<polygon points="1724.6,534.9 1720.0,535.7 1719.6,532.9 1724.2,532.2" fill="#a01110" stroke="#a01110" stroke-width="0.7" stroke-linejoin="round" />
<polygon points="1720.0,535.7 1715.3,536.3 1715.0,533.5 1719.6,532.9" fill="#a01110" stroke="#a01110" stroke-width="0.7" stroke-linejoin="round" />
<polygon points="1724.2,532.2 1719.6,532.9 1719.2,530.1 1723.7,529.4" fill="#a01110" stroke="#a01110" stroke-width="0.7" stroke-linejoin="round" />
<polygon points="1719.6,532.9 1715.0,533.5 1714.8,530.6 1719.2,530.1" fill="#a01110" stroke="#a01110" stroke-width="0.7" stroke-linejoin="round" />
<line x1="1743.5" y1="547.9" x2="1738.3" y2="508.2" stroke="#1a1a00" stroke-width="0.9"/>
<polygon points="1695.8,499.7 1695.8,499.7 1713.6,502.0 1721.2,503.0 1732.3,504.4 1735.0,504.9 1737.5,505.5 1739.6,506.3 1741.3,507.2 1742.6,508.2 1743.4,509.3 1743.9,510.6 1743.8,511.9 1743.3,513.2 1742.3,514.5 1741.0,515.9 1739.2,517.2 1737.0,518.5 1734.4,519.7 1731.6,520.8 1728.6,521.8 1725.3,522.7 1721.9,523.4 1718.4,524.0 1714.9,524.4 1701.5,525.6 1692.3,526.5 1670.7,528.5 1670.7,528.5" fill="#e02020" stroke="#1a0000" stroke-width="0.9" stroke-linejoin="round" />
<polygon points="1703.0,501.2 1703.0,501.2 1713.2,502.5 1720.8,503.5 1731.6,504.8 1734.2,505.3 1736.6,505.9 1738.6,506.6 1740.2,507.5 1741.4,508.5 1742.3,509.6 1742.7,510.7 1742.6,512.0 1742.1,513.2 1741.2,514.5 1739.9,515.8 1738.2,517.1 1736.1,518.3 1733.7,519.5 1731.0,520.5 1728.0,521.5 1724.9,522.3 1721.7,523.0 1718.3,523.6 1715.0,524.0 1701.9,525.2 1692.7,526.0 1680.4,527.2 1680.4,527.2" fill="#7a6c00" stroke="#1a1a00" stroke-width="1.0" stroke-linejoin="round" />
<path d="M1738.1,514.5 L1738.8,513.6 L1739.2,512.7 L1739.4,511.8 L1739.3,511.0 L1739.0,510.2 L1738.5,509.4 L1737.7,508.7 L1736.7,508.0 L1735.5,507.5 L1734.1,507.0 L1732.4,506.5 L1730.7,506.2 L1728.7,506.0 L1726.7,505.8 L1724.5,505.7 L1722.3,505.8 L1720.0,505.9 L1717.6,506.1 L1715.3,506.4 L1712.9,506.8 L1710.7,507.3 L1708.5,507.8 L1706.3,508.5 L1704.3,509.2 L1702.5,509.9 L1700.8,510.7 L1699.2,511.5 L1697.9,512.4 L1696.8,513.3 L1695.9,514.2 L1695.2,515.1 L1694.8,516.0 L1694.6,516.9 L1694.7,517.7 L1695.0,518.5 L1695.5,519.3 L1696.3,520.0 L1697.3,520.7 L1698.5,521.2 L1700.0,521.7 L1701.6,522.2 L1703.4,522.5 L1705.3,522.8 L1707.3,522.9 L1709.5,523.0 L1711.8,522.9 L1714.1,522.8 L1716.4,522.6 L1718.7,522.3 L1721.1,521.9 L1723.3,521.4 L1725.6,520.9 L1727.7,520.2 L1729.7,519.6 L1731.5,518.8 L1733.2,518.0 L1734.8,517.2 L1736.1,516.3 L1737.2,515.4 L1738.1,514.5 Z" fill="#a89c10" stroke="#1a1a00" stroke-width="1.1"/>
<path d="M1740.7,534.4 L1741.4,533.5 L1741.8,532.6 L1742.0,531.7 L1742.0,530.9 L1741.7,530.1 L1741.1,529.3 L1740.3,528.6 L1739.3,527.9 L1738.1,527.3 L1736.7,526.8 L1735.1,526.4 L1733.3,526.1 L1731.4,525.8 L1729.3,525.7 L1727.1,525.6 L1724.9,525.6 L1722.6,525.8 L1720.2,526.0 L1717.9,526.3 L1715.6,526.7 L1713.3,527.2 L1711.1,527.7 L1709.0,528.3 L1707.0,529.0 L1705.1,529.8 L1703.4,530.6 L1701.9,531.4 L1700.5,532.3 L1699.4,533.2 L1698.5,534.1 L1697.8,535.0 L1697.4,535.9 L1697.2,536.7 L1697.3,537.6 L1697.6,538.4 L1698.1,539.2 L1698.9,539.9 L1699.9,540.5 L1701.1,541.1 L1702.6,541.6 L1704.2,542.0 L1706.0,542.4 L1707.9,542.6 L1710.0,542.8 L1712.1,542.9 L1714.4,542.8 L1716.7,542.7 L1719.0,542.5 L1721.4,542.2 L1723.7,541.8 L1726.0,541.3 L1728.2,540.7 L1730.3,540.1 L1732.3,539.4 L1734.2,538.7 L1735.9,537.9 L1737.4,537.0 L1738.7,536.2 L1739.8,535.3 L1740.7,534.4 Z" fill="#6a5e00" stroke="#1a1a00" stroke-width="0.8" clip-path="url(#cbclip2)"/>
<polygon points="1484.4,445.5 1489.2,447.8 1494.0,450.0 1498.9,452.1 1503.8,454.1 1508.8,456.0 1513.7,457.7 1518.7,459.4 1523.8,460.9 1528.8,462.3 1533.8,463.6 1538.9,464.8 1544.0,465.9 1549.1,466.8 1554.2,467.6 1559.2,468.3 1564.3,468.9 1569.4,469.4 1574.5,469.7 1579.5,469.9 1584.6,470.0 1589.6,470.0 1594.6,469.9 1599.6,469.6 1604.6,469.2 1609.6,468.7 1614.5,468.1 1619.3,467.3 1624.2,466.4 1629.0,465.5 1633.8,464.4 1638.5,463.1 1643.1,461.8 1647.8,460.3 1652.3,458.7 1656.9,457.1 1661.3,455.3 1665.7,453.3 1670.0,451.3 1674.3,449.2 1678.5,446.9 1681.6,445.5 1684.8,444.4 1688.2,443.6 1691.6,443.3 1695.2,443.3 1698.8,443.7 1702.4,444.4 1705.9,445.5 1709.3,447.0 1712.6,448.8 1715.8,451.0 1718.8,453.4 1721.5,456.1 1723.9,459.0 1726.1,462.1 1728.0,465.4 1729.5,468.8 1730.7,472.3 1731.6,475.9 1732.0,479.5 1732.1,483.0 1731.8,486.5 1731.1,489.9 1730.1,493.2 1728.4,497.7 1726.9,502.3 1725.4,506.9 1724.1,511.6 1722.9,516.3 1721.8,521.1 1720.9,525.9 1720.0,530.8 1719.3,535.6 1718.7,540.6 1718.2,545.5 1717.9,550.5 1717.6,555.5 1717.5,560.5 1717.5,565.5 1717.6,570.6 1717.9,575.6 1718.3,580.7 1718.8,585.8 1719.4,590.9 1720.1,596.0 1720.9,601.1 1721.9,606.1 1723.0,611.2 1724.2,616.3 1725.5,621.3 1727.0,626.3 1728.5,631.4 1730.2,636.3 1732.0,641.3 1733.9,646.2 1735.9,651.2 1738.0,656.0 1740.3,660.9 1742.6,665.7 1745.1,670.4 1747.6,675.1 1750.3,679.8 1753.0,684.4 1755.9,689.0 1757.8,692.2 1759.4,695.6 1760.6,699.2 1761.4,702.7 1761.9,706.3 1762.0,709.9 1761.8,713.4 1761.1,716.8 1760.1,720.0 1758.8,723.1 1757.0,726.0 1755.0,728.7 1752.7,731.0 1750.1,733.1 1747.2,734.9 1744.2,736.3 1741.0,737.4 1737.6,738.1 1734.1,738.4 1730.5,738.4 1726.9,738.0 1723.4,737.2 1719.8,736.0 1716.4,734.5 1711.6,732.2 1706.8,730.0 1701.9,727.9 1697.0,725.9 1692.0,724.0 1687.1,722.3 1682.1,720.6 1677.0,719.1 1672.0,717.7 1667.0,716.4 1661.9,715.2 1656.8,714.1 1651.7,713.2 1646.6,712.4 1641.6,711.7 1636.5,711.1 1631.4,710.6 1626.3,710.3 1621.3,710.1 1616.2,710.0 1611.2,710.0 1606.2,710.1 1601.2,710.4 1596.2,710.8 1591.2,711.3 1586.3,711.9 1581.5,712.7 1576.6,713.6 1571.8,714.5 1567.0,715.6 1562.3,716.9 1557.7,718.2 1553.0,719.7 1548.5,721.3 1543.9,722.9 1539.5,724.7 1535.1,726.7 1530.8,728.7 1526.5,730.8 1522.3,733.1 1519.2,734.5 1516.0,735.6 1512.6,736.4 1509.2,736.7 1505.6,736.7 1502.0,736.3 1498.4,735.6 1494.9,734.5 1491.5,733.0 1488.2,731.2 1485.0,729.0 1482.0,726.6 1479.3,723.9 1476.9,721.0 1474.7,717.9 1472.8,714.6 1471.3,711.2 1470.1,707.7 1469.2,704.1 1468.8,700.5 1468.7,697.0 1469.0,693.5 1469.7,690.1 1470.7,686.8 1472.4,682.3 1473.9,677.7 1475.4,673.1 1476.7,668.4 1477.9,663.7 1479.0,658.9 1479.9,654.1 1480.8,649.2 1481.5,644.4 1482.1,639.4 1482.6,634.5 1482.9,629.5 1483.2,624.5 1483.3,619.5 1483.3,614.5 1483.2,609.4 1482.9,604.4 1482.5,599.3 1482.0,594.2 1481.4,589.1 1480.7,584.0 1479.9,578.9 1478.9,573.9 1477.8,568.8 1476.6,563.7 1475.3,558.7 1473.8,553.7 1472.3,548.6 1470.6,543.7 1468.8,538.7 1466.9,533.8 1464.9,528.8 1462.8,524.0 1460.5,519.1 1458.2,514.3 1455.7,509.6 1453.2,504.9 1450.5,500.2 1447.8,495.6 1444.9,491.0 1443.0,487.8 1441.4,484.4 1440.2,480.8 1439.4,477.3 1438.9,473.7 1438.8,470.1 1439.0,466.6 1439.7,463.2 1440.7,460.0 1442.0,456.9 1443.8,454.0 1445.8,451.3 1448.1,449.0 1450.7,446.9 1453.6,445.1 1456.6,443.7 1459.8,442.6 1463.2,441.9 1466.7,441.6 1470.3,441.6 1473.9,442.0 1477.4,442.8 1481.0,444.0" fill="#6a5e00" stroke="#1a1a00" stroke-width="1.2" stroke-linejoin="round" />
<polygon points="1425.8,474.3 1428.1,472.0 1448.1,449.0 1445.8,451.3" fill="#968014" stroke="#968014" stroke-width="0.7" stroke-linejoin="round" />
<polygon points="1737.0,749.0 1735.0,751.7 1755.0,728.7 1757.0,726.0" fill="#c4af18" stroke="#c4af18" stroke-width="0.7" stroke-linejoin="round" />
<polygon points="1428.1,472.0 1430.7,469.9 1450.7,446.9 1448.1,449.0" fill="#968014" stroke="#968014" stroke-width="0.7" stroke-linejoin="round" />
<polygon points="1738.8,746.1 1737.0,749.0 1757.0,726.0 1758.8,723.1" fill="#cfba19" stroke="#cfba19" stroke-width="0.7" stroke-linejoin="round" />
<polygon points="1430.7,469.9 1433.6,468.1 1453.6,445.1 1450.7,446.9" fill="#968014" stroke="#968014" stroke-width="0.7" stroke-linejoin="round" />
<polygon points="1740.1,743.0 1738.8,746.1 1758.8,723.1 1760.1,720.0" fill="#d9c41a" stroke="#d9c41a" stroke-width="0.7" stroke-linejoin="round" />
<polygon points="1433.6,468.1 1436.6,466.7 1456.6,443.7 1453.6,445.1" fill="#968014" stroke="#968014" stroke-width="0.7" stroke-linejoin="round" />
<polygon points="1741.1,739.8 1740.1,743.0 1760.1,720.0 1761.1,716.8" fill="#e2cd1b" stroke="#e2cd1b" stroke-width="0.7" stroke-linejoin="round" />
<polygon points="1436.6,466.7 1439.8,465.6 1459.8,442.6 1456.6,443.7" fill="#968014" stroke="#968014" stroke-width="0.7" stroke-linejoin="round" />
<polygon points="1741.8,736.4 1741.1,739.8 1761.1,716.8 1761.8,713.4" fill="#ead61c" stroke="#ead61c" stroke-width="0.7" stroke-linejoin="round" />
<polygon points="1439.8,465.6 1443.2,464.9 1463.2,441.9 1459.8,442.6" fill="#968014" stroke="#968014" stroke-width="0.7" stroke-linejoin="round" />
<polygon points="1742.0,732.9 1741.8,736.4 1761.8,713.4 1762.0,709.9" fill="#f1dd1d" stroke="#f1dd1d" stroke-width="0.7" stroke-linejoin="round" />
<polygon points="1443.2,464.9 1446.7,464.6 1466.7,441.6 1463.2,441.9" fill="#9a8414" stroke="#9a8414" stroke-width="0.7" stroke-linejoin="round" />
<polygon points="1741.9,729.3 1742.0,732.9 1762.0,709.9 1761.9,706.3" fill="#f7e31d" stroke="#f7e31d" stroke-width="0.7" stroke-linejoin="round" />
<polygon points="1446.7,464.6 1450.3,464.6 1470.3,441.6 1466.7,441.6" fill="#a18b15" stroke="#a18b15" stroke-width="0.7" stroke-linejoin="round" />
<polygon points="1741.4,725.7 1741.9,729.3 1761.9,706.3 1761.4,702.7" fill="#fbe71e" stroke="#fbe71e" stroke-width="0.7" stroke-linejoin="round" />
<polygon points="1450.3,464.6 1453.9,465.0 1473.9,442.0 1470.3,441.6" fill="#a99416" stroke="#a99416" stroke-width="0.7" stroke-linejoin="round" />
<polygon points="1740.6,722.2 1741.4,725.7 1761.4,702.7 1760.6,699.2" fill="#feea1e" stroke="#feea1e" stroke-width="0.7" stroke-linejoin="round" />
<polygon points="1453.9,465.0 1457.4,465.8 1477.4,442.8 1473.9,442.0" fill="#b39d17" stroke="#b39d17" stroke-width="0.7" stroke-linejoin="round" />
<polygon points="1739.4,718.6 1740.6,722.2 1760.6,699.2 1759.4,695.6" fill="#ffeb1e" stroke="#ffeb1e" stroke-width="0.7" stroke-linejoin="round" />
<polygon points="1457.4,465.8 1461.0,467.0 1481.0,444.0 1477.4,442.8" fill="#bda718" stroke="#bda718" stroke-width="0.7" stroke-linejoin="round" />
<polygon points="1737.8,715.2 1739.4,718.6 1759.4,695.6 1757.8,692.2" fill="#feea1e" stroke="#feea1e" stroke-width="0.7" stroke-linejoin="round" />
<polygon points="1461.0,467.0 1464.4,468.5 1484.4,445.5 1481.0,444.0" fill="#c7b219" stroke="#c7b219" stroke-width="0.7" stroke-linejoin="round" />
<polygon points="1735.9,712.0 1737.8,715.2 1757.8,692.2 1755.9,689.0" fill="#fce81e" stroke="#fce81e" stroke-width="0.7" stroke-linejoin="round" />
<polygon points="1464.4,468.5 1469.2,470.8 1489.2,447.8 1484.4,445.5" fill="#cbb619" stroke="#cbb619" stroke-width="0.7" stroke-linejoin="round" />
<polygon points="1733.0,707.4 1735.9,712.0 1755.9,689.0 1753.0,684.4" fill="#fae61e" stroke="#fae61e" stroke-width="0.7" stroke-linejoin="round" />
<polygon points="1469.2,470.8 1474.0,473.0 1494.0,450.0 1489.2,447.8" fill="#c8b319" stroke="#c8b319" stroke-width="0.7" stroke-linejoin="round" />
<polygon points="1730.3,702.8 1733.0,707.4 1753.0,684.4 1750.3,679.8" fill="#fbe71e" stroke="#fbe71e" stroke-width="0.7" stroke-linejoin="round" />
<polygon points="1474.0,473.0 1478.9,475.1 1498.9,452.1 1494.0,450.0" fill="#c6b119" stroke="#c6b119" stroke-width="0.7" stroke-linejoin="round" />
<polygon points="1727.6,698.1 1730.3,702.8 1750.3,679.8 1747.6,675.1" fill="#fce81e" stroke="#fce81e" stroke-width="0.7" stroke-linejoin="round" />
<polygon points="1478.9,475.1 1483.8,477.1 1503.8,454.1 1498.9,452.1" fill="#c4af18" stroke="#c4af18" stroke-width="0.7" stroke-linejoin="round" />
<polygon points="1725.1,693.4 1727.6,698.1 1747.6,675.1 1745.1,670.4" fill="#fde91e" stroke="#fde91e" stroke-width="0.7" stroke-linejoin="round" />
<polygon points="1483.8,477.1 1488.8,479.0 1508.8,456.0 1503.8,454.1" fill="#c1ac18" stroke="#c1ac18" stroke-width="0.7" stroke-linejoin="round" />
<polygon points="1722.6,688.7 1725.1,693.4 1745.1,670.4 1742.6,665.7" fill="#fde91e" stroke="#fde91e" stroke-width="0.7" stroke-linejoin="round" />
<polygon points="1488.8,479.0 1493.7,480.7 1513.7,457.7 1508.8,456.0" fill="#bfaa18" stroke="#bfaa18" stroke-width="0.7" stroke-linejoin="round" />
<polygon points="1720.3,683.9 1722.6,688.7 1742.6,665.7 1740.3,660.9" fill="#feea1e" stroke="#feea1e" stroke-width="0.7" stroke-linejoin="round" />
<polygon points="1493.7,480.7 1498.7,482.4 1518.7,459.4 1513.7,457.7" fill="#bda818" stroke="#bda818" stroke-width="0.7" stroke-linejoin="round" />
<polygon points="1718.0,679.0 1720.3,683.9 1740.3,660.9 1738.0,656.0" fill="#feea1e" stroke="#feea1e" stroke-width="0.7" stroke-linejoin="round" />
<polygon points="1498.7,482.4 1503.8,483.9 1523.8,460.9 1518.7,459.4" fill="#bba517" stroke="#bba517" stroke-width="0.7" stroke-linejoin="round" />
<polygon points="1715.9,674.2 1718.0,679.0 1738.0,656.0 1735.9,651.2" fill="#feea1e" stroke="#feea1e" stroke-width="0.7" stroke-linejoin="round" />
<polygon points="1503.8,483.9 1508.8,485.3 1528.8,462.3 1523.8,460.9" fill="#b8a317" stroke="#b8a317" stroke-width="0.7" stroke-linejoin="round" />
<polygon points="1713.9,669.2 1715.9,674.2 1735.9,651.2 1733.9,646.2" fill="#ffeb1e" stroke="#ffeb1e" stroke-width="0.7" stroke-linejoin="round" />
<polygon points="1508.8,485.3 1513.8,486.6 1533.8,463.6 1528.8,462.3" fill="#b6a117" stroke="#b6a117" stroke-width="0.7" stroke-linejoin="round" />
<polygon points="1712.0,664.3 1713.9,669.2 1733.9,646.2 1732.0,641.3" fill="#ffeb1e" stroke="#ffeb1e" stroke-width="0.7" stroke-linejoin="round" />
<polygon points="1513.8,486.6 1518.9,487.8 1538.9,464.8 1533.8,463.6" fill="#b49e17" stroke="#b49e17" stroke-width="0.7" stroke-linejoin="round" />
<polygon points="1710.2,659.3 1712.0,664.3 1732.0,641.3 1730.2,636.3" fill="#ffeb1e" stroke="#ffeb1e" stroke-width="0.7" stroke-linejoin="round" />
<polygon points="1518.9,487.8 1524.0,488.9 1544.0,465.9 1538.9,464.8" fill="#b19c17" stroke="#b19c17" stroke-width="0.7" stroke-linejoin="round" />
<polygon points="1708.5,654.4 1710.2,659.3 1730.2,636.3 1728.5,631.4" fill="#ffeb1e" stroke="#ffeb1e" stroke-width="0.7" stroke-linejoin="round" />
<polygon points="1524.0,488.9 1529.1,489.8 1549.1,466.8 1544.0,465.9" fill="#af9a16" stroke="#af9a16" stroke-width="0.7" stroke-linejoin="round" />
<polygon points="1707.0,649.3 1708.5,654.4 1728.5,631.4 1727.0,626.3" fill="#ffeb1e" stroke="#ffeb1e" stroke-width="0.7" stroke-linejoin="round" />
<polygon points="1529.1,489.8 1534.2,490.6 1554.2,467.6 1549.1,466.8" fill="#ad9816" stroke="#ad9816" stroke-width="0.7" stroke-linejoin="round" />
<polygon points="1705.5,644.3 1707.0,649.3 1727.0,626.3 1725.5,621.3" fill="#ffeb1e" stroke="#ffeb1e" stroke-width="0.7" stroke-linejoin="round" />
<polygon points="1534.2,490.6 1539.2,491.3 1559.2,468.3 1554.2,467.6" fill="#ab9516" stroke="#ab9516" stroke-width="0.7" stroke-linejoin="round" />
<polygon points="1704.2,639.3 1705.5,644.3 1725.5,621.3 1724.2,616.3" fill="#feea1e" stroke="#feea1e" stroke-width="0.7" stroke-linejoin="round" />
<polygon points="1539.2,491.3 1544.3,491.9 1564.3,468.9 1559.2,468.3" fill="#a99316" stroke="#a99316" stroke-width="0.7" stroke-linejoin="round" />
<polygon points="1703.0,634.2 1704.2,639.3 1724.2,616.3 1723.0,611.2" fill="#feea1e" stroke="#feea1e" stroke-width="0.7" stroke-linejoin="round" />
<polygon points="1544.3,491.9 1549.4,492.4 1569.4,469.4 1564.3,468.9" fill="#a79116" stroke="#a79116" stroke-width="0.7" stroke-linejoin="round" />
<polygon points="1701.9,629.1 1703.0,634.2 1723.0,611.2 1721.9,606.1" fill="#feea1e" stroke="#feea1e" stroke-width="0.7" stroke-linejoin="round" />
<polygon points="1549.4,492.4 1554.5,492.7 1574.5,469.7 1569.4,469.4" fill="#a58f15" stroke="#a58f15" stroke-width="0.7" stroke-linejoin="round" />
<polygon points="1700.9,624.1 1701.9,629.1 1721.9,606.1 1720.9,601.1" fill="#fde91e" stroke="#fde91e" stroke-width="0.7" stroke-linejoin="round" />
<polygon points="1554.5,492.7 1559.5,492.9 1579.5,469.9 1574.5,469.7" fill="#a38e15" stroke="#a38e15" stroke-width="0.7" stroke-linejoin="round" />
<polygon points="1700.1,619.0 1700.9,624.1 1720.9,601.1 1720.1,596.0" fill="#fce81e" stroke="#fce81e" stroke-width="0.7" stroke-linejoin="round" />
<polygon points="1559.5,492.9 1564.6,493.0 1584.6,470.0 1579.5,469.9" fill="#a18c15" stroke="#a18c15" stroke-width="0.7" stroke-linejoin="round" />
<polygon points="1699.4,613.9 1700.1,619.0 1720.1,596.0 1719.4,590.9" fill="#fce81e" stroke="#fce81e" stroke-width="0.7" stroke-linejoin="round" />
<polygon points="1564.6,493.0 1569.6,493.0 1589.6,470.0 1584.6,470.0" fill="#a08a15" stroke="#a08a15" stroke-width="0.7" stroke-linejoin="round" />
<polygon points="1698.8,608.8 1699.4,613.9 1719.4,590.9 1718.8,585.8" fill="#fbe71e" stroke="#fbe71e" stroke-width="0.7" stroke-linejoin="round" />
<polygon points="1569.6,493.0 1574.6,492.9 1594.6,469.9 1589.6,470.0" fill="#9e8815" stroke="#9e8815" stroke-width="0.7" stroke-linejoin="round" />
<polygon points="1698.3,603.7 1698.8,608.8 1718.8,585.8 1718.3,580.7" fill="#fae61e" stroke="#fae61e" stroke-width="0.7" stroke-linejoin="round" />
<polygon points="1574.6,492.9 1579.6,492.6 1599.6,469.6 1594.6,469.9" fill="#9d8715" stroke="#9d8715" stroke-width="0.7" stroke-linejoin="round" />
<polygon points="1697.9,598.6 1698.3,603.7 1718.3,580.7 1717.9,575.6" fill="#f9e51d" stroke="#f9e51d" stroke-width="0.7" stroke-linejoin="round" />
<polygon points="1579.6,492.6 1584.6,492.2 1604.6,469.2 1599.6,469.6" fill="#9b8514" stroke="#9b8514" stroke-width="0.7" stroke-linejoin="round" />
<polygon points="1697.6,593.6 1697.9,598.6 1717.9,575.6 1717.6,570.6" fill="#f8e41d" stroke="#f8e41d" stroke-width="0.7" stroke-linejoin="round" />
<polygon points="1584.6,492.2 1589.6,491.7 1609.6,468.7 1604.6,469.2" fill="#9a8414" stroke="#9a8414" stroke-width="0.7" stroke-linejoin="round" />
<polygon points="1697.5,588.5 1697.6,593.6 1717.6,570.6 1717.5,565.5" fill="#f7e31d" stroke="#f7e31d" stroke-width="0.7" stroke-linejoin="round" />
<polygon points="1589.6,491.7 1594.5,491.1 1614.5,468.1 1609.6,468.7" fill="#998314" stroke="#998314" stroke-width="0.7" stroke-linejoin="round" />
<polygon points="1697.5,583.5 1697.5,588.5 1717.5,565.5 1717.5,560.5" fill="#f6e11d" stroke="#f6e11d" stroke-width="0.7" stroke-linejoin="round" />
<polygon points="1594.5,491.1 1599.3,490.3 1619.3,467.3 1614.5,468.1" fill="#988214" stroke="#988214" stroke-width="0.7" stroke-linejoin="round" />
<polygon points="1697.6,578.5 1697.5,583.5 1717.5,560.5 1717.6,555.5" fill="#f4e01d" stroke="#f4e01d" stroke-width="0.7" stroke-linejoin="round" />
<polygon points="1599.3,490.3 1604.2,489.4 1624.2,466.4 1619.3,467.3" fill="#978114" stroke="#978114" stroke-width="0.7" stroke-linejoin="round" />
<polygon points="1697.9,573.5 1697.6,578.5 1717.6,555.5 1717.9,550.5" fill="#f3df1d" stroke="#f3df1d" stroke-width="0.7" stroke-linejoin="round" />
<polygon points="1604.2,489.4 1609.0,488.5 1629.0,465.5 1624.2,466.4" fill="#968014" stroke="#968014" stroke-width="0.7" stroke-linejoin="round" />
<polygon points="1698.2,568.5 1697.9,573.5 1717.9,550.5 1718.2,545.5" fill="#f2dd1d" stroke="#f2dd1d" stroke-width="0.7" stroke-linejoin="round" />
<polygon points="1609.0,488.5 1613.8,487.4 1633.8,464.4 1629.0,465.5" fill="#968014" stroke="#968014" stroke-width="0.7" stroke-linejoin="round" />
<polygon points="1698.7,563.6 1698.2,568.5 1718.2,545.5 1718.7,540.6" fill="#f0dc1d" stroke="#f0dc1d" stroke-width="0.7" stroke-linejoin="round" />
<polygon points="1613.8,487.4 1618.5,486.1 1638.5,463.1 1633.8,464.4" fill="#968014" stroke="#968014" stroke-width="0.7" stroke-linejoin="round" />
<polygon points="1699.3,558.6 1698.7,563.6 1718.7,540.6 1719.3,535.6" fill="#eeda1c" stroke="#eeda1c" stroke-width="0.7" stroke-linejoin="round" />
<polygon points="1618.5,486.1 1623.1,484.8 1643.1,461.8 1638.5,463.1" fill="#968014" stroke="#968014" stroke-width="0.7" stroke-linejoin="round" />
<polygon points="1700.0,553.8 1699.3,558.6 1719.3,535.6 1720.0,530.8" fill="#edd81c" stroke="#edd81c" stroke-width="0.7" stroke-linejoin="round" />
<polygon points="1623.1,484.8 1627.8,483.3 1647.8,460.3 1643.1,461.8" fill="#968014" stroke="#968014" stroke-width="0.7" stroke-linejoin="round" />
<polygon points="1700.9,548.9 1700.0,553.8 1720.0,530.8 1720.9,525.9" fill="#ebd71c" stroke="#ebd71c" stroke-width="0.7" stroke-linejoin="round" />
<polygon points="1627.8,483.3 1632.3,481.7 1652.3,458.7 1647.8,460.3" fill="#968014" stroke="#968014" stroke-width="0.7" stroke-linejoin="round" />
<polygon points="1701.8,544.1 1700.9,548.9 1720.9,525.9 1721.8,521.1" fill="#e9d51c" stroke="#e9d51c" stroke-width="0.7" stroke-linejoin="round" />
<polygon points="1632.3,481.7 1636.9,480.1 1656.9,457.1 1652.3,458.7" fill="#968014" stroke="#968014" stroke-width="0.7" stroke-linejoin="round" />
<polygon points="1702.9,539.3 1701.8,544.1 1721.8,521.1 1722.9,516.3" fill="#e7d31c" stroke="#e7d31c" stroke-width="0.7" stroke-linejoin="round" />
<polygon points="1636.9,480.1 1641.3,478.3 1661.3,455.3 1656.9,457.1" fill="#968014" stroke="#968014" stroke-width="0.7" stroke-linejoin="round" />
<polygon points="1704.1,534.6 1702.9,539.3 1722.9,516.3 1724.1,511.6" fill="#e6d11c" stroke="#e6d11c" stroke-width="0.7" stroke-linejoin="round" />
<polygon points="1641.3,478.3 1645.7,476.3 1665.7,453.3 1661.3,455.3" fill="#968014" stroke="#968014" stroke-width="0.7" stroke-linejoin="round" />
<polygon points="1705.4,529.9 1704.1,534.6 1724.1,511.6 1725.4,506.9" fill="#e4cf1b" stroke="#e4cf1b" stroke-width="0.7" stroke-linejoin="round" />
<polygon points="1645.7,476.3 1650.0,474.3 1670.0,451.3 1665.7,453.3" fill="#968014" stroke="#968014" stroke-width="0.7" stroke-linejoin="round" />
<polygon points="1706.9,525.3 1705.4,529.9 1725.4,506.9 1726.9,502.3" fill="#e2cd1b" stroke="#e2cd1b" stroke-width="0.7" stroke-linejoin="round" />
<polygon points="1650.0,474.3 1654.3,472.2 1674.3,449.2 1670.0,451.3" fill="#968014" stroke="#968014" stroke-width="0.7" stroke-linejoin="round" />
<polygon points="1708.4,520.7 1706.9,525.3 1726.9,502.3 1728.4,497.7" fill="#e0cb1b" stroke="#e0cb1b" stroke-width="0.7" stroke-linejoin="round" />
<polygon points="1654.3,472.2 1658.5,469.9 1678.5,446.9 1674.3,449.2" fill="#968014" stroke="#968014" stroke-width="0.7" stroke-linejoin="round" />
<polygon points="1710.1,516.2 1708.4,520.7 1728.4,497.7 1730.1,493.2" fill="#dec91b" stroke="#dec91b" stroke-width="0.7" stroke-linejoin="round" />
<polygon points="1658.5,469.9 1661.6,468.5 1681.6,445.5 1678.5,446.9" fill="#968014" stroke="#968014" stroke-width="0.7" stroke-linejoin="round" />
<polygon points="1711.1,512.9 1710.1,516.2 1730.1,493.2 1731.1,489.9" fill="#e1cd1b" stroke="#e1cd1b" stroke-width="0.7" stroke-linejoin="round" />
<polygon points="1661.6,468.5 1664.8,467.4 1684.8,444.4 1681.6,445.5" fill="#968014" stroke="#968014" stroke-width="0.7" stroke-linejoin="round" />
<polygon points="1711.8,509.5 1711.1,512.9 1731.1,489.9 1731.8,486.5" fill="#ead51c" stroke="#ead51c" stroke-width="0.7" stroke-linejoin="round" />
<polygon points="1664.8,467.4 1668.2,466.6 1688.2,443.6 1684.8,444.4" fill="#968014" stroke="#968014" stroke-width="0.7" stroke-linejoin="round" />
<polygon points="1712.1,506.0 1711.8,509.5 1731.8,486.5 1732.1,483.0" fill="#f1dd1d" stroke="#f1dd1d" stroke-width="0.7" stroke-linejoin="round" />
<polygon points="1668.2,466.6 1671.6,466.3 1691.6,443.3 1688.2,443.6" fill="#9a8414" stroke="#9a8414" stroke-width="0.7" stroke-linejoin="round" />
<polygon points="1712.0,502.5 1712.1,506.0 1732.1,483.0 1732.0,479.5" fill="#f7e31d" stroke="#f7e31d" stroke-width="0.7" stroke-linejoin="round" />
<polygon points="1671.6,466.3 1675.2,466.3 1695.2,443.3 1691.6,443.3" fill="#a08b15" stroke="#a08b15" stroke-width="0.7" stroke-linejoin="round" />
<polygon points="1711.6,498.9 1712.0,502.5 1732.0,479.5 1731.6,475.9" fill="#fbe71e" stroke="#fbe71e" stroke-width="0.7" stroke-linejoin="round" />
<polygon points="1675.2,466.3 1678.8,466.7 1698.8,443.7 1695.2,443.3" fill="#a99316" stroke="#a99316" stroke-width="0.7" stroke-linejoin="round" />
<polygon points="1710.7,495.3 1711.6,498.9 1731.6,475.9 1730.7,472.3" fill="#feea1e" stroke="#feea1e" stroke-width="0.7" stroke-linejoin="round" />
<polygon points="1678.8,466.7 1682.4,467.4 1702.4,444.4 1698.8,443.7" fill="#b29c17" stroke="#b29c17" stroke-width="0.7" stroke-linejoin="round" />
<polygon points="1709.5,491.8 1710.7,495.3 1730.7,472.3 1729.5,468.8" fill="#ffeb1e" stroke="#ffeb1e" stroke-width="0.7" stroke-linejoin="round" />
<polygon points="1682.4,467.4 1685.9,468.5 1705.9,445.5 1702.4,444.4" fill="#bca618" stroke="#bca618" stroke-width="0.7" stroke-linejoin="round" />
<polygon points="1708.0,488.4 1709.5,491.8 1729.5,468.8 1728.0,465.4" fill="#feea1e" stroke="#feea1e" stroke-width="0.7" stroke-linejoin="round" />
<polygon points="1685.9,468.5 1689.3,470.0 1709.3,447.0 1705.9,445.5" fill="#c6b119" stroke="#c6b119" stroke-width="0.7" stroke-linejoin="round" />
<polygon points="1706.1,485.1 1708.0,488.4 1728.0,465.4 1726.1,462.1" fill="#fce81e" stroke="#fce81e" stroke-width="0.7" stroke-linejoin="round" />
<polygon points="1689.3,470.0 1692.6,471.8 1712.6,448.8 1709.3,447.0" fill="#d0bb1a" stroke="#d0bb1a" stroke-width="0.7" stroke-linejoin="round" />
<polygon points="1703.9,482.0 1706.1,485.1 1726.1,462.1 1723.9,459.0" fill="#f8e41d" stroke="#f8e41d" stroke-width="0.7" stroke-linejoin="round" />
<polygon points="1692.6,471.8 1695.8,474.0 1715.8,451.0 1712.6,448.8" fill="#dac51a" stroke="#dac51a" stroke-width="0.7" stroke-linejoin="round" />
<polygon points="1701.5,479.1 1703.9,482.0 1723.9,459.0 1721.5,456.1" fill="#f2de1d" stroke="#f2de1d" stroke-width="0.7" stroke-linejoin="round" />
<polygon points="1695.8,474.0 1698.8,476.4 1718.8,453.4 1715.8,451.0" fill="#e3cf1b" stroke="#e3cf1b" stroke-width="0.7" stroke-linejoin="round" />
<polygon points="1698.8,476.4 1701.5,479.1 1721.5,456.1 1718.8,453.4" fill="#ebd71c" stroke="#ebd71c" stroke-width="0.7" stroke-linejoin="round" />
<line x1="1484.4" y1="445.5" x2="1489.2" y2="447.8" stroke="#1a1a00" stroke-width="1.2"/>
<line x1="1489.2" y1="447.8" x2="1494.0" y2="450.0" stroke="#1a1a00" stroke-width="1.2"/>
<line x1="1494.0" y1="450.0" x2="1498.9" y2="452.1" stroke="#1a1a00" stroke-width="1.2"/>
<line x1="1498.9" y1="452.1" x2="1503.8" y2="454.1" stroke="#1a1a00" stroke-width="1.2"/>
<line x1="1503.8" y1="454.1" x2="1508.8" y2="456.0" stroke="#1a1a00" stroke-width="1.2"/>
<line x1="1508.8" y1="456.0" x2="1513.7" y2="457.7" stroke="#1a1a00" stroke-width="1.2"/>
<line x1="1513.7" y1="457.7" x2="1518.7" y2="459.4" stroke="#1a1a00" stroke-width="1.2"/>
<line x1="1518.7" y1="459.4" x2="1523.8" y2="460.9" stroke="#1a1a00" stroke-width="1.2"/>
<line x1="1523.8" y1="460.9" x2="1528.8" y2="462.3" stroke="#1a1a00" stroke-width="1.2"/>
<line x1="1528.8" y1="462.3" x2="1533.8" y2="463.6" stroke="#1a1a00" stroke-width="1.2"/>
<line x1="1533.8" y1="463.6" x2="1538.9" y2="464.8" stroke="#1a1a00" stroke-width="1.2"/>
<line x1="1538.9" y1="464.8" x2="1544.0" y2="465.9" stroke="#1a1a00" stroke-width="1.2"/>
<line x1="1544.0" y1="465.9" x2="1549.1" y2="466.8" stroke="#1a1a00" stroke-width="1.2"/>
<line x1="1549.1" y1="466.8" x2="1554.2" y2="467.6" stroke="#1a1a00" stroke-width="1.2"/>
<line x1="1554.2" y1="467.6" x2="1559.2" y2="468.3" stroke="#1a1a00" stroke-width="1.2"/>
<line x1="1559.2" y1="468.3" x2="1564.3" y2="468.9" stroke="#1a1a00" stroke-width="1.2"/>
<line x1="1564.3" y1="468.9" x2="1569.4" y2="469.4" stroke="#1a1a00" stroke-width="1.2"/>
<line x1="1569.4" y1="469.4" x2="1574.5" y2="469.7" stroke="#1a1a00" stroke-width="1.2"/>
<line x1="1574.5" y1="469.7" x2="1579.5" y2="469.9" stroke="#1a1a00" stroke-width="1.2"/>
<line x1="1579.5" y1="469.9" x2="1584.6" y2="470.0" stroke="#1a1a00" stroke-width="1.2"/>
<line x1="1584.6" y1="470.0" x2="1589.6" y2="470.0" stroke="#1a1a00" stroke-width="1.2"/>
<line x1="1589.6" y1="470.0" x2="1594.6" y2="469.9" stroke="#1a1a00" stroke-width="1.2"/>
<line x1="1594.6" y1="469.9" x2="1599.6" y2="469.6" stroke="#1a1a00" stroke-width="1.2"/>
<line x1="1599.6" y1="469.6" x2="1604.6" y2="469.2" stroke="#1a1a00" stroke-width="1.2"/>
<line x1="1604.6" y1="469.2" x2="1609.6" y2="468.7" stroke="#1a1a00" stroke-width="1.2"/>
<line x1="1609.6" y1="468.7" x2="1614.5" y2="468.1" stroke="#1a1a00" stroke-width="1.2"/>
<line x1="1614.5" y1="468.1" x2="1619.3" y2="467.3" stroke="#1a1a00" stroke-width="1.2"/>
<line x1="1619.3" y1="467.3" x2="1624.2" y2="466.4" stroke="#1a1a00" stroke-width="1.2"/>
<line x1="1624.2" y1="466.4" x2="1629.0" y2="465.5" stroke="#1a1a00" stroke-width="1.2"/>
<line x1="1629.0" y1="465.5" x2="1633.8" y2="464.4" stroke="#1a1a00" stroke-width="1.2"/>
<line x1="1633.8" y1="464.4" x2="1638.5" y2="463.1" stroke="#1a1a00" stroke-width="1.2"/>
<line x1="1638.5" y1="463.1" x2="1643.1" y2="461.8" stroke="#1a1a00" stroke-width="1.2"/>
<line x1="1643.1" y1="461.8" x2="1647.8" y2="460.3" stroke="#1a1a00" stroke-width="1.2"/>
<line x1="1647.8" y1="460.3" x2="1652.3" y2="458.7" stroke="#1a1a00" stroke-width="1.2"/>
<line x1="1652.3" y1="458.7" x2="1656.9" y2="457.1" stroke="#1a1a00" stroke-width="1.2"/>
<line x1="1656.9" y1="457.1" x2="1661.3" y2="455.3" stroke="#1a1a00" stroke-width="1.2"/>
<line x1="1661.3" y1="455.3" x2="1665.7" y2="453.3" stroke="#1a1a00" stroke-width="1.2"/>
<line x1="1665.7" y1="453.3" x2="1670.0" y2="451.3" stroke="#1a1a00" stroke-width="1.2"/>
<line x1="1670.0" y1="451.3" x2="1674.3" y2="449.2" stroke="#1a1a00" stroke-width="1.2"/>
<line x1="1674.3" y1="449.2" x2="1678.5" y2="446.9" stroke="#1a1a00" stroke-width="1.2"/>
<line x1="1678.5" y1="446.9" x2="1681.6" y2="445.5" stroke="#1a1a00" stroke-width="1.2"/>
<line x1="1681.6" y1="445.5" x2="1684.8" y2="444.4" stroke="#1a1a00" stroke-width="1.2"/>
<line x1="1684.8" y1="444.4" x2="1688.2" y2="443.6" stroke="#1a1a00" stroke-width="1.2"/>
<line x1="1688.2" y1="443.6" x2="1691.6" y2="443.3" stroke="#1a1a00" stroke-width="1.2"/>
<line x1="1691.6" y1="443.3" x2="1695.2" y2="443.3" stroke="#1a1a00" stroke-width="1.2"/>
<line x1="1695.2" y1="443.3" x2="1698.8" y2="443.7" stroke="#1a1a00" stroke-width="1.2"/>
<line x1="1698.8" y1="443.7" x2="1702.4" y2="444.4" stroke="#1a1a00" stroke-width="1.2"/>
<line x1="1702.4" y1="444.4" x2="1705.9" y2="445.5" stroke="#1a1a00" stroke-width="1.2"/>
<line x1="1705.9" y1="445.5" x2="1709.3" y2="447.0" stroke="#1a1a00" stroke-width="1.2"/>
<line x1="1709.3" y1="447.0" x2="1712.6" y2="448.8" stroke="#1a1a00" stroke-width="1.2"/>
<line x1="1712.6" y1="448.8" x2="1715.8" y2="451.0" stroke="#1a1a00" stroke-width="1.2"/>
<line x1="1715.8" y1="451.0" x2="1718.8" y2="453.4" stroke="#1a1a00" stroke-width="1.2"/>
<line x1="1718.8" y1="453.4" x2="1721.5" y2="456.1" stroke="#1a1a00" stroke-width="1.2"/>
<line x1="1721.5" y1="456.1" x2="1723.9" y2="459.0" stroke="#1a1a00" stroke-width="1.2"/>
<line x1="1723.9" y1="459.0" x2="1726.1" y2="462.1" stroke="#1a1a00" stroke-width="1.2"/>
<line x1="1726.1" y1="462.1" x2="1728.0" y2="465.4" stroke="#1a1a00" stroke-width="1.2"/>
<line x1="1728.0" y1="465.4" x2="1729.5" y2="468.8" stroke="#1a1a00" stroke-width="1.2"/>
<line x1="1729.5" y1="468.8" x2="1730.7" y2="472.3" stroke="#1a1a00" stroke-width="1.2"/>
<line x1="1730.7" y1="472.3" x2="1731.6" y2="475.9" stroke="#1a1a00" stroke-width="1.2"/>
<line x1="1731.6" y1="475.9" x2="1732.0" y2="479.5" stroke="#1a1a00" stroke-width="1.2"/>
<line x1="1732.0" y1="479.5" x2="1732.1" y2="483.0" stroke="#1a1a00" stroke-width="1.2"/>
<line x1="1732.1" y1="483.0" x2="1731.8" y2="486.5" stroke="#1a1a00" stroke-width="1.2"/>
<line x1="1731.8" y1="486.5" x2="1731.1" y2="489.9" stroke="#1a1a00" stroke-width="1.2"/>
<line x1="1731.1" y1="489.9" x2="1730.1" y2="493.2" stroke="#1a1a00" stroke-width="1.2"/>
<line x1="1730.1" y1="493.2" x2="1728.4" y2="497.7" stroke="#1a1a00" stroke-width="1.2"/>
<line x1="1728.4" y1="497.7" x2="1726.9" y2="502.3" stroke="#1a1a00" stroke-width="1.2"/>
<line x1="1726.9" y1="502.3" x2="1725.4" y2="506.9" stroke="#1a1a00" stroke-width="1.2"/>
<line x1="1725.4" y1="506.9" x2="1724.1" y2="511.6" stroke="#1a1a00" stroke-width="1.2"/>
<line x1="1724.1" y1="511.6" x2="1722.9" y2="516.3" stroke="#1a1a00" stroke-width="1.2"/>
<line x1="1722.9" y1="516.3" x2="1721.8" y2="521.1" stroke="#1a1a00" stroke-width="1.2"/>
<line x1="1721.8" y1="521.1" x2="1720.9" y2="525.9" stroke="#1a1a00" stroke-width="1.2"/>
<line x1="1720.9" y1="525.9" x2="1720.0" y2="530.8" stroke="#1a1a00" stroke-width="1.2"/>
<line x1="1720.0" y1="530.8" x2="1719.3" y2="535.6" stroke="#1a1a00" stroke-width="1.2"/>
<line x1="1719.3" y1="535.6" x2="1718.7" y2="540.6" stroke="#1a1a00" stroke-width="1.2"/>
<line x1="1718.7" y1="540.6" x2="1718.2" y2="545.5" stroke="#1a1a00" stroke-width="1.2"/>
<line x1="1718.2" y1="545.5" x2="1717.9" y2="550.5" stroke="#1a1a00" stroke-width="1.2"/>
<line x1="1717.9" y1="550.5" x2="1717.6" y2="555.5" stroke="#1a1a00" stroke-width="1.2"/>
<line x1="1717.6" y1="555.5" x2="1717.5" y2="560.5" stroke="#1a1a00" stroke-width="1.2"/>
<line x1="1717.5" y1="560.5" x2="1717.5" y2="565.5" stroke="#1a1a00" stroke-width="1.2"/>
<line x1="1717.5" y1="565.5" x2="1717.6" y2="570.6" stroke="#1a1a00" stroke-width="1.2"/>
<line x1="1717.6" y1="570.6" x2="1717.9" y2="575.6" stroke="#1a1a00" stroke-width="1.2"/>
<line x1="1717.9" y1="575.6" x2="1718.3" y2="580.7" stroke="#1a1a00" stroke-width="1.2"/>
<line x1="1718.3" y1="580.7" x2="1718.8" y2="585.8" stroke="#1a1a00" stroke-width="1.2"/>
<line x1="1718.8" y1="585.8" x2="1719.4" y2="590.9" stroke="#1a1a00" stroke-width="1.2"/>
<line x1="1719.4" y1="590.9" x2="1720.1" y2="596.0" stroke="#1a1a00" stroke-width="1.2"/>
<line x1="1720.1" y1="596.0" x2="1720.9" y2="601.1" stroke="#1a1a00" stroke-width="1.2"/>
<line x1="1720.9" y1="601.1" x2="1721.9" y2="606.1" stroke="#1a1a00" stroke-width="1.2"/>
<line x1="1721.9" y1="606.1" x2="1723.0" y2="611.2" stroke="#1a1a00" stroke-width="1.2"/>
<line x1="1723.0" y1="611.2" x2="1724.2" y2="616.3" stroke="#1a1a00" stroke-width="1.2"/>
<line x1="1724.2" y1="616.3" x2="1725.5" y2="621.3" stroke="#1a1a00" stroke-width="1.2"/>
<line x1="1725.5" y1="621.3" x2="1727.0" y2="626.3" stroke="#1a1a00" stroke-width="1.2"/>
<line x1="1727.0" y1="626.3" x2="1728.5" y2="631.4" stroke="#1a1a00" stroke-width="1.2"/>
<line x1="1728.5" y1="631.4" x2="1730.2" y2="636.3" stroke="#1a1a00" stroke-width="1.2"/>
<line x1="1730.2" y1="636.3" x2="1732.0" y2="641.3" stroke="#1a1a00" stroke-width="1.2"/>
<line x1="1732.0" y1="641.3" x2="1733.9" y2="646.2" stroke="#1a1a00" stroke-width="1.2"/>
<line x1="1733.9" y1="646.2" x2="1735.9" y2="651.2" stroke="#1a1a00" stroke-width="1.2"/>
<line x1="1735.9" y1="651.2" x2="1738.0" y2="656.0" stroke="#1a1a00" stroke-width="1.2"/>
<line x1="1738.0" y1="656.0" x2="1740.3" y2="660.9" stroke="#1a1a00" stroke-width="1.2"/>
<line x1="1740.3" y1="660.9" x2="1742.6" y2="665.7" stroke="#1a1a00" stroke-width="1.2"/>
<line x1="1742.6" y1="665.7" x2="1745.1" y2="670.4" stroke="#1a1a00" stroke-width="1.2"/>
<line x1="1745.1" y1="670.4" x2="1747.6" y2="675.1" stroke="#1a1a00" stroke-width="1.2"/>
<line x1="1747.6" y1="675.1" x2="1750.3" y2="679.8" stroke="#1a1a00" stroke-width="1.2"/>
<line x1="1750.3" y1="679.8" x2="1753.0" y2="684.4" stroke="#1a1a00" stroke-width="1.2"/>
<line x1="1753.0" y1="684.4" x2="1755.9" y2="689.0" stroke="#1a1a00" stroke-width="1.2"/>
<line x1="1755.9" y1="689.0" x2="1757.8" y2="692.2" stroke="#1a1a00" stroke-width="1.2"/>
<line x1="1757.8" y1="692.2" x2="1759.4" y2="695.6" stroke="#1a1a00" stroke-width="1.2"/>
<line x1="1759.4" y1="695.6" x2="1760.6" y2="699.2" stroke="#1a1a00" stroke-width="1.2"/>
<line x1="1760.6" y1="699.2" x2="1761.4" y2="702.7" stroke="#1a1a00" stroke-width="1.2"/>
<line x1="1761.4" y1="702.7" x2="1761.9" y2="706.3" stroke="#1a1a00" stroke-width="1.2"/>
<line x1="1761.9" y1="706.3" x2="1762.0" y2="709.9" stroke="#1a1a00" stroke-width="1.2"/>
<line x1="1762.0" y1="709.9" x2="1761.8" y2="713.4" stroke="#1a1a00" stroke-width="1.2"/>
<line x1="1761.8" y1="713.4" x2="1761.1" y2="716.8" stroke="#1a1a00" stroke-width="1.2"/>
<line x1="1761.1" y1="716.8" x2="1760.1" y2="720.0" stroke="#1a1a00" stroke-width="1.2"/>
<line x1="1760.1" y1="720.0" x2="1758.8" y2="723.1" stroke="#1a1a00" stroke-width="1.2"/>
<line x1="1758.8" y1="723.1" x2="1757.0" y2="726.0" stroke="#1a1a00" stroke-width="1.2"/>
<line x1="1757.0" y1="726.0" x2="1755.0" y2="728.7" stroke="#1a1a00" stroke-width="1.2"/>
<line x1="1445.8" y1="451.3" x2="1448.1" y2="449.0" stroke="#1a1a00" stroke-width="1.2"/>
<line x1="1448.1" y1="449.0" x2="1450.7" y2="446.9" stroke="#1a1a00" stroke-width="1.2"/>
<line x1="1450.7" y1="446.9" x2="1453.6" y2="445.1" stroke="#1a1a00" stroke-width="1.2"/>
<line x1="1453.6" y1="445.1" x2="1456.6" y2="443.7" stroke="#1a1a00" stroke-width="1.2"/>
<line x1="1456.6" y1="443.7" x2="1459.8" y2="442.6" stroke="#1a1a00" stroke-width="1.2"/>
<line x1="1459.8" y1="442.6" x2="1463.2" y2="441.9" stroke="#1a1a00" stroke-width="1.2"/>
<line x1="1463.2" y1="441.9" x2="1466.7" y2="441.6" stroke="#1a1a00" stroke-width="1.2"/>
<line x1="1466.7" y1="441.6" x2="1470.3" y2="441.6" stroke="#1a1a00" stroke-width="1.2"/>
<line x1="1470.3" y1="441.6" x2="1473.9" y2="442.0" stroke="#1a1a00" stroke-width="1.2"/>
<line x1="1473.9" y1="442.0" x2="1477.4" y2="442.8" stroke="#1a1a00" stroke-width="1.2"/>
<line x1="1477.4" y1="442.8" x2="1481.0" y2="444.0" stroke="#1a1a00" stroke-width="1.2"/>
<line x1="1481.0" y1="444.0" x2="1484.4" y2="445.5" stroke="#1a1a00" stroke-width="1.2"/>
<polygon points="1464.4,468.5 1469.2,470.8 1474.0,473.0 1478.9,475.1 1483.8,477.1 1488.8,479.0 1493.7,480.7 1498.7,482.4 1503.8,483.9 1508.8,485.3 1513.8,486.6 1518.9,487.8 1524.0,488.9 1529.1,489.8 1534.2,490.6 1539.2,491.3 1544.3,491.9 1549.4,492.4 1554.5,492.7 1559.5,492.9 1564.6,493.0 1569.6,493.0 1574.6,492.9 1579.6,492.6 1584.6,492.2 1589.6,491.7 1594.5,491.1 1599.3,490.3 1604.2,489.4 1609.0,488.5 1613.8,487.4 1618.5,486.1 1623.1,484.8 1627.8,483.3 1632.3,481.7 1636.9,480.1 1641.3,478.3 1645.7,476.3 1650.0,474.3 1654.3,472.2 1658.5,469.9 1661.6,468.5 1664.8,467.4 1668.2,466.6 1671.6,466.3 1675.2,466.3 1678.8,466.7 1682.4,467.4 1685.9,468.5 1689.3,470.0 1692.6,471.8 1695.8,474.0 1698.8,476.4 1701.5,479.1 1703.9,482.0 1706.1,485.1 1708.0,488.4 1709.5,491.8 1710.7,495.3 1711.6,498.9 1712.0,502.5 1712.1,506.0 1711.8,509.5 1711.1,512.9 1710.1,516.2 1708.4,520.7 1706.9,525.3 1705.4,529.9 1704.1,534.6 1702.9,539.3 1701.8,544.1 1700.9,548.9 1700.0,553.8 1699.3,558.6 1698.7,563.6 1698.2,568.5 1697.9,573.5 1697.6,578.5 1697.5,583.5 1697.5,588.5 1697.6,593.6 1697.9,598.6 1698.3,603.7 1698.8,608.8 1699.4,613.9 1700.1,619.0 1700.9,624.1 1701.9,629.1 1703.0,634.2 1704.2,639.3 1705.5,644.3 1707.0,649.3 1708.5,654.4 1710.2,659.3 1712.0,664.3 1713.9,669.2 1715.9,674.2 1718.0,679.0 1720.3,683.9 1722.6,688.7 1725.1,693.4 1727.6,698.1 1730.3,702.8 1733.0,707.4 1735.9,712.0 1737.8,715.2 1739.4,718.6 1740.6,722.2 1741.4,725.7 1741.9,729.3 1742.0,732.9 1741.8,736.4 1741.1,739.8 1740.1,743.0 1738.8,746.1 1737.0,749.0 1735.0,751.7 1732.7,754.0 1730.1,756.1 1727.2,757.9 1724.2,759.3 1721.0,760.4 1717.6,761.1 1714.1,761.4 1710.5,761.4 1706.9,761.0 1703.4,760.2 1699.8,759.0 1696.4,757.5 1691.6,755.2 1686.8,753.0 1681.9,750.9 1677.0,748.9 1672.0,747.0 1667.1,745.3 1662.1,743.6 1657.0,742.1 1652.0,740.7 1647.0,739.4 1641.9,738.2 1636.8,737.1 1631.7,736.2 1626.6,735.4 1621.6,734.7 1616.5,734.1 1611.4,733.6 1606.3,733.3 1601.3,733.1 1596.2,733.0 1591.2,733.0 1586.2,733.1 1581.2,733.4 1576.2,733.8 1571.2,734.3 1566.3,734.9 1561.5,735.7 1556.6,736.6 1551.8,737.5 1547.0,738.6 1542.3,739.9 1537.7,741.2 1533.0,742.7 1528.5,744.3 1523.9,745.9 1519.5,747.7 1515.1,749.7 1510.8,751.7 1506.5,753.8 1502.3,756.1 1499.2,757.5 1496.0,758.6 1492.6,759.4 1489.2,759.7 1485.6,759.7 1482.0,759.3 1478.4,758.6 1474.9,757.5 1471.5,756.0 1468.2,754.2 1465.0,752.0 1462.0,749.6 1459.3,746.9 1456.9,744.0 1454.7,740.9 1452.8,737.6 1451.3,734.2 1450.1,730.7 1449.2,727.1 1448.8,723.5 1448.7,720.0 1449.0,716.5 1449.7,713.1 1450.7,709.8 1452.4,705.3 1453.9,700.7 1455.4,696.1 1456.7,691.4 1457.9,686.7 1459.0,681.9 1459.9,677.1 1460.8,672.2 1461.5,667.4 1462.1,662.4 1462.6,657.5 1462.9,652.5 1463.2,647.5 1463.3,642.5 1463.3,637.5 1463.2,632.4 1462.9,627.4 1462.5,622.3 1462.0,617.2 1461.4,612.1 1460.7,607.0 1459.9,601.9 1458.9,596.9 1457.8,591.8 1456.6,586.7 1455.3,581.7 1453.8,576.7 1452.3,571.6 1450.6,566.7 1448.8,561.7 1446.9,556.8 1444.9,551.8 1442.8,547.0 1440.5,542.1 1438.2,537.3 1435.7,532.6 1433.2,527.9 1430.5,523.2 1427.8,518.6 1424.9,514.0 1423.0,510.8 1421.4,507.4 1420.2,503.8 1419.4,500.3 1418.9,496.7 1418.8,493.1 1419.0,489.6 1419.7,486.2 1420.7,483.0 1422.0,479.9 1423.8,477.0 1425.8,474.3 1428.1,472.0 1430.7,469.9 1433.6,468.1 1436.6,466.7 1439.8,465.6 1443.2,464.9 1446.7,464.6 1450.3,464.6 1453.9,465.0 1457.4,465.8 1461.0,467.0" fill="#706400" stroke="#111" stroke-width="1.2" stroke-linejoin="round" />
<defs><clipPath id="pkclip"><path d="M1489.8,493.7 L1493.6,495.0 L1497.4,496.2 L1501.2,497.4 L1505.0,498.5 L1508.8,499.5 L1512.6,500.5 L1516.5,501.4 L1520.3,502.2 L1524.2,503.0 L1528.0,503.7 L1531.9,504.3 L1535.7,504.9 L1539.6,505.4 L1543.4,505.9 L1547.3,506.3 L1551.1,506.6 L1555.0,506.8 L1558.8,507.0 L1562.6,507.2 L1566.5,507.2 L1570.3,507.2 L1574.1,507.1 L1577.9,507.0 L1581.7,506.8 L1585.4,506.5 L1589.2,506.2 L1592.9,505.8 L1596.7,505.4 L1600.4,504.8 L1604.1,504.2 L1607.7,503.6 L1611.4,502.9 L1615.0,502.1 L1618.6,501.2 L1622.2,500.3 L1625.7,499.4 L1629.3,498.3 L1632.8,497.2 L1636.3,496.1 L1639.7,494.8 L1639.9,499.2 L1640.7,503.6 L1641.9,508.0 L1643.6,512.3 L1645.8,516.4 L1648.4,520.2 L1651.4,523.9 L1654.7,527.2 L1658.4,530.1 L1662.3,532.7 L1666.4,534.8 L1670.7,536.5 L1675.1,537.7 L1679.5,538.4 L1683.9,538.6 L1688.2,538.3 L1687.4,541.9 L1686.7,545.6 L1686.1,549.3 L1685.5,553.0 L1685.0,556.7 L1684.6,560.4 L1684.2,564.1 L1683.9,567.9 L1683.6,571.7 L1683.5,575.5 L1683.4,579.3 L1683.3,583.1 L1683.3,586.9 L1683.4,590.7 L1683.6,594.5 L1683.8,598.4 L1684.1,602.2 L1684.4,606.1 L1684.8,609.9 L1685.3,613.8 L1685.8,617.6 L1686.4,621.5 L1687.1,625.3 L1687.8,629.2 L1688.6,633.0 L1689.5,636.9 L1690.4,640.7 L1691.4,644.5 L1692.5,648.3 L1693.6,652.1 L1694.7,655.9 L1696.0,659.7 L1697.3,663.5 L1698.6,667.3 L1700.1,671.0 L1701.5,674.7 L1703.1,678.4 L1704.7,682.1 L1706.4,685.8 L1708.1,689.5 L1703.7,689.1 L1699.3,689.2 L1695.1,689.9 L1691.0,691.0 L1687.2,692.6 L1683.6,694.7 L1680.4,697.2 L1677.5,700.1 L1675.0,703.4 L1673.0,707.0 L1671.4,710.8 L1670.3,714.9 L1669.7,719.1 L1669.6,723.5 L1670.1,727.9 L1671.0,732.3 L1667.2,731.0 L1663.4,729.8 L1659.6,728.6 L1655.8,727.5 L1652.0,726.5 L1648.2,725.5 L1644.3,724.6 L1640.5,723.8 L1636.6,723.0 L1632.8,722.3 L1628.9,721.7 L1625.1,721.1 L1621.2,720.6 L1617.4,720.1 L1613.5,719.7 L1609.7,719.4 L1605.8,719.2 L1602.0,719.0 L1598.2,718.8 L1594.3,718.8 L1590.5,718.8 L1586.7,718.9 L1582.9,719.0 L1579.1,719.2 L1575.4,719.5 L1571.6,719.8 L1567.9,720.2 L1564.1,720.6 L1560.4,721.2 L1556.7,721.8 L1553.1,722.4 L1549.4,723.1 L1545.8,723.9 L1542.2,724.8 L1538.6,725.7 L1535.1,726.6 L1531.5,727.7 L1528.0,728.8 L1524.5,729.9 L1521.1,731.2 L1520.9,726.8 L1520.1,722.4 L1518.9,718.0 L1517.2,713.7 L1515.0,709.6 L1512.4,705.8 L1509.4,702.1 L1506.1,698.8 L1502.4,695.9 L1498.5,693.3 L1494.4,691.2 L1490.1,689.5 L1485.7,688.3 L1481.3,687.6 L1476.9,687.4 L1472.6,687.7 L1473.4,684.1 L1474.1,680.4 L1474.7,676.7 L1475.3,673.0 L1475.8,669.3 L1476.2,665.6 L1476.6,661.9 L1476.9,658.1 L1477.2,654.3 L1477.3,650.5 L1477.4,646.7 L1477.5,642.9 L1477.5,639.1 L1477.4,635.3 L1477.2,631.5 L1477.0,627.6 L1476.7,623.8 L1476.4,619.9 L1476.0,616.1 L1475.5,612.2 L1475.0,608.4 L1474.4,604.5 L1473.7,600.7 L1473.0,596.8 L1472.2,593.0 L1471.3,589.1 L1470.4,585.3 L1469.4,581.5 L1468.3,577.7 L1467.2,573.9 L1466.1,570.1 L1464.8,566.3 L1463.5,562.5 L1462.2,558.7 L1460.7,555.0 L1459.3,551.3 L1457.7,547.6 L1456.1,543.9 L1454.4,540.2 L1452.7,536.5 L1457.1,536.9 L1461.5,536.8 L1465.7,536.1 L1469.8,535.0 L1473.6,533.4 L1477.2,531.3 L1480.4,528.8 L1483.3,525.9 L1485.8,522.6 L1487.8,519.0 L1489.4,515.2 L1490.5,511.1 L1491.1,506.9 L1491.2,502.5 L1490.7,498.1 Z"/></clipPath></defs>
<g clip-path="url(#pkclip)">
<path d="M1489.8,493.7 L1493.6,495.0 L1497.4,496.2 L1501.2,497.4 L1505.0,498.5 L1508.8,499.5 L1512.6,500.5 L1516.5,501.4 L1520.3,502.2 L1524.2,503.0 L1528.0,503.7 L1531.9,504.3 L1535.7,504.9 L1539.6,505.4 L1543.4,505.9 L1547.3,506.3 L1551.1,506.6 L1555.0,506.8 L1558.8,507.0 L1562.6,507.2 L1566.5,507.2 L1570.3,507.2 L1574.1,507.1 L1577.9,507.0 L1581.7,506.8 L1585.4,506.5 L1589.2,506.2 L1592.9,505.8 L1596.7,505.4 L1600.4,504.8 L1604.1,504.2 L1607.7,503.6 L1611.4,502.9 L1615.0,502.1 L1618.6,501.2 L1622.2,500.3 L1625.7,499.4 L1629.3,498.3 L1632.8,497.2 L1636.3,496.1 L1639.7,494.8 L1639.9,499.2 L1640.7,503.6 L1641.9,508.0 L1643.6,512.3 L1645.8,516.4 L1648.4,520.2 L1651.4,523.9 L1654.7,527.2 L1658.4,530.1 L1662.3,532.7 L1666.4,534.8 L1670.7,536.5 L1675.1,537.7 L1679.5,538.4 L1683.9,538.6 L1688.2,538.3 L1687.4,541.9 L1686.7,545.6 L1686.1,549.3 L1685.5,553.0 L1685.0,556.7 L1684.6,560.4 L1684.2,564.1 L1683.9,567.9 L1683.6,571.7 L1683.5,575.5 L1683.4,579.3 L1683.3,583.1 L1683.3,586.9 L1683.4,590.7 L1683.6,594.5 L1683.8,598.4 L1684.1,602.2 L1684.4,606.1 L1684.8,609.9 L1685.3,613.8 L1685.8,617.6 L1686.4,621.5 L1687.1,625.3 L1687.8,629.2 L1688.6,633.0 L1689.5,636.9 L1690.4,640.7 L1691.4,644.5 L1692.5,648.3 L1693.6,652.1 L1694.7,655.9 L1696.0,659.7 L1697.3,663.5 L1698.6,667.3 L1700.1,671.0 L1701.5,674.7 L1703.1,678.4 L1704.7,682.1 L1706.4,685.8 L1708.1,689.5 L1703.7,689.1 L1699.3,689.2 L1695.1,689.9 L1691.0,691.0 L1687.2,692.6 L1683.6,694.7 L1680.4,697.2 L1677.5,700.1 L1675.0,703.4 L1673.0,707.0 L1671.4,710.8 L1670.3,714.9 L1669.7,719.1 L1669.6,723.5 L1670.1,727.9 L1671.0,732.3 L1667.2,731.0 L1663.4,729.8 L1659.6,728.6 L1655.8,727.5 L1652.0,726.5 L1648.2,725.5 L1644.3,724.6 L1640.5,723.8 L1636.6,723.0 L1632.8,722.3 L1628.9,721.7 L1625.1,721.1 L1621.2,720.6 L1617.4,720.1 L1613.5,719.7 L1609.7,719.4 L1605.8,719.2 L1602.0,719.0 L1598.2,718.8 L1594.3,718.8 L1590.5,718.8 L1586.7,718.9 L1582.9,719.0 L1579.1,719.2 L1575.4,719.5 L1571.6,719.8 L1567.9,720.2 L1564.1,720.6 L1560.4,721.2 L1556.7,721.8 L1553.1,722.4 L1549.4,723.1 L1545.8,723.9 L1542.2,724.8 L1538.6,725.7 L1535.1,726.6 L1531.5,727.7 L1528.0,728.8 L1524.5,729.9 L1521.1,731.2 L1520.9,726.8 L1520.1,722.4 L1518.9,718.0 L1517.2,713.7 L1515.0,709.6 L1512.4,705.8 L1509.4,702.1 L1506.1,698.8 L1502.4,695.9 L1498.5,693.3 L1494.4,691.2 L1490.1,689.5 L1485.7,688.3 L1481.3,687.6 L1476.9,687.4 L1472.6,687.7 L1473.4,684.1 L1474.1,680.4 L1474.7,676.7 L1475.3,673.0 L1475.8,669.3 L1476.2,665.6 L1476.6,661.9 L1476.9,658.1 L1477.2,654.3 L1477.3,650.5 L1477.4,646.7 L1477.5,642.9 L1477.5,639.1 L1477.4,635.3 L1477.2,631.5 L1477.0,627.6 L1476.7,623.8 L1476.4,619.9 L1476.0,616.1 L1475.5,612.2 L1475.0,608.4 L1474.4,604.5 L1473.7,600.7 L1473.0,596.8 L1472.2,593.0 L1471.3,589.1 L1470.4,585.3 L1469.4,581.5 L1468.3,577.7 L1467.2,573.9 L1466.1,570.1 L1464.8,566.3 L1463.5,562.5 L1462.2,558.7 L1460.7,555.0 L1459.3,551.3 L1457.7,547.6 L1456.1,543.9 L1454.4,540.2 L1452.7,536.5 L1457.1,536.9 L1461.5,536.8 L1465.7,536.1 L1469.8,535.0 L1473.6,533.4 L1477.2,531.3 L1480.4,528.8 L1483.3,525.9 L1485.8,522.6 L1487.8,519.0 L1489.4,515.2 L1490.5,511.1 L1491.1,506.9 L1491.2,502.5 L1490.7,498.1 Z" fill="#706400"/>
<polygon points="1503.8,477.6 1507.6,478.9 1511.4,480.1 1515.2,481.3 1519.0,482.4 1522.8,483.4 1526.6,484.4 1530.5,485.3 1534.3,486.1 1538.2,486.9 1542.0,487.6 1545.9,488.2 1549.7,488.8 1553.6,489.3 1557.4,489.8 1561.3,490.2 1565.1,490.5 1569.0,490.7 1572.8,490.9 1576.6,491.1 1580.5,491.1 1584.3,491.1 1588.1,491.0 1591.9,490.9 1595.7,490.7 1599.4,490.4 1603.2,490.1 1606.9,489.7 1610.7,489.3 1614.4,488.7 1618.1,488.1 1621.7,487.5 1625.4,486.8 1629.0,486.0 1632.6,485.1 1636.2,484.2 1639.7,483.3 1643.3,482.2 1646.8,481.1 1650.3,480.0 1653.7,478.7 1653.9,483.1 1654.7,487.5 1655.9,491.9 1657.6,496.2 1659.8,500.3 1662.4,504.1 1665.4,507.8 1668.7,511.1 1672.4,514.0 1676.3,516.6 1680.4,518.7 1684.7,520.4 1689.1,521.6 1693.5,522.3 1697.9,522.5 1702.2,522.2 1701.4,525.8 1700.7,529.5 1700.1,533.2 1699.5,536.9 1699.0,540.6 1698.6,544.3 1698.2,548.0 1697.9,551.8 1697.6,555.6 1697.5,559.4 1697.4,563.2 1697.3,567.0 1697.3,570.8 1697.4,574.6 1697.6,578.4 1697.8,582.3 1698.1,586.1 1698.4,590.0 1698.8,593.8 1699.3,597.7 1699.8,601.5 1700.4,605.4 1701.1,609.2 1701.8,613.1 1702.6,616.9 1703.5,620.8 1704.4,624.6 1705.4,628.4 1706.5,632.2 1707.6,636.0 1708.7,639.8 1710.0,643.6 1711.3,647.4 1712.6,651.2 1714.1,654.9 1715.5,658.6 1717.1,662.3 1718.7,666.0 1720.4,669.7 1722.1,673.4 1717.7,673.0 1713.3,673.1 1709.1,673.8 1705.0,674.9 1701.2,676.5 1697.6,678.6 1694.4,681.1 1691.5,684.0 1689.0,687.3 1687.0,690.9 1685.4,694.7 1684.3,698.8 1683.7,703.0 1683.6,707.4 1684.1,711.8 1685.0,716.2 1681.2,714.9 1677.4,713.7 1673.6,712.5 1669.8,711.4 1666.0,710.4 1662.2,709.4 1658.3,708.5 1654.5,707.7 1650.6,706.9 1646.8,706.2 1642.9,705.6 1639.1,705.0 1635.2,704.5 1631.4,704.0 1627.5,703.6 1623.7,703.3 1619.8,703.1 1616.0,702.9 1612.2,702.7 1608.3,702.7 1604.5,702.7 1600.7,702.8 1596.9,702.9 1593.1,703.1 1589.4,703.4 1585.6,703.7 1581.9,704.1 1578.1,704.5 1574.4,705.1 1570.7,705.7 1567.1,706.3 1563.4,707.0 1559.8,707.8 1556.2,708.7 1552.6,709.6 1549.1,710.5 1545.5,711.6 1542.0,712.7 1538.5,713.8 1535.1,715.1 1534.9,710.7 1534.1,706.3 1532.9,701.9 1531.2,697.6 1529.0,693.5 1526.4,689.7 1523.4,686.0 1520.1,682.7 1516.4,679.8 1512.5,677.2 1508.4,675.1 1504.1,673.4 1499.7,672.2 1495.3,671.5 1490.9,671.3 1486.6,671.6 1487.4,668.0 1488.1,664.3 1488.7,660.6 1489.3,656.9 1489.8,653.2 1490.2,649.5 1490.6,645.8 1490.9,642.0 1491.2,638.2 1491.3,634.4 1491.4,630.6 1491.5,626.8 1491.5,623.0 1491.4,619.2 1491.2,615.4 1491.0,611.5 1490.7,607.7 1490.4,603.8 1490.0,600.0 1489.5,596.1 1489.0,592.3 1488.4,588.4 1487.7,584.6 1487.0,580.7 1486.2,576.9 1485.3,573.0 1484.4,569.2 1483.4,565.4 1482.3,561.6 1481.2,557.8 1480.1,554.0 1478.8,550.2 1477.5,546.4 1476.2,542.6 1474.7,538.9 1473.3,535.2 1471.7,531.5 1470.1,527.8 1468.4,524.1 1466.7,520.4 1471.1,520.8 1475.5,520.7 1479.7,520.0 1483.8,518.9 1487.6,517.3 1491.2,515.2 1494.4,512.7 1497.3,509.8 1499.8,506.5 1501.8,502.9 1503.4,499.1 1504.5,495.0 1505.1,490.8 1505.2,486.4 1504.7,482.0" fill="#c81818" stroke="#300" stroke-width="0.8" stroke-linejoin="round" />
<polygon points="1514.7,488.2 1518.1,489.2 1521.4,490.1 1524.8,491.0 1528.2,491.8 1531.6,492.6 1535.0,493.3 1538.4,494.0 1541.8,494.7 1545.2,495.2 1548.6,495.8 1552.0,496.3 1555.4,496.7 1558.8,497.1 1562.2,497.5 1565.6,497.7 1569.0,498.0 1572.4,498.2 1575.8,498.3 1579.2,498.4 1582.6,498.5 1586.0,498.5 1589.3,498.4 1592.7,498.3 1596.0,498.2 1599.4,498.0 1602.7,497.8 1606.0,497.5 1609.3,497.1 1612.6,496.7 1615.9,496.3 1619.2,495.8 1622.4,495.3 1625.7,494.7 1628.9,494.0 1632.1,493.3 1635.3,492.6 1638.5,491.8 1641.6,491.0 1644.8,490.1 1647.9,489.2 1649.1,492.9 1650.5,496.6 1652.2,500.2 1654.2,503.6 1656.5,506.9 1659.0,510.1 1661.7,513.1 1664.6,515.9 1667.7,518.5 1670.9,520.8 1674.3,523.0 1677.8,524.8 1681.5,526.4 1685.2,527.7 1688.9,528.7 1692.7,529.4 1692.2,532.6 1691.7,535.9 1691.3,539.2 1690.9,542.5 1690.6,545.8 1690.4,549.1 1690.2,552.5 1690.0,555.8 1689.9,559.2 1689.8,562.5 1689.8,565.9 1689.8,569.3 1689.9,572.7 1690.0,576.1 1690.2,579.5 1690.4,582.9 1690.7,586.3 1691.0,589.7 1691.4,593.1 1691.8,596.5 1692.3,599.9 1692.8,603.3 1693.4,606.7 1694.0,610.1 1694.7,613.5 1695.4,616.9 1696.2,620.3 1697.0,623.7 1697.8,627.1 1698.7,630.4 1699.7,633.8 1700.7,637.2 1701.8,640.5 1702.8,643.9 1704.0,647.2 1705.2,650.5 1706.4,653.8 1707.7,657.1 1709.0,660.4 1710.4,663.7 1706.8,664.4 1703.3,665.3 1699.9,666.6 1696.7,668.1 1693.7,669.9 1690.8,671.9 1688.2,674.2 1685.8,676.8 1683.6,679.5 1681.7,682.5 1680.0,685.6 1678.6,688.9 1677.6,692.4 1676.8,695.9 1676.3,699.6 1676.1,703.3 1672.7,702.3 1669.4,701.4 1666.0,700.5 1662.6,699.7 1659.2,698.9 1655.8,698.2 1652.4,697.5 1649.0,696.8 1645.6,696.3 1642.2,695.7 1638.8,695.2 1635.4,694.8 1632.0,694.4 1628.6,694.0 1625.2,693.8 1621.8,693.5 1618.4,693.3 1615.0,693.2 1611.6,693.1 1608.2,693.0 1604.8,693.0 1601.5,693.1 1598.1,693.2 1594.8,693.3 1591.4,693.5 1588.1,693.7 1584.8,694.0 1581.5,694.4 1578.2,694.8 1574.9,695.2 1571.6,695.7 1568.4,696.2 1565.1,696.8 1561.9,697.5 1558.7,698.2 1555.5,698.9 1552.3,699.7 1549.2,700.5 1546.0,701.4 1542.9,702.3 1541.7,698.6 1540.3,694.9 1538.6,691.3 1536.6,687.9 1534.3,684.6 1531.8,681.4 1529.1,678.4 1526.2,675.6 1523.1,673.0 1519.9,670.7 1516.5,668.5 1513.0,666.7 1509.3,665.1 1505.6,663.8 1501.9,662.8 1498.1,662.1 1498.6,658.9 1499.1,655.6 1499.5,652.3 1499.9,649.0 1500.2,645.7 1500.4,642.4 1500.6,639.0 1500.8,635.7 1500.9,632.3 1501.0,629.0 1501.0,625.6 1501.0,622.2 1500.9,618.8 1500.8,615.4 1500.6,612.0 1500.4,608.6 1500.1,605.2 1499.8,601.8 1499.4,598.4 1499.0,595.0 1498.5,591.6 1498.0,588.2 1497.4,584.8 1496.8,581.4 1496.1,578.0 1495.4,574.6 1494.6,571.2 1493.8,567.8 1493.0,564.4 1492.1,561.1 1491.1,557.7 1490.1,554.3 1489.0,551.0 1488.0,547.6 1486.8,544.3 1485.6,541.0 1484.4,537.7 1483.1,534.4 1481.8,531.1 1480.4,527.8 1484.0,527.1 1487.5,526.2 1490.9,524.9 1494.1,523.4 1497.1,521.6 1500.0,519.6 1502.6,517.3 1505.0,514.7 1507.2,512.0 1509.1,509.0 1510.8,505.9 1512.2,502.6 1513.2,499.1 1514.0,495.6 1514.5,491.9" fill="#706400" stroke="#1a1a00" stroke-width="0.9" stroke-linejoin="round" />
<polygon points="1476.9,687.4 1472.6,687.7 1485.6,672.8 1489.9,672.4" fill="#d5bf11" stroke="#d5bf11" stroke-width="0.7" stroke-linejoin="round" />
<polygon points="1472.6,687.7 1473.4,684.1 1486.4,669.1 1485.6,672.8" fill="#f4e322" stroke="#f4e322" stroke-width="0.7" stroke-linejoin="round" />
<polygon points="1521.1,731.2 1520.9,726.8 1533.9,711.8 1534.1,716.2" fill="#fbeb26" stroke="#fbeb26" stroke-width="0.7" stroke-linejoin="round" />
<polygon points="1524.5,729.9 1521.1,731.2 1534.1,716.2 1537.5,715.0" fill="#c8af0a" stroke="#c8af0a" stroke-width="0.7" stroke-linejoin="round" />
<polygon points="1481.3,687.6 1476.9,687.4 1489.9,672.4 1494.3,672.6" fill="#dbc615" stroke="#dbc615" stroke-width="0.7" stroke-linejoin="round" />
<polygon points="1520.9,726.8 1520.1,722.4 1533.1,707.4 1533.9,711.8" fill="#fded27" stroke="#fded27" stroke-width="0.7" stroke-linejoin="round" />
<polygon points="1473.4,684.1 1474.1,680.4 1487.1,665.5 1486.4,669.1" fill="#f4e322" stroke="#f4e322" stroke-width="0.7" stroke-linejoin="round" />
<polygon points="1528.0,728.8 1524.5,729.9 1537.5,715.0 1541.0,713.8" fill="#c8b00a" stroke="#c8b00a" stroke-width="0.7" stroke-linejoin="round" />
<polygon points="1485.7,688.3 1481.3,687.6 1494.3,672.6 1498.7,673.3" fill="#e1cd18" stroke="#e1cd18" stroke-width="0.7" stroke-linejoin="round" />
<polygon points="1520.1,722.4 1518.9,718.0 1531.9,703.1 1533.1,707.4" fill="#feef28" stroke="#feef28" stroke-width="0.7" stroke-linejoin="round" />
<polygon points="1474.1,680.4 1474.7,676.7 1487.7,661.8 1487.1,665.5" fill="#f5e422" stroke="#f5e422" stroke-width="0.7" stroke-linejoin="round" />
<polygon points="1531.5,727.7 1528.0,728.8 1541.0,713.8 1544.5,712.7" fill="#c9b10b" stroke="#c9b10b" stroke-width="0.7" stroke-linejoin="round" />
<polygon points="1490.1,689.5 1485.7,688.3 1498.7,673.3 1503.1,674.5" fill="#e7d31b" stroke="#e7d31b" stroke-width="0.7" stroke-linejoin="round" />
<polygon points="1518.9,718.0 1517.2,713.7 1530.2,698.8 1531.9,703.1" fill="#fff028" stroke="#fff028" stroke-width="0.7" stroke-linejoin="round" />
<polygon points="1474.7,676.7 1475.3,673.0 1488.3,658.1 1487.7,661.8" fill="#f5e523" stroke="#f5e523" stroke-width="0.7" stroke-linejoin="round" />
<polygon points="1494.4,691.2 1490.1,689.5 1503.1,674.5 1507.4,676.2" fill="#ecd91d" stroke="#ecd91d" stroke-width="0.7" stroke-linejoin="round" />
<polygon points="1517.2,713.7 1515.0,709.6 1528.0,694.7 1530.2,698.8" fill="#fff028" stroke="#fff028" stroke-width="0.7" stroke-linejoin="round" />
<polygon points="1535.1,726.6 1531.5,727.7 1544.5,712.7 1548.1,711.7" fill="#cab20b" stroke="#cab20b" stroke-width="0.7" stroke-linejoin="round" />
<polygon points="1498.5,693.3 1494.4,691.2 1507.4,676.2 1511.5,678.4" fill="#f0df20" stroke="#f0df20" stroke-width="0.7" stroke-linejoin="round" />
<polygon points="1515.0,709.6 1512.4,705.8 1525.4,690.8 1528.0,694.7" fill="#feef28" stroke="#feef28" stroke-width="0.7" stroke-linejoin="round" />
<polygon points="1502.4,695.9 1498.5,693.3 1511.5,678.4 1515.4,680.9" fill="#f4e322" stroke="#f4e322" stroke-width="0.7" stroke-linejoin="round" />
<polygon points="1512.4,705.8 1509.4,702.1 1522.4,687.2 1525.4,690.8" fill="#fded27" stroke="#fded27" stroke-width="0.7" stroke-linejoin="round" />
<polygon points="1506.1,698.8 1502.4,695.9 1515.4,680.9 1519.1,683.9" fill="#f8e724" stroke="#f8e724" stroke-width="0.7" stroke-linejoin="round" />
<polygon points="1509.4,702.1 1506.1,698.8 1519.1,683.9 1522.4,687.2" fill="#fbeb26" stroke="#fbeb26" stroke-width="0.7" stroke-linejoin="round" />
<polygon points="1475.3,673.0 1475.8,669.3 1488.8,654.4 1488.3,658.1" fill="#f6e523" stroke="#f6e523" stroke-width="0.7" stroke-linejoin="round" />
<polygon points="1538.6,725.7 1535.1,726.6 1548.1,711.7 1551.6,710.7" fill="#cbb30c" stroke="#cbb30c" stroke-width="0.7" stroke-linejoin="round" />
<polygon points="1475.8,669.3 1476.2,665.6 1489.2,650.7 1488.8,654.4" fill="#f6e623" stroke="#f6e623" stroke-width="0.7" stroke-linejoin="round" />
<polygon points="1542.2,724.8 1538.6,725.7 1551.6,710.7 1555.2,709.8" fill="#ccb40c" stroke="#ccb40c" stroke-width="0.7" stroke-linejoin="round" />
<polygon points="1476.2,665.6 1476.6,661.9 1489.6,646.9 1489.2,650.7" fill="#f7e624" stroke="#f7e624" stroke-width="0.7" stroke-linejoin="round" />
<polygon points="1545.8,723.9 1542.2,724.8 1555.2,709.8 1558.8,709.0" fill="#cdb50d" stroke="#cdb50d" stroke-width="0.7" stroke-linejoin="round" />
<polygon points="1476.6,661.9 1476.9,658.1 1489.9,643.1 1489.6,646.9" fill="#f7e724" stroke="#f7e724" stroke-width="0.7" stroke-linejoin="round" />
<polygon points="1549.4,723.1 1545.8,723.9 1558.8,709.0 1562.4,708.2" fill="#ceb60d" stroke="#ceb60d" stroke-width="0.7" stroke-linejoin="round" />
<polygon points="1476.9,658.1 1477.2,654.3 1490.2,639.4 1489.9,643.1" fill="#f8e824" stroke="#f8e824" stroke-width="0.7" stroke-linejoin="round" />
<polygon points="1553.1,722.4 1549.4,723.1 1562.4,708.2 1566.1,707.5" fill="#cfb70e" stroke="#cfb70e" stroke-width="0.7" stroke-linejoin="round" />
<polygon points="1477.2,654.3 1477.3,650.5 1490.3,635.6 1490.2,639.4" fill="#f8e824" stroke="#f8e824" stroke-width="0.7" stroke-linejoin="round" />
<polygon points="1556.7,721.8 1553.1,722.4 1566.1,707.5 1569.7,706.8" fill="#d0b80e" stroke="#d0b80e" stroke-width="0.7" stroke-linejoin="round" />
<polygon points="1477.3,650.5 1477.4,646.7 1490.4,631.8 1490.3,635.6" fill="#f9e925" stroke="#f9e925" stroke-width="0.7" stroke-linejoin="round" />
<polygon points="1560.4,721.2 1556.7,721.8 1569.7,706.8 1573.4,706.2" fill="#d1b90f" stroke="#d1b90f" stroke-width="0.7" stroke-linejoin="round" />
<polygon points="1477.4,646.7 1477.5,642.9 1490.5,628.0 1490.4,631.8" fill="#f9e925" stroke="#f9e925" stroke-width="0.7" stroke-linejoin="round" />
<polygon points="1564.1,720.6 1560.4,721.2 1573.4,706.2 1577.1,705.7" fill="#d2ba0f" stroke="#d2ba0f" stroke-width="0.7" stroke-linejoin="round" />
<polygon points="1477.5,642.9 1477.5,639.1 1490.5,624.2 1490.5,628.0" fill="#faea25" stroke="#faea25" stroke-width="0.7" stroke-linejoin="round" />
<polygon points="1567.9,720.2 1564.1,720.6 1577.1,705.7 1580.9,705.2" fill="#d3bc10" stroke="#d3bc10" stroke-width="0.7" stroke-linejoin="round" />
<polygon points="1477.5,639.1 1477.4,635.3 1490.4,620.3 1490.5,624.2" fill="#faea25" stroke="#faea25" stroke-width="0.7" stroke-linejoin="round" />
<polygon points="1571.6,719.8 1567.9,720.2 1580.9,705.2 1584.6,704.8" fill="#d4bd10" stroke="#d4bd10" stroke-width="0.7" stroke-linejoin="round" />
<polygon points="1477.4,635.3 1477.2,631.5 1490.2,616.5 1490.4,620.3" fill="#faea25" stroke="#faea25" stroke-width="0.7" stroke-linejoin="round" />
<polygon points="1575.4,719.5 1571.6,719.8 1584.6,704.8 1588.4,704.5" fill="#d4be11" stroke="#d4be11" stroke-width="0.7" stroke-linejoin="round" />
<polygon points="1477.2,631.5 1477.0,627.6 1490.0,612.7 1490.2,616.5" fill="#fbeb26" stroke="#fbeb26" stroke-width="0.7" stroke-linejoin="round" />
<polygon points="1579.1,719.2 1575.4,719.5 1588.4,704.5 1592.1,704.2" fill="#d5bf11" stroke="#d5bf11" stroke-width="0.7" stroke-linejoin="round" />
<polygon points="1477.0,627.6 1476.7,623.8 1489.7,608.8 1490.0,612.7" fill="#fbeb26" stroke="#fbeb26" stroke-width="0.7" stroke-linejoin="round" />
<polygon points="1582.9,719.0 1579.1,719.2 1592.1,704.2 1595.9,704.0" fill="#d6c012" stroke="#d6c012" stroke-width="0.7" stroke-linejoin="round" />
<polygon points="1476.7,623.8 1476.4,619.9 1489.4,605.0 1489.7,608.8" fill="#fbec26" stroke="#fbec26" stroke-width="0.7" stroke-linejoin="round" />
<polygon points="1586.7,718.9 1582.9,719.0 1595.9,704.0 1599.7,703.9" fill="#d7c112" stroke="#d7c112" stroke-width="0.7" stroke-linejoin="round" />
<polygon points="1476.4,619.9 1476.0,616.1 1489.0,601.1 1489.4,605.0" fill="#fcec26" stroke="#fcec26" stroke-width="0.7" stroke-linejoin="round" />
<polygon points="1590.5,718.8 1586.7,718.9 1599.7,703.9 1603.5,703.8" fill="#d8c213" stroke="#d8c213" stroke-width="0.7" stroke-linejoin="round" />
<polygon points="1476.0,616.1 1475.5,612.2 1488.5,597.3 1489.0,601.1" fill="#fcec26" stroke="#fcec26" stroke-width="0.7" stroke-linejoin="round" />
<polygon points="1594.3,718.8 1590.5,718.8 1603.5,703.8 1607.3,703.8" fill="#d9c313" stroke="#d9c313" stroke-width="0.7" stroke-linejoin="round" />
<polygon points="1475.5,612.2 1475.0,608.4 1488.0,593.4 1488.5,597.3" fill="#fced27" stroke="#fced27" stroke-width="0.7" stroke-linejoin="round" />
<polygon points="1598.2,718.8 1594.3,718.8 1607.3,703.8 1611.2,703.9" fill="#dac414" stroke="#dac414" stroke-width="0.7" stroke-linejoin="round" />
<polygon points="1475.0,608.4 1474.4,604.5 1487.4,589.6 1488.0,593.4" fill="#fded27" stroke="#fded27" stroke-width="0.7" stroke-linejoin="round" />
<polygon points="1602.0,719.0 1598.2,718.8 1611.2,703.9 1615.0,704.0" fill="#dbc514" stroke="#dbc514" stroke-width="0.7" stroke-linejoin="round" />
<polygon points="1474.4,604.5 1473.7,600.7 1486.7,585.7 1487.4,589.6" fill="#fded27" stroke="#fded27" stroke-width="0.7" stroke-linejoin="round" />
<polygon points="1605.8,719.2 1602.0,719.0 1615.0,704.0 1618.8,704.2" fill="#dcc615" stroke="#dcc615" stroke-width="0.7" stroke-linejoin="round" />
<polygon points="1473.7,600.7 1473.0,596.8 1486.0,581.9 1486.7,585.7" fill="#fdee27" stroke="#fdee27" stroke-width="0.7" stroke-linejoin="round" />
<polygon points="1609.7,719.4 1605.8,719.2 1618.8,704.2 1622.7,704.5" fill="#dcc715" stroke="#dcc715" stroke-width="0.7" stroke-linejoin="round" />
<polygon points="1473.0,596.8 1472.2,593.0 1485.2,578.0 1486.0,581.9" fill="#fdee27" stroke="#fdee27" stroke-width="0.7" stroke-linejoin="round" />
<polygon points="1613.5,719.7 1609.7,719.4 1622.7,704.5 1626.5,704.8" fill="#ddc816" stroke="#ddc816" stroke-width="0.7" stroke-linejoin="round" />
<polygon points="1472.2,593.0 1471.3,589.1 1484.3,574.2 1485.2,578.0" fill="#feee27" stroke="#feee27" stroke-width="0.7" stroke-linejoin="round" />
<polygon points="1617.4,720.1 1613.5,719.7 1626.5,704.8 1630.4,705.2" fill="#dec916" stroke="#dec916" stroke-width="0.7" stroke-linejoin="round" />
<polygon points="1471.3,589.1 1470.4,585.3 1483.4,570.4 1484.3,574.2" fill="#feef27" stroke="#feef27" stroke-width="0.7" stroke-linejoin="round" />
<polygon points="1621.2,720.6 1617.4,720.1 1630.4,705.2 1634.2,705.6" fill="#dfca17" stroke="#dfca17" stroke-width="0.7" stroke-linejoin="round" />
<polygon points="1470.4,585.3 1469.4,581.5 1482.4,566.5 1483.4,570.4" fill="#feef27" stroke="#feef27" stroke-width="0.7" stroke-linejoin="round" />
<polygon points="1625.1,721.1 1621.2,720.6 1634.2,705.6 1638.1,706.1" fill="#e0cb17" stroke="#e0cb17" stroke-width="0.7" stroke-linejoin="round" />
<polygon points="1469.4,581.5 1468.3,577.7 1481.3,562.7 1482.4,566.5" fill="#feef28" stroke="#feef28" stroke-width="0.7" stroke-linejoin="round" />
<polygon points="1628.9,721.7 1625.1,721.1 1638.1,706.1 1641.9,706.7" fill="#e1cc17" stroke="#e1cc17" stroke-width="0.7" stroke-linejoin="round" />
<polygon points="1468.3,577.7 1467.2,573.9 1480.2,558.9 1481.3,562.7" fill="#feef28" stroke="#feef28" stroke-width="0.7" stroke-linejoin="round" />
<polygon points="1632.8,722.3 1628.9,721.7 1641.9,706.7 1645.8,707.4" fill="#e2cd18" stroke="#e2cd18" stroke-width="0.7" stroke-linejoin="round" />
<polygon points="1467.2,573.9 1466.1,570.1 1479.1,555.1 1480.2,558.9" fill="#feef28" stroke="#feef28" stroke-width="0.7" stroke-linejoin="round" />
<polygon points="1636.6,723.0 1632.8,722.3 1645.8,707.4 1649.6,708.1" fill="#e2ce18" stroke="#e2ce18" stroke-width="0.7" stroke-linejoin="round" />
<polygon points="1466.1,570.1 1464.8,566.3 1477.8,551.3 1479.1,555.1" fill="#ffef28" stroke="#ffef28" stroke-width="0.7" stroke-linejoin="round" />
<polygon points="1640.5,723.8 1636.6,723.0 1649.6,708.1 1653.5,708.9" fill="#e3cf19" stroke="#e3cf19" stroke-width="0.7" stroke-linejoin="round" />
<polygon points="1464.8,566.3 1463.5,562.5 1476.5,547.5 1477.8,551.3" fill="#fff028" stroke="#fff028" stroke-width="0.7" stroke-linejoin="round" />
<polygon points="1644.3,724.6 1640.5,723.8 1653.5,708.9 1657.3,709.7" fill="#e4d019" stroke="#e4d019" stroke-width="0.7" stroke-linejoin="round" />
<polygon points="1463.5,562.5 1462.2,558.7 1475.2,543.8 1476.5,547.5" fill="#fff028" stroke="#fff028" stroke-width="0.7" stroke-linejoin="round" />
<polygon points="1648.2,725.5 1644.3,724.6 1657.3,709.7 1661.2,710.6" fill="#e5d11a" stroke="#e5d11a" stroke-width="0.7" stroke-linejoin="round" />
<polygon points="1462.2,558.7 1460.7,555.0 1473.7,540.0 1475.2,543.8" fill="#fff028" stroke="#fff028" stroke-width="0.7" stroke-linejoin="round" />
<polygon points="1652.0,726.5 1648.2,725.5 1661.2,710.6 1665.0,711.6" fill="#e6d21a" stroke="#e6d21a" stroke-width="0.7" stroke-linejoin="round" />
<polygon points="1460.7,555.0 1459.3,551.3 1472.3,536.3 1473.7,540.0" fill="#fff028" stroke="#fff028" stroke-width="0.7" stroke-linejoin="round" />
<polygon points="1655.8,727.5 1652.0,726.5 1665.0,711.6 1668.8,712.6" fill="#e6d31b" stroke="#e6d31b" stroke-width="0.7" stroke-linejoin="round" />
<polygon points="1459.3,551.3 1457.7,547.6 1470.7,532.6 1472.3,536.3" fill="#fff028" stroke="#fff028" stroke-width="0.7" stroke-linejoin="round" />
<polygon points="1659.6,728.6 1655.8,727.5 1668.8,712.6 1672.6,713.7" fill="#e7d41b" stroke="#e7d41b" stroke-width="0.7" stroke-linejoin="round" />
<polygon points="1457.7,547.6 1456.1,543.9 1469.1,528.9 1470.7,532.6" fill="#fff028" stroke="#fff028" stroke-width="0.7" stroke-linejoin="round" />
<polygon points="1663.4,729.8 1659.6,728.6 1672.6,713.7 1676.4,714.8" fill="#e8d51b" stroke="#e8d51b" stroke-width="0.7" stroke-linejoin="round" />
<polygon points="1456.1,543.9 1454.4,540.2 1467.4,525.2 1469.1,528.9" fill="#fff028" stroke="#fff028" stroke-width="0.7" stroke-linejoin="round" />
<polygon points="1667.2,731.0 1663.4,729.8 1676.4,714.8 1680.2,716.1" fill="#e9d61c" stroke="#e9d61c" stroke-width="0.7" stroke-linejoin="round" />
<polygon points="1454.4,540.2 1452.7,536.5 1465.7,521.6 1467.4,525.2" fill="#fff028" stroke="#fff028" stroke-width="0.7" stroke-linejoin="round" />
<polygon points="1671.0,732.3 1667.2,731.0 1680.2,716.1 1684.0,717.3" fill="#e9d61c" stroke="#e9d61c" stroke-width="0.7" stroke-linejoin="round" />
<polygon points="1483.3,525.9 1485.8,522.6 1498.8,507.7 1496.3,511.0" fill="#e3cf19" stroke="#e3cf19" stroke-width="0.7" stroke-linejoin="round" />
<polygon points="1680.4,697.2 1677.5,700.1 1690.5,685.1 1693.4,682.2" fill="#c8af0a" stroke="#c8af0a" stroke-width="0.7" stroke-linejoin="round" />
<polygon points="1485.8,522.6 1487.8,519.0 1500.8,504.1 1498.8,507.7" fill="#e9d61c" stroke="#e9d61c" stroke-width="0.7" stroke-linejoin="round" />
<polygon points="1683.6,694.7 1680.4,697.2 1693.4,682.2 1696.6,679.7" fill="#c8af0a" stroke="#c8af0a" stroke-width="0.7" stroke-linejoin="round" />
<polygon points="1487.8,519.0 1489.4,515.2 1502.4,500.2 1500.8,504.1" fill="#eedb1e" stroke="#eedb1e" stroke-width="0.7" stroke-linejoin="round" />
<polygon points="1687.2,692.6 1683.6,694.7 1696.6,679.7 1700.2,677.7" fill="#c8af0a" stroke="#c8af0a" stroke-width="0.7" stroke-linejoin="round" />
<polygon points="1489.4,515.2 1490.5,511.1 1503.5,496.2 1502.4,500.2" fill="#f2e121" stroke="#f2e121" stroke-width="0.7" stroke-linejoin="round" />
<polygon points="1691.0,691.0 1687.2,692.6 1700.2,677.7 1704.0,676.0" fill="#c8af0a" stroke="#c8af0a" stroke-width="0.7" stroke-linejoin="round" />
<polygon points="1490.5,511.1 1491.1,506.9 1504.1,491.9 1503.5,496.2" fill="#f6e523" stroke="#f6e523" stroke-width="0.7" stroke-linejoin="round" />
<polygon points="1695.1,689.9 1691.0,691.0 1704.0,676.0 1708.1,674.9" fill="#cbb30c" stroke="#cbb30c" stroke-width="0.7" stroke-linejoin="round" />
<polygon points="1491.1,506.9 1491.2,502.5 1504.2,487.6 1504.1,491.9" fill="#f9e925" stroke="#f9e925" stroke-width="0.7" stroke-linejoin="round" />
<polygon points="1699.3,689.2 1695.1,689.9 1708.1,674.9 1712.3,674.3" fill="#d1ba0f" stroke="#d1ba0f" stroke-width="0.7" stroke-linejoin="round" />
<polygon points="1491.2,502.5 1490.7,498.1 1503.7,483.2 1504.2,487.6" fill="#fbec26" stroke="#fbec26" stroke-width="0.7" stroke-linejoin="round" />
<polygon points="1703.7,689.1 1699.3,689.2 1712.3,674.3 1716.7,674.1" fill="#d7c112" stroke="#d7c112" stroke-width="0.7" stroke-linejoin="round" />
<polygon points="1490.7,498.1 1489.8,493.7 1502.8,478.8 1503.7,483.2" fill="#fdee27" stroke="#fdee27" stroke-width="0.7" stroke-linejoin="round" />
<polygon points="1708.1,689.5 1703.7,689.1 1716.7,674.1 1721.1,674.5" fill="#ddc816" stroke="#ddc816" stroke-width="0.7" stroke-linejoin="round" />
<path d="M1688.9,596.4 L1689.5,603.0 L1689.7,609.6 L1689.4,616.0 L1688.7,622.4 L1687.5,628.6 L1685.8,634.7 L1683.7,640.6 L1681.2,646.3 L1678.3,651.7 L1675.0,656.9 L1671.3,661.7 L1667.2,666.3 L1662.7,670.5 L1658.0,674.3 L1652.9,677.7 L1647.5,680.8 L1641.9,683.4 L1636.1,685.6 L1630.1,687.4 L1623.9,688.7 L1617.5,689.6 L1611.1,690.0 L1604.5,689.9 L1598.0,689.4 L1591.4,688.5 L1584.8,687.0 L1578.3,685.2 L1571.9,682.9 L1565.6,680.2 L1559.4,677.0 L1553.4,673.5 L1547.6,669.6 L1542.1,665.3 L1536.8,660.7 L1531.8,655.8 L1527.1,650.6 L1522.7,645.1 L1518.7,639.4 L1515.1,633.4 L1511.8,627.3 L1509.0,621.1 L1506.6,614.7 L1504.6,608.2 L1503.0,601.6 L1501.9,595.1 L1501.3,588.5 L1501.1,581.9 L1501.4,575.5 L1502.1,569.1 L1503.3,562.9 L1505.0,556.8 L1507.1,550.9 L1509.6,545.2 L1512.5,539.8 L1515.8,534.6 L1519.5,529.8 L1523.6,525.2 L1528.1,521.0 L1532.8,517.2 L1537.9,513.8 L1543.3,510.7 L1548.9,508.1 L1554.7,505.9 L1560.7,504.1 L1566.9,502.8 L1573.3,501.9 L1579.7,501.5 L1586.3,501.6 L1592.8,502.1 L1599.4,503.0 L1606.0,504.5 L1612.5,506.3 L1618.9,508.6 L1625.2,511.3 L1631.4,514.5 L1637.4,518.0 L1643.2,521.9 L1648.7,526.2 L1654.0,530.8 L1659.0,535.7 L1663.7,540.9 L1668.1,546.4 L1672.1,552.1 L1675.7,558.1 L1679.0,564.2 L1681.8,570.4 L1684.2,576.8 L1686.2,583.3 L1687.8,589.9 L1688.9,596.4 Z" fill="#c81818" stroke="#300" stroke-width="0.8"/>
<polygon points="1664.9,613.6 1665.3,618.1 1678.8,602.6 1678.4,598.1" fill="#f7e725" stroke="#f7e725" stroke-width="0.7" stroke-linejoin="round" />
<polygon points="1665.3,618.1 1665.6,622.5 1679.1,607.0 1678.8,602.6" fill="#f5e524" stroke="#f5e524" stroke-width="0.7" stroke-linejoin="round" />
<polygon points="1665.6,622.5 1665.6,626.9 1679.1,611.4 1679.1,607.0" fill="#f3e324" stroke="#f3e324" stroke-width="0.7" stroke-linejoin="round" />
<polygon points="1665.6,626.9 1665.3,631.3 1678.8,615.8 1679.1,611.4" fill="#f0e023" stroke="#f0e023" stroke-width="0.7" stroke-linejoin="round" />
<polygon points="1665.3,631.3 1664.9,635.7 1678.4,620.1 1678.8,615.8" fill="#eddd22" stroke="#eddd22" stroke-width="0.7" stroke-linejoin="round" />
<polygon points="1664.9,635.7 1664.2,639.9 1677.7,624.4 1678.4,620.1" fill="#ebda21" stroke="#ebda21" stroke-width="0.7" stroke-linejoin="round" />
<polygon points="1664.2,639.9 1663.3,644.1 1676.8,628.6 1677.7,624.4" fill="#e8d720" stroke="#e8d720" stroke-width="0.7" stroke-linejoin="round" />
<polygon points="1663.3,644.1 1662.1,648.2 1675.6,632.7 1676.8,628.6" fill="#e5d41f" stroke="#e5d41f" stroke-width="0.7" stroke-linejoin="round" />
<polygon points="1662.1,648.2 1660.7,652.2 1674.2,636.7 1675.6,632.7" fill="#e1d01d" stroke="#e1d01d" stroke-width="0.7" stroke-linejoin="round" />
<polygon points="1660.7,652.2 1659.1,656.1 1672.6,640.6 1674.2,636.7" fill="#decd1c" stroke="#decd1c" stroke-width="0.7" stroke-linejoin="round" />
<polygon points="1659.1,656.1 1657.3,659.9 1670.8,644.4 1672.6,640.6" fill="#dac91b" stroke="#dac91b" stroke-width="0.7" stroke-linejoin="round" />
<polygon points="1657.3,659.9 1655.3,663.6 1668.8,648.0 1670.8,644.4" fill="#d6c51a" stroke="#d6c51a" stroke-width="0.7" stroke-linejoin="round" />
<polygon points="1655.3,663.6 1653.1,667.1 1666.6,651.6 1668.8,648.0" fill="#d3c118" stroke="#d3c118" stroke-width="0.7" stroke-linejoin="round" />
<polygon points="1653.1,667.1 1650.7,670.5 1664.2,654.9 1666.6,651.6" fill="#cfbd17" stroke="#cfbd17" stroke-width="0.7" stroke-linejoin="round" />
<polygon points="1650.7,670.5 1648.0,673.7 1661.5,658.1 1664.2,654.9" fill="#cbb815" stroke="#cbb815" stroke-width="0.7" stroke-linejoin="round" />
<polygon points="1512.8,552.3 1515.6,549.3 1529.1,533.8 1526.3,536.8" fill="#aa960a" stroke="#aa960a" stroke-width="0.7" stroke-linejoin="round" />
<polygon points="1515.6,549.3 1518.5,546.4 1532.0,530.9 1529.1,533.8" fill="#aa960a" stroke="#aa960a" stroke-width="0.7" stroke-linejoin="round" />
<polygon points="1518.5,546.4 1521.7,543.7 1535.2,528.2 1532.0,530.9" fill="#aa960a" stroke="#aa960a" stroke-width="0.7" stroke-linejoin="round" />
<polygon points="1521.7,543.7 1525.0,541.2 1538.5,525.7 1535.2,528.2" fill="#aa960a" stroke="#aa960a" stroke-width="0.7" stroke-linejoin="round" />
<polygon points="1525.0,541.2 1528.5,538.9 1542.0,523.4 1538.5,525.7" fill="#aa960a" stroke="#aa960a" stroke-width="0.7" stroke-linejoin="round" />
<polygon points="1528.5,538.9 1532.1,536.8 1545.6,521.3 1542.0,523.4" fill="#aa960a" stroke="#aa960a" stroke-width="0.7" stroke-linejoin="round" />
<polygon points="1532.1,536.8 1535.8,534.9 1549.3,519.4 1545.6,521.3" fill="#aa960a" stroke="#aa960a" stroke-width="0.7" stroke-linejoin="round" />
<polygon points="1535.8,534.9 1539.7,533.3 1553.2,517.7 1549.3,519.4" fill="#ac980b" stroke="#ac980b" stroke-width="0.7" stroke-linejoin="round" />
<polygon points="1539.7,533.3 1543.6,531.8 1557.1,516.3 1553.2,517.7" fill="#b19d0c" stroke="#b19d0c" stroke-width="0.7" stroke-linejoin="round" />
<polygon points="1543.6,531.8 1547.7,530.6 1561.2,515.0 1557.1,516.3" fill="#b5a20e" stroke="#b5a20e" stroke-width="0.7" stroke-linejoin="round" />
<polygon points="1547.7,530.6 1551.9,529.6 1565.4,514.0 1561.2,515.0" fill="#b9a60f" stroke="#b9a60f" stroke-width="0.7" stroke-linejoin="round" />
<polygon points="1551.9,529.6 1556.1,528.8 1569.6,513.3 1565.4,514.0" fill="#beab11" stroke="#beab11" stroke-width="0.7" stroke-linejoin="round" />
<polygon points="1556.1,528.8 1560.4,528.2 1573.9,512.7 1569.6,513.3" fill="#c2b013" stroke="#c2b013" stroke-width="0.7" stroke-linejoin="round" />
<polygon points="1560.4,528.2 1564.8,527.9 1578.3,512.4 1573.9,512.7" fill="#c6b414" stroke="#c6b414" stroke-width="0.7" stroke-linejoin="round" />
<polygon points="1564.8,527.9 1569.2,527.8 1582.7,512.3 1578.3,512.4" fill="#cab815" stroke="#cab815" stroke-width="0.7" stroke-linejoin="round" />
<polygon points="1569.2,527.8 1573.6,528.0 1587.1,512.5 1582.7,512.3" fill="#cfbd17" stroke="#cfbd17" stroke-width="0.7" stroke-linejoin="round" />
<polygon points="1573.6,528.0 1578.1,528.4 1591.6,512.8 1587.1,512.5" fill="#d3c118" stroke="#d3c118" stroke-width="0.7" stroke-linejoin="round" />
<polygon points="1578.1,528.4 1582.5,529.0 1596.0,513.5 1591.6,512.8" fill="#d6c51a" stroke="#d6c51a" stroke-width="0.7" stroke-linejoin="round" />
<polygon points="1582.5,529.0 1587.0,529.8 1600.5,514.3 1596.0,513.5" fill="#dac91b" stroke="#dac91b" stroke-width="0.7" stroke-linejoin="round" />
<polygon points="1587.0,529.8 1591.4,530.9 1604.9,515.4 1600.5,514.3" fill="#decd1c" stroke="#decd1c" stroke-width="0.7" stroke-linejoin="round" />
<polygon points="1591.4,530.9 1595.8,532.2 1609.3,516.7 1604.9,515.4" fill="#e1d01d" stroke="#e1d01d" stroke-width="0.7" stroke-linejoin="round" />
<polygon points="1595.8,532.2 1600.2,533.7 1613.7,518.2 1609.3,516.7" fill="#e4d41f" stroke="#e4d41f" stroke-width="0.7" stroke-linejoin="round" />
<polygon points="1600.2,533.7 1604.5,535.4 1618.0,519.9 1613.7,518.2" fill="#e8d720" stroke="#e8d720" stroke-width="0.7" stroke-linejoin="round" />
<polygon points="1604.5,535.4 1608.7,537.4 1622.2,521.9 1618.0,519.9" fill="#ebda21" stroke="#ebda21" stroke-width="0.7" stroke-linejoin="round" />
<polygon points="1608.7,537.4 1612.9,539.6 1626.4,524.0 1622.2,521.9" fill="#eddd22" stroke="#eddd22" stroke-width="0.7" stroke-linejoin="round" />
<polygon points="1612.9,539.6 1617.0,541.9 1630.5,526.4 1626.4,524.0" fill="#f0e023" stroke="#f0e023" stroke-width="0.7" stroke-linejoin="round" />
<polygon points="1617.0,541.9 1621.0,544.5 1634.5,528.9 1630.5,526.4" fill="#f2e324" stroke="#f2e324" stroke-width="0.7" stroke-linejoin="round" />
<polygon points="1621.0,544.5 1624.8,547.2 1638.3,531.7 1634.5,528.9" fill="#f5e524" stroke="#f5e524" stroke-width="0.7" stroke-linejoin="round" />
<polygon points="1624.8,547.2 1628.6,550.1 1642.1,534.6 1638.3,531.7" fill="#f7e725" stroke="#f7e725" stroke-width="0.7" stroke-linejoin="round" />
<polygon points="1628.6,550.1 1632.2,553.2 1645.7,537.7 1642.1,534.6" fill="#f9e926" stroke="#f9e926" stroke-width="0.7" stroke-linejoin="round" />
<polygon points="1632.2,553.2 1635.7,556.5 1649.2,541.0 1645.7,537.7" fill="#faeb26" stroke="#faeb26" stroke-width="0.7" stroke-linejoin="round" />
<polygon points="1635.7,556.5 1639.0,559.9 1652.5,544.4 1649.2,541.0" fill="#fbec27" stroke="#fbec27" stroke-width="0.7" stroke-linejoin="round" />
<polygon points="1639.0,559.9 1642.1,563.4 1655.6,547.9 1652.5,544.4" fill="#fded27" stroke="#fded27" stroke-width="0.7" stroke-linejoin="round" />
<polygon points="1642.1,563.4 1645.1,567.1 1658.6,551.6 1655.6,547.9" fill="#feee27" stroke="#feee27" stroke-width="0.7" stroke-linejoin="round" />
<polygon points="1645.1,567.1 1647.9,571.0 1661.4,555.4 1658.6,551.6" fill="#feef28" stroke="#feef28" stroke-width="0.7" stroke-linejoin="round" />
<polygon points="1647.9,571.0 1650.6,574.9 1664.1,559.4 1661.4,555.4" fill="#fff028" stroke="#fff028" stroke-width="0.7" stroke-linejoin="round" />
<polygon points="1650.6,574.9 1653.0,578.9 1666.5,563.4 1664.1,559.4" fill="#fff028" stroke="#fff028" stroke-width="0.7" stroke-linejoin="round" />
<polygon points="1653.0,578.9 1655.2,583.1 1668.7,567.5 1666.5,563.4" fill="#fff028" stroke="#fff028" stroke-width="0.7" stroke-linejoin="round" />
<polygon points="1655.2,583.1 1657.2,587.3 1670.7,571.8 1668.7,567.5" fill="#fff028" stroke="#fff028" stroke-width="0.7" stroke-linejoin="round" />
<polygon points="1657.2,587.3 1659.1,591.6 1672.6,576.0 1670.7,571.8" fill="#feef28" stroke="#feef28" stroke-width="0.7" stroke-linejoin="round" />
<polygon points="1659.1,591.6 1660.7,595.9 1674.2,580.4 1672.6,576.0" fill="#feef28" stroke="#feef28" stroke-width="0.7" stroke-linejoin="round" />
<polygon points="1660.7,595.9 1662.1,600.3 1675.6,584.8 1674.2,580.4" fill="#fdee27" stroke="#fdee27" stroke-width="0.7" stroke-linejoin="round" />
<polygon points="1662.1,600.3 1663.2,604.7 1676.7,589.2 1675.6,584.8" fill="#fcec27" stroke="#fcec27" stroke-width="0.7" stroke-linejoin="round" />
<polygon points="1663.2,604.7 1664.1,609.2 1677.6,593.6 1676.7,589.2" fill="#faeb26" stroke="#faeb26" stroke-width="0.7" stroke-linejoin="round" />
<polygon points="1664.1,609.2 1664.9,613.6 1678.4,598.1 1677.6,593.6" fill="#f9e926" stroke="#f9e926" stroke-width="0.7" stroke-linejoin="round" />
</g>
<path d="M1489.8,493.7 L1493.6,495.0 L1497.4,496.2 L1501.2,497.4 L1505.0,498.5 L1508.8,499.5 L1512.6,500.5 L1516.5,501.4 L1520.3,502.2 L1524.2,503.0 L1528.0,503.7 L1531.9,504.3 L1535.7,504.9 L1539.6,505.4 L1543.4,505.9 L1547.3,506.3 L1551.1,506.6 L1555.0,506.8 L1558.8,507.0 L1562.6,507.2 L1566.5,507.2 L1570.3,507.2 L1574.1,507.1 L1577.9,507.0 L1581.7,506.8 L1585.4,506.5 L1589.2,506.2 L1592.9,505.8 L1596.7,505.4 L1600.4,504.8 L1604.1,504.2 L1607.7,503.6 L1611.4,502.9 L1615.0,502.1 L1618.6,501.2 L1622.2,500.3 L1625.7,499.4 L1629.3,498.3 L1632.8,497.2 L1636.3,496.1 L1639.7,494.8 L1639.9,499.2 L1640.7,503.6 L1641.9,508.0 L1643.6,512.3 L1645.8,516.4 L1648.4,520.2 L1651.4,523.9 L1654.7,527.2 L1658.4,530.1 L1662.3,532.7 L1666.4,534.8 L1670.7,536.5 L1675.1,537.7 L1679.5,538.4 L1683.9,538.6 L1688.2,538.3 L1687.4,541.9 L1686.7,545.6 L1686.1,549.3 L1685.5,553.0 L1685.0,556.7 L1684.6,560.4 L1684.2,564.1 L1683.9,567.9 L1683.6,571.7 L1683.5,575.5 L1683.4,579.3 L1683.3,583.1 L1683.3,586.9 L1683.4,590.7 L1683.6,594.5 L1683.8,598.4 L1684.1,602.2 L1684.4,606.1 L1684.8,609.9 L1685.3,613.8 L1685.8,617.6 L1686.4,621.5 L1687.1,625.3 L1687.8,629.2 L1688.6,633.0 L1689.5,636.9 L1690.4,640.7 L1691.4,644.5 L1692.5,648.3 L1693.6,652.1 L1694.7,655.9 L1696.0,659.7 L1697.3,663.5 L1698.6,667.3 L1700.1,671.0 L1701.5,674.7 L1703.1,678.4 L1704.7,682.1 L1706.4,685.8 L1708.1,689.5 L1703.7,689.1 L1699.3,689.2 L1695.1,689.9 L1691.0,691.0 L1687.2,692.6 L1683.6,694.7 L1680.4,697.2 L1677.5,700.1 L1675.0,703.4 L1673.0,707.0 L1671.4,710.8 L1670.3,714.9 L1669.7,719.1 L1669.6,723.5 L1670.1,727.9 L1671.0,732.3 L1667.2,731.0 L1663.4,729.8 L1659.6,728.6 L1655.8,727.5 L1652.0,726.5 L1648.2,725.5 L1644.3,724.6 L1640.5,723.8 L1636.6,723.0 L1632.8,722.3 L1628.9,721.7 L1625.1,721.1 L1621.2,720.6 L1617.4,720.1 L1613.5,719.7 L1609.7,719.4 L1605.8,719.2 L1602.0,719.0 L1598.2,718.8 L1594.3,718.8 L1590.5,718.8 L1586.7,718.9 L1582.9,719.0 L1579.1,719.2 L1575.4,719.5 L1571.6,719.8 L1567.9,720.2 L1564.1,720.6 L1560.4,721.2 L1556.7,721.8 L1553.1,722.4 L1549.4,723.1 L1545.8,723.9 L1542.2,724.8 L1538.6,725.7 L1535.1,726.6 L1531.5,727.7 L1528.0,728.8 L1524.5,729.9 L1521.1,731.2 L1520.9,726.8 L1520.1,722.4 L1518.9,718.0 L1517.2,713.7 L1515.0,709.6 L1512.4,705.8 L1509.4,702.1 L1506.1,698.8 L1502.4,695.9 L1498.5,693.3 L1494.4,691.2 L1490.1,689.5 L1485.7,688.3 L1481.3,687.6 L1476.9,687.4 L1472.6,687.7 L1473.4,684.1 L1474.1,680.4 L1474.7,676.7 L1475.3,673.0 L1475.8,669.3 L1476.2,665.6 L1476.6,661.9 L1476.9,658.1 L1477.2,654.3 L1477.3,650.5 L1477.4,646.7 L1477.5,642.9 L1477.5,639.1 L1477.4,635.3 L1477.2,631.5 L1477.0,627.6 L1476.7,623.8 L1476.4,619.9 L1476.0,616.1 L1475.5,612.2 L1475.0,608.4 L1474.4,604.5 L1473.7,600.7 L1473.0,596.8 L1472.2,593.0 L1471.3,589.1 L1470.4,585.3 L1469.4,581.5 L1468.3,577.7 L1467.2,573.9 L1466.1,570.1 L1464.8,566.3 L1463.5,562.5 L1462.2,558.7 L1460.7,555.0 L1459.3,551.3 L1457.7,547.6 L1456.1,543.9 L1454.4,540.2 L1452.7,536.5 L1457.1,536.9 L1461.5,536.8 L1465.7,536.1 L1469.8,535.0 L1473.6,533.4 L1477.2,531.3 L1480.4,528.8 L1483.3,525.9 L1485.8,522.6 L1487.8,519.0 L1489.4,515.2 L1490.5,511.1 L1491.1,506.9 L1491.2,502.5 L1490.7,498.1 Z" fill="none" stroke="#111" stroke-width="1.1"/>
<path d="M1664.9,613.6 L1665.4,619.6 L1665.6,625.5 L1665.3,631.3 L1664.7,637.1 L1663.6,642.7 L1662.1,648.2 L1660.2,653.5 L1658.0,658.7 L1655.3,663.6 L1652.3,668.2 L1648.9,672.6 L1645.2,676.7 L1641.2,680.5 L1636.9,684.0 L1632.3,687.1 L1627.5,689.8 L1622.4,692.2 L1617.2,694.2 L1611.7,695.8 L1606.1,697.0 L1600.4,697.8 L1594.6,698.1 L1588.7,698.1 L1582.7,697.6 L1576.8,696.8 L1570.9,695.5 L1565.0,693.8 L1559.2,691.7 L1553.5,689.3 L1547.9,686.4 L1542.5,683.3 L1537.2,679.7 L1532.2,675.9 L1527.4,671.7 L1522.9,667.3 L1518.7,662.6 L1514.7,657.6 L1511.1,652.4 L1507.8,647.1 L1504.9,641.5 L1502.3,635.9 L1500.1,630.1 L1498.3,624.2 L1496.9,618.3 L1496.0,612.4 L1495.4,606.4 L1495.2,600.5 L1495.5,594.7 L1496.1,588.9 L1497.2,583.3 L1498.7,577.8 L1500.6,572.5 L1502.8,567.3 L1505.5,562.4 L1508.5,557.8 L1511.9,553.4 L1515.6,549.3 L1519.6,545.5 L1523.9,542.0 L1528.5,538.9 L1533.3,536.2 L1538.4,533.8 L1543.6,531.8 L1549.1,530.2 L1554.7,529.0 L1560.4,528.2 L1566.2,527.9 L1572.1,527.9 L1578.1,528.4 L1584.0,529.2 L1589.9,530.5 L1595.8,532.2 L1601.6,534.3 L1607.3,536.7 L1612.9,539.6 L1618.3,542.7 L1623.6,546.3 L1628.6,550.1 L1633.4,554.3 L1637.9,558.7 L1642.1,563.4 L1646.1,568.4 L1649.7,573.6 L1653.0,578.9 L1655.9,584.5 L1658.5,590.1 L1660.7,595.9 L1662.5,601.8 L1663.9,607.7 L1664.9,613.6 Z" fill="#706400" stroke="#111" stroke-width="1.1"/>
<defs><clipPath id="boclip"><path d="M1650.8,613.5 L1651.3,618.5 L1651.4,623.4 L1651.2,628.3 L1650.6,633.1 L1649.7,637.8 L1648.5,642.3 L1646.9,646.8 L1645.0,651.1 L1642.8,655.1 L1640.3,659.0 L1637.5,662.7 L1634.4,666.1 L1631.1,669.3 L1627.5,672.1 L1623.7,674.7 L1619.7,677.0 L1615.4,679.0 L1611.0,680.7 L1606.5,682.0 L1601.8,683.0 L1597.1,683.6 L1592.2,684.0 L1587.3,683.9 L1582.3,683.5 L1577.4,682.8 L1572.4,681.7 L1567.5,680.3 L1562.7,678.6 L1558.0,676.6 L1553.3,674.2 L1548.8,671.5 L1544.4,668.6 L1540.3,665.4 L1536.3,661.9 L1532.5,658.2 L1529.0,654.3 L1525.7,650.2 L1522.7,645.9 L1519.9,641.4 L1517.5,636.8 L1515.3,632.1 L1513.5,627.2 L1512.0,622.4 L1510.8,617.4 L1510.0,612.5 L1509.5,607.5 L1509.4,602.6 L1509.6,597.7 L1510.2,592.9 L1511.1,588.2 L1512.3,583.7 L1513.9,579.2 L1515.8,574.9 L1518.0,570.9 L1520.5,567.0 L1523.3,563.3 L1526.4,559.9 L1529.7,556.7 L1533.3,553.9 L1537.1,551.3 L1541.1,549.0 L1545.4,547.0 L1549.8,545.3 L1554.3,544.0 L1559.0,543.0 L1563.7,542.4 L1568.6,542.0 L1573.5,542.1 L1578.5,542.5 L1583.4,543.2 L1588.4,544.3 L1593.3,545.7 L1598.1,547.4 L1602.8,549.4 L1607.5,551.8 L1612.0,554.5 L1616.4,557.4 L1620.5,560.6 L1624.5,564.1 L1628.3,567.8 L1631.8,571.7 L1635.1,575.8 L1638.1,580.1 L1640.9,584.6 L1643.3,589.2 L1645.5,593.9 L1647.3,598.8 L1648.8,603.6 L1650.0,608.6 L1650.8,613.5 Z"/></clipPath></defs>
<path d="M1650.8,613.5 L1651.3,618.5 L1651.4,623.4 L1651.2,628.3 L1650.6,633.1 L1649.7,637.8 L1648.5,642.3 L1646.9,646.8 L1645.0,651.1 L1642.8,655.1 L1640.3,659.0 L1637.5,662.7 L1634.4,666.1 L1631.1,669.3 L1627.5,672.1 L1623.7,674.7 L1619.7,677.0 L1615.4,679.0 L1611.0,680.7 L1606.5,682.0 L1601.8,683.0 L1597.1,683.6 L1592.2,684.0 L1587.3,683.9 L1582.3,683.5 L1577.4,682.8 L1572.4,681.7 L1567.5,680.3 L1562.7,678.6 L1558.0,676.6 L1553.3,674.2 L1548.8,671.5 L1544.4,668.6 L1540.3,665.4 L1536.3,661.9 L1532.5,658.2 L1529.0,654.3 L1525.7,650.2 L1522.7,645.9 L1519.9,641.4 L1517.5,636.8 L1515.3,632.1 L1513.5,627.2 L1512.0,622.4 L1510.8,617.4 L1510.0,612.5 L1509.5,607.5 L1509.4,602.6 L1509.6,597.7 L1510.2,592.9 L1511.1,588.2 L1512.3,583.7 L1513.9,579.2 L1515.8,574.9 L1518.0,570.9 L1520.5,567.0 L1523.3,563.3 L1526.4,559.9 L1529.7,556.7 L1533.3,553.9 L1537.1,551.3 L1541.1,549.0 L1545.4,547.0 L1549.8,545.3 L1554.3,544.0 L1559.0,543.0 L1563.7,542.4 L1568.6,542.0 L1573.5,542.1 L1578.5,542.5 L1583.4,543.2 L1588.4,544.3 L1593.3,545.7 L1598.1,547.4 L1602.8,549.4 L1607.5,551.8 L1612.0,554.5 L1616.4,557.4 L1620.5,560.6 L1624.5,564.1 L1628.3,567.8 L1631.8,571.7 L1635.1,575.8 L1638.1,580.1 L1640.9,584.6 L1643.3,589.2 L1645.5,593.9 L1647.3,598.8 L1648.8,603.6 L1650.0,608.6 L1650.8,613.5 Z" fill="url(#gBoreIso2)"/>
<path d="M1710.8,544.5 L1711.3,549.5 L1711.4,554.4 L1711.2,559.3 L1710.6,564.1 L1709.7,568.8 L1708.5,573.3 L1706.9,577.8 L1705.0,582.1 L1702.8,586.1 L1700.3,590.0 L1697.5,593.7 L1694.4,597.1 L1691.1,600.3 L1687.5,603.1 L1683.7,605.7 L1679.7,608.0 L1675.4,610.0 L1671.0,611.7 L1666.5,613.0 L1661.8,614.0 L1657.1,614.6 L1652.2,615.0 L1647.3,614.9 L1642.3,614.5 L1637.4,613.8 L1632.4,612.7 L1627.5,611.3 L1622.7,609.6 L1618.0,607.6 L1613.3,605.2 L1608.8,602.5 L1604.4,599.6 L1600.3,596.4 L1596.3,592.9 L1592.5,589.2 L1589.0,585.3 L1585.7,581.2 L1582.7,576.9 L1579.9,572.4 L1577.5,567.8 L1575.3,563.1 L1573.5,558.2 L1572.0,553.4 L1570.8,548.4 L1570.0,543.5 L1569.5,538.5 L1569.4,533.6 L1569.6,528.7 L1570.2,523.9 L1571.1,519.2 L1572.3,514.7 L1573.9,510.2 L1575.8,505.9 L1578.0,501.9 L1580.5,498.0 L1583.3,494.3 L1586.4,490.9 L1589.7,487.7 L1593.3,484.9 L1597.1,482.3 L1601.1,480.0 L1605.4,478.0 L1609.8,476.3 L1614.3,475.0 L1619.0,474.0 L1623.7,473.4 L1628.6,473.0 L1633.5,473.1 L1638.5,473.5 L1643.4,474.2 L1648.4,475.3 L1653.3,476.7 L1658.1,478.4 L1662.8,480.4 L1667.5,482.8 L1672.0,485.5 L1676.4,488.4 L1680.5,491.6 L1684.5,495.1 L1688.3,498.8 L1691.8,502.7 L1695.1,506.8 L1698.1,511.1 L1700.9,515.6 L1703.3,520.2 L1705.5,524.9 L1707.3,529.8 L1708.8,534.6 L1710.0,539.6 L1710.8,544.5 Z" fill="#fff" stroke="#111" stroke-width="1" clip-path="url(#boclip)"/>
<path d="M1650.8,613.5 L1651.3,618.5 L1651.4,623.4 L1651.2,628.3 L1650.6,633.1 L1649.7,637.8 L1648.5,642.3 L1646.9,646.8 L1645.0,651.1 L1642.8,655.1 L1640.3,659.0 L1637.5,662.7 L1634.4,666.1 L1631.1,669.3 L1627.5,672.1 L1623.7,674.7 L1619.7,677.0 L1615.4,679.0 L1611.0,680.7 L1606.5,682.0 L1601.8,683.0 L1597.1,683.6 L1592.2,684.0 L1587.3,683.9 L1582.3,683.5 L1577.4,682.8 L1572.4,681.7 L1567.5,680.3 L1562.7,678.6 L1558.0,676.6 L1553.3,674.2 L1548.8,671.5 L1544.4,668.6 L1540.3,665.4 L1536.3,661.9 L1532.5,658.2 L1529.0,654.3 L1525.7,650.2 L1522.7,645.9 L1519.9,641.4 L1517.5,636.8 L1515.3,632.1 L1513.5,627.2 L1512.0,622.4 L1510.8,617.4 L1510.0,612.5 L1509.5,607.5 L1509.4,602.6 L1509.6,597.7 L1510.2,592.9 L1511.1,588.2 L1512.3,583.7 L1513.9,579.2 L1515.8,574.9 L1518.0,570.9 L1520.5,567.0 L1523.3,563.3 L1526.4,559.9 L1529.7,556.7 L1533.3,553.9 L1537.1,551.3 L1541.1,549.0 L1545.4,547.0 L1549.8,545.3 L1554.3,544.0 L1559.0,543.0 L1563.7,542.4 L1568.6,542.0 L1573.5,542.1 L1578.5,542.5 L1583.4,543.2 L1588.4,544.3 L1593.3,545.7 L1598.1,547.4 L1602.8,549.4 L1607.5,551.8 L1612.0,554.5 L1616.4,557.4 L1620.5,560.6 L1624.5,564.1 L1628.3,567.8 L1631.8,571.7 L1635.1,575.8 L1638.1,580.1 L1640.9,584.6 L1643.3,589.2 L1645.5,593.9 L1647.3,598.8 L1648.8,603.6 L1650.0,608.6 L1650.8,613.5 Z" fill="none" stroke="#111" stroke-width="1.1"/>
<defs><clipPath id="hc4040"><path d="M1727.7,727.5 L1727.8,730.1 L1727.7,732.7 L1727.2,735.1 L1726.3,737.5 L1725.2,739.6 L1723.7,741.6 L1722.0,743.3 L1720.1,744.7 L1717.9,745.8 L1715.6,746.6 L1713.1,747.1 L1710.6,747.3 L1708.0,747.1 L1705.4,746.6 L1702.8,745.7 L1700.4,744.5 L1698.0,743.1 L1695.9,741.3 L1693.9,739.4 L1692.2,737.2 L1690.8,734.9 L1689.6,732.4 L1688.8,729.8 L1688.3,727.3 L1688.1,724.7 L1688.2,722.1 L1688.8,719.7 L1689.6,717.3 L1690.7,715.2 L1692.2,713.2 L1693.9,711.5 L1695.8,710.1 L1698.0,709.0 L1700.3,708.2 L1702.8,707.7 L1705.3,707.5 L1707.9,707.7 L1710.5,708.2 L1713.1,709.1 L1715.5,710.3 L1717.9,711.7 L1720.0,713.5 L1722.0,715.4 L1723.7,717.6 L1725.2,719.9 L1726.3,722.4 L1727.2,725.0 L1727.7,727.5 Z"/></clipPath></defs>
<path d="M1727.7,727.5 L1727.8,730.1 L1727.7,732.7 L1727.2,735.1 L1726.3,737.5 L1725.2,739.6 L1723.7,741.6 L1722.0,743.3 L1720.1,744.7 L1717.9,745.8 L1715.6,746.6 L1713.1,747.1 L1710.6,747.3 L1708.0,747.1 L1705.4,746.6 L1702.8,745.7 L1700.4,744.5 L1698.0,743.1 L1695.9,741.3 L1693.9,739.4 L1692.2,737.2 L1690.8,734.9 L1689.6,732.4 L1688.8,729.8 L1688.3,727.3 L1688.1,724.7 L1688.2,722.1 L1688.8,719.7 L1689.6,717.3 L1690.7,715.2 L1692.2,713.2 L1693.9,711.5 L1695.8,710.1 L1698.0,709.0 L1700.3,708.2 L1702.8,707.7 L1705.3,707.5 L1707.9,707.7 L1710.5,708.2 L1713.1,709.1 L1715.5,710.3 L1717.9,711.7 L1720.0,713.5 L1722.0,715.4 L1723.7,717.6 L1725.2,719.9 L1726.3,722.4 L1727.2,725.0 L1727.7,727.5 Z" fill="url(#gHoleIso2)"/>
<path d="M1747.7,704.5 L1747.8,707.1 L1747.7,709.7 L1747.2,712.1 L1746.3,714.5 L1745.2,716.6 L1743.7,718.6 L1742.0,720.3 L1740.1,721.7 L1737.9,722.8 L1735.6,723.6 L1733.1,724.1 L1730.6,724.3 L1728.0,724.1 L1725.4,723.6 L1722.8,722.7 L1720.4,721.5 L1718.0,720.1 L1715.9,718.3 L1713.9,716.4 L1712.2,714.2 L1710.8,711.9 L1709.6,709.4 L1708.8,706.8 L1708.3,704.3 L1708.1,701.7 L1708.2,699.1 L1708.8,696.7 L1709.6,694.3 L1710.7,692.2 L1712.2,690.2 L1713.9,688.5 L1715.8,687.1 L1718.0,686.0 L1720.3,685.2 L1722.8,684.7 L1725.3,684.5 L1727.9,684.7 L1730.5,685.2 L1733.1,686.1 L1735.5,687.3 L1737.9,688.7 L1740.0,690.5 L1742.0,692.4 L1743.7,694.6 L1745.2,696.9 L1746.3,699.4 L1747.2,702.0 L1747.7,704.5 Z" fill="#fff" stroke="#111" stroke-width="0.9" clip-path="url(#hc4040)"/>
<path d="M1727.7,727.5 L1727.8,730.1 L1727.7,732.7 L1727.2,735.1 L1726.3,737.5 L1725.2,739.6 L1723.7,741.6 L1722.0,743.3 L1720.1,744.7 L1717.9,745.8 L1715.6,746.6 L1713.1,747.1 L1710.6,747.3 L1708.0,747.1 L1705.4,746.6 L1702.8,745.7 L1700.4,744.5 L1698.0,743.1 L1695.9,741.3 L1693.9,739.4 L1692.2,737.2 L1690.8,734.9 L1689.6,732.4 L1688.8,729.8 L1688.3,727.3 L1688.1,724.7 L1688.2,722.1 L1688.8,719.7 L1689.6,717.3 L1690.7,715.2 L1692.2,713.2 L1693.9,711.5 L1695.8,710.1 L1698.0,709.0 L1700.3,708.2 L1702.8,707.7 L1705.3,707.5 L1707.9,707.7 L1710.5,708.2 L1713.1,709.1 L1715.5,710.3 L1717.9,711.7 L1720.0,713.5 L1722.0,715.4 L1723.7,717.6 L1725.2,719.9 L1726.3,722.4 L1727.2,725.0 L1727.7,727.5 Z" fill="none" stroke="#111" stroke-width="1.1"/>
<defs><clipPath id="hc40m40"><path d="M1697.7,500.4 L1697.9,503.0 L1697.8,505.6 L1697.2,508.0 L1696.4,510.3 L1695.3,512.5 L1693.8,514.4 L1692.1,516.1 L1690.2,517.6 L1688.0,518.7 L1685.7,519.5 L1683.2,520.0 L1680.7,520.2 L1678.1,520.0 L1675.5,519.4 L1672.9,518.6 L1670.5,517.4 L1668.1,516.0 L1666.0,514.2 L1664.0,512.3 L1662.3,510.1 L1660.8,507.7 L1659.7,505.3 L1658.8,502.7 L1658.3,500.1 L1658.2,497.5 L1658.3,495.0 L1658.8,492.5 L1659.7,490.2 L1660.8,488.1 L1662.3,486.1 L1664.0,484.4 L1665.9,483.0 L1668.1,481.9 L1670.4,481.0 L1672.9,480.6 L1675.4,480.4 L1678.0,480.6 L1680.6,481.1 L1683.2,482.0 L1685.6,483.1 L1688.0,484.6 L1690.1,486.3 L1692.1,488.3 L1693.8,490.5 L1695.2,492.8 L1696.4,495.3 L1697.2,497.8 L1697.7,500.4 Z"/></clipPath></defs>
<path d="M1697.7,500.4 L1697.9,503.0 L1697.8,505.6 L1697.2,508.0 L1696.4,510.3 L1695.3,512.5 L1693.8,514.4 L1692.1,516.1 L1690.2,517.6 L1688.0,518.7 L1685.7,519.5 L1683.2,520.0 L1680.7,520.2 L1678.1,520.0 L1675.5,519.4 L1672.9,518.6 L1670.5,517.4 L1668.1,516.0 L1666.0,514.2 L1664.0,512.3 L1662.3,510.1 L1660.8,507.7 L1659.7,505.3 L1658.8,502.7 L1658.3,500.1 L1658.2,497.5 L1658.3,495.0 L1658.8,492.5 L1659.7,490.2 L1660.8,488.1 L1662.3,486.1 L1664.0,484.4 L1665.9,483.0 L1668.1,481.9 L1670.4,481.0 L1672.9,480.6 L1675.4,480.4 L1678.0,480.6 L1680.6,481.1 L1683.2,482.0 L1685.6,483.1 L1688.0,484.6 L1690.1,486.3 L1692.1,488.3 L1693.8,490.5 L1695.2,492.8 L1696.4,495.3 L1697.2,497.8 L1697.7,500.4 Z" fill="url(#gHoleIso2)"/>
<path d="M1717.7,477.4 L1717.9,480.0 L1717.8,482.6 L1717.2,485.0 L1716.4,487.3 L1715.3,489.5 L1713.8,491.4 L1712.1,493.1 L1710.2,494.6 L1708.0,495.7 L1705.7,496.5 L1703.2,497.0 L1700.7,497.2 L1698.1,497.0 L1695.5,496.4 L1692.9,495.6 L1690.5,494.4 L1688.1,493.0 L1686.0,491.2 L1684.0,489.3 L1682.3,487.1 L1680.8,484.7 L1679.7,482.3 L1678.8,479.7 L1678.3,477.1 L1678.2,474.5 L1678.3,472.0 L1678.8,469.5 L1679.7,467.2 L1680.8,465.1 L1682.3,463.1 L1684.0,461.4 L1685.9,460.0 L1688.1,458.9 L1690.4,458.0 L1692.9,457.6 L1695.4,457.4 L1698.0,457.6 L1700.6,458.1 L1703.2,459.0 L1705.6,460.1 L1708.0,461.6 L1710.1,463.3 L1712.1,465.3 L1713.8,467.5 L1715.2,469.8 L1716.4,472.3 L1717.2,474.8 L1717.7,477.4 Z" fill="#fff" stroke="#111" stroke-width="0.9" clip-path="url(#hc40m40)"/>
<path d="M1697.7,500.4 L1697.9,503.0 L1697.8,505.6 L1697.2,508.0 L1696.4,510.3 L1695.3,512.5 L1693.8,514.4 L1692.1,516.1 L1690.2,517.6 L1688.0,518.7 L1685.7,519.5 L1683.2,520.0 L1680.7,520.2 L1678.1,520.0 L1675.5,519.4 L1672.9,518.6 L1670.5,517.4 L1668.1,516.0 L1666.0,514.2 L1664.0,512.3 L1662.3,510.1 L1660.8,507.7 L1659.7,505.3 L1658.8,502.7 L1658.3,500.1 L1658.2,497.5 L1658.3,495.0 L1658.8,492.5 L1659.7,490.2 L1660.8,488.1 L1662.3,486.1 L1664.0,484.4 L1665.9,483.0 L1668.1,481.9 L1670.4,481.0 L1672.9,480.6 L1675.4,480.4 L1678.0,480.6 L1680.6,481.1 L1683.2,482.0 L1685.6,483.1 L1688.0,484.6 L1690.1,486.3 L1692.1,488.3 L1693.8,490.5 L1695.2,492.8 L1696.4,495.3 L1697.2,497.8 L1697.7,500.4 Z" fill="none" stroke="#111" stroke-width="1.1"/>
<defs><clipPath id="hcm4040"><path d="M1502.5,725.9 L1502.6,728.5 L1502.5,731.0 L1502.0,733.5 L1501.1,735.8 L1500.0,737.9 L1498.5,739.9 L1496.8,741.6 L1494.9,743.0 L1492.7,744.1 L1490.4,745.0 L1487.9,745.4 L1485.4,745.6 L1482.8,745.4 L1480.2,744.9 L1477.6,744.0 L1475.2,742.9 L1472.8,741.4 L1470.7,739.7 L1468.7,737.7 L1467.0,735.5 L1465.6,733.2 L1464.4,730.7 L1463.6,728.2 L1463.1,725.6 L1462.9,723.0 L1463.0,720.4 L1463.6,718.0 L1464.4,715.7 L1465.5,713.5 L1467.0,711.6 L1468.7,709.9 L1470.6,708.4 L1472.8,707.3 L1475.1,706.5 L1477.6,706.0 L1480.1,705.8 L1482.7,706.0 L1485.3,706.6 L1487.9,707.4 L1490.3,708.6 L1492.7,710.0 L1494.8,711.8 L1496.8,713.7 L1498.5,715.9 L1500.0,718.3 L1501.1,720.7 L1502.0,723.3 L1502.5,725.9 Z"/></clipPath></defs>
<path d="M1502.5,725.9 L1502.6,728.5 L1502.5,731.0 L1502.0,733.5 L1501.1,735.8 L1500.0,737.9 L1498.5,739.9 L1496.8,741.6 L1494.9,743.0 L1492.7,744.1 L1490.4,745.0 L1487.9,745.4 L1485.4,745.6 L1482.8,745.4 L1480.2,744.9 L1477.6,744.0 L1475.2,742.9 L1472.8,741.4 L1470.7,739.7 L1468.7,737.7 L1467.0,735.5 L1465.6,733.2 L1464.4,730.7 L1463.6,728.2 L1463.1,725.6 L1462.9,723.0 L1463.0,720.4 L1463.6,718.0 L1464.4,715.7 L1465.5,713.5 L1467.0,711.6 L1468.7,709.9 L1470.6,708.4 L1472.8,707.3 L1475.1,706.5 L1477.6,706.0 L1480.1,705.8 L1482.7,706.0 L1485.3,706.6 L1487.9,707.4 L1490.3,708.6 L1492.7,710.0 L1494.8,711.8 L1496.8,713.7 L1498.5,715.9 L1500.0,718.3 L1501.1,720.7 L1502.0,723.3 L1502.5,725.9 Z" fill="url(#gHoleIso2)"/>
<path d="M1522.5,702.9 L1522.6,705.5 L1522.5,708.0 L1522.0,710.5 L1521.1,712.8 L1520.0,714.9 L1518.5,716.9 L1516.8,718.6 L1514.9,720.0 L1512.7,721.1 L1510.4,722.0 L1507.9,722.4 L1505.4,722.6 L1502.8,722.4 L1500.2,721.9 L1497.6,721.0 L1495.2,719.9 L1492.8,718.4 L1490.7,716.7 L1488.7,714.7 L1487.0,712.5 L1485.6,710.2 L1484.4,707.7 L1483.6,705.2 L1483.1,702.6 L1482.9,700.0 L1483.0,697.4 L1483.6,695.0 L1484.4,692.7 L1485.5,690.5 L1487.0,688.6 L1488.7,686.9 L1490.6,685.4 L1492.8,684.3 L1495.1,683.5 L1497.6,683.0 L1500.1,682.8 L1502.7,683.0 L1505.3,683.6 L1507.9,684.4 L1510.3,685.6 L1512.7,687.0 L1514.8,688.8 L1516.8,690.7 L1518.5,692.9 L1520.0,695.3 L1521.1,697.7 L1522.0,700.3 L1522.5,702.9 Z" fill="#fff" stroke="#111" stroke-width="0.9" clip-path="url(#hcm4040)"/>
<path d="M1502.5,725.9 L1502.6,728.5 L1502.5,731.0 L1502.0,733.5 L1501.1,735.8 L1500.0,737.9 L1498.5,739.9 L1496.8,741.6 L1494.9,743.0 L1492.7,744.1 L1490.4,745.0 L1487.9,745.4 L1485.4,745.6 L1482.8,745.4 L1480.2,744.9 L1477.6,744.0 L1475.2,742.9 L1472.8,741.4 L1470.7,739.7 L1468.7,737.7 L1467.0,735.5 L1465.6,733.2 L1464.4,730.7 L1463.6,728.2 L1463.1,725.6 L1462.9,723.0 L1463.0,720.4 L1463.6,718.0 L1464.4,715.7 L1465.5,713.5 L1467.0,711.6 L1468.7,709.9 L1470.6,708.4 L1472.8,707.3 L1475.1,706.5 L1477.6,706.0 L1480.1,705.8 L1482.7,706.0 L1485.3,706.6 L1487.9,707.4 L1490.3,708.6 L1492.7,710.0 L1494.8,711.8 L1496.8,713.7 L1498.5,715.9 L1500.0,718.3 L1501.1,720.7 L1502.0,723.3 L1502.5,725.9 Z" fill="none" stroke="#111" stroke-width="1.1"/>
<defs><clipPath id="hcm40m40"><path d="M1472.5,498.7 L1472.7,501.3 L1472.6,503.9 L1472.0,506.3 L1471.2,508.7 L1470.1,510.8 L1468.6,512.8 L1466.9,514.5 L1465.0,515.9 L1462.8,517.0 L1460.5,517.8 L1458.0,518.3 L1455.5,518.5 L1452.9,518.3 L1450.3,517.8 L1447.7,516.9 L1445.3,515.7 L1442.9,514.3 L1440.8,512.5 L1438.8,510.6 L1437.1,508.4 L1435.6,506.1 L1434.5,503.6 L1433.6,501.0 L1433.1,498.5 L1433.0,495.9 L1433.1,493.3 L1433.6,490.9 L1434.5,488.5 L1435.6,486.4 L1437.1,484.4 L1438.8,482.7 L1440.7,481.3 L1442.9,480.2 L1445.2,479.4 L1447.7,478.9 L1450.2,478.7 L1452.8,478.9 L1455.4,479.4 L1458.0,480.3 L1460.4,481.5 L1462.8,482.9 L1464.9,484.7 L1466.9,486.6 L1468.6,488.8 L1470.0,491.1 L1471.2,493.6 L1472.0,496.2 L1472.5,498.7 Z"/></clipPath></defs>
<path d="M1472.5,498.7 L1472.7,501.3 L1472.6,503.9 L1472.0,506.3 L1471.2,508.7 L1470.1,510.8 L1468.6,512.8 L1466.9,514.5 L1465.0,515.9 L1462.8,517.0 L1460.5,517.8 L1458.0,518.3 L1455.5,518.5 L1452.9,518.3 L1450.3,517.8 L1447.7,516.9 L1445.3,515.7 L1442.9,514.3 L1440.8,512.5 L1438.8,510.6 L1437.1,508.4 L1435.6,506.1 L1434.5,503.6 L1433.6,501.0 L1433.1,498.5 L1433.0,495.9 L1433.1,493.3 L1433.6,490.9 L1434.5,488.5 L1435.6,486.4 L1437.1,484.4 L1438.8,482.7 L1440.7,481.3 L1442.9,480.2 L1445.2,479.4 L1447.7,478.9 L1450.2,478.7 L1452.8,478.9 L1455.4,479.4 L1458.0,480.3 L1460.4,481.5 L1462.8,482.9 L1464.9,484.7 L1466.9,486.6 L1468.6,488.8 L1470.0,491.1 L1471.2,493.6 L1472.0,496.2 L1472.5,498.7 Z" fill="url(#gHoleIso2)"/>
<path d="M1492.5,475.7 L1492.7,478.3 L1492.6,480.9 L1492.0,483.3 L1491.2,485.7 L1490.1,487.8 L1488.6,489.8 L1486.9,491.5 L1485.0,492.9 L1482.8,494.0 L1480.5,494.8 L1478.0,495.3 L1475.5,495.5 L1472.9,495.3 L1470.3,494.8 L1467.7,493.9 L1465.3,492.7 L1462.9,491.3 L1460.8,489.5 L1458.8,487.6 L1457.1,485.4 L1455.6,483.1 L1454.5,480.6 L1453.6,478.0 L1453.1,475.5 L1453.0,472.9 L1453.1,470.3 L1453.6,467.9 L1454.5,465.5 L1455.6,463.4 L1457.1,461.4 L1458.8,459.7 L1460.7,458.3 L1462.9,457.2 L1465.2,456.4 L1467.7,455.9 L1470.2,455.7 L1472.8,455.9 L1475.4,456.4 L1478.0,457.3 L1480.4,458.5 L1482.8,459.9 L1484.9,461.7 L1486.9,463.6 L1488.6,465.8 L1490.0,468.1 L1491.2,470.6 L1492.0,473.2 L1492.5,475.7 Z" fill="#fff" stroke="#111" stroke-width="0.9" clip-path="url(#hcm40m40)"/>
<path d="M1472.5,498.7 L1472.7,501.3 L1472.6,503.9 L1472.0,506.3 L1471.2,508.7 L1470.1,510.8 L1468.6,512.8 L1466.9,514.5 L1465.0,515.9 L1462.8,517.0 L1460.5,517.8 L1458.0,518.3 L1455.5,518.5 L1452.9,518.3 L1450.3,517.8 L1447.7,516.9 L1445.3,515.7 L1442.9,514.3 L1440.8,512.5 L1438.8,510.6 L1437.1,508.4 L1435.6,506.1 L1434.5,503.6 L1433.6,501.0 L1433.1,498.5 L1433.0,495.9 L1433.1,493.3 L1433.6,490.9 L1434.5,488.5 L1435.6,486.4 L1437.1,484.4 L1438.8,482.7 L1440.7,481.3 L1442.9,480.2 L1445.2,479.4 L1447.7,478.9 L1450.2,478.7 L1452.8,478.9 L1455.4,479.4 L1458.0,480.3 L1460.4,481.5 L1462.8,482.9 L1464.9,484.7 L1466.9,486.6 L1468.6,488.8 L1470.0,491.1 L1471.2,493.6 L1472.0,496.2 L1472.5,498.7 Z" fill="none" stroke="#111" stroke-width="1.1"/>
<polygon points="1650.2,609.3 1664.3,609.4 1665.4,617.9 1651.3,617.8" fill="#8e8420" stroke="#8e8420" stroke-width="0.5" stroke-linejoin="round" />
<polygon points="1651.3,617.8 1665.4,617.9 1682.4,598.3 1668.3,598.2" fill="#8e8420" stroke="#111" stroke-width="1.0" stroke-linejoin="round" />
<polygon points="1650.1,609.3 1649.2,605.2 1648.0,601.1 1646.7,597.0 1645.1,593.0 1643.3,589.1 1641.2,585.2 1639.0,581.5 1636.6,577.9 1634.0,574.3 1631.2,570.9 1628.2,567.7 1625.1,564.6 1634.7,555.5 1638.4,559.3 1641.9,563.2 1645.2,567.3 1648.3,571.6 1651.2,576.0 1653.9,580.5 1656.2,585.1 1658.4,589.8 1660.2,594.6 1661.8,599.5 1663.1,604.4 1664.2,609.4" fill="#706400" stroke="#706400" stroke-width="0.5" stroke-linejoin="round" />
<path d="M1650.1,609.3 L1649.2,605.2 L1648.0,601.1 L1646.7,597.0 L1645.1,593.0 L1643.3,589.1 L1641.2,585.2 L1639.0,581.5 L1636.6,577.9 L1634.0,574.3 L1631.2,570.9 L1628.2,567.7 L1625.1,564.6" fill="none" stroke="#111" stroke-width="1.1"/>
<path d="M1634.7,555.5 L1638.4,559.3 L1641.9,563.2 L1645.2,567.3 L1648.3,571.6 L1651.2,576.0 L1653.9,580.5 L1656.2,585.1 L1658.4,589.8 L1660.2,594.6 L1661.8,599.5 L1663.1,604.4 L1664.2,609.4" fill="none" stroke="#111" stroke-width="1.1"/>
<line x1="1650.1" y1="609.3" x2="1664.2" y2="609.4" stroke="#111" stroke-width="1.1"/>
<polygon points="1684.7,609.5 1698.8,609.6 1699.9,618.1 1685.8,618.0" fill="#8e8420" stroke="#8e8420" stroke-width="0.5" stroke-linejoin="round" />
<polygon points="1685.8,618.0 1699.9,618.1 1718.9,596.3 1704.8,596.2" fill="#8e8420" stroke="#111" stroke-width="1.0" stroke-linejoin="round" />
<polygon points="1684.8,609.5 1684.4,606.2 1684.1,602.9 1683.9,599.6 1683.6,596.3 1683.5,593.0 1683.4,589.7 1683.3,586.4 1683.3,583.0 1683.3,579.7 1683.4,576.4 1683.6,573.1 1683.8,569.8 1698.1,569.9 1697.9,573.2 1697.7,576.5 1697.6,579.8 1697.5,583.1 1697.5,586.5 1697.5,589.8 1697.6,593.1 1697.8,596.4 1698.0,599.7 1698.2,603.0 1698.5,606.3 1698.8,609.6" fill="#706400" stroke="#706400" stroke-width="0.5" stroke-linejoin="round" />
<path d="M1684.8,609.5 L1684.4,606.2 L1684.1,602.9 L1683.9,599.6 L1683.6,596.3 L1683.5,593.0 L1683.4,589.7 L1683.3,586.4 L1683.3,583.0 L1683.3,579.7 L1683.4,576.4 L1683.6,573.1 L1683.8,569.8" fill="none" stroke="#111" stroke-width="1.1"/>
<path d="M1698.1,569.9 L1697.9,573.2 L1697.7,576.5 L1697.6,579.8 L1697.5,583.1 L1697.5,586.5 L1697.5,589.8 L1697.6,593.1 L1697.8,596.4 L1698.0,599.7 L1698.2,603.0 L1698.5,606.3 L1698.8,609.6" fill="none" stroke="#111" stroke-width="1.1"/>
<line x1="1684.8" y1="609.5" x2="1698.8" y2="609.6" stroke="#111" stroke-width="1.1"/>
<line x1="500.3" y1="61.3" x2="609.5" y2="61.3" stroke="#2020a4" stroke-width="1.0" />
<polygon points="500.3,61.3 512.8,63.9 512.8,58.7" fill="#2020a4"/>
<polygon points="609.5,61.3 597.0,58.7 597.0,63.9" fill="#2020a4"/>
<line x1="500.3" y1="56.0" x2="500.3" y2="80.0" stroke="#2020a4" stroke-width="1" />
<line x1="609.5" y1="56.0" x2="609.5" y2="116.0" stroke="#2020a4" stroke-width="1" />
<text x="564.2" y="57.4" font-size="16.22" fill="#24249e" text-anchor="middle" font-weight="normal" font-family="Liberation Sans, sans-serif" textLength="17.5" lengthAdjust="spacingAndGlyphs" >36</text>
<text x="686.2" y="75.8" font-size="16.96" fill="#24249e" text-anchor="start" font-weight="normal" font-family="Liberation Sans, sans-serif" textLength="74.2" lengthAdjust="spacingAndGlyphs" >Ø 7 THRU</text>
<text x="653.9" y="95.4" font-size="16.43" fill="#24249e" text-anchor="start" font-weight="normal" font-family="Liberation Sans, sans-serif" textLength="137.2" lengthAdjust="spacingAndGlyphs" >M8x1.0 - 6H THRU</text>
<line x1="647.4" y1="99.4" x2="791.1" y2="99.4" stroke="#2020a4" stroke-width="1.1" />
<line x1="647.4" y1="99.4" x2="614.0" y2="129.0" stroke="#2020a4" stroke-width="1" />
<polygon points="614.5,128.5 625.6,122.2 622.1,118.3" fill="#2020a4"/>
<text x="315.0" y="139.6" font-size="16.64" fill="#24249e" text-anchor="middle" font-weight="normal" font-family="Liberation Sans, sans-serif" textLength="18.4" lengthAdjust="spacingAndGlyphs" >R3</text>
<text x="267.1" y="160.0" font-size="17.17" fill="#24249e" text-anchor="start" font-weight="normal" font-family="Liberation Sans, sans-serif" textLength="95.8" lengthAdjust="spacingAndGlyphs" >All Red Fillet</text>
<line x1="266.3" y1="163.3" x2="369.2" y2="163.3" stroke="#2020a4" stroke-width="1.1" />
<line x1="369.2" y1="163.3" x2="407.1" y2="200.8" stroke="#2020a4" stroke-width="1" />
<polygon points="407.1,200.8 400.0,190.2 396.4,193.9" fill="#2020a4"/>
<text x="503.2" y="293.1" font-size="16.43" fill="#34b450" text-anchor="middle" font-weight="normal" font-family="Liberation Sans, sans-serif" textLength="104" lengthAdjust="spacingAndGlyphs" >SECTION A-A</text>
<text x="503.2" y="308.6" font-size="16.43" fill="#34b450" text-anchor="middle" font-weight="normal" font-family="Liberation Sans, sans-serif" textLength="104" lengthAdjust="spacingAndGlyphs" >SCALE 1 : 1.2</text>
<text x="266.5" y="321.9" font-size="15.37" fill="#24249e" text-anchor="start" font-weight="normal" font-family="Liberation Sans, sans-serif" textLength="58.3" lengthAdjust="spacingAndGlyphs" >4x  Ø 14</text>
<line x1="260.2" y1="326.0" x2="335.2" y2="326.0" stroke="#2020a4" stroke-width="1.1" />
<line x1="335.2" y1="326.0" x2="388.5" y2="437.0" stroke="#2020a4" stroke-width="1" />
<polygon points="369.5,398.0 366.5,385.6 361.8,387.8" fill="#2020a4"/>
<text x="270.6" y="366.7" font-size="15.37" fill="#24249e" text-anchor="start" font-weight="normal" font-family="Liberation Sans, sans-serif" textLength="50" lengthAdjust="spacingAndGlyphs" >4x R12</text>
<line x1="264.4" y1="370.4" x2="331.0" y2="370.4" stroke="#2020a4" stroke-width="1.1" />
<line x1="331.0" y1="370.4" x2="352.9" y2="391.7" stroke="#2020a4" stroke-width="1" />
<polygon points="352.9,391.7 345.8,381.1 342.1,384.8" fill="#2020a4"/>
<text x="440.4" y="347.5" font-size="15.37" fill="#24249e" text-anchor="start" font-weight="normal" font-family="Liberation Sans, sans-serif" textLength="50" lengthAdjust="spacingAndGlyphs" >4x R75</text>
<line x1="462.9" y1="352.0" x2="450.8" y2="405.2" stroke="#2020a4" stroke-width="1" />
<polygon points="450.8,405.2 456.1,393.6 451.0,392.4" fill="#2020a4"/>
<text x="545.6" y="337.5" font-size="15.69" fill="#24249e" text-anchor="start" font-weight="normal" font-family="Liberation Sans, sans-serif" textLength="34.4" lengthAdjust="spacingAndGlyphs" >Ø 60</text>
<line x1="532.1" y1="341.7" x2="585.2" y2="341.7" stroke="#2020a4" stroke-width="1.1" />
<line x1="532.1" y1="341.7" x2="516.2" y2="448.0" stroke="#2020a4" stroke-width="1" />
<polygon points="516.2,448.0 520.6,436.0 515.5,435.3" fill="#2020a4"/>
<text x="593.5" y="359.4" font-size="15.69" fill="#24249e" text-anchor="start" font-weight="normal" font-family="Liberation Sans, sans-serif" textLength="34.4" lengthAdjust="spacingAndGlyphs" >Ø 50</text>
<line x1="580.0" y1="362.9" x2="633.1" y2="362.9" stroke="#2020a4" stroke-width="1.1" />
<line x1="580.0" y1="362.9" x2="535.3" y2="468.5" stroke="#2020a4" stroke-width="1" />
<polygon points="535.3,468.5 542.6,458.0 537.8,456.0" fill="#2020a4"/>
<line x1="295.4" y1="418.7" x2="295.4" y2="660.0" stroke="#2020a4" stroke-width="1.0" />
<polygon points="295.4,418.7 292.8,431.2 298.0,431.2" fill="#2020a4"/>
<polygon points="295.4,660.0 298.0,647.5 292.8,647.5" fill="#2020a4"/>
<line x1="292.8" y1="418.7" x2="346.0" y2="418.7" stroke="#2020a4" stroke-width="1" />
<line x1="292.8" y1="660.0" x2="346.0" y2="660.0" stroke="#2020a4" stroke-width="1" />
<text x="293.3" y="535.5" font-size="16.11" fill="#24249e" text-anchor="middle" font-weight="normal" font-family="Liberation Sans, sans-serif" textLength="48" lengthAdjust="spacingAndGlyphs" transform="rotate(-90 293.3 535.5)" >80mm</text>
<line x1="326.5" y1="418.7" x2="326.5" y2="539.5" stroke="#2020a4" stroke-width="1.0" />
<polygon points="326.5,418.7 323.9,431.2 329.1,431.2" fill="#2020a4"/>
<polygon points="326.5,539.5 329.1,527.0 323.9,527.0" fill="#2020a4"/>
<line x1="321.9" y1="539.5" x2="405.0" y2="539.5" stroke="#2020a4" stroke-width="1" />
<text x="324.4" y="469.4" font-size="16.11" fill="#24249e" text-anchor="middle" font-weight="normal" font-family="Liberation Sans, sans-serif" textLength="16.8" lengthAdjust="spacingAndGlyphs" transform="rotate(-90 324.4 469.4)" >40</text>
<line x1="379.3" y1="718.3" x2="500.5" y2="718.3" stroke="#2020a4" stroke-width="1.0" />
<polygon points="379.3,718.3 391.8,720.9 391.8,715.7" fill="#2020a4"/>
<polygon points="500.5,718.3 488.0,715.7 488.0,720.9" fill="#2020a4"/>
<line x1="500.5" y1="700.0" x2="500.5" y2="721.9" stroke="#2020a4" stroke-width="1" />
<line x1="379.3" y1="685.0" x2="379.3" y2="749.3" stroke="#2020a4" stroke-width="1" />
<line x1="621.4" y1="695.5" x2="621.4" y2="749.3" stroke="#2020a4" stroke-width="1" />
<text x="443.1" y="714.6" font-size="16.11" fill="#24249e" text-anchor="middle" font-weight="normal" font-family="Liberation Sans, sans-serif" textLength="16.4" lengthAdjust="spacingAndGlyphs" >40</text>
<line x1="379.3" y1="745.3" x2="621.4" y2="745.3" stroke="#2020a4" stroke-width="1.0" />
<polygon points="379.3,745.3 391.8,747.9 391.8,742.7" fill="#2020a4"/>
<polygon points="621.4,745.3 608.9,742.7 608.9,747.9" fill="#2020a4"/>
<text x="506.9" y="742.0" font-size="16.11" fill="#24249e" text-anchor="middle" font-weight="normal" font-family="Liberation Sans, sans-serif" textLength="49.2" lengthAdjust="spacingAndGlyphs" >80mm</text>
<text x="506.0" y="764.2" font-size="16.43" fill="#34b450" text-anchor="middle" font-weight="normal" font-family="Liberation Sans, sans-serif" textLength="76.6" lengthAdjust="spacingAndGlyphs" >TOP VIEW</text>
<line x1="500.5" y1="539.2" x2="352.0" y2="688.2" stroke="#34b450" stroke-width="1" stroke-dasharray="20,4,5,4" />
<line x1="352.0" y1="688.2" x2="305.5" y2="734.7" stroke="#34b450" stroke-width="1.2" />
<line x1="342.9" y1="762.0" x2="318.0" y2="737.0" stroke="#34b450" stroke-width="1.1" />
<polygon points="311.0,730.1 325.0,750.1 331.0,744.1" fill="#22c040"/>
<text x="325.5" y="778.4" font-size="15.37" fill="#34b450" text-anchor="middle" font-weight="normal" font-family="Liberation Sans, sans-serif" textLength="11" lengthAdjust="spacingAndGlyphs" >A</text>
<line x1="649.5" y1="485.3" x2="751.8" y2="485.3" stroke="#2020a4" stroke-width="1" />
<line x1="649.5" y1="594.3" x2="751.8" y2="594.3" stroke="#2020a4" stroke-width="1" />
<line x1="747.5" y1="485.3" x2="747.5" y2="594.3" stroke="#2020a4" stroke-width="1.0" />
<polygon points="747.5,485.3 744.9,497.8 750.1,497.8" fill="#2020a4"/>
<polygon points="747.5,594.3 750.1,581.8 744.9,581.8" fill="#2020a4"/>
<text x="744.7" y="531.4" font-size="16.11" fill="#24249e" text-anchor="middle" font-weight="normal" font-family="Liberation Sans, sans-serif" textLength="17.3" lengthAdjust="spacingAndGlyphs" transform="rotate(-90 744.7 531.4)" >36</text>
<line x1="649.4" y1="534.9" x2="709.3" y2="534.9" stroke="#4848c8" stroke-width="1.2" />
<line x1="649.4" y1="544.0" x2="709.3" y2="544.0" stroke="#4848c8" stroke-width="1.2" />
<line x1="705.6" y1="511.7" x2="705.6" y2="627.4" stroke="#2020a4" stroke-width="1" />
<polygon points="705.6,534.9 708.2,522.4 703.0,522.4" fill="#2020a4"/>
<polygon points="705.6,544.0 703.0,556.5 708.2,556.5" fill="#2020a4"/>
<line x1="705.6" y1="627.4" x2="799.0" y2="627.4" stroke="#2020a4" stroke-width="1.1" />
<text x="711.6" y="623.5" font-size="15.9" fill="#24249e" text-anchor="start" font-weight="normal" font-family="Liberation Sans, sans-serif" textLength="81.9" lengthAdjust="spacingAndGlyphs" >3 SAWCUT</text>
<line x1="583.0" y1="539.3" x2="645.0" y2="539.3" stroke="#34b450" stroke-width="1" stroke-dasharray="8,4" />
<line x1="647.0" y1="539.3" x2="696.7" y2="539.3" stroke="#34b450" stroke-width="1" />
<line x1="688.5" y1="585.7" x2="688.5" y2="560.0" stroke="#34b450" stroke-width="1.1" />
<polygon points="688.5,539.3 684.5,562.9 692.5,562.9" fill="#22c040"/>
<text x="699.4" y="577.8" font-size="15.37" fill="#34b450" text-anchor="middle" font-weight="normal" font-family="Liberation Sans, sans-serif" textLength="10.2" lengthAdjust="spacingAndGlyphs" >A</text>
<text x="791.8" y="317.5" font-size="16.96" fill="#24249e" text-anchor="middle" font-weight="normal" font-family="Liberation Sans, sans-serif" textLength="19" lengthAdjust="spacingAndGlyphs" >R3</text>
<text x="792.1" y="337.2" font-size="16.96" fill="#24249e" text-anchor="middle" font-weight="normal" font-family="Liberation Sans, sans-serif" textLength="53.9" lengthAdjust="spacingAndGlyphs" >All RED</text>
<text x="791.2" y="357.0" font-size="16.96" fill="#24249e" text-anchor="middle" font-weight="normal" font-family="Liberation Sans, sans-serif" textLength="43" lengthAdjust="spacingAndGlyphs" >FILLET</text>
<line x1="763.3" y1="360.8" x2="826.0" y2="360.8" stroke="#2020a4" stroke-width="1.1" />
<line x1="826.0" y1="360.8" x2="893.6" y2="321.3" stroke="#2020a4" stroke-width="1" />
<polygon points="893.6,321.3 881.5,325.4 884.1,329.9" fill="#2020a4"/>
<text x="1026.5" y="420.0" font-size="16.43" fill="#24249e" text-anchor="start" font-weight="normal" font-family="Liberation Sans, sans-serif" textLength="183.8" lengthAdjust="spacingAndGlyphs" >5 WALL THICKNESS TYP.</text>
<line x1="1020.4" y1="423.8" x2="1215.2" y2="423.8" stroke="#2020a4" stroke-width="1.1" />
<line x1="1020.4" y1="331.5" x2="1020.4" y2="423.8" stroke="#2020a4" stroke-width="1" />
<polygon points="1020.4,353.0 1023.0,340.5 1017.8,340.5" fill="#2020a4"/>
<polygon points="1020.4,368.6 1017.8,381.1 1023.0,381.1" fill="#2020a4"/>
<text x="1032.9" y="456.9" font-size="16.43" fill="#24249e" text-anchor="middle" font-weight="normal" font-family="Liberation Sans, sans-serif" textLength="112.4" lengthAdjust="spacingAndGlyphs" >BOTTOM VIEW</text>
<line x1="500.5" y1="787.5" x2="609.5" y2="787.5" stroke="#2020a4" stroke-width="1.0" />
<polygon points="500.5,787.5 513.0,790.1 513.0,784.9" fill="#2020a4"/>
<polygon points="609.5,787.5 597.0,784.9 597.0,790.1" fill="#2020a4"/>
<line x1="500.5" y1="782.0" x2="500.5" y2="806.0" stroke="#2020a4" stroke-width="1" />
<line x1="609.5" y1="782.0" x2="609.5" y2="835.0" stroke="#2020a4" stroke-width="1" />
<text x="549.7" y="783.0" font-size="16.11" fill="#24249e" text-anchor="middle" font-weight="normal" font-family="Liberation Sans, sans-serif" textLength="18.3" lengthAdjust="spacingAndGlyphs" >36</text>
<line x1="593.0" y1="814.5" x2="755.4" y2="814.5" stroke="#2020a4" stroke-width="1" />
<line x1="660.6" y1="995.9" x2="755.4" y2="995.9" stroke="#2020a4" stroke-width="1" />
<line x1="752.2" y1="814.5" x2="752.2" y2="995.9" stroke="#2020a4" stroke-width="1.0" />
<polygon points="752.2,814.5 749.6,827.0 754.8,827.0" fill="#2020a4"/>
<polygon points="752.2,995.9 754.8,983.4 749.6,983.4" fill="#2020a4"/>
<text x="749.0" y="900.0" font-size="16.11" fill="#24249e" text-anchor="middle" font-weight="normal" font-family="Liberation Sans, sans-serif" textLength="17" lengthAdjust="spacingAndGlyphs" transform="rotate(-90 749.0 900.0)" >60</text>
<line x1="647.0" y1="868.6" x2="724.5" y2="868.6" stroke="#2020a4" stroke-width="1" />
<line x1="720.3" y1="868.6" x2="720.3" y2="995.9" stroke="#2020a4" stroke-width="1.0" />
<polygon points="720.3,868.6 717.7,881.1 722.9,881.1" fill="#2020a4"/>
<polygon points="720.3,995.9 722.9,983.4 717.7,983.4" fill="#2020a4"/>
<text x="718.0" y="927.2" font-size="16.11" fill="#24249e" text-anchor="middle" font-weight="normal" font-family="Liberation Sans, sans-serif" textLength="18" lengthAdjust="spacingAndGlyphs" transform="rotate(-90 718.0 927.2)" >42</text>
<line x1="656.4" y1="935.2" x2="689.4" y2="935.2" stroke="#2020a4" stroke-width="1" />
<line x1="686.2" y1="911.8" x2="686.2" y2="935.2" stroke="#2020a4" stroke-width="1" />
<line x1="686.2" y1="995.9" x2="686.2" y2="1019.3" stroke="#2020a4" stroke-width="1" />
<polygon points="686.2,935.2 688.8,922.7 683.6,922.7" fill="#2020a4"/>
<polygon points="686.2,995.9 683.6,1008.4 688.8,1008.4" fill="#2020a4"/>
<text x="683.5" y="962.3" font-size="16.11" fill="#24249e" text-anchor="middle" font-weight="normal" font-family="Liberation Sans, sans-serif" textLength="18" lengthAdjust="spacingAndGlyphs" transform="rotate(-90 683.5 962.3)" >20</text>
<path d="M660.2,853.3 A63,63 0 1 0 660.2,883.7" fill="none" stroke="#3cc050" stroke-width="1"/>
<polygon points="660.2,853.3 659.5,840.0 654.7,841.2" fill="#22c040"/>
<polygon points="660.2,883.7 654.7,895.8 659.5,897.0" fill="#22c040"/>
<text x="662.3" y="872.4" font-size="14.84" fill="#34b450" text-anchor="middle" font-weight="normal" font-family="Liberation Sans, sans-serif" textLength="8" lengthAdjust="spacingAndGlyphs" >B</text>
<path d="M936.7,501 A126,126 0 0 0 940,724" fill="none" stroke="#111" stroke-width="1"/>
<line x1="936.7" y1="501.0" x2="982.0" y2="501.0" stroke="#111" stroke-width="1" />
<path d="M861.6,492.1 A463.1,463.1 0 0 0 861.6,728.1" fill="none" stroke="#2020a4" stroke-width="1"/>
<polygon points="861.6,492.1 855.9,503.5 860.9,504.8" fill="#2020a4"/>
<polygon points="861.6,728.1 860.9,715.4 855.9,716.7" fill="#2020a4"/>
<line x1="861.6" y1="492.1" x2="969.0" y2="520.4" stroke="#2020a4" stroke-width="1" />
<line x1="861.6" y1="728.1" x2="969.0" y2="698.6" stroke="#2020a4" stroke-width="1" />
<text x="845.0" y="597.7" font-size="16.43" fill="#24249e" text-anchor="middle" font-weight="normal" font-family="Liberation Sans, sans-serif" textLength="25" lengthAdjust="spacingAndGlyphs" transform="rotate(-90 845.0 597.7)" >30°</text>
<text x="1113.3" y="557.8" font-size="16.43" fill="#24249e" text-anchor="start" font-weight="normal" font-family="Liberation Sans, sans-serif" textLength="29.2" lengthAdjust="spacingAndGlyphs" >R12</text>
<line x1="1102.0" y1="561.0" x2="1145.7" y2="561.0" stroke="#2020a4" stroke-width="1.1" />
<line x1="1102.0" y1="561.0" x2="1081.9" y2="574.0" stroke="#2020a4" stroke-width="1" />
<polygon points="1081.9,574.0 1093.8,569.4 1091.0,565.0" fill="#2020a4"/>
<text x="1112.2" y="665.3" font-size="16.96" fill="#24249e" text-anchor="start" font-weight="normal" font-family="Liberation Sans, sans-serif" textLength="148.1" lengthAdjust="spacingAndGlyphs" >Ø 9 THRU SAWCUT</text>
<text x="1142.0" y="685.6" font-size="16.96" fill="#24249e" text-anchor="start" font-weight="normal" font-family="Liberation Sans, sans-serif" textLength="62" lengthAdjust="spacingAndGlyphs" >Ø  15.00</text>
<text x="1232.0" y="685.6" font-size="16.96" fill="#24249e" text-anchor="start" font-weight="normal" font-family="Liberation Sans, sans-serif" textLength="33" lengthAdjust="spacingAndGlyphs" >8.00</text>
<path d="M1106,673.5 L1106,685.5 L1130.5,685.5 L1130.5,673.5" fill="none" stroke="#24249e" stroke-width="1.2"/>
<path d="M1212.5,673.5 L1222.8,673.5 M1217.6,673.5 L1217.6,686 M1213.6,681.5 L1217.6,686 L1221.6,681.5" fill="none" stroke="#24249e" stroke-width="1.2"/>
<line x1="1098.0" y1="689.7" x2="1265.6" y2="689.7" stroke="#2020a4" stroke-width="1.1" />
<line x1="1098.0" y1="689.7" x2="1051.7" y2="643.7" stroke="#2020a4" stroke-width="1" />
<polygon points="1051.7,643.7 1058.7,654.4 1062.4,650.7" fill="#2020a4"/>
<text x="1105.6" y="713.1" font-size="16.43" fill="#24249e" text-anchor="start" font-weight="normal" font-family="Liberation Sans, sans-serif" textLength="286.9" lengthAdjust="spacingAndGlyphs" >(C'BORE FOR ANSI METRIC M8 SHCS)</text>
<text x="1003.1" y="800.9" font-size="16.43" fill="#34b450" text-anchor="middle" font-weight="normal" font-family="Liberation Sans, sans-serif" textLength="64.8" lengthAdjust="spacingAndGlyphs" >DETAIL B</text>
<text x="1002.4" y="817.1" font-size="16.43" fill="#34b450" text-anchor="middle" font-weight="normal" font-family="Liberation Sans, sans-serif" textLength="102" lengthAdjust="spacingAndGlyphs" >SCALE 2 : 1.2</text>
<text x="1576.0" y="766.1" font-size="15.37" fill="#24249e" text-anchor="start" font-weight="normal" font-family="Liberation Sans, sans-serif" textLength="19.4" lengthAdjust="spacingAndGlyphs" >R3</text>
<text x="1576.0" y="782.0" font-size="15.37" fill="#24249e" text-anchor="start" font-weight="normal" font-family="Liberation Sans, sans-serif" textLength="63.4" lengthAdjust="spacingAndGlyphs" >ALL RED</text>
<text x="1576.0" y="797.8" font-size="15.37" fill="#24249e" text-anchor="start" font-weight="normal" font-family="Liberation Sans, sans-serif" textLength="42.2" lengthAdjust="spacingAndGlyphs" >FILLET</text>
<line x1="1572.5" y1="802.4" x2="1639.4" y2="802.4" stroke="#2020a4" stroke-width="1.1" />
<line x1="1572.5" y1="802.4" x2="1532.0" y2="722.2" stroke="#2020a4" stroke-width="1" />
<polygon points="1532.0,722.2 1535.3,734.5 1540.0,732.2" fill="#2020a4"/>
</svg></body></html>
